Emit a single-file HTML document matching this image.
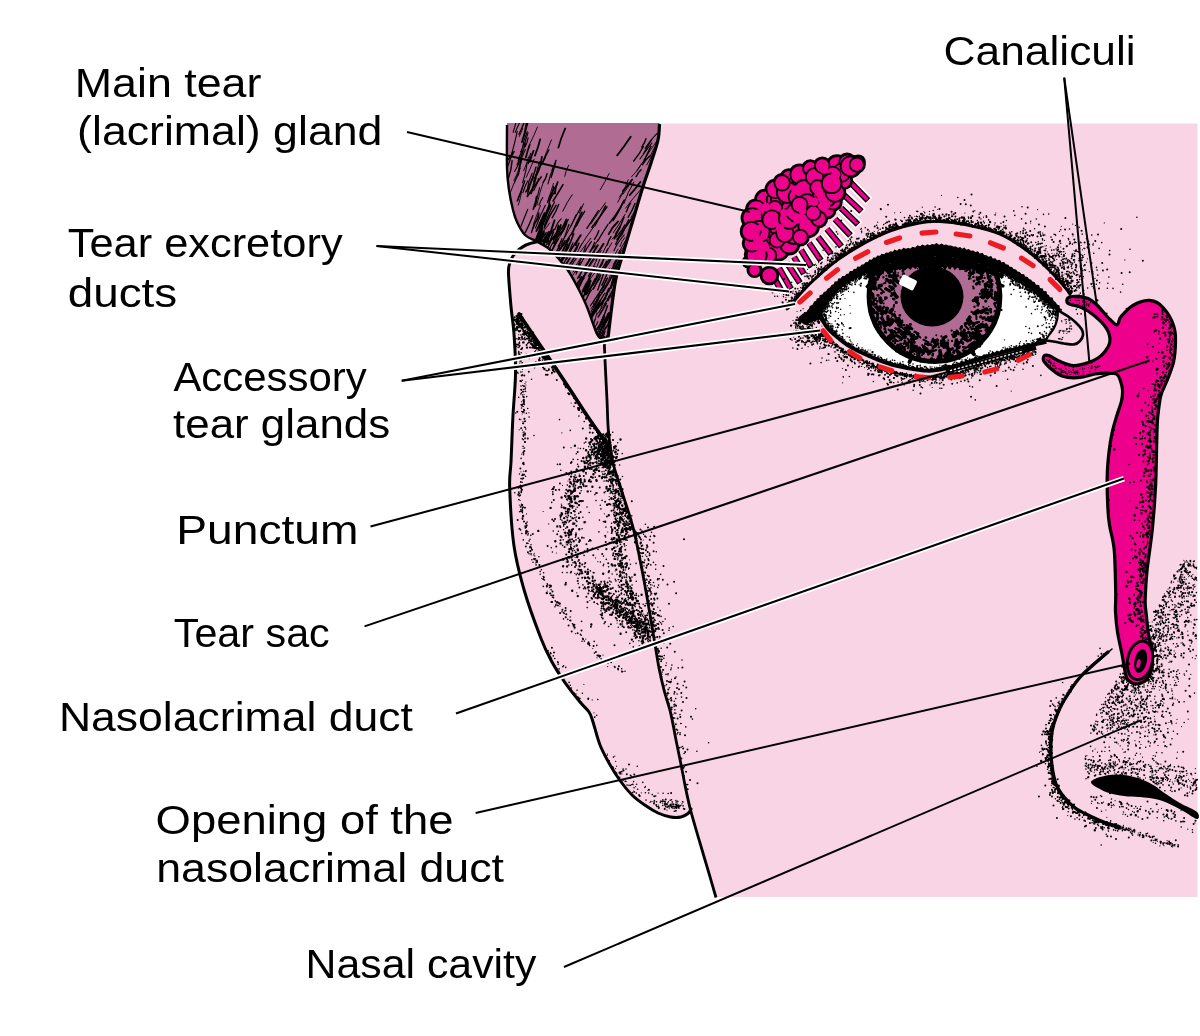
<!DOCTYPE html>
<html><head><meta charset="utf-8"><title>Tear system</title>
<style>html,body{margin:0;padding:0;background:#fff}svg{display:block}</style></head>
<body><svg width="1200" height="1036" viewBox="0 0 1200 1036">
<rect width="1200" height="1036" fill="#fff"/>
<defs><filter id="soft" x="0" y="0" width="1200" height="1036" filterUnits="userSpaceOnUse"><feGaussianBlur stdDeviation="0.45"/></filter></defs>
<g filter="url(#soft)">
<clipPath id="pk"><path d="M507 123.5L1197.5 123.5L1197.5 897L716 897L716 897.5L708 870L700 843L690.7 810.7L691 809L689.9 811L688 813.5L685 815.5L681 817L676.2 817.5L670.6 817L666.6 816.1L662.3 814.7L658 813L653.9 810.9L649.7 808.4L645.5 805.6L642.2 803.3L638.7 800.7L635.3 798L632 795L628.9 791.7L625.8 788.2L622.9 784.4L620 780.5L617.7 777.2L615.4 773.7L613.2 770.2L611.1 766.6L609 763L607 759.5L605.2 756.1L603.4 752.6L601.6 748.9L600 745L598.7 741.3L597.4 737.2L596.2 733L595 728.9L594 725.1L593 722L591.1 716.2L589 712L586.6 709L583.6 706L580 702L577.8 699.3L575.4 696.3L572.8 693L570.1 689.5L567.5 686L565 682.6L562.7 679.3L560.4 675.9L558.2 672.6L556.1 669.1L554 665.6L552 662L550.1 658.5L548.4 655.2L546.7 651.9L545 648.1L543.1 643.8L541 638.5L539.8 635.4L538.5 632.1L537.2 628.5L535.8 624.7L534.3 620.7L532.8 616.7L531.4 612.5L529.9 608.3L528.5 604.1L527.2 600L525.9 595.9L524.7 592L523.5 587.8L522.3 583.8L521.2 579.7L520.1 575.7L519.1 571.7L518.1 567.7L517.2 563.6L516.3 559.4L515.5 555.1L514.7 550.6L514 546L513.5 542.2L513 538.1L512.6 533.8L512.1 529.4L511.8 524.9L511.4 520.3L511.1 515.8L510.8 511.2L510.6 506.8L510.3 502.6L510.1 498.5L510 494.7L509.8 491.2L509.7 488L509.6 482.1L509.7 477.7L510 474.3L510.3 471L510.7 467.2L511 462L511.2 458.5L511.3 454.7L511.5 450.5L511.7 446.2L511.8 441.7L512 437.1L512.2 432.5L512.4 428L512.6 423.5L512.8 419.1L513 415L513.2 410.7L513.5 406.4L513.8 402.2L514.2 398.1L514.5 394.1L514.8 390L515 386L515.2 382L515.4 378L515.5 374L515.5 369.9L515.5 365.7L515.4 361.5L515.3 357.3L515.1 353.2L514.9 349.1L514.7 345L514.5 341.2L514.2 337.5L514 334L513.6 328.8L513.1 324.1L512.6 319.8L512 315.6L511.5 311.2L511 306.5L510.6 302.5L510.3 298.2L509.9 293.7L509.5 289.2L509.2 284.8L508.9 280.7L508.6 277L508.5 274L508.6 267.5L509.5 264L510.9 259.8L513 256L515.8 252.5L519 249.5L522.2 247L526 245L530.7 243.3L536 242L540.3 241.3L544.8 240.8L548 240.5L525 235L517 222L513 210L509 190L507 168Z"/></clipPath><path d="M507 123.5L1197.5 123.5L1197.5 897L716 897L716 897.5L708 870L700 843L690.7 810.7L691 809L689.9 811L688 813.5L685 815.5L681 817L676.2 817.5L670.6 817L666.6 816.1L662.3 814.7L658 813L653.9 810.9L649.7 808.4L645.5 805.6L642.2 803.3L638.7 800.7L635.3 798L632 795L628.9 791.7L625.8 788.2L622.9 784.4L620 780.5L617.7 777.2L615.4 773.7L613.2 770.2L611.1 766.6L609 763L607 759.5L605.2 756.1L603.4 752.6L601.6 748.9L600 745L598.7 741.3L597.4 737.2L596.2 733L595 728.9L594 725.1L593 722L591.1 716.2L589 712L586.6 709L583.6 706L580 702L577.8 699.3L575.4 696.3L572.8 693L570.1 689.5L567.5 686L565 682.6L562.7 679.3L560.4 675.9L558.2 672.6L556.1 669.1L554 665.6L552 662L550.1 658.5L548.4 655.2L546.7 651.9L545 648.1L543.1 643.8L541 638.5L539.8 635.4L538.5 632.1L537.2 628.5L535.8 624.7L534.3 620.7L532.8 616.7L531.4 612.5L529.9 608.3L528.5 604.1L527.2 600L525.9 595.9L524.7 592L523.5 587.8L522.3 583.8L521.2 579.7L520.1 575.7L519.1 571.7L518.1 567.7L517.2 563.6L516.3 559.4L515.5 555.1L514.7 550.6L514 546L513.5 542.2L513 538.1L512.6 533.8L512.1 529.4L511.8 524.9L511.4 520.3L511.1 515.8L510.8 511.2L510.6 506.8L510.3 502.6L510.1 498.5L510 494.7L509.8 491.2L509.7 488L509.6 482.1L509.7 477.7L510 474.3L510.3 471L510.7 467.2L511 462L511.2 458.5L511.3 454.7L511.5 450.5L511.7 446.2L511.8 441.7L512 437.1L512.2 432.5L512.4 428L512.6 423.5L512.8 419.1L513 415L513.2 410.7L513.5 406.4L513.8 402.2L514.2 398.1L514.5 394.1L514.8 390L515 386L515.2 382L515.4 378L515.5 374L515.5 369.9L515.5 365.7L515.4 361.5L515.3 357.3L515.1 353.2L514.9 349.1L514.7 345L514.5 341.2L514.2 337.5L514 334L513.6 328.8L513.1 324.1L512.6 319.8L512 315.6L511.5 311.2L511 306.5L510.6 302.5L510.3 298.2L509.9 293.7L509.5 289.2L509.2 284.8L508.9 280.7L508.6 277L508.5 274L508.6 267.5L509.5 264L510.9 259.8L513 256L515.8 252.5L519 249.5L522.2 247L526 245L530.7 243.3L536 242L540.3 241.3L544.8 240.8L548 240.5L525 235L517 222L513 210L509 190L507 168Z" fill="#f9d4e4"/>
<clipPath id="hc"><path d="M507 123L659.5 123L658 140L651 163L643 186.5L633 220L624.4 249L616.3 277L612 305L608 338L603 339L597 334L587 307L578 288L569 272L558 258L548 248L536 241L525 235L517 222L513 210L509 190L507 168Z"/></clipPath><path d="M507 123L659.5 123L658 140L651 163L643 186.5L633 220L624.4 249L616.3 277L612 305L608 338L603 339L597 334L587 307L578 288L569 272L558 258L548 248L536 241L525 235L517 222L513 210L509 190L507 168Z" fill="#b06c92"/><g clip-path="url(#hc)"><path d="M523.6 170.7Q527.3 163 528.5 157M530 143.5Q534.7 134.2 537.4 127.1M542 163.7Q546.9 150.7 551.4 139.9M509.8 194Q512.6 185.2 518.1 175.2M547.3 202.5Q550.3 194.1 553.5 183.4M519.2 136.6Q521.2 132.6 522.7 128.3M533.4 224.6Q536.1 216.3 540.5 205.4M526.2 177.4Q530.7 167.7 534 159.4M518.3 205.1Q520.9 197.1 521.6 191.3M513.9 180.7Q518.3 173 520.9 162.6M517.7 200.8Q520.6 192.6 523.8 183.7M514.2 183.1Q516.9 175.6 520.4 168M550.5 242.1Q551.5 237.1 552.7 233.1M564.7 176.3Q565.4 171.7 568.6 165.3M533 229Q536.8 220.6 539 212.4M565.1 236.9Q571.8 225.2 576 214.7M536.9 205.1Q539.3 193.2 543.1 182.7M534.3 184.3Q535.8 172.7 539.5 161.6M568.2 284Q571.5 276.1 577.6 268.1M591 316.6Q594.1 309 599 298.5M577.4 300.1Q584.9 290.8 589.6 281.5M570.7 263.5Q577.6 252.6 581.8 243.8M595.1 337.1Q600.3 327.5 603.8 319.1M597.6 297.7Q601.1 290.5 605.1 285.3M558.4 248.2Q559.7 242.5 563.6 238.9M577.8 255.4Q584 246.7 590.8 238.3M587 318.7Q592.3 312.6 595.7 306.6M539.1 239.4Q543 231.2 549.6 222.9M590.9 308.9Q594.1 305.8 594.3 301.2M583.9 276.5Q588.9 267.2 595.4 257.7M606.6 339.9Q607.1 335.6 610.5 332.1M598.9 337.6Q602.5 331.9 605.4 323.9M611.3 333.6Q615 330.3 615.6 325.7M561.2 234.3Q562.9 229.6 566.9 223.1M564.6 273.5Q571.2 263.4 576.6 254.1M577.6 287Q579.6 282.5 584.5 278.1M592.3 248.3Q595.2 245.3 598.2 239.4M553 248.2Q558.5 239.1 564.4 229.1M576 274.5Q579.4 266 583.6 258.5M612.4 258.8Q614.5 255.1 618 249.2M575.2 271.6Q581.3 263.2 584.9 256.3M612 301Q614.2 294.9 617 288.7M573 269.1Q578.3 262.8 582.2 255.8M588.1 295.3Q594.8 285.7 600.5 277.9M596.6 314.9Q603.5 306.9 609.3 296.6M584.9 288.5Q588.2 280.9 591.1 274.8M586.9 285.5Q589.7 278.8 594.5 273M534.3 242.7Q537.9 232.9 541.5 223.1M623.1 194.1Q627.8 187.2 630.8 183.1M594.1 321.8Q596 317.1 596.9 312.7M596.2 340.2Q597.8 336.7 600.1 331.2M602.6 257.5Q608 249.9 611.8 242.8M619.9 246.6Q621.5 241 624.8 237.6M595.8 260.4Q598.1 256.1 601.2 250.4M625.7 208.1Q632.9 198.3 640.7 189.5M608.9 292.1Q610.8 285.5 613.8 276.1M617.3 257.8Q621.7 248.9 627.4 242.2M615.8 266.5Q620.6 258 623.7 249.7M613.6 263.9Q616.2 259.8 620.7 254.5M603 301.3Q605.8 295.4 609.5 289.3M646.7 165Q652.1 154.6 658.9 143.7M617.7 202.3Q624.2 192.3 628.2 179.7M649.7 157.3Q652.5 150.7 657.5 142.5M619.3 197.2Q624.6 189.2 630.1 182M612.2 239.2Q615.3 236.1 618.5 230.6M636.9 170.5Q639.6 165.6 644.2 161M631.6 176.8Q638.5 170 643 161.9M600.3 189.7Q604.3 183 609.1 173.6M612.3 292.2Q614.7 284.1 616.8 275.9M602.9 291.3Q609.3 279.5 613.1 268.4M643.9 160Q650.1 150.4 657.2 140.5M588.6 343.7Q590.6 331.8 595.4 319.1M631.1 217.4Q636.3 208.3 640.8 200.7" stroke="#000" stroke-width="0.9" fill="none" stroke-linecap="round"/><path d="M548 183.9Q549.7 175.5 553.9 166.7M547.2 240.9Q548.3 235.2 551.8 230.7M525.6 192.1Q530.3 183.4 533.4 176.7M548.3 243.9Q550.8 239.1 553.8 231.9M533.6 190.6Q537 185.7 538.4 178.5M528.4 163.6Q528.5 158.9 530.7 153.2M515.2 132.4Q517.7 126.1 520.7 120.5M519.5 230.1Q523.7 219.2 527.8 209.2M547.1 248.8Q549.4 245 551.9 238.3M522.5 182.8Q526.3 171.1 527.2 162.2M513.1 132.3Q514.3 128.7 515.9 122.8M522 149.8Q523.5 140.6 527.1 131.6M511.2 155.9Q515 142.3 517.3 131.2M514.6 171.5Q521.4 159.3 525.4 149.4M522.8 192.8Q525.1 185.5 527.9 180.8M549.4 196.1Q552.7 192.8 553.5 186.6M551.8 170.4Q553.5 165.9 555.1 162.9M507.8 166.3Q510.4 157.3 514.3 151.4M534 179.3Q539.1 167.2 545 158.1M525.2 146.8Q527.2 142.9 528.2 137.7M534.8 242.3Q539.2 230.8 544.8 218.6M520.6 152Q525.5 143.1 528 132.8M547.7 202.2Q551.2 191.8 557.2 184.2M539 205.2Q540.8 200 542.8 197.7M526.9 191.7Q528.2 181.4 532.1 173.3M518.1 161.3Q518.9 156.2 522.2 151.1M517 164.7Q522.4 155 525.5 143.8M535.4 228.1Q540 215.8 545.3 205.2M535.4 206.7Q537.4 196.3 539.6 187.6M584.9 346.5Q588.6 334.8 592.7 324.3M590.9 311.8Q596.7 303.5 600.2 294.5M587 328.6Q589.6 321.4 591.5 314.7M599.5 312.1Q604.4 299.6 608.6 288.2M643.4 153.7Q647.5 146.6 653 137.8M613.9 250.7Q618.2 241.5 624.1 235M613.1 265.9Q617.8 256.9 619.6 250.6M599.7 342.4Q603.8 336.5 605.2 331M597.7 332.4Q600.9 325.4 604.5 316.7M589.3 338.6Q593.9 329.3 597.9 321.7M598.8 268.7Q604.3 258.1 607.6 248.9M645.1 148.3Q649.9 140 657.1 133.3M615.5 268.9Q619.2 259.3 620.7 251.9M639.9 159Q644.8 152.4 651.9 143M603.8 269.6Q606.1 263.6 610.6 257.1M612.6 276.9Q616.9 268.8 621.5 260.6" stroke="#000" stroke-width="1.1" fill="none" stroke-linecap="round"/><path d="M534.9 155.6Q538.3 147.4 540.1 139.5M533.3 209Q536.1 202.2 536.7 196.3M543.5 246.4Q544.8 239.6 548.4 232.1M538.4 244.1Q540 238.1 543.7 233.6M518.2 174.7Q519.4 165.6 521.7 158.7M521.9 142Q525.3 133.4 526.6 122.6M543 220Q547.2 210.8 549.7 204M531.1 193.4Q533.5 184.9 535.8 177.9M554.9 193.4Q555.2 186.7 557.7 182.1M554.7 236.9Q558 230.9 558.3 225.5M529.6 161.9Q531.6 155.5 533.5 150.9M536.3 175.4Q540.6 167.6 541.9 156.8M563.5 229.6Q566.2 226 566.7 221.2M536.4 231.1Q540.4 221.8 544.5 213.1M525.9 157.4Q527.7 150 529.7 144.8M553.2 239.4Q558.5 231.9 560.8 225M571.8 234.4Q576.5 222.4 581.8 212.4M534.8 248.8Q538.2 238.4 542.5 229.2M535.6 221.8Q538.4 219.1 538.7 213.8M541.3 229Q543.6 222.6 546.3 215.9M539.3 227.7Q546.3 215.9 550.4 205.6M558.4 147.6Q560.6 138.9 565.2 128.5M608.7 234.2Q612.6 226.5 618.1 221.5M584.7 332.3Q587.8 322.4 592.1 315.5M629.7 195.2Q635.4 189 640.4 182M600.7 322.9Q602.7 320.5 604 315.3M605.9 321.9Q607.4 318.7 609 312.9M594.7 255.9Q599.5 251.1 603.6 243.8M611 288.1Q613.5 276.1 616.9 266.6M614.4 238.6Q616.7 231.9 619.9 227.5M622.9 191Q627.5 186.3 632.2 179.6M614.4 270.1Q615.4 266.3 618 262.2M617.2 155.4Q624 146.7 630.7 136.7M585.2 291.4Q589 285.9 590 281.1" stroke="#000" stroke-width="1.8" fill="none" stroke-linecap="round"/><path d="M527.5 194.1Q530.3 183.2 534 173.3M551.1 177.5Q553.9 169.3 555.9 160.5M519 134.3Q521.3 129.8 524 122.7M548.9 203.7Q550.5 196 554.2 188.1M525.2 232.6Q529.2 225.1 532.8 215.7M543.2 182.3Q545.9 179.2 547 173.8M542 163.9Q545.1 157 548.8 149.9M528 190Q532.6 180.1 536 167.3M508.4 159.5Q512 154.3 512.7 151.5M594.5 239.3Q598 233.9 598.8 230.7M508.2 178.8Q511.4 170.4 512.1 160.6M531.5 232.6Q532.9 227 534.8 222.4M517.2 201Q521 192.1 524.8 180.8M518.5 197.1Q521.6 192.4 523.3 184.9M533.8 181.5Q537 174.5 538.8 167.6M523.5 137.3Q527.2 125 530.7 113M628.2 217.2Q632.7 209.9 635 203.5M615.7 244.3Q618.5 237.5 622.6 233.4M597.7 290Q602.2 278.4 606.1 265.7M633.7 161Q639.7 153.8 643.4 146.5M580 309.5Q586.7 300.6 590.7 288.8M641.8 147.1Q645.1 141.8 646 138.7M589.1 253.2Q591.6 248.8 595.1 246M636.1 176.6Q638.1 172.2 641.1 169.7M626.3 212Q628.2 206.6 630.5 203.2M643.5 162Q646.7 155.2 650.9 146.4M599.3 268.5Q602.8 263.9 604.5 257.2M642.6 164.7Q644.9 160.3 649.6 155.9M607.3 244.8Q608.7 240 611 236.7M615.9 233.5Q620.9 226.4 624 217.2M613.1 220.7Q619.2 211.6 623.2 201.9M601.9 285.3Q605.5 277.3 609.3 269M622.9 232.4Q625.7 225.4 628.7 219.8" stroke="#000" stroke-width="1.4" fill="none" stroke-linecap="round"/><path d="M598.1 317Q602.9 309.8 606.4 303.4M581.7 302.4Q584.7 292.1 589.6 280.9M535.6 247Q540.2 241.3 546.2 232.8M536.3 240.1Q538.5 234.8 541.9 228.2M599.4 339.1Q602.4 336.4 603.4 332M595.7 311.5Q599.8 304.6 606 298.1M599.8 333Q602.7 322.5 608.3 313.3M573.5 255.3Q574.4 250.4 577 246.3M573.4 254.4Q577.3 247.9 578.9 243.3M600.1 305.7Q604 299.3 607.4 293.8M547.9 244Q553.7 237 560.7 227.2M585.2 294.7Q587.9 289.3 590 284.2M551.4 251.6Q555.1 244.3 558.3 238.8M577 283.6Q579.5 280.4 581.5 276.8M558.8 264.9Q563.4 258.9 566.9 254.3M598.9 327.6Q603.6 318.1 607.5 305.7M543.8 243.2Q548.1 237.6 554.2 229.3M593.4 289Q597.4 280.6 600.6 275.1M606.6 337.2Q612.2 325.8 617.3 316.5M560.4 261.4Q563.6 254 568.8 246.8M561.2 262.3Q563.6 252.6 568 244M609.2 322.8Q612.5 314.5 616.1 308.4M612.7 315.5Q617.1 307.3 622.2 296.5M530 249.4Q537 239.1 543.5 231.2M554.3 256.8Q561.1 249.3 565 240.8M599.7 340.5Q601.8 335.9 604.1 330.9M551.9 262.1Q554.5 254.4 559.6 245.8" stroke="#000" stroke-width="1.5" fill="none" stroke-linecap="round"/><path d="M590.2 316.8Q594.8 309.7 600 300.2M612.9 315.4Q615.2 308.5 619.8 304.1M546.5 244.4Q547.9 240.6 550 235.1M576.1 272.7Q577.6 267.4 579.8 264.2M588.4 276.3Q590.9 270.7 595.1 266.4M564.1 268.5Q570.6 257 576.3 248M546.6 259.5Q552.8 249.7 556.3 240.6M556.9 255.1Q559.4 252 559.9 247M595.9 311.1Q600.4 303.6 605.4 297.5M598.5 305.5Q600.6 298.7 604.8 293.1M563.6 264.4Q567.7 254.6 572.9 242.9M610.9 297.4Q614.1 292.5 618.8 286.2M560.9 245.7Q565.5 235.8 568.9 224.5M597.5 241.4Q602.2 233.2 608 224.3M606.1 322.6Q609 316.2 613 312.5M596.3 343.3Q598.7 338.1 603.2 330.5M570.3 227Q575.5 216.9 581.2 206.7M577.9 265.4Q583.2 256.1 585.8 245.4M604.3 323.2Q611.6 313.4 618.5 304.7M568.3 273.7Q571.1 264.7 576.1 258.6M558.2 246.3Q560.6 242.8 561.9 238.6M555.1 229.1Q557 222.6 561.2 218.9M604.6 303.8Q607.4 300.9 608.9 296.1M590.4 305.8Q596.2 297.6 602.7 287.1M579.4 277.5Q580.9 272.8 583.8 266.6M565.6 269.5Q570.5 263.4 576.2 254.4M548.6 250.8Q551.2 245 553.6 241.5M593 283.3Q597.4 277.1 598.9 268M608.2 323.1Q611.4 316.9 613.5 311.8" stroke="#000" stroke-width="1.2" fill="none" stroke-linecap="round"/><path d="M582.7 291.1Q585.2 284.6 589.6 278.9M603.2 327.3Q607.2 316.9 613.9 309.3M546.2 242.1Q551.2 232.5 554.5 220.3M553.8 243.2Q557.5 235.6 563.2 230.3M590.2 320.5Q594.7 310.7 601.8 303.4M578.8 287.7Q583.1 278.7 588 267.6M539.7 239.8Q540.6 236.5 544 232M575.7 245.2Q577.3 239.3 580.8 235.2M584.3 291.1Q588 285.9 590.7 281M596.1 330.4Q600.8 324.8 603.5 317.3M604.7 329.3Q610.1 321.3 617.9 312.3M586.1 294.3Q591.9 287.1 595.2 279.2M586.9 320.8Q594 312.3 598.9 302.7M607.9 300.4Q610.5 293.6 613.3 289.7M597.9 336.3Q601.9 328.7 605.1 319.7M559.7 257.3Q564.3 247.3 569.1 238.5M611.4 325.3Q616 316.5 623.3 305.8M542.9 241.5Q545.9 235.6 549.7 231.9M589.4 260Q593.5 251.6 597.7 245.3" stroke="#000" stroke-width="1.9" fill="none" stroke-linecap="round"/><path d="M594.3 304.4Q597.4 298.1 599.9 292.8M592.6 268.1Q596.1 262.1 599.4 253.2M609.5 272.3Q615.7 263.3 620.9 253.5M593.1 307Q598.3 298.4 603.9 290.6M579.5 213.2Q580.8 209.7 583.5 203.8M562.7 211.3Q567.2 201.7 572.2 194.7M618.5 253.7Q621.7 246.2 626.9 238.5M565.6 263.8Q570.3 257.1 575.3 249.7M579.4 248.1Q585.9 237 593.9 226.6M613.3 232.7Q619 224.8 625 214.4M590.9 223.9Q598.7 212.1 605.5 202.7M623.9 203.5Q627.6 192.3 633.9 182.1M595.7 269.5Q599.8 257.8 606.7 245M572.9 272.1Q577.5 265.9 580.7 261.8" stroke="#000" stroke-width="1" fill="none" stroke-linecap="round"/><path d="M601.7 292.9Q608.7 284.2 613.2 272.6M593.2 284.9Q599 274.1 606.9 261.2M592 227.3Q599.3 217.8 606.9 206.9M609.4 223.2Q617.9 213 624.3 200.1M553.1 201Q558.2 193.1 563 184.7M606.2 293.9Q611.9 286.4 615.3 278.4M564.7 254.2Q570.3 243.7 573.7 233.7M566.6 259.3Q570.3 249.7 576.9 240.6M527.3 196.5Q533.5 187.2 541.1 177M544.2 227.9Q548.9 215.8 556.1 205.4M617.1 239.5Q623.9 229.4 632.5 217.2M602.7 287.7Q605.2 282.4 607.3 278.2M582.7 270.6Q588.3 262.8 594.1 252" stroke="#000" stroke-width="1.6" fill="none" stroke-linecap="round"/><path d="M594.9 225.9Q601.3 214.4 605.5 205.9M576.5 226.1Q579.1 219.4 584.7 211.3M586.9 228.4Q592.7 219.5 598.4 210.6M585.2 272.6Q590.6 262.3 596.2 255M601.7 271.2Q608 265.5 611.5 257.9M588.2 280.1Q590.2 274.4 592.8 271.1M555.9 254.4Q565 243.9 572.1 232.8M575.8 287.2Q582 277 590.4 268.3M544.6 225.3Q548.1 214.8 554.5 202M577.6 278.4Q583.2 268.7 591.6 256.8M550.1 199.4Q552.5 194.6 555.5 190.8M583 255.7Q585.8 249.2 591.3 241.7M561 229.5Q563.8 225.1 566.3 219.1M588.7 255.3Q591.3 249.5 594.8 242.3M611.7 272.3Q615.9 262.3 619.5 253.1M553.6 240.2Q560 231 568.2 219.5M552.1 217.8Q556.5 210.9 558.8 204.3M615.8 237.2Q621.6 231.8 624.9 224.9" stroke="#000" stroke-width="1.3" fill="none" stroke-linecap="round"/></g><path d="M507 125C507 132.2 506.7 157.2 507 168C507.3 178.8 508 183 509 190C510 197 511.7 204.7 513 210C514.3 215.3 515 217.8 517 222C519 226.2 521.8 231.8 525 235C528.2 238.2 532.2 238.8 536 241C539.8 243.2 544.3 245.2 548 248C551.7 250.8 554.5 254 558 258C561.5 262 565.7 267 569 272C572.3 277 575 282.2 578 288C581 293.8 583.8 299.3 587 307C590.2 314.7 594.3 328.7 597 334C599.7 339.3 601.2 338.3 603 339C604.8 339.7 607.2 338.2 608 338" stroke="#000" stroke-width="2.4" fill="none" stroke-linejoin="round"/><path d="M659.5 124C659.2 126.7 659.4 133.5 658 140C656.6 146.5 653.5 155.2 651 163C648.5 170.8 646 177 643 186.5C640 196 636.1 209.6 633 220C629.9 230.4 627.2 239.5 624.4 249C621.6 258.5 618.4 267.7 616.3 277C614.2 286.3 613.4 294.8 612 305C610.6 315.2 608.7 332.5 608 338" stroke="#000" stroke-width="3.2" fill="none"/>
<g clip-path="url(#pk)"><path d="M627.1 612.6h0M604.2 457.8h0M593.7 586.3h0M625.7 617.2h0M567.7 561.4h0M638.1 614h0M571.1 534.3h0M570 505.5h0M584.8 463h0M583.7 470.6h0M613.4 606.3h0M571.2 498.7h0M583.5 471.2h0M627.9 587.7h0M557.3 526.4h0M571.3 491.5h0M560.7 536.4h0M567.7 511.8h0M560.5 515.4h0M600.8 454.8h0M538.3 530.9h0M635.4 635.1h0M608.5 599.7h0M588.7 587.1h0M574.8 477.6h0M642.1 611h0M574.2 490.1h0M617.1 606.5h0M580.3 570.1h0M623.6 617.8h0M576.7 545.5h0M568.6 542.5h0M591.2 476.9h0M574.3 523.6h0M615.3 602.4h0M569 509.2h0M574.8 496.2h0M577.2 557h0M642.7 622.7h0M579 505.1h0M561.6 497.5h0M550.6 507.9h0M637 626.5h0M563.1 566.3h0M597.2 465.7h0M654.4 613.8h0M585.3 577.9h0M631.9 639.6h0M597.8 452.3h0M586.4 457.5h0M566.8 542.2h0M579.9 540.6h0M568.7 497.5h0M616.3 610.8h0M634.6 633.2h0M590 540.2h0M569.6 486.6h0M569 530.7h0M592.6 580.9h0M620.3 615.3h0M574.8 562.3h0M572 506h0M577.1 496.3h0M591.3 624.5h0M587.9 573.7h0M570.7 532.2h0M565.8 535.6h0M631 620.7h0M565.2 532.8h0M571.8 501.8h0M583.3 458h0M574.6 499.2h0M569.2 497.1h0M571 548.2h0M577.7 549.5h0M565.4 508.2h0M612.9 612.5h0M598.6 453.9h0M567.1 566.4h0M634.8 618.9h0M649.2 631.1h0M585 466.8h0M602 598.7h0M563.8 507.6h0M569 551.9h0M627.3 622.8h0M568 491.3h0M596.2 457.4h0M573.9 481.1h0M584.7 481.2h0M601.9 615.1h0M568.8 535.3h0M575.7 502.7h0M603.2 573.8h0M588 572.2h0M568.6 540.8h0M588 461.1h0M627.3 602.7h0M636.5 630.9h0M620.5 611.8h0M628.3 622.9h0M592.4 451.7h0M586.2 438.5h0M570.4 482.3h0M564.2 518.1h0M592.7 477.6h0M546.8 593.1h0M572.2 590.7h0M568 509.4h0M648.2 634.6h0M573.7 541.3h0M573.5 484.8h0M577.8 596.1h0M569.3 495.9h0M590.8 481.6h0M615.5 603.8h0M623.3 610.9h0M565.2 521.9h0M571.7 553.7h0M620.2 606.2h0M588 577.4h0M579.5 566.3h0M597.7 454.4h0M657.8 615.1h0M569.4 549.2h0M586.1 450.3h0M595.4 469.5h0M584.5 522.2h0M580.9 482.4h0M567.9 533.1h0M569.2 535.2h0M628.8 627.4h0M581.2 501.1h0M571.1 476.6h0M569.2 557.5h0M575 490.2h0M643.4 632.3h0M562.1 514h0M640.1 637.5h0M589.8 455.9h0M587.7 491.4h0M647.8 632.5h0M636.8 630.4h0M574.9 498.3h0M593.8 596.3h0M592.9 463.2h0M560.6 543.4h0M565.5 584.4h0M589 481h0M563.2 559.5h0M583.1 484.4h0M637.8 627h0M579.1 517.9h0M615.4 476h0M555.3 541.3h0M630.3 604.3h0M581.7 571.7h0M617.6 611.9h0M600.9 592.9h0M610.7 588.7h0M622.1 598.6h0M587 581.2h0M608.6 607.5h0M579.3 529.3h0M553.2 488.8h0M580.7 480.2h0M606.3 610.9h0M585.4 571.7h0M579.7 476h0M616 501.9h0M604.9 477.3h0M604.3 449.5h0M632.9 592.8h0M614.6 558.9h0M627.9 587.8h0M621 551.6h0M632.9 593.2h0M626.4 533.6h0M611.2 458h0M620.3 564.2h0M619.9 540.8h0M625.8 600.8h0M622.7 520.2h0M594.2 449.2h0M607.4 468h0M618 525.8h0M612.6 565.5h0M624.7 536.1h0M616.9 543.2h0M632.5 597.2h0M609.9 464.4h0M617.3 541.5h0M609 489.1h0M618.8 536.8h0M620.1 571.8h0M614.3 471.8h0M605.2 521.7h0M607.8 490.8h0M608.8 515.3h0M615 490.6h0M620.4 512.4h0M620.2 508.8h0M622.6 509.3h0M616 554.3h0M621.2 580.7h0M627.5 586.3h0M630.8 594.2h0M611.6 483.2h0M622.5 572.5h0M615.7 522.3h0M606.8 462.5h0M651.9 604.5h0M619.3 503.8h0M601.8 462.5h0M611.5 453.4h0M638.4 614.7h0M626.3 563.4h0M611.7 564.4h0M615.8 522.1h0M615.6 451.7h0M627.7 604.2h0M631.9 617h0M615.1 497.5h0M625.8 511h0M621.9 563h0M617 513.6h0M615.9 480.1h0M647.2 619.4h0M611.4 472.5h0M621.6 585.1h0M596.6 480.7h0M620.3 548.7h0M638.9 618.1h0M633.2 614.3h0M615.3 503.2h0M626.2 528.2h0M645.5 631.5h0M624.7 600.2h0M616.3 569.6h0M641.6 594.8h0M635.7 598.2h0M609 466.9h0M602.6 476.9h0M622.4 489.2h0M593.4 474.3h0M631.3 590.9h0M618.4 500.8h0M641.7 567h0M603.8 454.2h0M626.4 531.1h0M630.1 593.6h0M623.2 566.7h0M632.6 605h0M615.1 565.5h0M650.5 618.3h0M626.5 556.1h0M625.9 567.3h0M601.5 463.8h0M604.9 461.6h0M643.6 629.6h0M622.8 566.8h0M614.4 538.2h0M626.1 582.6h0M598.4 448.5h0M640.1 620.7h0M621.5 519.2h0M628 590.7h0M603.2 464.7h0M609.4 479.7h0M596.7 469.9h0M612.3 529.8h0M636.9 600.7h0M611.5 491.8h0M625.2 510.3h0M614.6 465.1h0M634.8 574.8h0M592.4 486.8h0M606.4 463.7h0M612.2 549.3h0M625.7 539.6h0M620.6 624.2h0M614.1 547.8h0M602.7 458.4h0M623 512.9h0M623.4 524h0M610.5 455.1h0M623.8 538.8h0M646.4 628.3h0M606.4 549.1h0M616.9 513.8h0M631.3 588.2h0M619.8 483.6h0M624.9 557.5h0M609 473.2h0M625 529h0M645.7 629h0M623.2 558.3h0M613.8 538.8h0M626.7 592.8h0M622.3 505.5h0M606.4 452h0M635.1 634.5h0M597.5 451.2h0M637.6 621.2h0M620.3 517.3h0M619.2 525.6h0M635.7 621h0M614.5 447.8h0M617.5 530.1h0M608.9 465.8h0M634.6 534.2h0M607.1 504.8h0M620.4 574.9h0M602 478h0M635.1 542.3h0M635.4 603.3h0M616.9 539.4h0M626.3 524.5h0M606.7 462.6h0M632.9 598.1h0M606.6 488.4h0M624.6 525.9h0M620.4 486.7h0M621.5 494.1h0M618.2 505.8h0M602.3 452.4h0M593.9 470.8h0M606.5 453.5h0M586.4 457.4h0M606.8 450.7h0M599.6 434.5h0M610.2 460.3h0M594 453.8h0M611 463.3h0M600 450h0M614.2 446.9h0M605.1 439.1h0M610.6 462.3h0M600.3 444.6h0M601.1 459.4h0M596.2 438.8h0M604.3 456.1h0M589.4 442.8h0M608.9 462.3h0M606.1 464h0M600.3 446.1h0M606.5 465.4h0M613.5 457h0M605.5 466h0M595.4 452.2h0M611.1 463h0M620.5 439.5h0M607.7 457.8h0M610.9 454.8h0M616.2 457.9h0M603.2 444.1h0M600.8 454.5h0M611.9 459.8h0M592.3 440.3h0M611.4 462.5h0M607.1 434.7h0M606.1 453.6h0M605.2 466.7h0M604 442.9h0M612.3 459.1h0M590.4 442.1h0M596.5 437.7h0M600.4 439h0M605.7 445.2h0M608.2 457.3h0M606.1 459.8h0M598 436.8h0M605.9 445.3h0M588.9 454.8h0M602 443.1h0M613 456.4h0M601 463.9h0M615.7 446.2h0M595.5 439.3h0M596.6 468.4h0M599 458.1h0M606.1 452.7h0M605.2 450h0M606.6 446.3h0M594.2 453.7h0M606.7 453.3h0M596.4 444.1h0M610.5 445.3h0M609.9 453.9h0M607.3 461.1h0M604.3 455.8h0M604.9 450.6h0M605.6 440.7h0M611.4 451.6h0M645 618.8h0M648 636h0M606.9 586.7h0M643 638.5h0M624.3 614.5h0M635.9 626.1h0M637.1 627.1h0M592.2 590.7h0M615.1 608.1h0M644.9 629.3h0M608.8 603.6h0M607.2 589.9h0M606.1 603.2h0M633.4 622.4h0M598.5 584.9h0M599.9 588.9h0M625.9 619.4h0M599 592.9h0M604.1 598h0M639.7 623.5h0M641.8 641.4h0M619.8 611h0M632.4 616h0M623.4 608.9h0M603.8 591.1h0M598.4 588.3h0M636.8 636.9h0M633.5 615.9h0M619.1 616.7h0M649.8 636.7h0M630.7 619.8h0M635 626.4h0M592.4 591.1h0M598.6 590.3h0M650 640.4h0M597.4 598h0M652 635h0M611.4 614.8h0M620.6 633.7h0M617.4 604.9h0M602.6 593.5h0M604.6 609.5h0M602.8 595.7h0M603.4 587h0M610.7 608.1h0M619.9 613h0M609.2 593.2h0M601.2 602.8h0M615.9 613.6h0M605.3 604h0M642.9 641.2h0M601.3 589.1h0M635.1 626.6h0M593.9 595.1h0M647.3 638.1h0M621.9 611.5h0M635.5 620.9h0M602.4 603.4h0M615.8 607.5h0M631.7 611.9h0M617.3 600.3h0M637.5 628.6h0M608.8 598.5h0M606.3 597.3h0M645.1 635.6h0M631.6 591.1h0M616.4 600.6h0M626.5 615.7h0M615.9 605.9h0M638.5 625.5h0M600.8 590.2h0M611.5 608.1h0M658.8 651.2h0M618.2 491.2h0M617.4 476h0M630.1 528.6h0M608.6 467.3h0M616.8 491.8h0M597.4 437.7h0M609.1 439.4h0M619 493.5h0M628.2 518.6h0M610.3 479.6h0M616 476.4h0M603.2 434.5h0M631.3 527.3h0M620.3 502.3h0M609.6 442.9h0M603.4 455.3h0M606.4 446.5h0M623.9 508.9h0M599.1 470.9h0M617.5 507.2h0M607.6 454.6h0M607.9 433.5h0M611.8 471.5h0M616.7 491.5h0M609.8 471.8h0M613 474.9h0M629.9 527.2h0M599.4 476.1h0M612.3 478.8h0M607 435.2h0M621.5 513.9h0M629.6 524h0M624.3 510.7h0M604.5 440.7h0M611.8 456.4h0M608.5 471.7h0M609 449.9h0M621.7 509.4h0M569.2 394.1h0M578.5 408.9h0M603.5 442.6h0M604.2 450.2h0M522.5 327.4h0M598.2 431h0M523.5 342.4h0M564.2 384h0M527.5 333h0M584.3 412.5h0M535.9 347.9h0M521.8 337.6h0M543.9 358.4h0M522.8 319.9h0M528.3 333.1h0M521.1 317.7h0M534.4 345.8h0M603.4 443.7h0M578.9 409.9h0M525.5 323.4h0M605 449.7h0M562.8 378.7h0M521 317.8h0M591.9 425.8h0M517.8 324.1h0M544.4 369h0M590.1 425.3h0M517.3 327.8h0M606.8 442.3h0M574.9 445.8h0M552.5 367.3h0M575.5 402.9h0M514.5 319.8h0M604 451.5h0M596.6 456.8h0M517.5 321.8h0M519.2 325.5h0M517.9 324h0M543.8 357.4h0M544.4 363.8h0M517.8 318.8h0M542.7 357.2h0M518.5 317.4h0M545.6 358.9h0M522.3 321.2h0M534.4 347.8h0M533.1 347.2h0M535.6 344.3h0M517.1 321.4h0M528 333.1h0M520.2 323.6h0M520.6 319.8h0M545.6 355.3h0M523.2 334.3h0M521.1 320.4h0M529.2 337.6h0M527 347.6h0M544.9 360.6h0M522.2 324.3h0M539.7 352.8h0M539.4 360.6h0M540.4 352.6h0M531.3 333.7h0M532.6 337.4h0M532.7 338.4h0M537.4 344.8h0" stroke="#000" stroke-width="2.4" stroke-linecap="round" fill="none"/><path d="M595 580.4h0M568.4 495.9h0M567.1 559.6h0M608.8 609.7h0M580.6 553.6h0M593.4 589.2h0M631.5 623.2h0M622.4 612.1h0M564.6 546.9h0M595 594.5h0M606.9 608.9h0M577.7 581h0M560 464.2h0M629 622.5h0M555.8 489.9h0M565.9 582.7h0M570.1 506.5h0M638.5 633.7h0M594.3 584.9h0M608.1 588.9h0M573.8 511.1h0M589 582.7h0M597.8 588.8h0M582.9 501h0M637 623.9h0M590.2 449.7h0M620.9 612.5h0M652.7 622.6h0M608.2 563.2h0M586.5 460.2h0M590.2 463.1h0M574.3 497h0M575.9 481.5h0M578.4 466.4h0M634.3 623.1h0M560.4 527h0M556.3 546.6h0M625.6 604.8h0M573 523.9h0M532.8 533.9h0M569.9 539.6h0M647.3 624h0M580.6 512.1h0M593 583.7h0M587.1 574.1h0M581.9 537.8h0M572.1 539.3h0M585 467.8h0M592.7 577.4h0M565.7 513.5h0M578.4 569.6h0M560.5 540.2h0M586.4 544.3h0M590.3 465.2h0M564.9 495.7h0M581.5 461.1h0M651.6 623.1h0M651.5 623.8h0M572.3 518h0M575.7 552.2h0M629 619.5h0M620.2 602.5h0M580.8 486.7h0M584.6 566.7h0M576.6 469.6h0M600.7 594.5h0M563.8 447.4h0M599 463.5h0M571.1 493.4h0M557.2 534.3h0M601.5 608.4h0M577.2 481.9h0M561.6 507.2h0M603 591.5h0M617.6 601.4h0M578.4 538.2h0M566.3 489.8h0M629.1 598h0M579.2 486.8h0M605.6 591.7h0M592.6 576.4h0M647.1 615.3h0M571.4 548.3h0M602.2 613.2h0M568.6 512.1h0M575 567.1h0M624.7 614.4h0M634.8 616.2h0M591.6 446.8h0M554 487h0M575.2 502.7h0M597.9 450.1h0M592.1 598.7h0M566.3 554.6h0M572 492.9h0M622.5 626.3h0M601.8 606.2h0M567.8 513.6h0M573.1 529.1h0M606.3 599.9h0M593 449.5h0M568.1 508.9h0M604 603.2h0M640.1 607.7h0M602.2 554h0M570.9 462.9h0M583.8 476.1h0M580.8 478.9h0M576.1 534.4h0M599 597.4h0M582.2 564.5h0M605.1 458.5h0M610.4 599.9h0M603.4 605h0M587.5 548.9h0M569.4 499h0M616.7 610.3h0M629 620.4h0M602.5 460h0M568.3 490.7h0M639.9 633.8h0M576.9 469.7h0M571.3 471.5h0M566.2 522.6h0M639.4 646.3h0M555 519h0M576.3 525.7h0M577.7 452h0M577.1 503.6h0M559.9 483.5h0M571.9 529.8h0M612.8 588h0M561.6 537.2h0M597.2 591.5h0M581.1 573.5h0M552.9 494.3h0M553.8 500.1h0M574.4 546.6h0M578.6 480.7h0M568.2 557.3h0M575.8 563.2h0M588.4 464.4h0M616.5 602.6h0M619.4 595.3h0M579.8 563.6h0M571.1 483.3h0M577.7 479.7h0M567.4 520.2h0M569.7 479.5h0M588.3 451.9h0M632.6 622.7h0M591.9 587.4h0M570.7 572.4h0M645.2 619.6h0M633.3 613.1h0M589.6 479.8h0M620.8 565.8h0M593.3 555.2h0M631.7 618.5h0M559.2 489.8h0M612.1 599.7h0M587.7 587.4h0M642.7 631.7h0M623.2 611.1h0M580.1 570.6h0M648.6 621.1h0M576.1 565.2h0M579.1 574.5h0M590.8 458.7h0M588.7 578h0M634 623.1h0M570.4 483h0M608.6 572.2h0M562.8 522.5h0M585.3 562.9h0M589.4 578.6h0M609.6 603.2h0M571.4 473.7h0M605.3 597h0M634.2 625.9h0M627 620.5h0M578.1 488h0M566.9 499.3h0M592.2 450.7h0M607.9 602.7h0M574.4 488.3h0M616.5 608.2h0M571.4 557.7h0M579.4 587.4h0M591.8 468.9h0M552.3 519.5h0M579.1 501.6h0M570.7 544.8h0M574.2 483.3h0M574.8 511.5h0M567.3 517.6h0M585.9 472.7h0M571.6 531.6h0M585.8 486.3h0M628.7 604.7h0M597.9 596h0M588.7 582.6h0M600.9 456.6h0M573 518.6h0M584.6 461.8h0M603.2 588h0M578.2 496.4h0M583.8 485.9h0M587.9 467.3h0M618.7 609.4h0M569.6 479.5h0M643.2 635.8h0M553.8 521h0M586.4 596.7h0M598.1 457.3h0M561.6 513.1h0M569.2 490.3h0M584.7 587.3h0M573.1 491.7h0M604.4 581.5h0M591.5 454.8h0M578.9 560.1h0M605.1 622h0M601.8 592.1h0M571.6 461.9h0M582.2 470.4h0M572.4 507.7h0M585.4 588.5h0M589 590.7h0M622.6 603.1h0M587 462.8h0M579.9 493.2h0M632.3 617.7h0M584.6 479.6h0M547.6 545.9h0M610.9 624.3h0M609.1 571.1h0M571.3 500.3h0M572.2 560.1h0M588.3 593.6h0M618 514.1h0M579.9 501.1h0M582.2 577.7h0M582 537.4h0M567.2 526.9h0M587.9 569.6h0M571.1 512.9h0M578 550.4h0M575 490.8h0M582.7 470.4h0M566.3 472.9h0M569.4 530.3h0M579.1 542h0M588.2 584h0M590.3 583.3h0M572.5 550.7h0M622.5 621.3h0M609.4 609.7h0M612.5 600.5h0M605.6 459.5h0M638.1 601h0M645.7 628.1h0M625.7 530.8h0M617.4 499.7h0M620.8 548.2h0M620.3 479.4h0M633.3 598h0M615.5 518.9h0M630.8 580.2h0M615.9 475.4h0M655.3 631h0M596.1 493h0M615.4 551h0M620.5 560.8h0M625.3 549.7h0M642.6 637.4h0M637.9 625.2h0M645.7 617.6h0M626.8 583.1h0M630.8 580.9h0M619.9 542.3h0M623.3 584.6h0M611.7 533.1h0M652.3 628.3h0M626.4 612h0M595.1 451.8h0M616.6 504.4h0M622.4 531h0M623.6 539.4h0M605.4 463.3h0M645.4 627.5h0M605.5 448.5h0M605.9 463.6h0M646.1 623.5h0M595.2 472.5h0M614.8 541.9h0M631.8 501.2h0M632.8 593.5h0M613.4 499h0M645.3 626.3h0M618.1 553.6h0M634.2 605.2h0M632.2 608.5h0M600.4 447.8h0M602 447.8h0M630.2 591.2h0M626.9 594.9h0M629.4 616.6h0M622.9 530h0M620.9 562.9h0M606.8 486.7h0M627 565.5h0M658.4 623.9h0M624.1 572.7h0M626 592h0M619.1 507.7h0M613.5 553.2h0M614.9 469.8h0M606.9 516.4h0M605.1 501.8h0M583.6 461.5h0M613.5 503.7h0M615.8 492.6h0M609.6 469.1h0M630.3 578.3h0M608.2 466.8h0M595.1 458.6h0M621.5 567.7h0M613.5 510.3h0M614 471.9h0M609 451.6h0M621 609.3h0M644.5 632.2h0M626.6 529.5h0M623 589.1h0M632.8 599.7h0M622.2 554.4h0M612.3 539.8h0M632.5 607.6h0M615.4 518.3h0M626.4 577.3h0M646.5 625.6h0M618.5 555.9h0M631.4 621.8h0M627.2 586.7h0M609.9 486.6h0M640.3 614.5h0M625.3 591.1h0M631 596.3h0M590.7 462.8h0M632.3 606.1h0M627.1 584.6h0M633.4 621.7h0M621.8 546.8h0M619.1 566.1h0M604.6 462h0M604.4 492.6h0M604.7 452.2h0M617 501.5h0M628.3 597.4h0M647.3 630.7h0M617.4 521.2h0M615.1 528.5h0M614.4 512.4h0M610.3 467.4h0M627.7 584.5h0M619.7 521h0M608 473.2h0M620.5 576.1h0M645.1 623.7h0M621.3 555.4h0M620.2 522h0M612.1 481.5h0M652.2 627.2h0M644 624.2h0M619.7 539.4h0M632 622.6h0M621.4 590.3h0M616 519.8h0M616 492.3h0M616 601.9h0M618.7 537.7h0M612.2 472.8h0M624.2 544.1h0M622.5 528.3h0M621.3 593.8h0M602.6 447.1h0M626 534.3h0M636.2 595.3h0M604 448.6h0M617.3 524.5h0M621.2 517.8h0M650.8 631.5h0M616.6 533.6h0M611.2 482.3h0M609.9 485.7h0M600.8 454.2h0M612.1 531.3h0M628.1 584.6h0M626.7 528.2h0M628.9 568.2h0M616.4 506.5h0M620.8 517.4h0M644.6 621.5h0M612.6 479.8h0M612.1 480.9h0M622.5 519.2h0M639.4 623.2h0M609.7 542.8h0M621.4 587.6h0M646.4 629.2h0M603.6 465.5h0M611.7 542.6h0M630.7 593.4h0M619.6 538.5h0M619.9 550.9h0M613 555.3h0M607.1 460.1h0M619.6 549.2h0M620.6 502.5h0M618.6 494.5h0M605.2 535.7h0M648.5 622.9h0M621.6 565.3h0M621.6 604h0M645.6 619.8h0M645 605.7h0M620.2 563.3h0M630 602.8h0M615 452.4h0M611.5 499h0M598.5 458.4h0M605.8 470.2h0M599.7 487.6h0M611.2 527.1h0M596.4 458.2h0M589.9 469h0M605.8 447.9h0M648.9 624.6h0M616.3 515.3h0M614.5 507.4h0M620.3 484.3h0M641.5 621.8h0M645.2 631.6h0M621.5 531.1h0M602.1 451.6h0M632.3 612.4h0M617.4 454.1h0M626.2 574h0M620 554.5h0M618.6 522.5h0M619.9 503h0M618.4 535.2h0M618.7 524.1h0M622 535.7h0M607.8 474.5h0M613.5 479.2h0M636.8 610h0M612.7 493.4h0M616 591.5h0M634.5 603h0M605.1 451.4h0M618.9 514.4h0M627.1 563.4h0M646.9 627.4h0M596.3 479.8h0M619.4 587.1h0M614.8 505.4h0M605.7 542h0M616.8 535.1h0M631.3 598h0M645.3 615.7h0M617.4 597.5h0M630 586.4h0M619.8 576.4h0M619.7 551.6h0M639.2 603.7h0M623.5 570.1h0M639.2 628.2h0M626.6 582.5h0M632.1 613.8h0M622.2 578.1h0M619.7 512.5h0M614.9 527.7h0M648 631.4h0M617.3 554.5h0M595.1 447.4h0M616.9 456.8h0M598.6 445h0M604.8 446.3h0M606.5 444.6h0M607.5 452.9h0M604.8 462.4h0M605.1 457.5h0M604.7 446.8h0M591.4 441.1h0M611.9 460.7h0M598.1 438.4h0M601.4 444h0M608.2 460.9h0M595.6 455.9h0M602.1 450h0M590.9 441.8h0M598.7 445.6h0M595.3 448.3h0M613.1 440.1h0M608.4 451.4h0M601 462h0M608.9 460.7h0M601.7 439h0M598.6 447.1h0M605.5 462.2h0M600 441.3h0M606.5 450.1h0M596.9 462.9h0M606.8 449.5h0M596.2 447.2h0M605 447.7h0M604.9 449h0M608 459.9h0M614.4 461.9h0M591 439h0M595.5 437.6h0M597.2 441.4h0M613.4 450.5h0M598.6 454h0M606.1 454.1h0M602.5 450.9h0M610.5 462h0M604.4 453.5h0M590.1 444.4h0M606.5 453.7h0M594.3 438.6h0M600.9 438.6h0M594.3 446.8h0M602.5 442.1h0M603.8 452.6h0M610.2 462.2h0M610 462.2h0M610 449.7h0M605.5 451.1h0M609.3 443.5h0M602.8 463.6h0M601 445.7h0M607 464.7h0M608.5 449.8h0M594.4 443.6h0M599 446.3h0M597.3 441.4h0M602.5 450.1h0M610.8 459.6h0M614.4 448.3h0M610.3 434.8h0M600 441.7h0M605.5 455.9h0M603.2 453.7h0M596.3 438.2h0M605.8 448.5h0M608.1 450.7h0M599.9 438.6h0M605.5 436.8h0M590.7 457.2h0M591.5 452.5h0M607.3 448.1h0M618.2 450.3h0M595.7 437.8h0M598.9 450.6h0M599.4 451.6h0M611.5 461.8h0M602.1 456.5h0M605.2 458.6h0M610.1 455.5h0M614.1 461.8h0M593.9 444.9h0M604.6 591.6h0M630 621.3h0M617.3 601.5h0M600 587.3h0M643.3 621.9h0M638.3 622.2h0M635.6 631.8h0M604.9 583.5h0M634.2 626.1h0M603.1 599.6h0M598.8 593h0M601.2 581.7h0M640.6 627.6h0M611.6 605h0M621.6 614.8h0M627.9 614.2h0M626.2 612.4h0M642.3 643.6h0M617.2 613.3h0M611.2 597.4h0M609.7 599.7h0M597 586.8h0M620.6 612.5h0M639.8 611.9h0M594.2 602.2h0M618.9 601h0M636.4 619h0M615.2 606.1h0M621 612.2h0M601 587.7h0M608.6 596.4h0M625.5 613.1h0M602.8 618.4h0M631.9 595.1h0M604.9 591.1h0M607 585.8h0M600.5 591.5h0M620.2 612h0M635.7 627.1h0M652.5 632.6h0M614.2 605.8h0M607.6 582.6h0M636.7 625h0M640.7 622.4h0M624 602h0M633.7 621.4h0M623.9 627.3h0M590.9 626.7h0M594.8 593.2h0M616.5 613.3h0M603.6 608.5h0M597.1 589.3h0M612.9 602.6h0M637.5 622.8h0M610 614.8h0M617.8 615.8h0M639.7 631.1h0M635.7 638.1h0M638.8 630.5h0M611.1 599.3h0M615 604.1h0M612.7 601.4h0M616.6 618.6h0M630 617.9h0M641.8 629.2h0M621.3 603.7h0M641.6 632.8h0M640.5 625.6h0M616.1 607.6h0M622.9 617.7h0M624.4 614.4h0M616 599.5h0M607.4 608.6h0M622.2 621.8h0M639.3 624.4h0M617.3 607.1h0M642.6 632.5h0M643.5 642.6h0M639.1 622.2h0M653.6 624.7h0M600.1 587.4h0M587.5 601.9h0M605.1 586.9h0M654.5 631.3h0M613.8 594h0M599.3 590.9h0M622.2 608.5h0M627.6 616.8h0M630.8 613.5h0M626.7 603.5h0M601 594.1h0M645.6 639.2h0M619 602.6h0M605.4 585.9h0M627.7 613.9h0M600.1 586.5h0M612.8 604.1h0M617.3 605.2h0M595.9 592.4h0M626.2 632.3h0M603.5 602.1h0M612.6 603h0M606.6 596.5h0M635.1 621.9h0M614.5 645.3h0M591.5 598.1h0M610.6 605.4h0M644.1 636.5h0M599.3 584.6h0M596.3 586.6h0M612 614.4h0M614.7 600.6h0M654.8 593.8h0M662.8 579.8h0M639.3 536.8h0M670.5 682.2h0M657.4 656.3h0M640.6 543.6h0M683.6 767.7h0M640 537.8h0M636.2 535.8h0M679.2 747.8h0M643.4 549.2h0M638.2 547.2h0M647.7 552h0M650.4 580.1h0M680.3 717h0M649.8 604h0M639.9 548.3h0M638.2 534.6h0M685 735.3h0M663.5 643h0M660.7 643.3h0M659.6 659.3h0M650.7 591.7h0M657.3 636.9h0M657.7 579.6h0M662.6 630h0M654.7 626.3h0M636.2 536.6h0M683.2 748.5h0M677.6 718.6h0M649.6 555.3h0M676.1 705.8h0M687.5 749.5h0M674.1 581.8h0M684 539.2h0M652.4 605.7h0M654.8 630.6h0M653.3 625.5h0M667.2 647.4h0M648.2 559h0M662.1 656.6h0M642.8 562.3h0M675.8 724.2h0M645 580.5h0M674.8 651.7h0M668.9 681.7h0M653.3 617.7h0M635.7 532.4h0M663.8 633.2h0M648.9 576.2h0M659.7 636.7h0M634.7 530.4h0M648 527.5h0M685.2 787.6h0M674.6 692h0M654.1 598.4h0M670.2 643.7h0M686.5 698.1h0M657.2 643.9h0M648.3 596.3h0M659.2 615.8h0M649.7 590h0M641.8 548.9h0M651.4 593.6h0M653.6 551.2h0M636.4 535.8h0M656.3 593.6h0M686.1 771.7h0M663.5 565.9h0M654.5 599.7h0M674.4 726.7h0M636.2 532.7h0M653.9 603.2h0M685.2 752h0M642.5 569.4h0M653 611.7h0M658.3 627.8h0M645.9 550.3h0M681.6 710.5h0M654.5 536.2h0M649.9 603.6h0M687.7 789.3h0M649.7 539.7h0M643.2 552.9h0M659 629h0M673.6 718.1h0M681.4 758.4h0M639.3 558.7h0M665.1 638.7h0M645.1 572.4h0M676.1 593.2h0M671.3 700.5h0M653.7 609h0M679 689.3h0M686.3 687.5h0M670.2 639.1h0M637.5 549.7h0M655.7 628.8h0M667.5 584.5h0M647 545.3h0M648.7 560.2h0M645.9 591.3h0M677 687.9h0M646.9 565.4h0M669 603.7h0M684.3 766.1h0M654.2 526.8h0M682.4 667.5h0M635.9 532.4h0M647.4 546.8h0M661.5 676.7h0M668.3 689.5h0M636.6 540.8h0M644 572.5h0M648.4 563.9h0M653.9 609.2h0M691 716.7h0M661.7 659.6h0M674.7 704.6h0M653.7 603.5h0M667 680.9h0M640.3 556.3h0M668.7 703.4h0M660.9 667h0M690 780.1h0M649.7 588.8h0M646.3 567.7h0M642 553.3h0M658.2 650.2h0M667.2 693.4h0M653.6 542.8h0M671.8 707.6h0M681.3 693h0M651.2 598.9h0M676.3 729.5h0M652.9 622.8h0M671.5 709.4h0M677.6 683.8h0M697.5 783.3h0M675 678.2h0M683.8 776h0M683 702.1h0M646.8 592.7h0M657.9 664h0M690.7 633.1h0M653.5 621.3h0M644.1 562.4h0M654.1 639.1h0M660.3 656.5h0M657.7 648.8h0M657.4 598.4h0M639.3 552.6h0M645.1 536.2h0M641 539.6h0M642 531.2h0M642.2 567.9h0M684.6 681.4h0M659.6 639.5h0M656.7 628.9h0M612.2 464.8h0M626.5 521.7h0M612.7 475.6h0M609.7 457.8h0M622.9 493.1h0M614.4 470.9h0M613.1 489.2h0M610.4 466.1h0M608.5 504.3h0M615.7 481.7h0M607.5 437.1h0M615.1 469.4h0M629.3 527.7h0M607.5 454.7h0M614.5 479.7h0M608.2 434.5h0M602.4 456.2h0M614.5 515.7h0M628.2 517.8h0M626.9 507.2h0M604.9 438.3h0M626.2 521.3h0M608.7 436.8h0M610.4 504.4h0M616.7 481.6h0M608.8 436.2h0M624.6 499.8h0M629.5 521.2h0M616.3 491.3h0M609 442.1h0M628 511.3h0M618.5 498.4h0M620.8 496.2h0M609.4 468.8h0M624.3 510.1h0M626.9 512.2h0M631.3 519.3h0M627 517.6h0M619.1 485.1h0M611.1 464h0M615 493.6h0M607 436.7h0M603.4 454.7h0M613.3 480.4h0M603.8 466.4h0M613.6 461.9h0M613.2 472h0M605.6 434.5h0M620.7 491.3h0M624.6 509.2h0M608.7 454h0M620.3 488.9h0M609.2 456.3h0M620.5 488.6h0M613.7 469.4h0M613.1 473h0M621.6 512.8h0M606.7 450.6h0M609.8 446.2h0M605.8 455.7h0M619.9 486.9h0M607.1 445.3h0M631 529.2h0M628.2 529.3h0M608.9 434.8h0M630.1 530h0M601.4 454.8h0M625.4 507.9h0M613.3 485.6h0M611.5 510.8h0M618 491.3h0M625.4 507.3h0M625.5 515.9h0M626.3 521.6h0M623.1 530.9h0M606.8 480.7h0M602.7 437.4h0M627.7 512h0M607.4 434.5h0M606.4 439.3h0M619 485.7h0M622.2 498h0M598.1 433.7h0M612.5 461.3h0M628 516h0M628.6 523.4h0M607.8 435h0M612.5 480.6h0M622.9 531.9h0M622.7 528.2h0M610.5 442.5h0M610.3 447.5h0M617.7 532.4h0M626.1 513.2h0M606.6 434.1h0M612.5 474.7h0M608.6 470.3h0M613.9 522.1h0M614.6 471.2h0M606 447.4h0M629.9 517.7h0M522.5 518.2h0M523.7 464.2h0M573.5 625.8h0M524.3 451h0M560.1 613h0M517.7 520.1h0M595.9 651.9h0M604.7 660.6h0M571.7 631.5h0M546.7 585.9h0M565.6 608.1h0M552.5 591.5h0M525.9 531.9h0M550.1 593.6h0M552.1 602.1h0M534 559h0M521.2 491.9h0M600.2 656h0M536.9 560.6h0M527.8 438.6h0M553.3 595.4h0M532 549.8h0M549.5 585.5h0M551.4 602h0M611.5 661.2h0M543.9 577.3h0M524 521.5h0M568.6 625.5h0M583.1 639.2h0M558.9 602.9h0M522.8 474.6h0M527 543.2h0M523 463.6h0M574.4 624.8h0M555.9 605h0M589.2 643.4h0M611.1 662.2h0M525 442.1h0M530.3 551.3h0M588.4 643.1h0M527.9 552.2h0M520.3 487.2h0M598.9 655.4h0M524 474.7h0M520.4 468.4h0M522 489.7h0M581.5 630.5h0M537.1 561.7h0M607.9 662.8h0M519.5 528.7h0M525.9 471.1h0M597.4 655.4h0M526 523.5h0M522.2 509.9h0M523 507.2h0M525.8 546.6h0M523.3 452.4h0M618 668.8h0M543.3 579.2h0M604.7 660.8h0M526.4 530.7h0M522.3 505h0M570.5 620.5h0M593.6 645.9h0M521.1 488.2h0M562.4 609.7h0M527.7 531.8h0M539.4 564.9h0M523.3 515.8h0M518.2 494.8h0M518.5 487.8h0M565.7 617.2h0M520.1 495.2h0M525.4 526.8h0M566.3 614.2h0M546.8 586.4h0M574.4 627h0M525 507.7h0M530.2 547h0M523.5 462.7h0M523.2 478.3h0M534.6 559.2h0M570.7 611.1h0M577.6 633.3h0M550.9 586.5h0M526.8 525.6h0M526 533.4h0M618.9 666.3h0M521.7 489.8h0M552.8 369.9h0M516.4 328.1h0M556.8 379.9h0M528.9 330h0M605 442.3h0M589.8 432.4h0M606.9 442.5h0M524.1 333.2h0M582.8 428.6h0M538.2 362.7h0M586.1 418.8h0M514.7 325h0M602.1 449.1h0M553.6 365.6h0M574.1 398.2h0M550.7 363.4h0M514.6 317.2h0M522.6 317.4h0M542.2 355.7h0M539.6 360.4h0M527.7 325.5h0M511.6 336h0M547.7 362.2h0M554.9 368.2h0M553.9 371.6h0M548.7 356.9h0M510.1 330.1h0M533.2 354h0M545.6 362.2h0M608.6 445.5h0M607.4 447.7h0M604.1 439.7h0M605.2 445.7h0M577.9 402.9h0M506.6 325.3h0M528.8 371.7h0M545.6 356.4h0M597 432h0M568.2 393.2h0M545.9 374.7h0M526.7 335.2h0M548.3 361.9h0M520.5 324.8h0M520.7 326.5h0M529.2 332.6h0M554.7 371.7h0M579.1 408.8h0M524.6 327.5h0M524.7 332.7h0M525.1 332.3h0M598.6 434.7h0M543.8 363.2h0M603.9 443.4h0M538.8 342.3h0M521.2 323.6h0M599.9 439.1h0M539.3 345.6h0M606.4 441.9h0M538.6 349.3h0M565.2 385.7h0M521.5 313.9h0M553.4 369.3h0M599 442.8h0M516.8 344.4h0M592.7 432.8h0M589.7 425.5h0M517.2 315.4h0M552.9 364.4h0M565.9 387.6h0M511.2 321.4h0M536.8 340.2h0M547.6 374.8h0M590.4 428.6h0M548.9 369.2h0M546.4 360.5h0M527.2 329.1h0M552.1 367.4h0M516.5 316h0M602.5 446.3h0M540.3 345.5h0M543.1 367.6h0M540.1 354.6h0M552 372.7h0M548 357.8h0M534.3 340.7h0M583.4 412h0M550.6 360.3h0M610.3 447.5h0M586 417.8h0M609.7 447.5h0M514.4 320h0M521.7 375.4h0M523.3 423.3h0M522.2 362.9h0M524 401.4h0M521.2 428.2h0M524.2 410.4h0M524 386.2h0M521.8 348.8h0M524.3 375.5h0M523.9 397.3h0M516.8 323.7h0M515.7 329.1h0M521.4 389.7h0M523.9 409.8h0M519.4 354.5h0M525 433.6h0M523.9 399.9h0M517.9 319.6h0M518.1 344.8h0M523 391.8h0M520.4 380.9h0M525 421.3h0M519.8 354.7h0M519.1 338.7h0M524.3 418.8h0M516.6 319.4h0M521.6 326.6h0M523.8 403h0M517.3 411.8h0M518.8 353h0M523.7 434.7h0M517.2 326.8h0M522.8 411.9h0M519.3 342.9h0M524.2 334.6h0M524.2 332.3h0M539.4 347h0M543.9 352.7h0M533.6 341.8h0M545.8 362.6h0M526.8 338.7h0M525.8 333.8h0M525.8 332.1h0M533.9 342.4h0M534.5 346.5h0M539.1 355.6h0M531.7 340.9h0M538.2 349.6h0M530 336.5h0M534.7 342.9h0M519.3 331.4h0M533.7 340.7h0M534.7 342.5h0M528.2 338.2h0M533.9 339h0M530.8 336h0M540.9 364.5h0M526.6 345.1h0M521.6 328.2h0M517.9 322.1h0M519.2 321.8h0M528.1 336.3h0M525 339.4h0M547.4 358.5h0M544.6 353.7h0M522.9 338.9h0M523.5 330.7h0M517.8 324.1h0M534.5 367.5h0M546 356.9h0M543.6 356.6h0M536.1 341.4h0M519.5 321.3h0M538.6 347.8h0M539.9 350.5h0M542.3 351.6h0M521.4 324.2h0M534.9 352.1h0M517.9 324.1h0M520.3 317.8h0M529.6 334.7h0M546.7 356.4h0M541.5 350.1h0M528.7 338.3h0M542.7 354.1h0M521 319h0M544.2 356.9h0M517.9 323.9h0M531.9 344h0M542.2 361.9h0M539.7 358.3h0M529 342.5h0M543.1 354.5h0M542.1 356.1h0M520.5 324.2h0M536.5 343.2h0M519.8 317.7h0M532.8 345.8h0M541.5 354.6h0M541.5 350.2h0M523.1 331.1h0M522.6 329.1h0M542.4 362.5h0M539.1 359.8h0M538.7 355.4h0M527.9 328.8h0M543.8 355.8h0M543 352.3h0M536 345.2h0M545.3 358.2h0M537.4 347.9h0M534.9 352.1h0M530 347.4h0M546.1 355.7h0M529.9 336.3h0M536.4 344.7h0M517.8 323.7h0M534.1 343.6h0M532.6 344.9h0M521.1 326.8h0M522.7 325.3h0M520.3 330.7h0M540 347.8h0M546.2 357.6h0M546.3 359.2h0M545.6 652.9h0M551.9 647.8h0M579.7 698.4h0M567.3 686.3h0M562.1 676.9h0M559.9 676.9h0M574 693.4h0M588.3 698.6h0M554 652.5h0M564.9 682.6h0M577.9 697.2h0M583.5 707h0M571 693.3h0M564.2 681.5h0M563.3 680.5h0M550.3 656.8h0M561.8 675.4h0M576.2 696.7h0M550.7 653.4h0M564.6 677.5h0M629 764.5h0M678.6 807.6h0M658.8 808.1h0M619.5 772.5h0M668.4 806.2h0M648.9 789.8h0M671.1 792.9h0M675.8 810.7h0M653.9 803.5h0M634.3 774.5h0M639.7 795.9h0M610.1 765.2h0M684.4 809.1h0M658.5 807h0M665.8 806.5h0M626.8 774.3h0M656.2 805h0M620.4 773h0M639.1 794.9h0M615.5 772.8h0M654.2 796.3h0M623.5 770.6h0M675.4 807.1h0M675.6 804.6h0M670.3 805h0M678.6 806.3h0M666.7 804.2h0M678.5 805.2h0M672.2 806.5h0M676 807.4h0M665.7 799.6h0M676.5 808.1h0M673.2 804.3h0M667 804.2h0M671.7 807.3h0M676.8 805.8h0M671 806.1h0M673.7 806.5h0M664.7 808.9h0" stroke="#000" stroke-width="2" stroke-linecap="round" fill="none"/><path d="M569.7 509.7h0M589.2 463.2h0M573.2 486.6h0M568.3 515.3h0M633.4 610.2h0M577.6 464.3h0M577.3 507.2h0M575.5 537.2h0M552.4 552h0M560.6 519.2h0M604.1 596.4h0M582.9 482.7h0M592.6 548.3h0M563.7 525.9h0M579.6 479.8h0M573.3 548.7h0M570.9 494.2h0M619.8 602.9h0M603.2 565.8h0M570.9 498.4h0M558.4 531.3h0M574.7 471.5h0M560.6 517.3h0M567 572.6h0M587.2 551.9h0M573.9 506.3h0M569.7 532.9h0M567.5 544.8h0M565 524.3h0M619.6 607.1h0M596.4 451.3h0M608.4 586.5h0M625.6 613.5h0M598.5 460.9h0M650.2 632.1h0M601 610.7h0M557.5 464.4h0M593.2 572.6h0M590.1 459.3h0M551.7 502.4h0M617.1 620.5h0M578 578.4h0M576.5 477.3h0M618.6 591.4h0M568.8 565h0M629.1 610.7h0M566.6 493.7h0M596 584h0M572.6 491.3h0M612.5 595.6h0M617.7 608.5h0M590 583.2h0M581.3 487.9h0M552 489.5h0M631.9 599.6h0M636.2 625.8h0M552.8 491.9h0M618.3 627.3h0M561.9 520.2h0M610.6 464h0M596.1 588.4h0M646 630.7h0M587.3 456h0M569.8 473.1h0M571.1 502.6h0M641.4 627.3h0M563.7 524.4h0M623.2 614.5h0M600.4 562h0M632.1 622.7h0M585.8 442.1h0M599.4 520.1h0M574.7 491h0M576.3 574.8h0M568.7 537.4h0M588.1 453.4h0M582.9 584.9h0M579.7 562.6h0M609.9 584.5h0M580.4 484.1h0M587.8 466.2h0M568.9 522h0M588.8 541.2h0M586.9 486.1h0M583.5 448.6h0M596.3 591.1h0M575.1 475.1h0M584.9 578.5h0M565.8 528.2h0M573.4 491.8h0M588.8 446.6h0M563.6 529.7h0M583.9 537.9h0M553.3 531h0M634.2 611.6h0M609.1 578h0M622.4 624h0M574.9 517.9h0M577.4 573.4h0M573.2 459.4h0M569.7 520.9h0M606.3 559.4h0M598.7 595.1h0M636 623.2h0M595.4 597.9h0M592.8 578.7h0M581.2 490.8h0M647.2 627.6h0M576 533.1h0M575.9 536.1h0M635 610.5h0M569.6 486.1h0M591.1 549.3h0M630.7 611.2h0M578.3 583.6h0M551.3 547.8h0M568.5 498.6h0M598 549.4h0M570.8 541.8h0M575.5 479.2h0M595.2 477.1h0M566 516.2h0M560.5 519h0M567.1 496.1h0M624 603.3h0M610.9 593.4h0M607.2 595.7h0M578.8 513.4h0M569.2 474.2h0M583.6 588.7h0M567.4 527.5h0M608.3 600.8h0M604.2 623.6h0M627.8 603.7h0M587 507h0M607 585.6h0M577 480.8h0M596.8 591h0M582.1 528.8h0M619.6 620.7h0M642.5 623.9h0M599.4 590h0M565.8 511.4h0M561.6 505.4h0M587.7 551.8h0M573 562.7h0M573.7 479.4h0M591.9 449h0M638.6 624.8h0M565.7 497.3h0M630.5 612h0M633.4 626.2h0M594.1 572.8h0M631.3 624.1h0M582.9 517.3h0M630.4 627.9h0M576 539.9h0M605.8 591.2h0M596 500.6h0M569.6 503.4h0M575.5 535h0M562.4 572.5h0M621.4 611.1h0M596.7 459.5h0M645.4 633.1h0M570.3 490.4h0M596.3 584.9h0M578.5 480.2h0M575.8 520.1h0M610.3 601.1h0M573.9 490.4h0M570.6 546.8h0M570.3 430.4h0M575.6 485.4h0M625.1 610.2h0M581.4 569.9h0M632.3 619.9h0M576.6 469.4h0M642.4 639.8h0M575 487.1h0M578 561.2h0M615.9 602.5h0M575.8 509.2h0M591.7 590.3h0M568.4 504h0M584.1 555.4h0M615.4 617.6h0M570.6 516.6h0M574.9 514.9h0M589.8 460.7h0M579.6 539.9h0M600.1 591h0M571.7 565.1h0M571.3 549.4h0M561.6 515.6h0M584.5 577.2h0M571.5 484.1h0M559.9 525.9h0M568.5 474.8h0M565.5 493h0M584.5 551h0M631.9 627.5h0M633.3 646.9h0M579.7 573.2h0M583.1 552.9h0M628.2 626.4h0M589.9 460.6h0M632.9 611.9h0M565.2 496.5h0M574 476.6h0M562.6 545.4h0M570.9 520.3h0M594.5 470.2h0M587.5 468.7h0M634.1 636.3h0M639.9 627.1h0M597.7 594.5h0M651.2 622.4h0M590.4 570.9h0M571.4 502.2h0M608.7 602.8h0M630.5 622.7h0M624.9 590.7h0M587.5 572.8h0M577.7 555.9h0M593.7 474.1h0M563.2 539.7h0M589.2 512.5h0M575.6 472.2h0M629.7 619.1h0M587.2 607.6h0M589.6 457.5h0M642.5 629.3h0M608.2 462.7h0M561.4 513.3h0M590.7 491.2h0M593.8 455.8h0M567.6 562.3h0M568.4 515.7h0M603.5 597.4h0M576.3 453.7h0M615.9 580.9h0M588.7 456.8h0M570.1 501.3h0M625.3 609.4h0M629.8 643.4h0M613.2 601.1h0M624.5 607.5h0M597.1 603.5h0M571.4 571.6h0M595.3 477.2h0M576.4 517h0M597.3 453.5h0M631.5 620.7h0M567.3 485.1h0M576.9 521.5h0M633 608.6h0M594.9 462.6h0M571 496.9h0M586.1 474h0M560.8 470.2h0M607.3 597h0M582.6 573.4h0M625.5 610.2h0M647.6 613.1h0M593.9 582.1h0M584.3 469.2h0M560.6 516.6h0M571.3 542.7h0M598.9 531.9h0M646.1 631h0M638.1 603.6h0M613.9 514.4h0M632.9 629.9h0M610.2 493.3h0M596.5 448.5h0M605.1 473.6h0M628.8 590.2h0M625.6 586.6h0M620.5 544.4h0M609.5 474.2h0M643.4 632.4h0M638.6 610.8h0M611.6 523.2h0M621 513.6h0M624.9 524h0M611.7 497.9h0M636.3 581.3h0M618.3 508h0M614.8 500.6h0M608.8 458.1h0M619.1 565.7h0M615.3 490.9h0M632 577.1h0M627.6 583.9h0M614.9 550.9h0M646.8 628h0M611.1 473.5h0M632.1 585h0M616 547.1h0M633.3 641.6h0M613.8 496.5h0M635.2 606.6h0M617.4 558h0M625 504.8h0M649.9 625.5h0M630.1 605.4h0M632.7 610.8h0M615.2 579.3h0M640.4 634.7h0M620.7 539.9h0M627.6 609.1h0M618.2 596.9h0M619.8 518.7h0M600.3 505.3h0M630.5 564.3h0M620.8 522.8h0M594.9 494.6h0M635.2 604.1h0M612.8 484.8h0M605.1 461.8h0M626.7 575.1h0M610.6 481.1h0M609 471.4h0M602.1 471.7h0M603.9 453h0M621.7 529.6h0M618.4 585.4h0M624.3 522.1h0M603.2 467.8h0M645.1 623.6h0M619.6 465h0M606 487h0M608.6 566.8h0M615 516.3h0M626 579.9h0M606.4 476.1h0M603.3 463.1h0M640.6 616.1h0M633.3 599.3h0M630.7 593.6h0M617 530.2h0M604.6 467h0M648.1 623.2h0M619.3 565.3h0M619.1 501.1h0M605.6 537h0M604.3 460.9h0M616.4 500.6h0M616.4 520.8h0M638.5 610.7h0M639.4 606.3h0M611.1 582.1h0M610.7 448.3h0M611.2 539.5h0M626.9 581.4h0M606.4 475h0M638.4 624.7h0M637.3 601.1h0M648.1 634.1h0M620 519.9h0M608.1 468.4h0M645.4 524.3h0M633.9 616.3h0M648.6 633.5h0M598.8 467.7h0M646.1 603.5h0M614.3 508.7h0M627.2 540.3h0M640.2 625.3h0M618.2 579.8h0M609.8 581h0M623 558.8h0M620.1 534.8h0M619.5 582.2h0M628.8 535.3h0M643.2 604.2h0M602.2 591.1h0M638.6 596.1h0M629.2 576.8h0M618.8 527.9h0M627.8 516.3h0M619 505.9h0M615.1 495.2h0M607.6 461.6h0M595.5 447.8h0M623.1 511.4h0M618 564.5h0M621.9 532.5h0M606.4 545.1h0M610.8 473.8h0M610.4 480.1h0M619.4 508.5h0M619.5 522.6h0M620.9 560.8h0M611.4 492.6h0M627.1 624.1h0M603.5 556.1h0M609.4 543.1h0M636.3 593.5h0M618.7 528.5h0M628.9 588.5h0M631.2 527.1h0M602.8 456.7h0M605.9 527.1h0M628.4 595.9h0M620 561.5h0M644.7 627.4h0M636.1 563.4h0M608.8 449.7h0M622.4 564h0M609.9 489.7h0M626.1 581.3h0M627.4 528.5h0M627.7 532.3h0M610.9 486.1h0M612.1 574h0M647.2 629.8h0M611.6 538.4h0M616.9 574.4h0M599.6 451.4h0M624.6 546h0M619.2 540h0M619.3 575.7h0M601.6 448.2h0M625.2 523.3h0M621.7 542.1h0M618.1 563.5h0M617.7 524h0M649.4 627.3h0M609.3 499.6h0M628.7 610.9h0M624.8 510.8h0M635.8 624.1h0M605.7 448.5h0M615.4 531.6h0M624.6 577.5h0M606.4 477.8h0M645.4 620.6h0M613.5 491.2h0M591 540.7h0M640.2 615.3h0M631.8 515.7h0M614.6 523h0M619.7 555h0M597.1 493.1h0M605 465.7h0M646.4 629.1h0M651.9 617.8h0M628.4 605.3h0M642 614.3h0M616.4 492.4h0M641.9 619.9h0M603.4 521.6h0M628.2 599.7h0M620.8 532.9h0M609.3 503.9h0M618.8 551.4h0M602.8 463.4h0M624.4 535.5h0M625.4 558.5h0M641.5 608.2h0M603.5 454.5h0M601.7 617.2h0M651.2 628.5h0M619.3 539.5h0M644.3 621.5h0M624.8 537.3h0M617.7 559.8h0M629.8 578h0M634.6 595.3h0M605.8 466.4h0M642.5 615.7h0M624.9 564.1h0M604 448.9h0M648.5 601.7h0M621.6 558.8h0M645.4 628.4h0M601.4 460.4h0M599.5 461h0M617.8 546.1h0M618.9 553.8h0M620.9 567h0M617.5 509.7h0M615.4 543.3h0M603.7 564.3h0M613.3 537.8h0M621.2 550.1h0M614.6 556.8h0M616.9 534.4h0M616.4 514h0M624.5 584.6h0M610.3 490.6h0M643.5 623.7h0M606.9 477.5h0M624.3 503.4h0M638 632.4h0M643.6 617h0M625.4 510.1h0M624.2 594.6h0M600.9 508.9h0M630.5 598h0M615.4 559h0M616.9 600.2h0M630.8 596.5h0M602.1 500.4h0M615.6 473.9h0M647.3 585.8h0M625 523.6h0M592.5 450h0M586.7 458h0M621.5 593.1h0M619 494h0M621.2 581.3h0M607.2 461.5h0M604.2 457.7h0M623.5 569.1h0M625.5 598.6h0M623.7 521.5h0M620.4 548.5h0M605.5 450.2h0M607.6 458.1h0M612.4 483.2h0M619.4 518.7h0M622.5 476.5h0M639.7 637h0M620.3 508.5h0M641.4 636h0M605.7 440.9h0M612.4 457h0M596.5 436.8h0M615.8 454.3h0M602.6 467.3h0M607 448.2h0M584.5 466.9h0M599 446.8h0M604 442.6h0M595.5 436.8h0M607 455.7h0M607.2 452.2h0M606.1 446.6h0M607.3 451h0M580.4 448.5h0M596.7 440.2h0M603.8 451.5h0M598 435.4h0M601.8 448.8h0M605.1 464.1h0M602.2 439.2h0M609.8 442.2h0M612.4 461.1h0M602.8 449.4h0M597.1 437.4h0M598 443.4h0M602.3 453.5h0M602.5 449.8h0M605 447.1h0M602.9 445.8h0M615.3 460.4h0M601.7 442.3h0M606.9 455.4h0M601 442.9h0M612.5 458.2h0M593.8 445.2h0M608.2 448.9h0M606.3 443.9h0M603.7 463.3h0M612 463.3h0M599.8 446.3h0M612.7 432.2h0M598.7 448.4h0M610 435.6h0M608 462.2h0M610.1 460.2h0M599.9 441.2h0M602 449.7h0M598.7 435.5h0M599.6 452.1h0M596.1 441.1h0M611 462.3h0M605.4 447.2h0M622.3 453.6h0M603.8 466.2h0M597 455.6h0M596.1 461.8h0M592.7 444.1h0M584.3 443h0M615.9 452.1h0M604.5 435.8h0M605 452.4h0M598.4 438.4h0M608.1 436.3h0M615.1 457.1h0M601 448.2h0M604.3 457.4h0M607.9 464.1h0M606.7 454.9h0M607.1 461.7h0M616.2 449.4h0M606.9 446h0M608.6 452.6h0M597.5 443.1h0M596.5 454.9h0M605.1 446.1h0M617.7 442.7h0M586.4 449.8h0M601.4 438.9h0M608.4 446h0M577.8 459.5h0M606.3 465.4h0M606.1 445.5h0M591.3 447.4h0M605.8 457.3h0M603.1 442.4h0M648.3 633.9h0M599.1 585.5h0M606.1 599.7h0M629.6 613.1h0M638.9 640.8h0M610.5 598h0M642.9 626.4h0M630.6 614h0M626.5 614.4h0M641.8 630.9h0M635.6 625.6h0M627.9 617.6h0M623.8 616.9h0M604 585.1h0M642.4 646.3h0M640 622.6h0M616.1 597.7h0M600.8 598h0M607.1 603.1h0M617.7 603.7h0M605.7 597.3h0M602 589.8h0M595.7 587.7h0M634.4 627.5h0M650.1 638.1h0M629.5 609.8h0M595.5 593h0M626.2 615.7h0M648.8 629h0M626.5 608.3h0M644.6 631.8h0M620.2 612.2h0M632.2 625.3h0M641.6 647.9h0M629.8 621.9h0M601 589.7h0M636.8 623.4h0M619.6 611.2h0M628.8 622.1h0M597.3 591.6h0M603.6 606.8h0M644.7 629.3h0M630.9 595.2h0M623.6 615.7h0M647.8 640.2h0M634.5 627.5h0M604.9 612.4h0M611 601.4h0M648.8 630.9h0M597.8 604.2h0M641 618.9h0M628.1 612.6h0M635.6 617.5h0M626.8 614.6h0M643.8 628.2h0M645 630.7h0M633.5 611.3h0M648.2 641.6h0M621.2 601.4h0M641.5 626.1h0M646.1 624.7h0M600.3 588.1h0M600 593.7h0M631.4 617.6h0M662.9 621.5h0M600.4 614.6h0M598.5 597.8h0M637 628.5h0M613.6 609.7h0M648.3 639.2h0M620.3 607h0M645.9 633.3h0M635.5 627h0M628 627.1h0M626.3 618.5h0M645.6 632.8h0M614.2 606h0M611.5 596.7h0M581.6 621.4h0M614.7 605.5h0M641.1 612.9h0M608.6 626.5h0M600.6 584.1h0M643.1 624.2h0M601.9 595.1h0M621.4 606.9h0M605.4 584.8h0M603.2 599.1h0M602.7 594.7h0M623.1 617.2h0M637.4 619.9h0M593.5 591.9h0M663.4 669.9h0M646.6 548h0M651.1 616.5h0M674.8 709.7h0M670.4 682.4h0M647.5 575.6h0M643.6 534.2h0M670.7 698.4h0M658.1 660.7h0M643.7 576.6h0M678.2 667.9h0M641.4 545.8h0M670.8 669.7h0M658.6 585.1h0M671.1 697.7h0M649.7 610.1h0M661.6 624.1h0M680.1 732.9h0M662.6 670h0M680 734.6h0M681.4 764.5h0M644.7 578.8h0M647 592.5h0M635.7 531.8h0M642 564.1h0M662.2 672h0M674.1 704.7h0M641.2 542.4h0M646.1 537.1h0M640.3 552.9h0M673.1 626.5h0M664.8 690.8h0M655.3 625h0M653.5 562.4h0M657.7 587.4h0M658.8 656.1h0M677.1 694h0M637.1 546.6h0M640.7 529.5h0M655.1 620.4h0M644 566h0M665.2 619h0M650.6 595h0M692.4 719.1h0M649.3 601h0M682 660h0M648.6 600.5h0M656.2 613h0M641.6 546.5h0M653 624.9h0M657.6 658.8h0M668.1 673.7h0M685.8 726.9h0M641.8 570h0M663.8 658.3h0M660.9 661.3h0M687.7 784.6h0M656.3 649.4h0M647 593.4h0M668 674.7h0M671.5 714.7h0M640.5 543.4h0M674.2 701.2h0M646.8 556.5h0M648.8 583.4h0M676 677h0M640.3 529.2h0M665.9 665.5h0M660.6 574.4h0M640.4 542.5h0M664.3 655.5h0M647 579.9h0M657.1 623.9h0M648.7 581.8h0M648.3 588h0M659.9 641.5h0M671.2 697.9h0M666.5 684.6h0M660.1 610.6h0M654.4 631.9h0M708.6 742.8h0M642.5 545.4h0M686.4 784.5h0M655.2 612.8h0M650.5 611.2h0M648 590.6h0M649.5 553.4h0M653.5 582.5h0M651 587.7h0M669.2 628.1h0M650.8 564.9h0M680.8 723.5h0M674.4 713h0M649.2 581.9h0M649.6 590.7h0M649.7 614.2h0M677.6 730.1h0M650 582.5h0M673.5 722.5h0M658.6 652.9h0M650.4 536.4h0M666.4 699.7h0M640.8 563.3h0M648.1 591.3h0M695.7 708.8h0M661.1 616.4h0M655.7 564.7h0M640.4 558.7h0M667.9 692.6h0M674.2 693.9h0M666 674.4h0M651.5 532.3h0M657.9 578.9h0M653.5 637.5h0M652.3 613.7h0M635.7 537.4h0M659.4 642.2h0M636.9 538.7h0M636.3 540.7h0M671.3 668h0M654.3 586.1h0M661.1 661.5h0M654 535.6h0M655.7 569.3h0M644.8 560.1h0M681.5 697.1h0M652.8 613.3h0M657.5 640.6h0M656.3 551.8h0M668.9 699.2h0M649.7 611.4h0M652.3 612.2h0M647.2 593h0M660.8 673.2h0M638.9 536.1h0M651.1 611.1h0M677.1 734h0M646.5 579.2h0M654.3 619.4h0M645.4 572.6h0M640.3 529.8h0M671.2 681.3h0M681.5 769.5h0M684.1 753.5h0M638.3 551.3h0M655.4 594.7h0M647.3 594.7h0M661.6 678.7h0M659 644.4h0M655.9 637.3h0M661.2 648.3h0M650.6 584.7h0M682.5 746.5h0M653.9 613.4h0M681 747.2h0M669.5 687.8h0M660.6 622.5h0M641.4 567.2h0M683.2 685.6h0M677.9 732.6h0M675.8 713.3h0M674.1 706.5h0M664.9 685.8h0M680 714.6h0M659.3 578.8h0M671.5 700h0M653.9 622.3h0M663 642h0M675.7 698.6h0M649.9 590.3h0M671.9 665.1h0M696.9 751.2h0M646.5 590.5h0M637.8 532.8h0M656.3 625.6h0M669 630.2h0M659.6 656.1h0M662.8 686.5h0M626.1 506.5h0M613.8 468.5h0M616.6 475.3h0M603.1 446.3h0M606.2 466.1h0M603.2 451.8h0M620 489.6h0M602.7 474.1h0M608.3 455.8h0M608 434.2h0M611.1 477h0M627.2 522.9h0M619.4 493.9h0M613.2 466h0M627.5 525.2h0M619.9 508.9h0M610.5 454.6h0M607.2 432.6h0M605.4 458.8h0M609 444.4h0M609.2 454.2h0M625.4 514h0M613.7 471.1h0M608.3 481.4h0M611.5 459.1h0M613.2 487.1h0M631.1 522.3h0M621.8 496.1h0M621 502.3h0M609.3 450.1h0M607.2 436.2h0M614.4 527.9h0M624.4 525.8h0M630.4 520.6h0M607.2 445.4h0M616.1 483.6h0M621.8 514.9h0M602.5 454.5h0M622.5 496.1h0M607.9 436.1h0M611.3 481.8h0M618 491.1h0M608 435h0M613.7 472.1h0M628.4 525.5h0M616.1 513.3h0M618.2 488.6h0M612.2 462.9h0M629.6 518.6h0M617.6 478.9h0M625.6 509h0M614.1 472.5h0M618.1 483.6h0M612.6 472.3h0M600.2 446.2h0M602.3 443.1h0M611.5 472.4h0M622.9 516.6h0M629.5 527.1h0M610.7 476.6h0M611.9 460h0M610.1 476.7h0M616.4 512.8h0M606.9 461.1h0M619.1 495.7h0M616.4 483.8h0M613 470.2h0M616.1 474.9h0M632.4 525.2h0M625.4 515.3h0M604.1 474.6h0M630.8 528h0M624.8 515.6h0M610.6 498h0M613.3 505.7h0M628.8 529.1h0M626.1 529.8h0M633.5 528.3h0M616.1 492.9h0M606.8 461.9h0M611.3 460h0M616.4 489.4h0M609.5 467.4h0M608 437.6h0M608.3 441.2h0M606 441h0M616.8 484.9h0M614.8 474.2h0M603.3 459.7h0M620.5 499h0M608 440.8h0M632.5 527.8h0M618.7 484h0M615.6 489.4h0M616 492.9h0M519.9 487.3h0M519.5 474h0M562 611.8h0M530 539.3h0M522 486.8h0M557.8 605.4h0M530.5 550.7h0M523.5 454.7h0M538.9 556.7h0M523.1 446.2h0M543.6 572.8h0M539.2 567.1h0M567.8 619.4h0M550.6 585.2h0M622 672h0M519.5 493.2h0M521.2 505.8h0M581.2 635.2h0M514.8 492.8h0M520.8 509.7h0M573.4 624.6h0M531 544.7h0M551.1 589.8h0M536.7 568.2h0M541.4 569.7h0M523.3 539.9h0M536.9 562.4h0M599.5 657.1h0M519.3 496h0M522.6 519.2h0M523.1 446.4h0M594.2 641.4h0M543.3 586.4h0M528.2 533.8h0M520.9 507.1h0M521.8 533.5h0M557.6 601.9h0M520.8 485.9h0M518.7 499.5h0M531.1 554.8h0M523.3 439.7h0M540.2 571.5h0M523.4 516.2h0M582 641.3h0M584.3 641.1h0M527.1 522.1h0M521 478.6h0M594.4 653.1h0M531.2 547.3h0M524.5 448h0M549.6 587.6h0M525.2 438h0M527.8 535h0M563.5 612.6h0M547.2 583.7h0M556.3 602h0M580.4 634.2h0M520.6 529.9h0M622.8 671.5h0M525.6 476.2h0M522.4 512.8h0M557 603.1h0M621.7 668.8h0M535.4 558.7h0M521.5 504.3h0M582.6 638.3h0M540.2 574.2h0M536.1 564.9h0M530.8 535.4h0M518.6 492.9h0M555.2 600.9h0M530.1 547h0M536 560.7h0M533 562.2h0M522.8 516.7h0M553.6 597.7h0M520.8 481.7h0M621.7 671.3h0M520.8 486.4h0M560.1 603.4h0M523.6 453.7h0M531.9 559.8h0M547.5 584.9h0M599 656.2h0M564.2 613.5h0M554.9 606.7h0M614.4 666.6h0M521.4 490.5h0M572.4 623.7h0M588.6 642h0M531.1 553.8h0M520.2 485.6h0M526.3 527.2h0M565.9 610.2h0M625 671.3h0M563.5 618.9h0M614.9 667.4h0M551 595.2h0M522.4 510.9h0M525.3 528.1h0M618.3 669.8h0M589.2 644.7h0M601.1 658.8h0M522.3 479h0M589.7 645.6h0M551.9 595.4h0M529 553.7h0M525 438.7h0M614.9 666.7h0M608 662.3h0M608.1 660.3h0M544.4 580h0M596.8 645.4h0M552.6 597.3h0M570.2 617h0M521.1 458.4h0M521 511.4h0M529.1 540.9h0M520.5 485.4h0M519.6 511.7h0M522 475.5h0M522.1 482.3h0M522.4 438.8h0M533.9 555h0M524.9 441.9h0M587.9 643.9h0M564.9 611.1h0M601.5 660.1h0M543.2 576.6h0M559.8 604.2h0M575 627.7h0M589.7 418.2h0M534.1 345.2h0M533.8 337.9h0M583.5 410.9h0M532.3 344.5h0M522.9 325.8h0M538.4 345.5h0M520.8 313.6h0M528.5 334.8h0M584.2 421.6h0M547.3 370.8h0M523 320.7h0M539 343.8h0M529.1 358.5h0M521 334.9h0M532.7 347.5h0M607.7 448.7h0M550 363.5h0M543.3 354.2h0M526.9 324.6h0M600.1 446.2h0M548.8 364.5h0M518.5 318.3h0M605.3 439.1h0M592.7 425.5h0M600.4 445.1h0M522 327.8h0M604 443.1h0M552.9 370.6h0M552 360.7h0M535.9 361.9h0M579.2 407.8h0M592.8 422.4h0M548.8 370.3h0M606.4 444.9h0M566.1 386.3h0M603.4 440.9h0M538.3 343.7h0M541.2 348h0M545.3 350.7h0M539.2 353.7h0M595.8 429.5h0M533.4 332.4h0M538.6 351.4h0M607.6 447.4h0M598.1 431.7h0M528.9 330.4h0M517 319.9h0M519.7 318.6h0M538.8 348.5h0M518.4 339.4h0M581.5 412.4h0M577.8 407.9h0M559.5 375.6h0M549 362.1h0M584.7 413.9h0M593.9 428.8h0M600.6 438.1h0M579.1 408.9h0M559.5 419.6h0M539.9 353h0M605.8 442.9h0M606.4 445.1h0M600 436.3h0M518.7 320.6h0M529.5 338.9h0M542.1 351h0M524.6 334.8h0M610 446.4h0M546.6 361.7h0M602.7 440.4h0M578.9 416.1h0M534.5 342.8h0M574 406.4h0M524.1 331.6h0M601.9 436.1h0M550.9 360.9h0M532.2 339.2h0M529.8 332.7h0M557.3 368.3h0M548.9 365.1h0M592.2 425.9h0M528.4 338.7h0M518.8 351.5h0M526.4 354.1h0M520.8 372h0M522.3 347.9h0M519.6 338h0M521.1 389.8h0M522 336.5h0M534 435.5h0M514.9 338.5h0M522.6 356h0M516.6 319.6h0M521.9 323.1h0M518.9 327.5h0M518.4 322.5h0M521.6 348.9h0M526.7 396.6h0M522 359.2h0M521 339.8h0M523.2 435.2h0M531.5 379.2h0M523.3 411.5h0M524.7 418.8h0M517.5 320h0M522.8 342.5h0M522.9 385.5h0M514.3 329h0M522.3 406.1h0M522.7 395h0M517.1 329.7h0M525.8 429.1h0M516.8 321h0M529.1 417h0M515.8 413h0M521.3 405.1h0M523.1 396.8h0M524.6 427.2h0M518.8 337.5h0M521 386h0M522.2 380.3h0M522.8 423.5h0M521.5 408h0M524 432h0M517.9 327.1h0M518.1 373.2h0M519.5 419.4h0M521.2 404.6h0M516.4 346.6h0M516.2 322.1h0M519.2 345.2h0M521.3 381.5h0M516.4 318.9h0M522.7 411.9h0M517.5 372.2h0M520.8 394h0M519.9 364.2h0M518.1 347.5h0M516.2 363.2h0M520.3 365.5h0M521.2 352.7h0M517 326.8h0M524.9 365.9h0M516.8 338.8h0M520.5 366.4h0M519.7 318.5h0M524.3 404.5h0M522.7 404.4h0M518.3 321.5h0M520.9 361.5h0M526.4 413.3h0M519.5 346.4h0M520.8 360.2h0M523.5 436.3h0M522.6 375h0M525.1 434.9h0M523.2 400.5h0M516.9 360.4h0M521.6 392.8h0M527.7 408.5h0M525.3 388.8h0M521.4 356.7h0M525.5 391.3h0M518.7 397.2h0M518.5 330.9h0M523.7 389.5h0M533.2 337.5h0M525.2 326.3h0M517.7 317.3h0M538.4 345.5h0M523 325.1h0M529.4 338.6h0M546 357.7h0M536.2 347.3h0M538.5 351.4h0M541.2 353.9h0M529 340.6h0M529.6 334.4h0M527 331.7h0M540.9 350.7h0M546 360.8h0M528.1 333h0M515.5 321h0M542.5 354.8h0M528.7 338.2h0M525.6 330.2h0M534.8 354.8h0M520.1 326.7h0M537.9 351.7h0M524.6 330.8h0M542.4 360.1h0M527.6 343.4h0M532.3 336.8h0M523.4 329.2h0M524.5 327.1h0M541 348.8h0M525.7 326.4h0M530.3 340.4h0M535.6 341.9h0M536.4 349h0M532 338.8h0M541.3 350.1h0M546.2 370.5h0M519.5 317.9h0M545.8 357.9h0M545.3 355.5h0M515.9 330.4h0M521.9 325.7h0M522.3 324.8h0M530.6 343.9h0M525.2 327.6h0M520 317.8h0M532.2 345.6h0M543.6 355.7h0M538.3 345.6h0M521.7 320.3h0M529.7 338.8h0M531.9 347.7h0M528.2 329.2h0M531.4 339.4h0M521.6 320.7h0M532.7 345.3h0M535.2 342.7h0M522.2 323.6h0M528.2 354.9h0M531.3 339h0M543 353.8h0M528.8 333.7h0M519 326.7h0M535.7 350.7h0M545.4 356.8h0M526.2 334h0M540.3 347h0M531.3 336.8h0M530.5 341.1h0M524.6 337.9h0M543.4 364.2h0M539.4 346.5h0M516.3 322.5h0M535.9 346.2h0M547.6 360h0M527.7 332.6h0M522 320.8h0M530.2 342.1h0M535.8 341.3h0M533.6 342.3h0M534.1 340.2h0M538.6 347.5h0M554.3 668.1h0M561.7 677h0M577.1 690.3h0M579.2 702.3h0M558.2 664.3h0M565.7 667.4h0M582.4 706h0M594.6 717.3h0M566.1 685.2h0M574.7 695.2h0M558.8 674.3h0M597.8 699.5h0M547.8 651.8h0M557.4 673.4h0M553.3 655.9h0M570.3 685.3h0M567.6 675.1h0M544.9 650.9h0M557.8 661.8h0M550.4 652.8h0M562.7 666.8h0M554.8 658.5h0M575.9 694.1h0M563.2 680.9h0M582.4 693.2h0M552.2 661.7h0M558.7 673.6h0M563.6 665.8h0M571.4 688h0M588.2 699.2h0M581.4 702.4h0M558.1 662.6h0M549.3 655.4h0M548.4 655.9h0M591.3 720.2h0M550 658.2h0M570.4 690.4h0M569.1 682.4h0M596.7 715.2h0M559.1 668.9h0M557.4 669.3h0M569.6 688.3h0M573.6 692.7h0M548.1 650.5h0M579.6 701.2h0M578.2 698.8h0M662.8 799.9h0M650.9 801.6h0M633.6 781.6h0M655.7 796.1h0M662.8 805.5h0M680.5 805.8h0M674.2 811.3h0M621.1 771.5h0M637.6 789.3h0M645.4 792.8h0M613.4 757.1h0M677.1 803h0M637.3 766.3h0M663.1 793.3h0M654.3 802.1h0M608.5 762.8h0M656.5 801.7h0M667.3 807.2h0M623.1 769.1h0M622 771.6h0M626 769h0M667.9 802.8h0M630.6 777.8h0M683.6 808.6h0M627.1 785h0M669.3 808h0M605.6 755.5h0M609.3 760.7h0M613.5 768.1h0M632.7 792.5h0M619.7 777.3h0M632.8 784.2h0M673 808.3h0M683 802h0M630.5 775.4h0M631.2 784.8h0M636.6 784.2h0M642.8 782.4h0M634.1 787.7h0M631.5 776.2h0M634.4 791.9h0M656.8 806.5h0M646 800.1h0M609.3 762.8h0M633 784.6h0M644.9 787.5h0M616.6 773h0M629 785.4h0M648.7 793h0M675.9 800.5h0M654.4 800.5h0M636.3 793.1h0M652.2 794.6h0M625.6 781.2h0M660.3 802.4h0M677.8 806.8h0M678.5 805.9h0M682.5 801.8h0M680 805.7h0M676.9 804.9h0M664.7 804.9h0M672.3 802h0M672.2 802h0M662.1 801.6h0M670.2 800.2h0M671.5 799.8h0M670.6 804.6h0M665.3 801.9h0M668.2 793.5h0M678.9 806.6h0M683.1 805.9h0M669.2 806.1h0M665.4 804.4h0M677.8 801.2h0M664.2 801.4h0M664.8 803.3h0M660.9 801.1h0M676.1 807h0" stroke="#000" stroke-width="1.6" stroke-linecap="round" fill="none"/><path d="M573 496h0M576.5 554.9h0M608.8 594.8h0M600.5 454.7h0M626.6 608.3h0M573.1 522.3h0M564.2 532.5h0M580.8 486.5h0M567.4 500.2h0M561.4 504h0M562.5 485.3h0M572.6 557h0M622.5 588.4h0M601.1 601.8h0M585.7 521.9h0M556.4 553h0M543.1 511.5h0M571 447.7h0M607.5 588.8h0M607.4 597.3h0M604.1 471.2h0M576.8 592.8h0M592.4 454.5h0M576.1 520.6h0M568 481h0M568 542h0M608.5 597.3h0M548.7 523.9h0M575.6 488.7h0M579.3 474h0M571.4 532.2h0M588.3 589.2h0M597.9 561.7h0M566.2 544.8h0M572.1 554.1h0M589.8 600.5h0M566.7 511.7h0M577.4 554.9h0M596.8 461.4h0M570.5 540.9h0M590.8 591.5h0M638.4 614.7h0M571.4 512.9h0M606.8 600h0M570.4 497.3h0M564.1 523.6h0M566.2 561.9h0M596.2 587.7h0M574.6 550.4h0M643.1 625.8h0M640.6 622.3h0M570.4 499.7h0M575.1 557.6h0M563.4 522h0M561.9 432.8h0M633.8 618.4h0M574.9 573.4h0M570.2 492.1h0M572.3 530.4h0M651.9 628.9h0M616.6 595.9h0M584.4 563.9h0M595.5 557.9h0M624.5 518.8h0M607.7 532h0M629.4 559.8h0M644.9 618.2h0M606 467.5h0M604.5 448.6h0M625.3 607.9h0M611.6 528.6h0M605.7 491.5h0M619.4 506.8h0M610.5 488.4h0M599.4 447.7h0M624.3 576h0M618.3 558.1h0M625.6 569.9h0M615.4 590.5h0M644.4 619.2h0M619.6 565.6h0M622 500.3h0M612.1 463.3h0M648.1 633.4h0M622.9 576.8h0M609.2 496.5h0M637 602.9h0M620.2 573.7h0M610.4 447.5h0M642.9 636.9h0M615.7 479.3h0M617.4 518.3h0M649.6 627.7h0M621.9 577.1h0M605 480.9h0M621.8 514.4h0M613.1 486.9h0M613.6 543.2h0M615.2 571h0M628.6 569.1h0M618.8 579.5h0M615.3 511.8h0M641.7 624.8h0M626.3 545.5h0M626.5 602.1h0M615.9 556.5h0M637.7 610.7h0M631.8 604.9h0M614.3 504.8h0M596.6 448.3h0M626.4 517.5h0M625.4 558.1h0M614.7 497.9h0M621.7 557.5h0M618.8 521.9h0M635.8 626.2h0M603.8 481.1h0M629.9 580.2h0M601.8 458.9h0M619.6 510.5h0M622.5 560.2h0M578.1 448.1h0M598 458.3h0M609 447.1h0M606.6 453.9h0M586.3 463.4h0M607.5 454.4h0M596.2 437.8h0M604.3 441.6h0M596.2 436.1h0M594.5 437.8h0M609.3 431.6h0M599.8 443h0M594.6 445.2h0M595.8 439.3h0M612.7 439.8h0M602.7 453.1h0M597.6 442.1h0M634 650.3h0M619.2 610h0M637.1 651.9h0M647.3 633.9h0M648.5 637.8h0M617.1 623h0M639.6 648.9h0M643.7 614h0M604.1 604.1h0M645.8 617.6h0M645 634.2h0M593.7 589.7h0M611.5 605.7h0M634.6 630.2h0M605.1 595.3h0M616.1 618.2h0M642 616h0M631.3 626.5h0M614 609.7h0M614.2 604.5h0M630.5 625.4h0M611.9 607.1h0M629.7 581.2h0M609.8 598.5h0M662 674.2h0M667.5 695.1h0M644.6 575.2h0M683.4 767.8h0M652.7 603.8h0M647.8 604.8h0M642.6 556.4h0M658.4 663.2h0M671.5 679.3h0M673 714.3h0M658.6 659.2h0M648.8 606.7h0M666.4 662.9h0M635 537.6h0M668.4 693.7h0M668.8 693.3h0M659.4 621.5h0M653.6 622.5h0M652.2 605h0M657.8 607.2h0M674.8 718.2h0M642.3 561.7h0M652.5 618.5h0M646.3 582.5h0M645.6 554.9h0M651.2 602.5h0M681.4 723.5h0M661.5 661.1h0M638 550.3h0M643.3 540h0M652.4 614.1h0M652.2 585.1h0M607.9 440.6h0M609.4 439.9h0M608 446.9h0M601.5 435.2h0M621.8 505.4h0M605 439.2h0M602 467.7h0M608.4 450.2h0M609 449.7h0M628.9 512.8h0M610.2 443.7h0M606.7 463h0M632.5 529.2h0M607.6 446.3h0M617.4 478.6h0M605.5 457.3h0M620.3 500.8h0M631.5 524.7h0M626.7 524.4h0M608.8 436h0M624.6 503.5h0M604 471.6h0M608.4 452.9h0M622.6 506.6h0M625.9 506.5h0M604.4 513.8h0M525.1 525.7h0M519 499.8h0M530 548.1h0M597 657.8h0M603.6 660.2h0M558.3 605.7h0M522.4 508.5h0M520.2 506.8h0M588.3 642.9h0M575.4 633.6h0M560 606.1h0M592.8 648.5h0M541.9 578.4h0M551.3 585.7h0M521 471.8h0M525.4 471.6h0M526.5 513.9h0M521.7 454.1h0M607.7 666.6h0M547.3 591.1h0M528.3 543.5h0M574.2 628.8h0M523.1 448.5h0M521.6 492.7h0M522.6 515.7h0M518.9 491.7h0M535.4 562.8h0M522.3 511.7h0M519.4 505h0M523.7 471.2h0M520.6 482.1h0M603 655.1h0M585.8 639.1h0M550.7 593.2h0M520.1 500.6h0M522.7 475.3h0M534.7 555.9h0M534.2 553.3h0M569.7 620.5h0M531.5 548.4h0M532 343.8h0M545.9 355.1h0M533.2 335.6h0M539.9 345.6h0M578.4 408.8h0M571.1 403.1h0M541.8 348.9h0M552.5 363.2h0M523.9 359.4h0M523.3 320.1h0M599.6 440.2h0M531.5 344.3h0M589.3 427.8h0M566.9 383.6h0M526 324.2h0M550 365.6h0M551.8 373.7h0M594 424.8h0M521.6 411.3h0M511 324.6h0M521.7 401.7h0M522.4 369.5h0M519.4 347h0M525.6 387.2h0M520.7 357.2h0M518.4 355h0M524.1 394.5h0M523.6 406.5h0M518.7 355.9h0M525.9 381.9h0M523.7 399.4h0M522.5 430.2h0M522.9 421.5h0M520 345.4h0M519.6 361h0M516.6 361.5h0M518.9 321.4h0M523.6 434.2h0M518.8 334.7h0M525.4 427.4h0M521.8 364.6h0M522.3 374.8h0M520.9 419.7h0M523 432.3h0M518.7 324.9h0M525 389.1h0M520.4 327.5h0M519.5 341.9h0M523.9 391.5h0M528.9 412.8h0M522.2 371.8h0M523.3 399.8h0M525.9 385h0M524.9 383.6h0M524.2 412.8h0M523.3 396.7h0M517.6 329.9h0M524 402.8h0M522.1 366.5h0M514.1 323.5h0M519.2 429.8h0M520.8 349.4h0M519.7 363.1h0M524.6 410.5h0M522.2 414h0M525.6 391.6h0M523.5 365.8h0M524.5 365.6h0M525 354.8h0M520 327.7h0M518.6 318.1h0M531.4 334.8h0M515.4 319.6h0M517.2 316.2h0M528.5 340.8h0M533.8 342.2h0M538.6 348.5h0M527.6 329.9h0M517.3 323.7h0M546.7 360h0M524.9 337.1h0M536.2 345.8h0M527.6 331.4h0M523.9 327.6h0M518 317.5h0M545.2 360.7h0M522.3 323.1h0M531.5 341.9h0M518.5 317.9h0M529.1 335h0M526.4 326.4h0M539.2 351.8h0M540.6 355.1h0M538.1 345.2h0M528.4 358.3h0M516.2 317.5h0M553.5 668.2h0M575.9 697.5h0M554.5 665h0M592.2 699.9h0M552.2 664.2h0M556.9 671.3h0M559.7 672.5h0M591 720.3h0M583.9 684.3h0M551.4 657.9h0M551.8 658.8h0M555.6 665.6h0M595 716.6h0M564.8 674.2h0M587.1 713.1h0M567.8 684.9h0M559.6 671h0M557.5 662h0M555.4 668.6h0M563.7 673.6h0M560.7 674.6h0M546.9 653.6h0M594 712.8h0M549.7 655.9h0M647.9 790.3h0M607.1 755.3h0M623.3 779.9h0M633.5 791h0M607.4 754.1h0M619.3 773.1h0M612.9 766.5h0M672.1 803.9h0M607.9 761.3h0M676.9 801.6h0M616.6 766.2h0M667.4 807h0M620.1 774.3h0M681 805.2h0M645.4 786.4h0M621.9 773.9h0M615.7 761.4h0M658 793.1h0M674.7 808.4h0M649.9 802.5h0M652.9 801.5h0M679 808.3h0M658.3 805h0M624.9 781.2h0M635.6 786.6h0M626.1 781.6h0M622.8 780.8h0M641.3 792.8h0M630.5 785.5h0M664.7 808.4h0M667 810.1h0M614.8 756.2h0M658 806.6h0M615.6 768.6h0M682 803.7h0M671.1 804.2h0M662.5 801.8h0M675.9 802h0M671.9 806.8h0M668.5 801.5h0M662.8 803.6h0M665.2 803.7h0M663.4 801.2h0" stroke="#000" stroke-width="1.2" stroke-linecap="round" fill="none"/></g><path d="M548 240.5C546 240.8 539.7 241.2 536 242C532.3 242.8 528.8 243.8 526 245C523.2 246.2 521.2 247.7 519 249.5C516.8 251.3 514.6 253.6 513 256C511.4 258.4 510.2 261 509.5 264C508.8 267 508.2 266.9 508.5 274C508.8 281.1 510.1 296.5 511 306.5C511.9 316.5 513.2 322.8 514 334C514.8 345.2 515.7 360.5 515.5 374C515.3 387.5 513.8 400.3 513 415C512.2 429.7 511.6 449.8 511 462C510.4 474.2 509.2 474 509.7 488C510.2 502 511.5 528.7 514 546C516.5 563.3 520.2 576.6 524.7 592C529.2 607.4 536.5 626.8 541 638.5C545.5 650.2 548 654.6 552 662C556 669.4 560.3 675.9 565 682.6C569.7 689.3 576 697.1 580 702C584 706.9 586.8 708.7 589 712C591.2 715.3 591.2 716.5 593 722C594.8 727.5 597.3 738.2 600 745C602.7 751.8 605.7 757.1 609 763C612.3 768.9 616.2 775.2 620 780.5C623.8 785.8 627.8 790.8 632 795C636.2 799.2 641.2 802.6 645.5 805.6C649.8 808.6 653.8 811.1 658 813C662.2 814.9 666.8 816.3 670.6 817C674.4 817.7 678.1 817.6 681 817C683.9 816.4 686.3 814.8 688 813.5C689.7 812.2 690.5 809.8 691 809" stroke="#000" stroke-width="3" fill="none" stroke-linecap="round"/><path d="M604 336C604.2 340 604.5 349.3 605 360C605.5 370.7 606.4 388 607 400C607.6 412 607.5 421.7 608.5 432C609.5 442.3 610.5 452 612.8 462C615 472 618.5 480.7 622 492C625.5 503.3 629.9 514.8 633.6 529.6C637.3 544.4 640.7 563.2 644 580.6C647.3 598 650.8 619.4 653.3 634C655.8 648.6 657.2 658.7 659 668C660.8 677.3 662.1 682.5 664 690C665.9 697.5 668.6 704.5 670.6 712.8C672.6 721.1 674.3 731.6 676 740C677.7 748.4 679 754.7 680.7 763C682.4 771.3 684.3 782 686 790C687.7 798 688.4 801.9 690.7 810.7C693 819.5 697.1 833.1 700 843C702.9 852.9 705.3 860.9 708 870C710.7 879.1 714.7 892.9 716 897.5" stroke="#000" stroke-width="2.8" fill="none"/><path d="M519 314C522.5 319.2 532.3 333.7 540 345C547.7 356.3 556.7 369.5 565 382C573.3 394.5 582.5 409 590 420C597.5 431 606.7 443.3 610 448" stroke="#000" stroke-width="3.6" fill="none" stroke-linecap="round"/>
<path d="M1059 791.1h0M1059.7 793.8h0M1089.8 667.2h0M1050.9 720.5h0M1049 770.9h0M1047.5 745.5h0M1051.5 765.9h0M1093 817h0M1048.9 779.1h0M1064.1 700.1h0M1053.5 727h0M1058.9 791.4h0M1117.8 827h0M1059.4 801.5h0M1048.7 762.8h0M1051.9 757.4h0M1059.8 701.1h0M1052.6 770.3h0M1067.7 815.6h0M1065.4 800.6h0M1046.1 724.6h0M1115.9 825.6h0M1055.3 786h0M1065.7 801.9h0M1041 751.4h0M1118.8 826.7h0M1050.4 767h0M1054.5 787.8h0M1112.8 827h0M1082.7 813.2h0M1068.3 801.8h0M1039.5 752.2h0M1050.7 761.1h0M1076.6 809.2h0M1063.3 701.4h0M1049.3 765.1h0M1095 818.2h0M1042.6 749.8h0M1048.4 752.6h0M1052.6 767.9h0M1085.8 815.1h0M1096.8 820.8h0M1076.6 810.3h0M1099.2 821.2h0M1061.4 698.8h0M1051.2 785.6h0M1078.3 812.7h0M1087 814.4h0M1046.1 728.5h0M1107.2 823.8h0M1088.5 814.6h0M1095.4 821.8h0M1085.1 814.5h0M1102.3 822.2h0M1077.1 809.8h0M1064.3 695.2h0M1062.2 807.4h0M1052.8 770h0M1093.7 823.8h0M1167.2 842.4h0M1128.6 828.2h0M1122.1 828.2h0M1121.7 828.3h0M1153.7 840.3h0M1109.9 823.6h0M1116.5 826.4h0M1124.9 829.8h0M1126.5 827.9h0M1164.8 842.5h0M1133.6 830.8h0M1150 837.3h0M1138.3 833h0M1140.4 834.2h0M1106.9 817.3h0M1163.9 845.7h0M1106.6 821.6h0M1153.2 842.3h0M1157.4 841.2h0M1129.1 830.6h0M1130.7 828h0M1159.9 845.9h0M1170.8 842.7h0M1160.4 841.8h0M1151.9 840h0M1125 828.2h0M1123.4 825.4h0M1131.6 830.1h0M1172.3 847h0M1132.1 831.8h0M1167.1 840.6h0M1162 842.9h0M1174.7 845.9h0M1123.1 829.2h0M1137.9 835.1h0M1142.9 835.3h0M1167.3 842.9h0M1120.8 827.2h0M1128.2 828h0M1133.5 830h0M1134.7 829.4h0M1170.8 844.8h0M1175.1 844.7h0M1143.2 835.7h0M1122.9 827.8h0M1160.6 843.7h0M1157.1 666.1h0M1168.5 601.7h0M1160.9 648.2h0M1152.5 638.8h0M1123.9 752.3h0M1133.5 657.7h0M1164 675.8h0M1140.2 691.5h0M1148.3 690.8h0M1162.2 714.4h0M1158.3 640.4h0M1132.5 658.1h0M1114.2 722.8h0M1172.6 694.2h0M1130.7 655.8h0M1154.5 616.5h0M1163.5 605.5h0M1165.6 685.1h0M1133.4 653.3h0M1184.5 598h0M1139 703.8h0M1153 627.3h0M1149.3 638.4h0M1171.5 654.2h0M1152.7 710.7h0M1183.9 560.3h0M1170.8 594.5h0M1189.6 575.5h0M1147.3 643.3h0M1149 722.4h0M1150 635.9h0M1182.1 564.4h0M1147.4 689.7h0M1163.3 698.1h0M1123.6 676.5h0M1161.1 653.8h0M1184.6 675.5h0M1139.1 660.1h0M1160.8 701.6h0M1177.4 630.9h0M1135.2 673.8h0M1129.4 735.8h0M1144.9 638.8h0M1113.6 701h0M1096.4 729.1h0M1146.4 712.1h0M1181.6 601.5h0M1133.1 700h0M1175.1 597.3h0M1176.8 637.9h0M1139.6 674.9h0M1166 711.4h0M1128.8 710.6h0M1152.2 621.8h0M1133.4 680.1h0M1142.8 648.2h0M1147.8 639h0M1110.3 729.7h0M1196.8 580.5h0M1183.9 579h0M1181.2 642.9h0M1149.8 629.9h0M1125 710.3h0M1124 693.6h0M1144.5 635h0M1175.1 628.7h0M1150.8 672.9h0M1160.1 645.4h0M1153.2 755.5h0M1162.6 665.8h0M1148.7 682h0M1127.9 699.9h0M1177.4 752.2h0M1136.5 672.7h0M1134.2 702.3h0M1160.8 620.1h0M1127.1 706h0M1122.9 702.4h0M1166.8 591.2h0M1116.3 701h0M1174.8 636.6h0M1151.6 644.2h0M1145.9 646.7h0M1112 689.8h0M1165.1 643.8h0M1160.2 651.8h0M1154.2 677.6h0M1114.9 724.8h0M1116.6 694.4h0M1185 582h0M1192.4 657.7h0M1162.8 716.8h0M1179.5 673.4h0M1159.6 659.5h0M1105.8 719.3h0M1176.2 723.2h0M1151 705.7h0M1169.9 661h0M1135.3 694.8h0M1188.9 593.6h0M1159.7 621.4h0M1146.4 655.6h0M1194.8 579.8h0M1187.2 589.9h0M1152.1 668.7h0M1180.7 569.8h0M1149 664h0M1161.7 637.5h0M1149.2 653.6h0M1111.6 697.2h0M1153.5 643h0M1127.8 684h0M1140.3 716h0M1125.5 686.5h0M1152.9 645.1h0M1188.8 576.6h0M1153.1 678.4h0M1172.6 636.5h0M1174.2 650.9h0M1163.8 703.1h0M1174 576.9h0M1186.5 560.7h0M1128.4 742h0M1140.4 707.7h0M1195.1 586.3h0M1134.9 740.7h0M1189.4 583h0M1169 662.4h0M1121.4 689.2h0M1175.5 653.1h0M1108.4 711.7h0M1192.9 574.6h0M1107.6 731h0M1173.3 592.6h0M1130.5 663.3h0M1113.3 701.9h0M1190.8 674.4h0M1143.7 657.6h0M1130.4 691.3h0M1102.6 722.5h0M1184.9 579.6h0M1187.7 631.1h0M1147.9 696.3h0M1178.4 681.5h0M1137 726.7h0M1181.6 726.6h0M1159.7 690.1h0M1123.2 741.4h0M1184.2 563.4h0M1176.9 616.7h0M1158 745.4h0M1132 680.9h0M1181.7 571.9h0M1137.1 676h0M1191.1 621.8h0M1143.2 717h0M1176.7 614.7h0M1170.2 684.7h0M1165.8 617.4h0M1164 632.6h0M1171.3 624.3h0M1155.4 645.6h0M1146.7 716.5h0M1147.2 633h0M1143.3 670.3h0M1164.3 593.8h0M1195.2 658.7h0M1145.7 673.5h0M1194.2 584.4h0M1173.5 582.2h0M1163.6 651.6h0M1155.4 628.6h0M1104.3 711.5h0M1126.4 661.4h0M1182.8 577.1h0M1160.2 705.4h0M1142.4 641.7h0M1134.3 688h0M1154.3 716.4h0M1175.1 699h0M1137.1 721.1h0M1168.8 592.4h0M1163.7 657.2h0M1137.5 698.3h0M1141 652.2h0M1145.7 645h0M1169 722.5h0M1120.2 745.9h0M1142.2 725.6h0M1149.5 692.5h0M1156.2 705.8h0M1165.5 680.6h0M1136.7 710.1h0M1150.5 717.9h0M1156.7 629.1h0M1139.3 731.9h0M1135.6 744.2h0M1136.3 692.5h0M1126.4 727.1h0M1136.6 655.4h0M1105.6 697.6h0M1168.2 629.8h0M1143.8 672.6h0M1127.5 742.6h0M1165.9 596h0M1136.5 692.9h0M1167.8 632.4h0M1170 610.7h0M1095.1 727.5h0M1157.9 638h0M1170.9 628.9h0M1170.8 597.6h0M1174.7 680.3h0M1101.5 708.6h0M1104.8 707.2h0M1153.6 684.2h0M1149.5 692.2h0M1171.9 661.2h0M1152.4 664.1h0M1112.8 703h0M1174.8 597.4h0M1121.8 721.5h0M1115.6 700.9h0M1145.3 628.3h0M1113.8 693.8h0M1152.7 626h0M1171.7 688.9h0M1113.7 698.2h0M1141.7 632.4h0M1173.8 590.3h0M1186.4 579.1h0M1182.6 642.8h0M1118.6 725.3h0M1142.5 757.2h0M1189.1 612.1h0M1101.7 704.4h0M1178.4 590.3h0M1160.1 612.7h0M1188.7 596.1h0M1134.5 692.2h0M1154.8 719h0M1146.7 704h0M1160.4 677.3h0M1139.6 640.1h0M1109.5 697.6h0M1160.9 645.4h0M1177.6 699.9h0M1167.7 646.7h0M1140.9 744.4h0M1148.3 652.8h0M1138.6 692.3h0M1155.4 611.5h0M1178 581.2h0M1184.9 568h0M1122.3 693.7h0M1158.1 644.3h0M1165.2 641.5h0M1174.3 609.2h0M1166.2 690.5h0M1154.4 699.1h0M1130.9 679.3h0M1139.3 682.8h0M1145.2 731.3h0M1158.1 611.7h0M1174.1 636.7h0M1188.2 719.2h0M1112 725.9h0M1107.4 725.8h0M1187.3 570.5h0M1177 719.3h0M1131.9 690.2h0M1107.5 700h0M1157.7 711.9h0M1153.5 670.2h0M1139.4 710.3h0M1153 645.9h0M1124 718.6h0M1168.1 589.1h0M1118.2 743.8h0M1148.9 622.3h0M1140.4 753.9h0M1173 589.4h0M1162.2 701.5h0M1120.6 724.2h0M1159.2 686.5h0M1153.9 734.9h0M1163.2 688.3h0M1113.5 804.4h0M1125.4 762h0M1088.7 764.3h0M1152 774h0M1189.5 792.1h0M1094.2 772.3h0M1157.9 811.8h0M1114.7 772.9h0M1117.7 772.4h0M1110.9 755.4h0M1181 810.6h0M1105.1 769.5h0M1193.4 783.5h0M1127.6 766.3h0M1111.3 807.4h0M1163.4 769h0M1123 814.2h0M1092.9 762.6h0M1116.5 756.5h0M1134.6 781h0M1166.5 771.1h0M1124 769.6h0M1099.3 774.4h0M1152.2 768.6h0M1100.4 795.7h0M1174.9 781h0M1099.1 803.6h0M1110.4 784.1h0M1187.2 785.3h0M1170.6 764.3h0M1135.1 768.8h0M1089.7 759.4h0M1194.9 822.9h0M1103.5 802.1h0M1179 790.1h0M1086.9 755.6h0M1195.8 786h0M1184.7 784.3h0M1097.5 752.2h0M1131.3 775.4h0M1133.6 759h0M1180.2 773.2h0M1126.2 777.3h0M1181.2 787.9h0M1117.3 778.1h0M1170.6 779.7h0M1095.1 749h0M1091.7 771.2h0M1085.3 758h0M1093.1 762.6h0M1147.2 785.3h0M1160.9 764.2h0M1145.5 777.9h0M1176.8 771.1h0M1110.4 771.2h0M1181.1 771h0M1108.7 773.6h0M1109.5 787.3h0M1152.3 772h0M1119.6 761.7h0M1105.9 810h0M1099.2 766.3h0M1099.4 760h0M1114.1 805.6h0M1191.8 774.9h0M1167.8 809.9h0M1117.2 757.5h0M1135.9 772.4h0M1126.1 774.5h0M1118.7 759.4h0M1122.7 749.1h0M1112.8 779.7h0M1184.3 809.4h0M1091.1 771.1h0M1189.8 780.9h0M1150 779h0M1158.3 809.8h0M1187.8 829.2h0M1115.3 761.5h0M1172.5 782.1h0M1148.8 811.4h0M1157.3 782.6h0M1188.4 779.3h0M1153.3 775.1h0M1155.3 774.4h0M1165.5 779.6h0M1132.5 811.4h0M1148.8 812.4h0M1176.4 776.1h0M1124 767.9h0M1184.4 785.8h0M1165.3 767.9h0M1115.1 800.7h0M1157 766.5h0M1112 805.4h0M1176.7 775.2h0M1134.1 808.5h0M1186.7 775.5h0M1161.5 808.3h0M1167.4 777.5h0M1104.9 751.4h0M1140.4 760.6h0M1191.9 785h0M1091.4 803.4h0M1163.1 781.5h0M1191.4 782.4h0M1195.4 768.6h0M1118 772.1h0M1133 766.6h0M1104.4 773.4h0M1130.1 762.5h0M1160 780.6h0" stroke="#000" stroke-width="1.2" stroke-linecap="round" fill="none"/><path d="M1075.9 809.6h0M1086 814.4h0M1072.3 808.4h0M1041.4 745.4h0M1055.1 706.6h0M1062.6 702.3h0M1054.9 790.4h0M1060.4 791.9h0M1061.9 705.8h0M1046 724.8h0M1056.2 697.9h0M1049.3 759.4h0M1051.8 764.5h0M1108.1 824.9h0M1059.7 797.8h0M1043.5 762.3h0M1051.8 753.3h0M1104.1 827.7h0M1092 822.8h0M1071 805.4h0M1061.4 704.8h0M1061.1 795.5h0M1053.2 724.2h0M1052.8 719.3h0M1096.6 819.9h0M1043.3 749.9h0M1055.6 720.7h0M1113.8 826.3h0M1053 765.8h0M1062.5 802.4h0M1046.1 743h0M1058.6 708.1h0M1063.1 809.3h0M1108.1 825.6h0M1052.7 765.5h0M1050.9 729h0M1062.6 797h0M1056.2 710.5h0M1100.9 826.8h0M1097.6 824.4h0M1052.6 704.1h0M1064.5 697.3h0M1068.6 802.9h0M1094.1 823.2h0M1062.4 698.9h0M1048.4 767.7h0M1054.8 722.4h0M1049.6 773h0M1052.4 736.4h0M1047.6 732.1h0M1051.3 737.5h0M1056.6 784.8h0M1057.1 709.7h0M1098.2 656.1h0M1060 797.4h0M1050 734.1h0M1088.6 818.6h0M1050.6 760h0M1049.6 737.3h0M1051.6 729.8h0M1052 771.3h0M1058.3 710.8h0M1091.6 816.7h0M1078.7 811.9h0M1051.1 745.2h0M1100.3 821.8h0M1077.4 811.9h0M1052.7 727.3h0M1045.5 763.7h0M1085.2 813.7h0M1117.7 830.9h0M1109 826.3h0M1071.1 691.8h0M1106.6 822.1h0M1056.3 785h0M1079.3 813h0M1084.2 814.9h0M1054.7 717.7h0M1049.9 763.6h0M1105.1 824.6h0M1058.3 790.2h0M1061.6 793.6h0M1068.2 811.8h0M1066 807h0M1065.8 807.2h0M1055.4 798.7h0M1049.6 754h0M1101 821h0M1085 671.4h0M1108.4 831.1h0M1063 802.9h0M1061.8 701.2h0M1050.5 748.6h0M1055 781.2h0M1049.1 734.7h0M1070.8 805.4h0M1075.6 808.2h0M1051.7 778.4h0M1094.5 818.3h0M1094.6 824h0M1100 648.4h0M1110.4 825.4h0M1101.2 845h0M1100.9 827.9h0M1073.7 806.3h0M1085.4 812h0M1095.8 820.5h0M1050.9 733.8h0M1086.5 666.7h0M1047.2 745.6h0M1056 716.9h0M1050 733.6h0M1049 751.1h0M1048.3 750.7h0M1058.1 801.2h0M1062.6 682.5h0M1051 750.5h0M1063.2 797.6h0M1053.3 787.6h0M1102.6 826.8h0M1054.9 720.5h0M1052.3 769.5h0M1051.7 733.8h0M1055.5 788.6h0M1051.7 737.4h0M1087.2 815.1h0M1106 823.9h0M1101.3 820.7h0M1051.5 737.1h0M1053.7 714.6h0M1052.8 734h0M1048.1 761.5h0M1053.7 705.4h0M1053.5 727.4h0M1087.8 818.7h0M1054.5 723h0M1062.8 806.8h0M1070.4 802.9h0M1075.3 681.6h0M1062.6 703.8h0M1051.8 736.4h0M1050.5 770.8h0M1051.1 741.5h0M1062.5 699.3h0M1051.4 767.1h0M1058.6 711.4h0M1051.6 749.9h0M1046 742.4h0M1113.6 829.9h0M1050.8 750.3h0M1050.3 750.6h0M1050 747.4h0M1051.5 770h0M1049.3 779.1h0M1060.7 705.9h0M1082.4 817.2h0M1074.9 819h0M1055.4 783.3h0M1062.6 698.9h0M1074.3 683.8h0M1072.6 807.4h0M1072.5 809.8h0M1053.2 726.4h0M1050.7 726.2h0M1094 820.4h0M1052.1 776.9h0M1074.2 807.5h0M1051.2 765.9h0M1087 666.6h0M1049.9 773.2h0M1066.3 802h0M1085.3 821.1h0M1067.6 801.8h0M1085.4 814.1h0M1106.2 834.2h0M1049.8 731.8h0M1054.1 775.6h0M1061.3 794.4h0M1073.1 804.8h0M1083.7 815.4h0M1060 704.7h0M1115 827.2h0M1046.3 743.9h0M1052.9 771.2h0M1079.4 819.4h0M1053.6 778.4h0M1073 685.6h0M1117.3 827.6h0M1051.6 770.5h0M1057.4 786.8h0M1051.9 730.6h0M1113.1 825.7h0M1050.7 746.3h0M1068.5 693.4h0M1048.5 747.6h0M1110.7 824.5h0M1094.9 818.2h0M1098.5 825.6h0M1072 684.9h0M1083.6 812.8h0M1049.8 729.8h0M1058 705.9h0M1083.7 814.2h0M1042.8 754.8h0M1053.5 774.4h0M1068.6 803.9h0M1050.4 736.2h0M1059.3 799.4h0M1057 714.3h0M1051.2 774.8h0M1052.5 780.3h0M1094.1 822.2h0M1052.8 779.3h0M1077.1 817.7h0M1036.9 766.3h0M1047.5 769.3h0M1050.9 727.6h0M1062.4 796.5h0M1077.7 810.5h0M1067.9 802.1h0M1049.3 720.6h0M1055.5 781.2h0M1055.8 782.2h0M1072.9 806.8h0M1050.9 730.2h0M1118.1 828.7h0M1065.4 799.7h0M1056.7 714.2h0M1104.5 821.9h0M1058.6 793.5h0M1115.6 830.5h0M1048.5 752.4h0M1152.4 837.6h0M1129 828.6h0M1143.7 837.1h0M1123.2 827.1h0M1111.3 825h0M1116.4 823.9h0M1147.5 833.2h0M1155.9 840.6h0M1171.7 846.3h0M1146.6 835.9h0M1146.1 835.2h0M1169.7 842.7h0M1160.6 841.6h0M1150.4 837.3h0M1174.3 844.9h0M1172.2 843.9h0M1166.1 843.2h0M1110.7 820.9h0M1167.4 843.9h0M1140.4 832.6h0M1160.7 842.2h0M1156.1 840h0M1108.5 823.9h0M1115.9 828.5h0M1163.1 844.2h0M1132.5 831.4h0M1143.7 835.9h0M1120.9 829h0M1168.9 843.2h0M1123.1 829.6h0M1156.9 839.2h0M1130.5 832.1h0M1122.4 830.8h0M1114.4 825.1h0M1116.6 827.9h0M1155.4 839.3h0M1115.7 824.4h0M1134.4 832.1h0M1117.4 826h0M1117.3 827.5h0M1134.7 830.9h0M1143 835.3h0M1154 836.4h0M1110 822.5h0M1178.2 845h0M1146.1 833.7h0M1123.3 827.2h0M1110.7 825.7h0M1132.6 835.1h0M1133.5 830.3h0M1178.1 844.9h0M1155.5 843.3h0M1160.7 842h0M1130.3 829.5h0M1142.6 837.4h0M1118.4 825.2h0M1155 840.3h0M1139.7 835.9h0M1107.4 822.1h0M1171.8 846.3h0M1173.2 617.7h0M1178.2 607.3h0M1172 690.9h0M1169.7 614.6h0M1120.4 674.1h0M1151.3 657.6h0M1157.1 622.7h0M1127.6 662.5h0M1146.8 663h0M1148.6 632.7h0M1134.3 696.2h0M1192 605.5h0M1161.6 678h0M1164 635.8h0M1157.7 730.7h0M1150.1 695.9h0M1126.2 715.3h0M1130.9 681.8h0M1163.9 669.8h0M1162.7 618.3h0M1135.2 714.3h0M1149.6 695.2h0M1187.7 617.6h0M1150.4 648.8h0M1114.6 738.4h0M1165.4 737.9h0M1120 696.3h0M1180.8 575h0M1126.8 710.1h0M1191.4 643h0M1145.3 652.4h0M1176.2 606h0M1146.3 673h0M1161.1 700.5h0M1133.6 710.4h0M1181.1 583.2h0M1130.1 674.4h0M1176.1 676.5h0M1111.8 717.7h0M1123.5 677.8h0M1138.6 673.6h0M1131.3 685.7h0M1112.5 727.1h0M1108.2 728h0M1131.2 676.1h0M1186.8 596.3h0M1181.6 604.6h0M1119.1 683.1h0M1177.7 614.3h0M1128.9 676.6h0M1163.5 640.1h0M1193.5 561.5h0M1110.6 709.9h0M1152.8 651h0M1196.4 592.6h0M1125.1 722.5h0M1150.7 638.4h0M1114.4 713.9h0M1136.4 662.7h0M1153.1 708.3h0M1113 731h0M1159.4 635.1h0M1137.7 666.3h0M1158.5 616.5h0M1144 687.1h0M1148 660.3h0M1138.2 688.4h0M1133.2 653.5h0M1149.8 746h0M1125.2 751.9h0M1182.3 602.6h0M1188.9 583.3h0M1151.6 653h0M1113.8 718.4h0M1145 650.5h0M1139.7 646h0M1166.3 619.7h0M1181.8 568h0M1167.1 602.2h0M1168.4 647.8h0M1155.9 615.4h0M1176.8 621.3h0M1123.5 727h0M1150 630.5h0M1192.2 591.9h0M1150.9 701.2h0M1174.9 607.3h0M1124.5 720.9h0M1150.1 662.9h0M1153.3 635.9h0M1107.4 707.4h0M1109.5 703.3h0M1106.4 713.9h0M1166.7 636.8h0M1144.3 645.2h0M1165.6 622.6h0M1176.9 618.7h0M1187.2 562h0M1154.9 696.3h0M1156.8 730.9h0M1187.7 593h0M1138.7 671.6h0M1174.2 656.4h0M1103.2 722.1h0M1144.6 641h0M1171 637.2h0M1194.8 567.7h0M1151.2 691.9h0M1097.8 721.7h0M1160 651h0M1160.2 705.2h0M1146.5 703.1h0M1186.3 613.4h0M1116.2 689h0M1171.2 582.7h0M1147.4 626.9h0M1117.9 702.4h0M1176.8 674.5h0M1133.5 670.8h0M1194.3 561.1h0M1161.1 638h0M1107.1 728.8h0M1155.6 610.6h0M1112.4 702.6h0M1120.9 722.8h0M1162.4 599.9h0M1107.8 694.3h0M1194.3 579.7h0M1100.5 709.7h0M1168.6 676.4h0M1144 685h0M1127.6 725.8h0M1128 745.9h0M1193.3 589.1h0M1185.9 612h0M1139.2 671.1h0M1188 586.2h0M1113.5 690.9h0M1148.6 636.4h0M1166.4 711.6h0M1147.6 644.8h0M1180.2 611.5h0M1167.3 634.4h0M1101.9 716.8h0M1139.8 674.9h0M1118.1 699.9h0M1159.9 636.4h0M1191.6 576.1h0M1154.2 688.8h0M1129.1 743.7h0M1096.6 715.3h0M1149 681.7h0M1188.6 563.2h0M1176.9 628.3h0M1134.7 668.8h0M1121.4 710.1h0M1179.8 616.4h0M1146.3 666.7h0M1163.6 605.2h0M1101.7 731.8h0M1179.2 570.7h0M1176.7 671.6h0M1111.9 691.6h0M1140.4 703.7h0M1173.4 643.7h0M1163.6 717.1h0M1133 690.2h0M1139.2 693.4h0M1138.4 685.9h0M1159.6 617.2h0M1100.8 713.1h0M1158.8 617.4h0M1160 629.9h0M1185.1 609.4h0M1186.2 588h0M1169.5 593.3h0M1192 641.7h0M1128.7 674.5h0M1151.2 676h0M1179.1 585.3h0M1153.4 643.3h0M1124.4 710.5h0M1160.3 656.9h0M1170.1 698.6h0M1116.1 705.2h0M1134.2 692.9h0M1147.8 736.3h0M1101.7 721.8h0M1147.6 633.3h0M1106.5 725.2h0M1125.7 669h0M1123.1 701.9h0M1096.7 714.3h0M1147.7 685.7h0M1159.3 671.5h0M1168.9 597.3h0M1172 738.8h0M1118 688.2h0M1182.8 574.7h0M1162.3 621.2h0M1134.5 688.8h0M1175.7 682.8h0M1173.2 677.3h0M1184.5 601.2h0M1175.9 647h0M1133.7 714.4h0M1169.2 669.2h0M1116.2 699.4h0M1122.6 723.7h0M1180.9 605.8h0M1153.2 681.6h0M1188.8 622.2h0M1188 635.4h0M1169.6 587.9h0M1167.8 728.8h0M1163.3 631.2h0M1165.5 655.4h0M1151.3 663.2h0M1176.8 643.7h0M1114 725.2h0M1140.9 660.8h0M1163.8 651.3h0M1183.6 588.1h0M1160.7 687.2h0M1161.6 611h0M1183.5 593.3h0M1196.5 567.6h0M1130 699h0M1115.3 704.6h0M1162 752.8h0M1107.4 724.2h0M1171.9 723.7h0M1154.2 639.4h0M1156.5 752.6h0M1121.3 729.1h0M1128.4 731.1h0M1163.7 636.8h0M1128 722.8h0M1170.4 653.7h0M1112.5 697.4h0M1183.1 604.9h0M1112.2 721.5h0M1154.3 742.8h0M1121 678.3h0M1161.9 618h0M1143 727.5h0M1121.9 681.7h0M1185 562h0M1177.4 733.9h0M1151.4 637.7h0M1184.1 701.7h0M1118.7 688.6h0M1140.6 721.9h0M1133.9 721.7h0M1135.3 657.3h0M1196.3 602.4h0M1135.4 685.5h0M1094.4 729.9h0M1144.8 673.4h0M1150.7 639.1h0M1117.7 716.9h0M1155.9 633.1h0M1148.5 730.1h0M1166.4 606.4h0M1174.3 633h0M1136.1 682.9h0M1135.3 665.2h0M1125.3 686.1h0M1161.7 685.3h0M1137.7 675.6h0M1153 649h0M1171.5 581.2h0M1124.9 734h0M1110.2 737.4h0M1196 567.3h0M1148.1 664.9h0M1193.2 596.5h0M1193.5 627.9h0M1142.5 686.8h0M1137.7 687.5h0M1151 683.7h0M1142.3 654.8h0M1133.2 666.3h0M1182.3 582.9h0M1158.6 764.1h0M1188.1 610h0M1176.7 685.3h0M1111.7 691.8h0M1119.1 701.9h0M1139.4 741.8h0M1154.6 656h0M1102.6 734.1h0M1128.7 713.5h0M1128.1 720.1h0M1150 648.5h0M1181.6 614.8h0M1190.6 561.7h0M1181.2 579.1h0M1172.4 601.3h0M1094.9 729h0M1191.3 576.5h0M1126.9 740.2h0M1097.4 733h0M1128.2 735.7h0M1192.4 578.2h0M1186.7 571.3h0M1155.3 686.5h0M1113.7 717.3h0M1177.1 589h0M1153.3 711.6h0M1150.4 743h0M1188.1 574.4h0M1158.6 656.1h0M1196.4 568.6h0M1162 694.4h0M1155.3 756.1h0M1184.2 722.5h0M1143.4 661.6h0M1137.8 699.4h0M1168.7 650.1h0M1109 711.9h0M1149.1 626.1h0M1132.7 674.6h0M1159.8 622.1h0M1163.1 682.6h0M1109.9 722.6h0M1161.4 666.3h0M1142.2 700.6h0M1155.4 707.7h0M1178.1 585.4h0M1194.5 693.1h0M1135 704.9h0M1136.7 656.9h0M1168.1 625.9h0M1126.7 682.2h0M1173.8 575.1h0M1196.3 655.8h0M1171.3 600.1h0M1193.6 595.3h0M1096 721.4h0M1164.2 607.9h0M1140.2 737.5h0M1183.1 767.4h0M1144 708.2h0M1190.1 646h0M1141.6 676.9h0M1133.5 711.9h0M1133.3 685.6h0M1196.4 636h0M1117.5 686.6h0M1090.9 733.1h0M1141.1 698.1h0M1107.8 719.9h0M1155.8 725.1h0M1172.5 604.8h0M1180.9 575.1h0M1158.1 640h0M1139.8 686.9h0M1138.5 653.5h0M1174.9 575.3h0M1182.2 580.7h0M1162.3 620.3h0M1181.9 632.6h0M1138.3 650.7h0M1152.8 646.6h0M1111.7 689.6h0M1181.2 574.4h0M1175 625.1h0M1139.4 641.8h0M1141.6 713.4h0M1165.1 615.7h0M1141.1 728h0M1158.8 616h0M1145.9 727h0M1156.6 635.6h0M1145.7 747.2h0M1187.8 588.5h0M1147.5 659.3h0M1196.8 619.6h0M1142.3 704.3h0M1170.8 627.8h0M1169 593.7h0M1179.1 569.9h0M1131.2 659h0M1157.1 642.4h0M1146.8 699h0M1161.1 639.3h0M1184.5 577.2h0M1173.4 703.2h0M1155.1 643.7h0M1172.7 591.7h0M1164.2 627.2h0M1189.8 565.6h0M1194.1 587h0M1147.1 662.6h0M1156 632.3h0M1101.3 733h0M1146.2 653.8h0M1165.5 614.5h0M1172.5 697.4h0M1159.7 682.3h0M1147.2 709.8h0M1190.9 595h0M1116.7 694.4h0M1162.5 606.8h0M1135.4 755.3h0M1193.5 564h0M1131.2 704.2h0M1155.2 644.3h0M1155.7 618.5h0M1125 728.7h0M1165.4 622.1h0M1149 713.2h0M1184.1 589.5h0M1174.4 611.7h0M1127.1 708.4h0M1141.9 677.2h0M1193.1 634.1h0M1127.4 729.4h0M1111.8 711.3h0M1160.4 624.9h0M1145.4 690.1h0M1145.6 721.3h0M1168.6 630h0M1143.8 703.7h0M1152 688.8h0M1131.8 691.7h0M1128.9 667.8h0M1183.7 584h0M1123.2 715.4h0M1141.6 662.9h0M1179.6 607.5h0M1152.4 669.3h0M1177.5 627.5h0M1178.4 587.1h0M1181.6 595.9h0M1173.4 731.2h0M1122.3 692.9h0M1167.5 591.8h0M1108.2 714.1h0M1193.1 585.4h0M1181.4 653.8h0M1172.6 638.9h0M1158.3 610.6h0M1112.5 724h0M1196.1 638.6h0M1158.7 637h0M1178 670.1h0M1169.8 587.6h0M1178.1 679.1h0M1161.5 612.4h0M1170.9 715.6h0M1119.3 721.1h0M1162.5 658.7h0M1137.9 720.1h0M1131.9 733.1h0M1174.3 654.8h0M1152.2 643.1h0M1180.2 576.3h0M1148.8 723.4h0M1128.6 671.8h0M1166.7 746.8h0M1151.4 676.8h0M1139 686.8h0M1130.3 700.5h0M1155.8 724.5h0M1188.9 594.1h0M1140.9 727h0M1122 679.2h0M1140.6 675.1h0M1171.6 609.7h0M1117.8 723.8h0M1148.9 666.6h0M1157.5 658.6h0M1144 704.2h0M1185.1 626.7h0M1181 634.5h0M1150.5 692h0M1191 566h0M1124.6 685.9h0M1183 565.5h0M1130.3 698.6h0M1179.9 580.7h0M1113.1 708.5h0M1102.3 712.7h0M1153.3 651.6h0M1134.5 675.1h0M1134.5 710.4h0M1119.5 702.6h0M1163.9 742h0M1140.3 646.6h0M1109.7 718.4h0M1194.1 624h0M1143.6 653.8h0M1174.1 618.1h0M1128.1 668.5h0M1146 704.9h0M1169.6 639.3h0M1100 709.6h0M1190.8 615.1h0M1186.5 671.1h0M1184.2 674h0M1095.1 724.1h0M1187.6 587h0M1174.9 604.7h0M1155 655.5h0M1149.2 680h0M1163.3 675.9h0M1108.8 702.4h0M1152 636.8h0M1132.3 716h0M1159.7 606.6h0M1169.8 634.7h0M1149.8 651.9h0M1131.8 692.3h0M1122.5 700h0M1152.8 705.6h0M1114.9 742.3h0M1118.4 733h0M1162 651h0M1103.4 704.4h0M1171.5 637.1h0M1178.3 586.7h0M1153.1 724.2h0M1163.5 683.3h0M1108.6 778h0M1121.6 803.4h0M1113.6 763.6h0M1102.3 768.4h0M1125.3 772.9h0M1124.9 761.6h0M1193.6 784.4h0M1098 761.6h0M1094.9 769.8h0M1173.3 784h0M1161 778.1h0M1093.1 756.8h0M1097.7 802.9h0M1167.6 768.6h0M1109.5 750.8h0M1111.7 756.6h0M1109.1 763h0M1124.6 773.7h0M1107.3 772.2h0M1156 762.1h0M1144 796.8h0M1193.2 778.7h0M1175.9 820.9h0M1148.6 764.8h0M1119.7 806.9h0M1111.6 805.5h0M1133.4 763.8h0M1124.9 757.7h0M1102.1 768.4h0M1140 778.1h0M1187.4 787h0M1097.9 765.6h0M1187 773.6h0M1155.1 783.8h0M1179.7 771.5h0M1143.5 779.6h0M1170.5 790.2h0M1165.9 816.1h0M1088.5 767.6h0M1154.2 782.3h0M1156.6 772.2h0M1157.2 817.8h0M1101.2 778h0M1171.5 811.4h0M1106 790.5h0M1163.7 820.7h0M1121.9 806.6h0M1138 776.5h0M1174.4 766.9h0M1171.9 818.6h0M1140.8 806.5h0M1109.2 747h0M1101.5 811.2h0M1156 781h0M1095.1 765.9h0M1138.1 778.5h0M1087.9 771.9h0M1141.6 769.9h0M1138.6 761.5h0M1116.2 775.7h0M1131.5 769.9h0M1092.7 751h0M1183.6 771.6h0M1122.2 766.3h0M1100.8 774.5h0M1111.5 799h0M1143.3 761.9h0M1094.8 765.8h0M1137.3 808.3h0M1114.3 764.6h0M1125.7 776.2h0M1190.3 787h0M1192.7 785.6h0M1190.6 788.4h0M1195 783.6h0M1172 791.5h0M1131.4 779.6h0M1135.7 806.6h0M1120.3 774.7h0M1118.5 771.9h0M1167.7 817.3h0M1115.2 762.9h0M1126.4 808.1h0M1128.1 760.7h0M1125.6 767.8h0M1138 810.6h0M1143.9 775.1h0M1108.7 760.5h0M1168.7 818.5h0M1158.3 770.4h0M1178.9 784.3h0M1166.6 778h0M1175.2 778.5h0M1155.6 770.6h0M1106.7 765h0M1181.5 777.1h0M1128.6 770h0M1168.5 775.3h0M1119.7 768h0M1127.8 779.4h0M1105.2 763.9h0M1119.2 760.1h0M1166.3 769h0M1177.4 779.6h0M1085.6 756.3h0M1101.8 751.4h0M1163.9 773.1h0M1099.2 781h0M1095.7 775.1h0M1105.4 774.3h0M1192.6 832.2h0M1132.7 772.1h0M1109 766.4h0M1140.7 761h0M1105.5 773.6h0M1155.9 787.9h0M1123.4 771.9h0M1134.2 812.4h0M1099.4 760.6h0M1167.4 780.5h0M1094.2 767.4h0M1181.4 767.2h0M1139.7 761.9h0M1174.9 817.1h0M1185.4 781.2h0M1138 777.9h0M1196.7 787.6h0M1085.9 769.1h0M1154 777.9h0M1127.2 762.3h0M1156.4 778.3h0M1157.2 811.9h0M1098.5 765.9h0M1125.4 814.5h0M1126.7 808.1h0M1088.3 759.7h0M1116.7 757.5h0M1182.1 777.1h0M1144.5 775.3h0M1108.3 803.9h0M1105.2 747.3h0M1094.8 770.1h0M1171.2 819.1h0M1128.7 804.9h0M1164.3 817.1h0M1150.8 808.8h0M1127.5 816.3h0M1118.9 768.6h0M1114.1 770.6h0M1090.6 746.4h0M1179.1 783.2h0M1128.5 809.5h0M1138.1 817h0M1157.2 777.1h0M1116.2 774.1h0M1113.4 768.5h0M1136.5 753.2h0M1086 778.8h0M1150.9 779.8h0M1157.1 784.8h0M1100.6 769.8h0M1193.6 785h0M1162.3 768.7h0M1186.4 780.7h0M1139.3 771.2h0M1156.2 780.8h0M1096.8 769.4h0M1100.3 765.8h0M1163 784.9h0M1190.5 789h0M1086.5 766.4h0M1085.3 765.8h0M1186.4 770.9h0M1165.8 771.9h0M1186.3 782h0M1177.4 779.9h0M1150.5 771.6h0M1140.5 768.3h0M1161.4 778.1h0M1117.5 764.4h0M1184.6 821.6h0M1101.7 763.1h0M1174.6 811.9h0M1196.3 785.1h0M1181.2 827h0M1133 778.4h0M1150.9 766.4h0M1117.3 757.4h0M1153.8 787.1h0M1114.7 769.8h0M1091.9 801.2h0M1135.3 773h0M1159.1 781.5h0M1137.5 762.2h0M1092.4 765.8h0M1124.8 787h0M1109.4 770.2h0M1192.4 829.7h0M1176.1 777.4h0M1101.6 796.4h0M1164.9 790.8h0M1176.7 758.2h0M1116.5 778.4h0M1113.2 762h0M1179.3 775.8h0M1149.9 766.2h0M1133.3 768.5h0M1153.9 760.5h0M1195.3 773.2h0M1123.5 812h0M1139.5 769.5h0M1166.6 816.2h0M1181.2 778.9h0M1097.1 770.3h0M1180.7 783.1h0M1152 776.1h0M1123.1 806.8h0M1140 786.4h0M1169.7 781.5h0M1090.3 770.6h0M1110.9 757h0" stroke="#000" stroke-width="1.6" stroke-linecap="round" fill="none"/><path d="M1097 819.7h0M1106 823.1h0M1049.5 765.8h0M1046.6 749h0M1051.6 771.5h0M1052.5 775.1h0M1117.6 826.8h0M1049.6 730.8h0M1057.4 800.7h0M1072.1 807.1h0M1054.3 778.6h0M1050.8 749h0M1079.2 809.9h0M1053.5 782.8h0M1051 718.6h0M1057.7 779.2h0M1057.9 790.7h0M1108.2 825h0M1049.6 759.2h0M1052 725.2h0M1056.4 788.8h0M1064.1 796.9h0M1050.4 737.9h0M1083.5 813.5h0M1052.4 779h0M1050 751.6h0M1073.9 684.3h0M1063.5 797.4h0M1084.3 820.4h0M1046.1 758.2h0M1042.8 754.1h0M1050.2 793.1h0M1050.6 750.1h0M1072.6 805h0M1062.1 702.4h0M1052 781.5h0M1051.7 773.6h0M1049.7 748h0M1095.8 828.1h0M1048.6 773h0M1099.9 821.4h0M1052 759.6h0M1051.3 750.6h0M1052.1 772.8h0M1051.7 758.5h0M1060.6 802.9h0M1068.8 690.6h0M1048 755.1h0M1050.9 738h0M1053.1 722.5h0M1086 814.3h0M1074.1 804.4h0M1052.6 778h0M1051 700.9h0M1053 769.5h0M1056.1 711.4h0M1069.4 800.6h0M1055.2 709.5h0M1051.6 760.1h0M1050.5 773.3h0M1049.8 740.5h0M1051.4 765h0M1046 728.5h0M1047.7 760.1h0M1066.3 798.7h0M1050.8 768.6h0M1045.8 759.3h0M1053.7 778.8h0M1054.9 792h0M1051.4 737.6h0M1050.5 745.2h0M1081.1 812.1h0M1050.8 765.6h0M1049.9 795h0M1056.9 818.1h0M1068.5 805.8h0M1118.4 826.7h0M1050.1 714.9h0M1057.7 797h0M1051.4 759.7h0M1075.3 807.8h0M1051.9 789.8h0M1088.4 817.4h0M1051.8 733.4h0M1070.9 816.3h0M1052.9 783.3h0M1058.5 786.1h0M1074.7 808.5h0M1047.7 749.7h0M1054.8 720h0M1068.3 804.1h0M1074.9 812h0M1086.2 813.8h0M1076 809.1h0M1067.1 807.3h0M1119 828.3h0M1048.8 755.4h0M1055.2 789.4h0M1052.2 775h0M1062.4 702.5h0M1048.8 764h0M1063.2 694.7h0M1063 799h0M1052.3 739.8h0M1055.3 709.9h0M1096.9 818.7h0M1052.2 773.2h0M1090.8 816.7h0M1052.4 767.2h0M1048.8 758.3h0M1098.5 819.7h0M1105 822.9h0M1053.6 778.3h0M1051.5 764.1h0M1110.7 824.1h0M1050.7 746.6h0M1066.4 802.7h0M1089.9 823h0M1053.6 775.8h0M1055.2 779.8h0M1050.3 752.3h0M1052.2 770.2h0M1065.7 800.2h0M1052 796.4h0M1045.3 785.4h0M1104.4 823.3h0M1050.4 720.4h0M1050.7 730.7h0M1067.2 800.7h0M1059 790.2h0M1052.1 723.7h0M1119.1 828.8h0M1054 726.3h0M1062.4 796h0M1111 836.6h0M1101.3 822.3h0M1076.1 808.2h0M1051.5 734.1h0M1054.8 782.5h0M1051.3 740h0M1050.6 778.8h0M1084.9 826.6h0M1047.9 766.8h0M1045.4 732h0M1049.9 753h0M1055.2 785.2h0M1092.7 817.5h0M1053.5 805.4h0M1078.5 811.5h0M1063.7 795.4h0M1093 817.2h0M1106.1 825.1h0M1051.5 741.4h0M1049.6 754h0M1052.1 767.2h0M1061.8 702.7h0M1068.5 803.7h0M1107.3 836.3h0M1060.2 793.5h0M1052.2 772.9h0M1053.3 781.8h0M1045.9 741.3h0M1063.5 701.9h0M1055.1 715.9h0M1115.5 827.5h0M1058.5 791.9h0M1047.8 755.5h0M1118.1 826.5h0M1101.3 821.7h0M1086.1 825.8h0M1089.8 819h0M1054.8 717.7h0M1083.7 814.1h0M1061.5 795.5h0M1099.9 821h0M1115 824.2h0M1051.3 770.1h0M1107.3 823.4h0M1050.6 734.7h0M1072.6 805.9h0M1075.3 808.5h0M1051 715.2h0M1100.3 820.8h0M1092.7 820.3h0M1059.9 709.4h0M1101.4 653.7h0M1090.6 817.9h0M1058.4 702.5h0M1100 821h0M1106.6 824.9h0M1057.5 789.1h0M1045.5 758h0M1049.1 738.4h0M1049.9 747.4h0M1076 813.1h0M1054.4 785.1h0M1065.7 806.8h0M1050.2 759.9h0M1068.7 808.5h0M1052.7 791.6h0M1077.3 813.1h0M1050.3 755.2h0M1038.9 796.5h0M1044.7 748.9h0M1060.8 704.6h0M1047.4 755.3h0M1042.2 734.5h0M1102.6 829.5h0M1114.8 827.4h0M1052.8 726h0M1068.1 800.2h0M1059.6 708.4h0M1054 779.9h0M1050.2 705.9h0M1049.4 754.8h0M1072.8 812.8h0M1104.3 823.3h0M1115.7 826.8h0M1047.9 750.7h0M1045 734.2h0M1116 839h0M1107.3 824h0M1094.3 821.8h0M1068.9 803.5h0M1052.1 764.1h0M1116.2 828.2h0M1061.4 795.8h0M1052 772.3h0M1059.4 703.8h0M1049 742.4h0M1095.2 822.6h0M1052.6 726h0M1061.4 800.4h0M1105.2 822.1h0M1058.3 789.6h0M1092 818.1h0M1074.6 684.2h0M1170.6 842.9h0M1128.7 830.3h0M1131.8 833.6h0M1152.6 836.7h0M1142.7 835.2h0M1175.8 840.2h0M1169.4 844.2h0M1163.5 843.2h0M1178.1 846.4h0M1123 827.4h0M1107.7 823.9h0M1139.4 834.8h0M1143.3 836.4h0M1128.8 837.5h0M1169.1 841.5h0M1160.5 841.9h0M1160.8 841.8h0M1118.5 828.9h0M1151.3 840.5h0M1172.9 845.5h0M1126.3 829h0M1127 829.5h0M1125 830.1h0M1149.2 836.3h0M1181.4 572.1h0M1166.5 640h0M1139.1 640.3h0M1183.2 644.3h0M1148.5 636.1h0M1173.9 632.2h0M1142.3 661h0M1118.8 687.6h0M1169 676.4h0M1157.4 668.1h0M1146.3 652.4h0M1163.2 675.6h0M1154.1 620h0M1139.5 680.3h0M1154.8 731.8h0M1136.4 653.8h0M1179.6 596.4h0M1185.2 593h0M1189.4 678.8h0M1152.3 728h0M1144.9 671.6h0M1194.8 595.8h0M1179.1 630.9h0M1156.2 635.3h0M1122.2 689.2h0M1185.6 625.1h0M1118.8 713.6h0M1139.2 642.2h0M1168 732.6h0M1136.1 745.7h0M1121.6 721.2h0M1159 728.8h0M1156.6 614.7h0M1168.1 649.7h0M1155.7 646.5h0M1181.9 632.4h0M1161.2 657.1h0M1194 579.2h0M1185.5 568.6h0M1103.2 707.7h0M1118.9 727h0M1169.7 652.3h0M1131.2 703.4h0M1150.7 626h0M1133 682h0M1182.1 594.2h0M1111.9 692.8h0M1124.8 678.8h0M1158.4 678.2h0M1150.2 649h0M1175.4 617.2h0M1099.3 731.6h0M1179.5 579.1h0M1121.7 693.3h0M1110.6 696.5h0M1123.3 683.1h0M1143.6 652.1h0M1134.8 723.7h0M1184.7 621.9h0M1161.2 609.7h0M1136.7 708.3h0M1144.6 632.6h0M1168 692.3h0M1190.3 560.7h0M1144.2 659.8h0M1153.9 656.9h0M1138.6 690.2h0M1176 610.6h0M1154.1 637h0M1181.9 610.6h0M1180.3 582h0M1154.6 711.9h0M1145.5 654.5h0M1139.9 747.9h0M1156.1 624.7h0M1163.2 614.7h0M1172.3 698.6h0M1138.3 717.4h0M1155.6 611.9h0M1180.2 577.4h0M1188.9 620.7h0M1148 718.3h0M1114.7 708.9h0M1174.3 589h0M1184 566.4h0M1196 579h0M1183.4 657.6h0M1148.5 741.4h0M1133.2 726.7h0M1133.1 659.2h0M1141.2 722.1h0M1173.6 670.9h0M1134.4 672.1h0M1149.8 641.5h0M1172.8 704.9h0M1171 720.9h0M1178.8 637.4h0M1116.3 721.9h0M1185.6 690.8h0M1145.4 717h0M1117.5 718.7h0M1166.3 620h0M1106.5 712.7h0M1151.7 631h0M1154.5 729.5h0M1173.1 609.5h0M1165.7 687.6h0M1190.8 605.3h0M1137.9 714.2h0M1173.6 624.6h0M1102.4 727.6h0M1159.7 630.2h0M1116.6 689.6h0M1150.7 657.1h0M1134.2 714.4h0M1154.6 619.8h0M1115.7 697.1h0M1159.5 666.7h0M1126.3 664.2h0M1161.9 716h0M1149.9 665.3h0M1150.5 667.7h0M1114.4 703.2h0M1132.2 708.8h0M1174.4 587.9h0M1153 680.3h0M1136 699.8h0M1142.4 647.1h0M1182 585.5h0M1140.2 656.9h0M1171.2 661.7h0M1141.8 707.2h0M1123.3 677.2h0M1155.2 637.3h0M1184.6 570.8h0M1129.6 707.8h0M1137 732.1h0M1174.3 614.2h0M1122.1 666.7h0M1165.5 686.7h0M1175 596.6h0M1159.7 655.6h0M1127.9 738.8h0M1190 571.9h0M1104.2 742.3h0M1177 587.7h0M1196 577.7h0M1131.8 702h0M1129.3 673.5h0M1180.2 604.2h0M1166.4 640.5h0M1195.5 577.6h0M1129.6 696.3h0M1188.1 601.4h0M1185.9 572h0M1160.7 649.9h0M1169.4 653.8h0M1143.4 656.1h0M1144.1 655.3h0M1139.1 642.6h0M1143.9 719.1h0M1117.8 713.9h0M1158.2 624.3h0M1156.6 630.9h0M1107.1 705.8h0M1131.9 666h0M1179.1 587.8h0M1156.1 668.7h0M1155.3 670.5h0M1156.4 680.8h0M1145 643.8h0M1155 721.4h0M1163.4 612.1h0M1143.8 650.9h0M1143.2 658.6h0M1176.3 624.7h0M1128.2 749.6h0M1157 663.6h0M1186.7 572.6h0M1162.8 622.2h0M1156.8 680.6h0M1115.2 686h0M1122.1 711.9h0M1123 720.3h0M1091 725.5h0M1174.6 578.8h0M1163.5 608.5h0M1160.8 731.3h0M1178 588h0M1114.9 688.4h0M1129 726.8h0M1127.5 670.8h0M1125.6 677.8h0M1118.1 688.1h0M1158.5 724.7h0M1184.3 645.6h0M1175.8 615.2h0M1116.7 684.4h0M1161.8 636.1h0M1122 677.3h0M1162.6 634.2h0M1187.8 711.5h0M1121.4 702.1h0M1121.7 740.2h0M1117.2 728.5h0M1147 692.1h0M1174.1 576h0M1128.1 668.9h0M1175.4 612h0M1155.9 682.7h0M1142.1 699.9h0M1152.7 668.1h0M1173.3 592.6h0M1110.8 720.3h0M1187.8 612.2h0M1109.6 716.4h0M1144 717.8h0M1144.6 680.2h0M1105.4 704.3h0M1143.2 699.2h0M1151.2 629.1h0M1154.1 671.8h0M1112.3 703h0M1181.2 568.9h0M1156.7 738.9h0M1154.9 630.5h0M1139.6 684.4h0M1170.3 639.3h0M1113.2 702.6h0M1191 587.8h0M1183.2 751.7h0M1171 671.9h0M1160.5 703.7h0M1150.4 718.5h0M1150 666.4h0M1143.6 670.7h0M1178.6 629.5h0M1140.9 681.6h0M1162.7 681h0M1182 579.7h0M1142.3 648.7h0M1171.4 722.1h0M1195.3 636.1h0M1121.6 727.6h0M1128 713.8h0M1126.6 698.4h0M1160.2 633.2h0M1143.3 703.9h0M1189.2 592.2h0M1176.8 619.6h0M1170.6 744.6h0M1189.6 696h0M1128.7 742.5h0M1168 614.6h0M1159.7 725.3h0M1160.7 623.7h0M1190.3 651.3h0M1123.8 680.4h0M1116.2 681.6h0M1164.6 655.3h0M1123.1 673.6h0M1160.1 617.7h0M1179.1 701.9h0M1147 706.8h0M1147.6 696h0M1144.7 646.7h0M1124 739.8h0M1112.6 719.8h0M1141.5 672h0M1105.3 737.3h0M1193.3 565.4h0M1140.3 733.6h0M1144.2 639.7h0M1121.4 706.7h0M1135.4 688.3h0M1126.1 720.2h0M1122 701.1h0M1151 658.3h0M1132.9 716.6h0M1164 699.3h0M1142.2 713.3h0M1144.4 709.9h0M1162.9 597.2h0M1162.5 613h0M1139.6 671.3h0M1166.1 604.5h0M1169.6 713h0M1163.1 641.1h0M1183.6 582h0M1166.2 603.6h0M1163.9 623.2h0M1142.2 645.4h0M1133.2 686.7h0M1182.9 593h0M1108.5 734.5h0M1153.9 664.5h0M1119.6 703.1h0M1165.5 596.6h0M1173.7 626.9h0M1188.6 565.7h0M1158.6 668.9h0M1119 697.3h0M1159.6 643.1h0M1163.4 735.1h0M1165.9 723.2h0M1161.9 672.6h0M1158.1 613h0M1107 713.7h0M1170.9 638.5h0M1141.5 638.2h0M1122 696.7h0M1165.8 635.2h0M1120.2 691.6h0M1191.9 606.1h0M1181.9 568.6h0M1124.2 727.7h0M1146.4 640.4h0M1119 718h0M1124.1 723.7h0M1147.7 649.6h0M1123.1 695.2h0M1137.8 706.4h0M1162.3 671.2h0M1116.5 742.6h0M1165 601.7h0M1167.8 708.4h0M1169.6 595.6h0M1137.9 652.5h0M1158.4 628.8h0M1167.7 655.8h0M1140.8 692.8h0M1103.3 710.7h0M1185.1 571.2h0M1148.7 629.7h0M1134.9 659.1h0M1183.9 653.3h0M1109.5 699.5h0M1181 591.8h0M1190 564.3h0M1111.1 706.7h0M1155.6 702.7h0M1131.5 715.3h0M1122.6 682.4h0M1134.7 688.3h0M1159.6 605.2h0M1175.3 657h0M1162.4 696.1h0M1182.6 634h0M1177.3 677.6h0M1135.8 689.2h0M1105.4 701.8h0M1147.1 698h0M1124.5 677.4h0M1167.9 631.8h0M1177.9 646h0M1153.3 635.8h0M1145 663.1h0M1177.5 571.6h0M1110.6 728.1h0M1163.4 628.4h0M1119.8 677.1h0M1194.8 624.8h0M1187.2 621.4h0M1123.2 713.7h0M1161.6 664.3h0M1193.5 632.8h0M1155.7 711.4h0M1111.6 690.3h0M1153.2 678h0M1154 611.7h0M1188.8 649h0M1150 630h0M1148.7 712.6h0M1110.5 725.1h0M1182.3 597.8h0M1123.7 705.4h0M1168.8 622.3h0M1137.7 677.7h0M1154.3 728.8h0M1109.2 693.4h0M1189.1 588.2h0M1175.3 593.3h0M1181.3 655.4h0M1121.7 681.2h0M1140 710.4h0M1155.9 702.3h0M1180.9 576.9h0M1153 686.6h0M1156.8 611.6h0M1158.2 645.9h0M1093.7 730.8h0M1192.1 592.3h0M1194.6 619.8h0M1178.1 621.5h0M1148.5 725.4h0M1171 650.3h0M1182.6 636.7h0M1168.5 593.1h0M1176.7 616.2h0M1113.1 721.4h0M1125.6 704.4h0M1137.2 726.7h0M1127.6 689.7h0M1108.3 700.4h0M1156.9 655h0M1195.8 634.9h0M1168.2 628.2h0M1151.5 678.9h0M1180.9 587.7h0M1140.5 702h0M1183.9 564.4h0M1190.2 696.7h0M1117.4 709.2h0M1166 625.8h0M1188.5 572.7h0M1147.9 662.4h0M1094.6 727.3h0M1189.3 587.7h0M1162.7 705.4h0M1182.8 638.3h0M1158.5 631.9h0M1171.9 634.4h0M1155.8 734.4h0M1117.9 696.7h0M1155 741.6h0M1111.6 715.3h0M1144.5 709h0M1189.4 607.4h0M1169 607.3h0M1160 638.5h0M1144.5 701.4h0M1149.1 732.5h0M1133.6 715.8h0M1168.6 673.5h0M1187.7 607.1h0M1166.1 658.2h0M1144.4 721.9h0M1185.9 583.9h0M1145.5 681.2h0M1140.8 705.8h0M1163.7 672.5h0M1142.2 664.9h0M1189.6 640.3h0M1097.1 733.8h0M1144.3 652.1h0M1102.6 721.2h0M1182.5 566.9h0M1117.3 700.1h0M1121.2 716.7h0M1164.4 595.9h0M1185.9 620.7h0M1194.8 600h0M1153.5 634.4h0M1121.8 733.7h0M1189.3 685.7h0M1144.6 670.7h0M1158.8 644.4h0M1097.3 724.8h0M1181 586.1h0M1141.4 696.4h0M1168.2 618.9h0M1193.9 566.5h0M1165.4 761.5h0M1188.1 565h0M1149.4 637.3h0M1109 707.7h0M1189 664.4h0M1165.4 648.3h0M1172.7 624h0M1193.1 649.7h0M1116.3 684.8h0M1113.5 723.3h0M1129.6 716.5h0M1144.9 736.3h0M1135.4 660.8h0M1133.6 669.7h0M1103.7 720h0M1186.1 569.2h0M1154.4 647.4h0M1118 695.9h0M1130.8 660.3h0M1114.7 687.5h0M1129.1 701.5h0M1134 659.7h0M1179.5 596.2h0M1159.4 672.6h0M1183.9 596.3h0M1156.9 611.3h0M1174 632.3h0M1141 720.6h0M1122.7 681.4h0M1159.5 670.3h0M1143.6 637.1h0M1151 722.1h0M1178.4 603.4h0M1146 699.6h0M1178.1 630.6h0M1177.7 625.7h0M1180.9 568.9h0M1175.8 578.1h0M1117.9 720.7h0M1162.8 699.1h0M1128.7 712.7h0M1174.7 685.2h0M1159 707.5h0M1165.1 746h0M1162.6 711.5h0M1141.1 655h0M1092.7 729.2h0M1161.1 605.9h0M1170.1 591.3h0M1191.3 640.4h0M1113.6 714.5h0M1182.7 582.1h0M1157.9 705.1h0M1186.8 601.2h0M1180.5 564.7h0M1117.8 698h0M1136 705.7h0M1132.4 668.3h0M1191.4 603.6h0M1153.5 670.7h0M1148.9 656.2h0M1147.4 636.6h0M1093.8 726h0M1165.7 688.6h0M1123.3 682.4h0M1135.4 690.8h0M1137.4 811.5h0M1163.4 814.5h0M1196.4 789.1h0M1174.9 791.1h0M1131.3 814.5h0M1155.4 770.8h0M1193.6 783.1h0M1153.4 778.4h0M1168.2 770.7h0M1140.1 809.3h0M1171.2 787.5h0M1144.8 767.1h0M1136.7 763.8h0M1173.4 813.4h0M1153.5 781.9h0M1114.5 754.7h0M1171.3 810.4h0M1102 767.6h0M1167.8 810.9h0M1124.4 778.7h0M1103.2 771.6h0M1174.4 816.9h0M1137 769.1h0M1093.7 760.7h0M1140.3 781h0M1127.3 803.5h0M1178.5 766.4h0M1129.4 758.6h0M1110.3 760.1h0M1151.2 779.7h0M1088.4 777.1h0M1147.5 801.5h0M1164.9 774.9h0M1108.5 804.9h0M1110.4 763.5h0M1195.5 820.8h0M1123.8 760.9h0M1183.8 776.1h0M1149.8 813.8h0M1098.5 779.8h0M1115.6 765.5h0M1122.3 774.9h0M1182.3 771.7h0M1159.7 768.5h0M1131.6 764.3h0M1191 773.7h0M1114.9 755.7h0M1193.6 823.9h0M1113.5 767.1h0M1147.5 817.7h0M1152.4 771.9h0M1122.2 767.6h0M1109.2 804.3h0M1192.4 793.6h0M1099 779.5h0M1156.3 783.2h0M1090.6 764.6h0M1152.3 770.6h0M1145.8 810.8h0M1159.9 787.4h0M1137.9 773.7h0M1167.9 779.1h0M1142.4 819.1h0M1158.6 783.4h0M1157.4 763.4h0M1110.5 767.4h0M1096.5 797.2h0M1101.9 803h0M1161.2 767.7h0M1088.3 767.8h0M1095.3 799.7h0M1183.1 821.6h0M1144.1 770.2h0M1109.8 764.6h0M1162.4 780.4h0M1177.7 780.3h0M1087.9 777.6h0M1130.7 814.8h0M1121 802.6h0M1166.6 810.1h0M1139.9 784.3h0M1161.2 783h0M1120.3 776.4h0M1093.7 797.3h0M1163.1 779.6h0M1145.4 764.8h0M1162.2 778.4h0M1178.9 777.7h0M1121.1 767.2h0M1091.2 796.8h0M1104.4 768.2h0M1184.9 795.3h0M1196 780.3h0M1097.9 768h0M1090.4 769.1h0M1175.1 814.9h0M1168.3 766.6h0M1105.4 766.8h0M1088.4 765.5h0M1158.5 796.5h0M1152.7 758.7h0M1151.2 768.2h0M1103.2 769.4h0M1167 814.6h0M1197 779.7h0M1187.3 793.3h0M1184 785.6h0M1152.2 777.6h0M1093.7 761.7h0M1143.8 765.9h0M1096.9 808h0M1108 771.9h0M1111.1 802.6h0M1099.4 765.7h0M1091.2 760.3h0M1187.4 795.8h0M1086.2 763.6h0M1178.9 782.9h0M1085.5 759.1h0M1150.1 777.1h0M1119.7 801.8h0M1134.7 790h0M1192.9 791.1h0M1170.1 765.8h0M1125.3 764.4h0M1131.6 806h0M1100 760.1h0M1178.3 780.7h0M1156.7 804.2h0M1100.8 771.5h0M1134.2 769.1h0M1195.4 789.9h0M1179.1 789.2h0M1177.7 781.4h0M1137.4 769.2h0M1163.4 778.2h0M1195.4 780.3h0M1183 780.6h0M1110.9 765.7h0M1095.7 764.8h0M1172.4 770h0M1194.3 781.9h0M1158 778.2h0M1118.8 777.5h0M1163.9 766.5h0M1097.5 766.5h0M1184.1 818h0M1195.3 782h0M1156.6 777.3h0M1131.4 772.9h0M1175.5 770.9h0M1182.4 784.2h0M1092.9 765.6h0M1094.8 775.8h0M1153.3 781.6h0M1180.5 776.5h0M1110 793.3h0M1099.7 755.9h0M1135.4 783.4h0M1131.8 768.4h0M1149.7 813.8h0M1121.6 804.2h0M1091.8 767.5h0M1121.9 773.2h0M1137.1 774.2h0M1138.2 779.6h0M1118.5 786h0M1183.7 768.4h0M1099.9 772.7h0M1166.9 815.5h0M1166 776.9h0M1123.4 762.3h0M1152.7 811.4h0M1169.8 769.6h0M1117.7 781.9h0M1089.1 773.5h0M1169 785.2h0M1126.1 773.1h0M1181 821.7h0M1112.7 766.6h0M1141.5 782.9h0M1107.6 768.4h0M1121.2 804.2h0M1137.8 811.5h0" stroke="#000" stroke-width="2" stroke-linecap="round" fill="none"/><path d="M1047.2 734.3h0M1101.8 821.9h0M1051.9 746.7h0M1100 820.8h0M1098.5 822.2h0M1047.2 731.2h0M1068 804.1h0M1047 757.2h0M1079.4 815.3h0M1102 827.9h0M1049.1 736.6h0M1054.8 720.5h0M1050.6 728.8h0M1048.8 738.7h0M1053.4 725.7h0M1071.2 686.6h0M1049.4 744.8h0M1052.8 792.8h0M1053.9 783.7h0M1063.8 804.5h0M1060.8 797.5h0M1099.2 821.2h0M1097.3 820.8h0M1064.4 803.1h0M1094.8 830.2h0M1104.2 654.1h0M1052.1 729.4h0M1053.7 783.9h0M1051 748.9h0M1115.9 826.7h0M1052.7 772.6h0M1052.3 783.2h0M1099.6 820.4h0M1051.5 765.4h0M1060.5 793.2h0M1054 776.1h0M1049 723.1h0M1058.1 793.1h0M1052.6 779.6h0M1053.4 777.6h0M1114.8 824.9h0M1055.2 718.7h0M1055.9 783.3h0M1065.2 801.7h0M1067.7 693.1h0M1049.3 751.9h0M1108.5 825.1h0M1063.2 808.9h0M1050.1 743.9h0M1116.8 827.3h0M1043.6 731.4h0M1071.9 807.4h0M1103.2 823.8h0M1108.2 827.8h0M1041.2 760.9h0M1058.6 789.1h0M1098.6 820h0M1114.7 826.3h0M1111.7 825.9h0M1051.6 753h0M1085.9 813.7h0M1096.2 822h0M1048 732h0M1058.7 785.7h0M1073.5 812h0M1063.1 798.6h0M1067.1 801.1h0M1049 733.8h0M1060 793.1h0M1052.7 771.2h0M1058.9 711.2h0M1042.5 748.8h0M1108.5 828.3h0M1049.2 765.5h0M1163.6 600h0M1154.1 637.9h0M1160.6 616.7h0M1164.2 736.6h0M1158.8 705.5h0M1166 684.6h0M1142.3 669.2h0M1176.4 611.7h0M1126.7 724.4h0M1194.1 605.5h0M1126.1 762.3h0M1130.1 764.4h0M1135.8 815.3h0" stroke="#000" stroke-width="2.4" stroke-linecap="round" fill="none"/><path d="M1108 652C1105.7 654 1098.8 659.7 1094 664C1089.2 668.3 1083.7 673 1079.4 678C1075.1 683 1071.2 689 1068 694C1064.8 699 1062.5 702.5 1060 708C1057.5 713.5 1054.5 720.7 1053 727C1051.5 733.3 1051 739.5 1050.8 746C1050.6 752.5 1051.1 759.7 1052 766C1052.9 772.3 1054 778.8 1056 784C1058 789.2 1060.8 793 1064 797C1067.2 801 1070.7 804.5 1075 807.7C1079.3 810.9 1085 813.5 1090 816C1095 818.5 1100 820.7 1105 822.5C1110 824.3 1117.5 826.2 1120 827" stroke="#000" stroke-width="3.3" fill="none" stroke-linecap="round"/><path d="M1112 649C1110 650.8 1104.3 656.2 1100 660C1095.7 663.8 1088.3 670 1086 672" stroke="#000" stroke-width="1.6" fill="none" stroke-linecap="round"/><path d="M1091 782C1091.3 780.2 1095.9 778.2 1100 777C1104.1 775.8 1110.5 774.7 1115.5 774.5C1120.5 774.3 1125.4 775.1 1130 776C1134.6 776.9 1138.8 778.3 1143 780C1147.2 781.7 1151.5 783.9 1155 786C1158.5 788.1 1159.8 790 1164 792.8C1168.2 795.6 1174.5 799.8 1180 803C1185.5 806.2 1194.2 809.3 1197 812C1199.8 814.7 1199.3 819.2 1197 819C1194.7 818.8 1187.7 813.6 1183 811C1178.3 808.4 1173.3 805.4 1168.6 803.4C1163.9 801.4 1159.9 800.1 1155 799C1150.1 797.9 1144.2 797.5 1139 797C1133.8 796.5 1129 796.7 1124 796C1119 795.3 1113.3 794.3 1109 793C1104.7 791.7 1101 789.8 1098 788C1095 786.2 1090.7 783.8 1091 782Z" fill="#000"/>
<line x1="850" y1="182" x2="869" y2="201.5" stroke="#fff" stroke-width="10" /><line x1="844" y1="195" x2="862.5" y2="212.5" stroke="#fff" stroke-width="10" /><line x1="841" y1="208" x2="859" y2="225.5" stroke="#fff" stroke-width="10" /><line x1="835" y1="219" x2="851.5" y2="236.5" stroke="#fff" stroke-width="10" /><line x1="827" y1="229" x2="842.5" y2="247.5" stroke="#fff" stroke-width="10" /><line x1="818" y1="237" x2="832" y2="255" stroke="#fff" stroke-width="10" /><line x1="809" y1="243" x2="822" y2="261.5" stroke="#fff" stroke-width="10" /><line x1="801" y1="250" x2="812.5" y2="268" stroke="#fff" stroke-width="10" /><line x1="794" y1="257" x2="805" y2="275" stroke="#fff" stroke-width="10" /><line x1="787" y1="263" x2="801" y2="284" stroke="#fff" stroke-width="10" /><line x1="779" y1="268" x2="792" y2="290" stroke="#fff" stroke-width="10" /><line x1="771" y1="272" x2="783" y2="293" stroke="#fff" stroke-width="10" /><line x1="850" y1="182" x2="868" y2="200.5" stroke="#000" stroke-width="6.4" /><line x1="850" y1="182" x2="867.3" y2="199.7" stroke="#ec008c" stroke-width="3.6" /><line x1="844" y1="195" x2="861.5" y2="211.5" stroke="#000" stroke-width="6.4" /><line x1="844" y1="195" x2="860.8" y2="210.7" stroke="#ec008c" stroke-width="3.6" /><line x1="841" y1="208" x2="858" y2="224.5" stroke="#000" stroke-width="6.4" /><line x1="841" y1="208" x2="857.3" y2="223.7" stroke="#ec008c" stroke-width="3.6" /><line x1="835" y1="219" x2="850.5" y2="235.5" stroke="#000" stroke-width="6.4" /><line x1="835" y1="219" x2="849.8" y2="234.7" stroke="#ec008c" stroke-width="3.6" /><line x1="827" y1="229" x2="841.5" y2="246.5" stroke="#000" stroke-width="6.4" /><line x1="827" y1="229" x2="840.8" y2="245.7" stroke="#ec008c" stroke-width="3.6" /><line x1="818" y1="237" x2="831" y2="254" stroke="#000" stroke-width="6.4" /><line x1="818" y1="237" x2="830.3" y2="253.2" stroke="#ec008c" stroke-width="3.6" /><line x1="809" y1="243" x2="821" y2="260.5" stroke="#000" stroke-width="6.4" /><line x1="809" y1="243" x2="820.3" y2="259.7" stroke="#ec008c" stroke-width="3.6" /><line x1="801" y1="250" x2="811.5" y2="267" stroke="#000" stroke-width="6.4" /><line x1="801" y1="250" x2="810.8" y2="266.2" stroke="#ec008c" stroke-width="3.6" /><line x1="794" y1="257" x2="804" y2="274" stroke="#000" stroke-width="6.4" /><line x1="794" y1="257" x2="803.3" y2="273.2" stroke="#ec008c" stroke-width="3.6" /><line x1="787" y1="263" x2="800" y2="283" stroke="#000" stroke-width="6.4" /><line x1="787" y1="263" x2="799.3" y2="282.2" stroke="#ec008c" stroke-width="3.6" /><line x1="779" y1="268" x2="791" y2="289" stroke="#000" stroke-width="6.4" /><line x1="779" y1="268" x2="790.3" y2="288.2" stroke="#ec008c" stroke-width="3.6" /><line x1="771" y1="272" x2="782" y2="292" stroke="#000" stroke-width="6.4" /><line x1="771" y1="272" x2="781.3" y2="291.2" stroke="#ec008c" stroke-width="3.6" /><circle cx="858.4" cy="161.8" r="7.4" fill="#000"/><circle cx="856.8" cy="164.7" r="9" fill="#000"/><circle cx="847" cy="162.2" r="9.6" fill="#000"/><circle cx="837.1" cy="166.1" r="11.8" fill="#000"/><circle cx="822.3" cy="165.7" r="9.3" fill="#000"/><circle cx="810.3" cy="168.4" r="9.1" fill="#000"/><circle cx="799.7" cy="174.7" r="11.3" fill="#000"/><circle cx="788.6" cy="177.4" r="9.1" fill="#000"/><circle cx="782.1" cy="182.8" r="9.7" fill="#000"/><circle cx="775.1" cy="189.4" r="10.6" fill="#000"/><circle cx="764.9" cy="199.6" r="10.8" fill="#000"/><circle cx="756.3" cy="209.8" r="11.3" fill="#000"/><circle cx="752.3" cy="217.9" r="11.7" fill="#000"/><circle cx="751.3" cy="231.4" r="11.5" fill="#000"/><circle cx="751.8" cy="243.6" r="10" fill="#000"/><circle cx="754.2" cy="254.8" r="10.4" fill="#000"/><circle cx="756.7" cy="255.2" r="11.9" fill="#000"/><circle cx="768.5" cy="255.5" r="9.7" fill="#000"/><circle cx="777.8" cy="249.2" r="12.4" fill="#000"/><circle cx="789.2" cy="244.3" r="11.1" fill="#000"/><circle cx="800.4" cy="237.2" r="9.3" fill="#000"/><circle cx="808.2" cy="226.5" r="11.7" fill="#000"/><circle cx="818.7" cy="218.8" r="9.4" fill="#000"/><circle cx="826.9" cy="210" r="9.6" fill="#000"/><circle cx="833" cy="201.9" r="9.7" fill="#000"/><circle cx="834.9" cy="192.5" r="11.3" fill="#000"/><circle cx="843.5" cy="180.5" r="9.7" fill="#000"/><circle cx="850.5" cy="166.3" r="11.8" fill="#000"/><circle cx="818.2" cy="196.4" r="10.3" fill="#000"/><circle cx="764.7" cy="238.3" r="12.3" fill="#000"/><circle cx="831.6" cy="183.3" r="11.8" fill="#000"/><circle cx="817.5" cy="187.5" r="9.2" fill="#000"/><circle cx="804.2" cy="190" r="11.9" fill="#000"/><circle cx="832.8" cy="174.4" r="9.6" fill="#000"/><circle cx="784.9" cy="233.5" r="10.6" fill="#000"/><circle cx="799" cy="225.3" r="12.1" fill="#000"/><circle cx="789" cy="218.8" r="12" fill="#000"/><circle cx="824.7" cy="177.4" r="11.4" fill="#000"/><circle cx="814.5" cy="176.9" r="10.6" fill="#000"/><circle cx="775" cy="207.9" r="9" fill="#000"/><circle cx="769.5" cy="232.3" r="9.8" fill="#000"/><circle cx="796.8" cy="196.8" r="10.2" fill="#000"/><circle cx="806.9" cy="218.8" r="9.1" fill="#000"/><circle cx="807" cy="203" r="10.9" fill="#000"/><circle cx="773.4" cy="199.8" r="8.7" fill="#000"/><circle cx="788.5" cy="208.6" r="9.3" fill="#000"/><circle cx="795.2" cy="183.4" r="11.7" fill="#000"/><circle cx="781.3" cy="199.6" r="12.2" fill="#000"/><circle cx="795.5" cy="212.3" r="11.1" fill="#000"/><circle cx="771.8" cy="219.7" r="11.3" fill="#000"/><circle cx="825.6" cy="189.1" r="11.2" fill="#000"/><circle cx="777.1" cy="240.1" r="9.5" fill="#000"/><circle cx="841.4" cy="172.8" r="10.9" fill="#000"/><circle cx="787.3" cy="192.4" r="12.4" fill="#000"/><circle cx="759.6" cy="221.9" r="8.6" fill="#000"/><circle cx="776.4" cy="227.4" r="8.8" fill="#000"/><circle cx="760" cy="247.3" r="11.4" fill="#000"/><circle cx="764" cy="214" r="9.9" fill="#000"/><circle cx="808" cy="183.1" r="12" fill="#000"/><circle cx="818.8" cy="206.5" r="10.6" fill="#000"/><circle cx="805" cy="211" r="11.6" fill="#000"/><circle cx="759.1" cy="231.5" r="12.5" fill="#000"/><circle cx="770.2" cy="247.3" r="12.2" fill="#000"/><circle cx="809.5" cy="195.4" r="10.3" fill="#000"/><circle cx="786.3" cy="226" r="9.4" fill="#000"/><circle cx="793.7" cy="233.3" r="12.5" fill="#000"/><circle cx="781.4" cy="212.8" r="9.1" fill="#000"/><circle cx="813.2" cy="213" r="9.3" fill="#000"/><circle cx="799.6" cy="204.8" r="9.9" fill="#000"/><circle cx="826.3" cy="196.8" r="11.8" fill="#000"/><circle cx="780.8" cy="220.2" r="10" fill="#000"/><circle cx="789.6" cy="200" r="8.6" fill="#000"/><circle cx="754.5" cy="270" r="8" fill="#000"/><circle cx="769.4" cy="275.5" r="9.8" fill="#000"/><circle cx="748" cy="262" r="6.5" fill="#000"/><path d="M856.4 167.2C856.4 164.4 850.2 164.1 846.7 163.3C843.2 162.5 840.1 162.1 835.5 162.6C830.8 163.1 824 164.8 818.6 166.1C813.2 167.4 808 168.7 803 170.3C798.1 172 793.3 173.5 788.8 175.8C784.4 178.2 780.4 180.9 776.2 184.4C772 188 767.2 193.2 763.5 197.2C759.7 201.2 755.8 204.3 753.6 208.5C751.4 212.7 750.4 217.1 750.1 222.3C749.7 227.4 750.7 234.7 751.5 239.5C752.3 244.2 753.5 247.9 755 250.7C756.4 253.4 757.3 255.2 760.1 255.8C763 256.4 767.9 255.1 772.2 254.1C776.5 253.1 780.8 252.5 785.9 249.8C791.1 247.1 797.6 242.2 803 237.8C808.5 233.3 813.9 228.2 818.6 223.1C823.3 218.1 828 212.4 831.2 207.7C834.5 202.9 835.7 199.3 838.3 194.8C840.9 190.2 843.7 184.7 846.7 180.1C849.8 175.6 856.4 170 856.4 167.2Z" fill="#ec008c"/><circle cx="748" cy="262" r="4.6" fill="#ec008c" stroke="#000" stroke-width="1.8"/><circle cx="754.2" cy="254.8" r="8.5" fill="#ec008c" stroke="#000" stroke-width="1.8"/><circle cx="754.5" cy="270" r="6.1" fill="#ec008c" stroke="#000" stroke-width="1.8"/><circle cx="759.6" cy="221.9" r="6.7" fill="#ec008c" stroke="#000" stroke-width="1.8"/><circle cx="770.2" cy="247.3" r="10.3" fill="#ec008c" stroke="#000" stroke-width="1.8"/><circle cx="769.5" cy="232.3" r="7.9" fill="#ec008c" stroke="#000" stroke-width="1.8"/><circle cx="764.7" cy="238.3" r="10.4" fill="#ec008c" stroke="#000" stroke-width="1.8"/><circle cx="769.4" cy="275.5" r="7.9" fill="#ec008c" stroke="#000" stroke-width="1.8"/><circle cx="764.9" cy="199.6" r="8.9" fill="#ec008c" stroke="#000" stroke-width="1.8"/><circle cx="776.4" cy="227.4" r="6.9" fill="#ec008c" stroke="#000" stroke-width="1.8"/><circle cx="764" cy="214" r="8" fill="#ec008c" stroke="#000" stroke-width="1.8"/><circle cx="777.8" cy="249.2" r="10.5" fill="#ec008c" stroke="#000" stroke-width="1.8"/><circle cx="756.3" cy="209.8" r="9.4" fill="#ec008c" stroke="#000" stroke-width="1.8"/><circle cx="781.4" cy="212.8" r="7.2" fill="#ec008c" stroke="#000" stroke-width="1.8"/><circle cx="789.2" cy="244.3" r="9.2" fill="#ec008c" stroke="#000" stroke-width="1.8"/><circle cx="760" cy="247.3" r="9.5" fill="#ec008c" stroke="#000" stroke-width="1.8"/><circle cx="773.4" cy="199.8" r="6.8" fill="#ec008c" stroke="#000" stroke-width="1.8"/><circle cx="752.3" cy="217.9" r="9.8" fill="#ec008c" stroke="#000" stroke-width="1.8"/><circle cx="793.7" cy="233.3" r="10.6" fill="#ec008c" stroke="#000" stroke-width="1.8"/><circle cx="759.1" cy="231.5" r="10.6" fill="#ec008c" stroke="#000" stroke-width="1.8"/><circle cx="780.8" cy="220.2" r="8.1" fill="#ec008c" stroke="#000" stroke-width="1.8"/><circle cx="781.3" cy="199.6" r="10.3" fill="#ec008c" stroke="#000" stroke-width="1.8"/><circle cx="768.5" cy="255.5" r="7.8" fill="#ec008c" stroke="#000" stroke-width="1.8"/><circle cx="756.7" cy="255.2" r="10" fill="#ec008c" stroke="#000" stroke-width="1.8"/><circle cx="751.8" cy="243.6" r="8.1" fill="#ec008c" stroke="#000" stroke-width="1.8"/><circle cx="786.3" cy="226" r="7.5" fill="#ec008c" stroke="#000" stroke-width="1.8"/><circle cx="789.6" cy="200" r="6.7" fill="#ec008c" stroke="#000" stroke-width="1.8"/><circle cx="751.3" cy="231.4" r="9.6" fill="#ec008c" stroke="#000" stroke-width="1.8"/><circle cx="788.5" cy="208.6" r="7.4" fill="#ec008c" stroke="#000" stroke-width="1.8"/><circle cx="795.2" cy="183.4" r="9.8" fill="#ec008c" stroke="#000" stroke-width="1.8"/><circle cx="775" cy="207.9" r="7.1" fill="#ec008c" stroke="#000" stroke-width="1.8"/><circle cx="777.1" cy="240.1" r="7.6" fill="#ec008c" stroke="#000" stroke-width="1.8"/><circle cx="771.8" cy="219.7" r="9.4" fill="#ec008c" stroke="#000" stroke-width="1.8"/><circle cx="799" cy="225.3" r="10.2" fill="#ec008c" stroke="#000" stroke-width="1.8"/><circle cx="788.6" cy="177.4" r="7.2" fill="#ec008c" stroke="#000" stroke-width="1.8"/><circle cx="808" cy="183.1" r="10.1" fill="#ec008c" stroke="#000" stroke-width="1.8"/><circle cx="775.1" cy="189.4" r="8.7" fill="#ec008c" stroke="#000" stroke-width="1.8"/><circle cx="818.8" cy="206.5" r="8.7" fill="#ec008c" stroke="#000" stroke-width="1.8"/><circle cx="787.3" cy="192.4" r="10.5" fill="#ec008c" stroke="#000" stroke-width="1.8"/><circle cx="818.2" cy="196.4" r="8.4" fill="#ec008c" stroke="#000" stroke-width="1.8"/><circle cx="809.5" cy="195.4" r="8.4" fill="#ec008c" stroke="#000" stroke-width="1.8"/><circle cx="784.9" cy="233.5" r="8.7" fill="#ec008c" stroke="#000" stroke-width="1.8"/><circle cx="824.7" cy="177.4" r="9.5" fill="#ec008c" stroke="#000" stroke-width="1.8"/><circle cx="805" cy="211" r="9.7" fill="#ec008c" stroke="#000" stroke-width="1.8"/><circle cx="799.7" cy="174.7" r="9.4" fill="#ec008c" stroke="#000" stroke-width="1.8"/><circle cx="796.8" cy="196.8" r="8.3" fill="#ec008c" stroke="#000" stroke-width="1.8"/><circle cx="789" cy="218.8" r="10.1" fill="#ec008c" stroke="#000" stroke-width="1.8"/><circle cx="806.9" cy="218.8" r="7.2" fill="#ec008c" stroke="#000" stroke-width="1.8"/><circle cx="782.1" cy="182.8" r="7.8" fill="#ec008c" stroke="#000" stroke-width="1.8"/><circle cx="804.2" cy="190" r="10" fill="#ec008c" stroke="#000" stroke-width="1.8"/><circle cx="826.9" cy="210" r="7.7" fill="#ec008c" stroke="#000" stroke-width="1.8"/><circle cx="808.2" cy="226.5" r="9.8" fill="#ec008c" stroke="#000" stroke-width="1.8"/><circle cx="818.7" cy="218.8" r="7.5" fill="#ec008c" stroke="#000" stroke-width="1.8"/><circle cx="795.5" cy="212.3" r="9.2" fill="#ec008c" stroke="#000" stroke-width="1.8"/><circle cx="833" cy="201.9" r="7.8" fill="#ec008c" stroke="#000" stroke-width="1.8"/><circle cx="810.3" cy="168.4" r="7.2" fill="#ec008c" stroke="#000" stroke-width="1.8"/><circle cx="800.4" cy="237.2" r="7.4" fill="#ec008c" stroke="#000" stroke-width="1.8"/><circle cx="843.5" cy="180.5" r="7.8" fill="#ec008c" stroke="#000" stroke-width="1.8"/><circle cx="837.1" cy="166.1" r="9.9" fill="#ec008c" stroke="#000" stroke-width="1.8"/><circle cx="814.5" cy="176.9" r="8.7" fill="#ec008c" stroke="#000" stroke-width="1.8"/><circle cx="825.6" cy="189.1" r="9.3" fill="#ec008c" stroke="#000" stroke-width="1.8"/><circle cx="807" cy="203" r="9" fill="#ec008c" stroke="#000" stroke-width="1.8"/><circle cx="799.6" cy="204.8" r="8" fill="#ec008c" stroke="#000" stroke-width="1.8"/><circle cx="847" cy="162.2" r="7.7" fill="#ec008c" stroke="#000" stroke-width="1.8"/><circle cx="813.2" cy="213" r="7.4" fill="#ec008c" stroke="#000" stroke-width="1.8"/><circle cx="826.3" cy="196.8" r="9.9" fill="#ec008c" stroke="#000" stroke-width="1.8"/><circle cx="817.5" cy="187.5" r="7.3" fill="#ec008c" stroke="#000" stroke-width="1.8"/><circle cx="841.4" cy="172.8" r="9" fill="#ec008c" stroke="#000" stroke-width="1.8"/><circle cx="858.4" cy="161.8" r="5.5" fill="#ec008c" stroke="#000" stroke-width="1.8"/><circle cx="834.9" cy="192.5" r="9.4" fill="#ec008c" stroke="#000" stroke-width="1.8"/><circle cx="822.3" cy="165.7" r="7.4" fill="#ec008c" stroke="#000" stroke-width="1.8"/><circle cx="832.8" cy="174.4" r="7.7" fill="#ec008c" stroke="#000" stroke-width="1.8"/><circle cx="831.6" cy="183.3" r="9.9" fill="#ec008c" stroke="#000" stroke-width="1.8"/><circle cx="850.5" cy="166.3" r="9.9" fill="#ec008c" stroke="#000" stroke-width="1.8"/><circle cx="856.8" cy="164.7" r="7.1" fill="#ec008c" stroke="#000" stroke-width="1.8"/><circle cx="760.5" cy="227.5" r="3.2" fill="#ec008c"/><circle cx="764" cy="236" r="3.7" fill="#ec008c"/><circle cx="764.6" cy="246.9" r="4.8" fill="#ec008c"/><circle cx="766.1" cy="207" r="4.2" fill="#ec008c"/><circle cx="757.3" cy="213.4" r="3.8" fill="#ec008c"/><circle cx="787.4" cy="212.6" r="3.4" fill="#ec008c"/><circle cx="758.2" cy="240.2" r="4.9" fill="#ec008c"/><circle cx="787.1" cy="222.7" r="3.8" fill="#ec008c"/><circle cx="757.7" cy="247" r="3.8" fill="#ec008c"/><circle cx="783.6" cy="212.5" r="3.5" fill="#ec008c"/><circle cx="826" cy="205.3" r="4.1" fill="#ec008c"/><circle cx="780" cy="228.2" r="4.1" fill="#ec008c"/><circle cx="824.2" cy="169.5" r="4.4" fill="#ec008c"/><circle cx="802.8" cy="218.7" r="4.5" fill="#ec008c"/><circle cx="797.4" cy="219.1" r="4.7" fill="#ec008c"/><circle cx="810.5" cy="213.9" r="3.4" fill="#ec008c"/><circle cx="795.9" cy="190.3" r="4.7" fill="#ec008c"/><circle cx="821.7" cy="206.2" r="3.7" fill="#ec008c"/><circle cx="814.7" cy="214" r="3.5" fill="#ec008c"/><circle cx="835.9" cy="174.2" r="4.6" fill="#ec008c"/><circle cx="814.4" cy="201.8" r="4.2" fill="#ec008c"/><circle cx="802.6" cy="210.9" r="3.8" fill="#ec008c"/><circle cx="819" cy="192.8" r="4.7" fill="#ec008c"/><circle cx="854.1" cy="163.7" r="2.7" fill="#ec008c"/><circle cx="834.4" cy="184.7" r="4.4" fill="#ec008c"/>
<path d="M1069.7 282.9h0M959.8 222.3h0M1062.8 275.1h0M1071.2 283h0M865.3 227.7h0M922.2 213.9h0M1021.6 218.9h0M975.4 225.7h0M1063.9 286.6h0M1018.7 240.4h0M946.1 214.3h0M789 303.2h0M935.2 220.9h0M1011.4 236.3h0M833 256h0M955.5 223.3h0M837.7 234h0M920.3 219.3h0M913.9 221.3h0M1005.8 235.7h0M1028.7 243.4h0M1005.7 225.9h0M836 246.9h0M823.1 250.2h0M953.1 221.7h0M795.9 291.6h0M956 220.6h0M947.2 218.8h0M1003.9 234h0M848.8 250.5h0M877.8 232.2h0M836 258.9h0M821.7 269.3h0M817.7 269.3h0M986.3 215.8h0M849.8 252.1h0M795.7 279.7h0M1053 265.7h0M1065.9 278.8h0M1035 257.9h0M973.2 222h0M1060.8 278.3h0M1009.6 232.2h0M1067.7 286.1h0M851.2 241.9h0M955.1 223.4h0M972.3 222.2h0M885.6 223.2h0M995.1 214.9h0M984.3 222.9h0M1044.4 257.9h0M961.8 217.7h0M1055.9 255.8h0M817.5 273.5h0M799.2 290.8h0M1025.7 246.9h0M967.3 221.3h0M789.8 300.8h0M848.3 240.7h0M1039.6 252h0M830 248.9h0M1061.9 278.6h0M908.1 223.3h0M1038.7 247.9h0M1023.1 241.2h0M866.4 233.7h0M860.8 240.9h0M866.3 235h0M847.2 247h0M777.5 296.2h0M1035.4 250.8h0M1011.9 235.2h0M1079.2 287.9h0M917.2 220.5h0M997 227.5h0M1018.6 244.5h0M827.5 267.8h0M1023.5 243.6h0M963.5 223h0M946.3 218.8h0M1017.8 242.9h0M922.9 217.3h0M843 254.7h0M927.9 220.4h0M996.3 227.3h0M900.8 220.3h0M880.2 229.2h0M1011.8 231.7h0M995.1 223h0M1020.5 231.9h0M790 304.3h0M886.5 228.3h0M944.8 221.5h0M788.8 306.3h0M1041.8 258h0M1006.9 236.4h0M1023.6 240.7h0M795.4 299.4h0M850.4 239.6h0M907.1 223.9h0M959 222.3h0M791.8 291.7h0M1022 206.7h0M826.1 270.3h0M1029.2 250.8h0M805 276.4h0M985.9 229h0M936.4 221.2h0M814.1 280.2h0M951.6 222.9h0M989.1 230.2h0M1050 267.7h0M787.4 302.8h0M783.6 294.6h0M938.7 220h0M952.6 216.2h0M1043.5 214.4h0M948.7 217.3h0M1045.7 256.7h0M831.2 253.8h0M1027.4 238.7h0M1068.2 290.7h0M1067 282.5h0M836.4 231.9h0M1071.5 290.4h0M1006.5 234.1h0M838.4 257.7h0M1014.4 239.3h0M857.1 221.1h0M783.4 296.8h0M937.2 219.7h0M1023.8 248.4h0M795 299.8h0M1046 266h0M940.7 218.9h0M1058.2 269.3h0M1057.7 274.2h0M968.4 217h0M783.1 303.3h0M1043.3 262.6h0M1002.5 229.5h0M924.7 212.7h0M964.3 222.5h0M1072.2 291h0M1021.4 243.5h0M1015.3 240.8h0M923.5 221.2h0M978.2 224.3h0M865.8 241.7h0M983 228h0M1052.7 273.6h0M826 268.7h0M1006.4 220.5h0M815.2 271.1h0M853.8 247.3h0M861.6 231.2h0M801.3 290.7h0M1064.3 286.3h0M1047.5 268.1h0M1043.9 264.9h0M975.7 224h0M1051.2 262.1h0M1017.3 245.1h0M997.2 231.7h0M1071.9 262.9h0M1021.7 244.7h0M1021.6 239h0M1067.7 277h0M979.1 214.2h0M815.2 274.4h0M1057.7 280h0M907.7 225.6h0M947.3 222.1h0M1014.8 215.4h0M904.6 223.7h0M966.4 221.1h0M1071.6 272.8h0M1047.2 265.2h0M1064.6 286.5h0M792.9 293.3h0M964.5 219.9h0M1016.2 240.7h0M1042.7 240h0M886.7 229.3h0M834.8 253.3h0M791.7 303h0M1067.3 289.6h0M982.3 227.8h0M1020.3 239.9h0M797.8 288.8h0M874.4 236.8h0M986.3 225.6h0M978.7 222.3h0M925.9 217.9h0M879.7 234h0M1071 290.8h0M905.3 224.1h0M1037.9 258.2h0M933.4 220.4h0M933.4 216.1h0M876.6 225.2h0M968.7 218.2h0M935.1 207h0M898.2 227.9h0M1067.7 276.6h0M904.5 217.6h0M923.5 215h0M1057.2 278.8h0M916.8 211.3h0M978.1 223.1h0M1022.8 246.9h0M962.4 222.8h0M930.6 221.9h0M999.5 227.1h0M794.9 294.1h0M1063.5 278h0M1057.1 277.5h0M872.6 238.5h0M1070 293.6h0M860.9 229.3h0M927.9 217.8h0M911.1 223.7h0M869.8 237.4h0M978.5 225.1h0M1013.8 210.9h0M852.6 247.9h0M791.7 282.3h0M1052.4 263.1h0M895.8 227h0M1047.3 264.8h0M914.5 220.2h0M889.2 227.6h0M855.6 242h0M1050 272.9h0M933.2 214.1h0M814.6 265h0M938.8 220.4h0M946.8 219.3h0M884.4 233.9h0M971.2 224.3h0M853.2 242.9h0M879.9 234.8h0M940.9 219.2h0M968.5 224h0M878.6 234.1h0M822 262.2h0M1061.6 282.4h0M913.9 221h0M917.8 211.5h0M957.8 197.5h0M864.9 242.6h0M1063.4 283.5h0M800 279.1h0M1040.2 260.3h0M1036.9 257.5h0M1040.1 248h0M791.2 304.1h0M838.5 259.3h0M964.8 219.1h0M826.6 265.8h0M1013.9 241.2h0M1056.1 278.9h0M919.4 216.3h0M887.5 229.1h0M980.9 219h0M1047.6 267.9h0M1053.5 258.3h0M1003.4 232.8h0M1020.4 236.9h0M1019.7 245.7h0M829.6 263.3h0M856.4 244h0M808.9 284.5h0M998.4 233.5h0M1001.2 230.6h0M929 221.8h0M774.8 296.3h0M995.2 230.1h0M1032.6 253.5h0M1025.5 233.4h0M919.4 218.1h0M976.2 224.1h0M944.5 216.2h0M1067.8 271.4h0M966.4 222.1h0M1034.3 253.2h0M988.4 225.6h0M791.6 297.9h0M929.7 220.9h0M977.3 220.5h0M1062.6 284.4h0M809 283.9h0M930 221.5h0M832.7 253.4h0M1067.7 284.3h0M807.1 273.4h0M1013.9 239.5h0M933.2 210.6h0M1055.9 266h0M1001 223.3h0M840.8 250.5h0M1058.6 245h0M923.9 221.3h0M1048.8 258.9h0M990.3 229.8h0M804 283.1h0M1027 250.8h0M791.9 300.3h0M964.2 222.8h0M805.5 287.8h0M1038.2 259.7h0M953.2 220.6h0M872.1 235.4h0M1051.2 269.5h0M851.8 251.1h0M1048.1 268.9h0M1048.6 268.4h0M949.4 221h0M941.7 221.4h0M1008.2 234.8h0M794.6 301.6h0M798.9 292.3h0M1062.8 284.8h0M830.9 261.5h0M923.7 222.2h0M954.4 223.1h0M805.4 284.1h0M1044.2 258.3h0M792.8 300.7h0M1004.7 232.4h0M978.5 226.7h0M839.9 254.3h0M787.2 307.5h0M871.1 238.9h0M967.7 225.1h0M1047.4 266.8h0M913.3 222.5h0M850.4 252.3h0M846.4 245.2h0M842.8 254.3h0M951.8 222.4h0M992.4 231.4h0M1034.8 254.6h0M790.4 305h0M977.6 223.5h0M1028.2 249.5h0M852.8 243.9h0M816.4 277.4h0M950.9 221.6h0M1006.5 235.3h0M879.4 233.2h0M1020.5 244h0M834.2 261.8h0M1012.9 240.2h0M937.9 221.8h0M846.7 253.7h0M1013.2 239h0M912 223.1h0M1066.9 280.4h0M965 222.4h0M1025.7 249.7h0M788.6 306.4h0M1025.3 249.1h0M1050.3 271h0M849.1 249.6h0M910.4 220.9h0M1019 244.3h0M843 256.1h0M853.6 248.5h0M982.8 228.5h0M1036.4 257.2h0M936.7 218h0M999.4 233.5h0M897.8 227.3h0M1011.2 238.5h0M843.5 255.8h0M818.8 271.6h0M908.5 224.6h0M967.7 225.2h0M890.1 229.4h0M922.1 219.1h0M924.8 219h0M917.2 223h0M847.5 252.9h0M981.3 227.8h0M1026.1 250.6h0M896.8 225.5h0M1059.2 278.3h0M822.5 270.9h0M1026.7 247.6h0M872.7 239h0M998.5 229.2h0M1000.3 231.1h0M1000.7 231.6h0M1065.3 288.4h0M885.8 230h0M1040.2 261.7h0M950.1 221.9h0M837.3 258h0M1031.7 254h0M974.9 226.9h0M952 221.6h0M842.8 250.5h0M946.3 221.6h0M1020.5 241.7h0M825.4 269.6h0M934.2 220.7h0M817.3 275.3h0M845.3 254.5h0M836.2 260.8h0M804.5 288.5h0M841.6 254.1h0M905.2 226.3h0M816.6 276.4h0M1035.7 255.6h0M795.4 299.5h0M820.5 273.3h0M924.9 218.9h0M988.7 219.9h0M983 225.6h0M905.8 224.2h0M1000.3 233.7h0M955.6 221.7h0M1019.4 245.7h0M1047.6 267.6h0M1043.3 256h0M794.8 294.4h0M954.7 220.5h0M995.1 232.2h0M911.2 223.7h0M958.4 221.6h0M845.9 253.8h0M877.8 233.8h0M839 255.9h0M927 221.1h0M873.3 235.5h0M912.5 223.8h0M983.5 221.2h0M1024.7 249.3h0M818.5 273.9h0M916.7 216.5h0M981.5 225.8h0M1000.4 232h0M928.2 217.3h0M1062.3 281.8h0M827.9 266.7h0M1052.4 272.3h0M1010 238.8h0M868.3 234.6h0M915.5 220.5h0M978.5 226.2h0M796.2 298.3h0M1067.8 283h0M1008.8 239.2h0M992.6 229.8h0M874.5 237.6h0M1045.6 254.6h0M1046.7 265.7h0M784.8 305.5h0M842 254.3h0M1006.3 235.8h0M923 221h0M914.4 223.1h0M804.8 288.7h0M789.5 300.8h0M1056.8 274.9h0M889.3 228.1h0M963.3 223.6h0M863.1 241.5h0M795.8 299.4h0M834.2 261.6h0M912.2 222.9h0M861.6 231.2h0M886.7 231.8h0M846.2 254.5h0M789.8 305.2h0M847.8 252.5h0M1058.8 275.9h0M841.7 250.7h0M1061.5 280.9h0M936.2 221.1h0M872 234.8h0M969.1 224.3h0M878.1 236.3h0M842.6 257.1h0M848.5 252.8h0M815 272.4h0M986.2 227.8h0M975.4 226h0M1054 271.1h0M846.3 253.9h0M913.4 221.9h0M990.8 229.6h0M916.7 223.3h0M795.6 299h0M870.4 239.6h0M914.2 223.7h0M792.2 302.4h0M818.1 275.1h0M1032.6 253.7h0M1060.2 280.2h0M791.7 304h0M1046.2 266.5h0M793.9 299.4h0M972.4 226.5h0M946.2 220.3h0M843.3 253.5h0M804.7 283.4h0M962.7 222.4h0M1069.4 288.3h0M789 302.4h0M829.8 264.1h0M921.8 222h0M889.5 227.4h0M1057 276.5h0M1039.7 260.6h0M862 241.9h0M1070.8 292.4h0M806.2 287.4h0M906.9 223.6h0M1000.2 233.5h0M1002.4 234h0M857.9 242.2h0M804.1 288.4h0M1020.6 242.3h0M855.9 247.3h0M973.7 226.3h0M877.6 235.9h0M971.8 225.1h0M955 221.2h0M1016.3 242.6h0M957.2 223.2h0M888.3 231.7h0M930.6 221.1h0M790.9 303h0M1046.4 263.3h0M822.5 271.4h0M975.7 226.4h0M795.3 299h0M818.1 272.5h0M861.3 244.6h0M837.7 259.7h0M795.6 298.7h0M815.6 277.1h0M1018.7 245.3h0M858.7 245.6h0M809.3 285.1h0M1057.8 279.1h0M873 237.4h0M1035.6 257.5h0M1062.7 285.2h0M996.9 232.8h0M924.8 221.5h0M917.9 220.9h0M895.9 219.7h0M845.7 251.6h0M1065.9 285.1h0M955.3 223.4h0M1057 276.5h0M951.5 221.6h0M995.1 229h0M1003.3 231.3h0M874.1 235.2h0M962.6 222h0M1032.4 254.1h0M994.4 229h0M1064.5 286.6h0M1014.7 238.9h0M857.7 244.1h0M974.9 224.8h0M905.8 224.5h0M1022.8 246h0M1030.3 250.7h0M1069.4 260.9h0M1042.9 246.8h0M1069.9 276.3h0M1082.6 255.6h0M1099.1 248.4h0M1067.5 275.3h0M1064 262h0M1106.8 313.4h0M1107.9 283.3h0M1050.8 267h0M1071.4 258.5h0M1041.8 243.4h0M1048.7 214h0M1083.3 276.6h0M1032.5 249.7h0M1093.6 287.9h0M1088.5 241.2h0M1087.6 243.7h0M1053 261.5h0M1080.6 284.8h0M1038.3 241.7h0M1062.3 276.7h0M1097.1 270.1h0M1049.6 263.9h0M1031.4 234.9h0M1071.6 258.4h0M1030.1 248.4h0M1077.2 274.6h0M1042 255.5h0M1052.7 258.4h0M1087.7 288h0M1053.8 272.9h0M1075.2 251.3h0M1080.7 242.2h0M1092.8 273.6h0M1032.6 235.7h0M1072.5 244.1h0M1073.9 273.2h0M1090.8 263.2h0M1042.2 243.3h0M1044.2 250.5h0M1068.4 238.5h0M1036.8 244.8h0M1108.9 277.1h0M1074.6 253.5h0M1093.1 283.5h0M1080.7 269.2h0M1039.4 251.4h0M1028 243.1h0M1045.9 248.8h0M1096.5 267.4h0M1079.5 277.1h0M1077.4 313.9h0M1070.2 261.5h0M1083.7 290.6h0M1107.4 288.3h0M1054.1 234.3h0M1058.1 247.6h0M1069.3 272.1h0M1099.6 282.8h0M1030.7 221.2h0M1093 244.9h0M1069.5 229h0M1064.8 258.8h0M1059.2 270.1h0M1076.3 309.4h0M1025.7 242.1h0M1061.6 251.7h0M1084.7 269.9h0M1056.2 249h0M1062.8 235.7h0M1065.8 262.9h0M1081 242.8h0M1082 257.9h0M1077.8 251.5h0M1072.1 288.3h0M1080.3 266.7h0M1022.7 240.3h0M1062 267.5h0M1084.1 294.1h0M1068.6 274.3h0M1126.4 308.6h0M1034.6 228.7h0M1060.3 278.5h0M1079.6 248.4h0M1080.3 293.1h0M1076.1 249.8h0M1065.6 280.8h0M1039.1 259.1h0M1042.4 259.4h0M1130 249.2h0M1038.4 232.3h0M1040.2 249.3h0M1052.5 256.7h0M1074.5 259.8h0M1081.1 313.9h0M1079.1 295.1h0M1085.7 303.8h0M1085.4 270.3h0M1069.7 276.8h0M1089.4 244.4h0M1078.2 285.8h0M1023.6 228.4h0M1042.4 238.9h0M1036.3 219h0M1049.3 255.6h0M1044.8 235h0M1067 246h0M1045.5 250.6h0M1079.2 227.2h0M1075 285.7h0M1032.8 245.4h0M1076.8 287.6h0M1037.7 258h0M1079.8 306h0M1136.9 217.2h0M1040.1 231.8h0M1064.1 266.3h0M1093.7 253.3h0M1040.2 233.1h0M1063.5 256.2h0M1063.8 251.8h0M1062.9 278.7h0M1053.8 258.9h0M1035.8 242.5h0M1081.2 265.5h0M1060.1 251.2h0M1056.9 253.4h0M1071.7 264.9h0M1076.8 284.8h0M1051.6 250h0M1091.8 263.1h0M1070.4 290.6h0M1078.8 248.5h0M1081.6 272.4h0M1068.7 239.8h0M1024.9 235.9h0M1078.9 252.2h0M1074.4 273.9h0M1048.5 267.9h0M1077 271.7h0M1066.5 287.7h0M1082.2 234.1h0M1060.6 243.2h0M1081.3 306.4h0M1097.8 275.1h0M1043.4 259.9h0M1070.1 278.3h0M1068 259.7h0M1091.8 235.1h0M1066.4 258.4h0M1039.8 257.4h0M1039.2 249.7h0M1045.6 254h0M1064 256.5h0M1072 276.5h0M1069.9 241.7h0M1073.6 272.9h0M1058.3 268.4h0M1120.6 292.1h0M1084.1 248.4h0M1040.4 234.6h0M1071.3 266.5h0M1078.8 248.8h0M1079.7 279.5h0M1051 237.1h0M1077.5 307.5h0M1050.4 261.8h0M1049.6 260h0M1078.6 252h0M1070.3 273.2h0M1064.9 281.5h0M1045.1 265.1h0M1061.5 260.4h0M1038.1 251.2h0M1053.9 249.9h0M1113 288.4h0M1070.3 262.5h0M1074.4 262.1h0M1096.3 284.3h0M1071 292.6h0M1071.9 268.4h0M1078.3 286.6h0M1032.1 249.5h0M1109.7 250.6h0M1122.7 284.3h0M1074.3 242.7h0M1064 282.1h0M1041.1 256.1h0M1069.5 243.9h0M1025.1 229.7h0M1101.7 242.6h0M1093.4 306.3h0M1065.3 262.9h0M1060.7 229.8h0M1068.8 282.3h0M1069.5 260.6h0M1053 266.3h0M1052 264.3h0M1072.6 263.8h0M1066.7 271.6h0M1064.1 267.5h0M1061.4 254.3h0M1055.4 234.7h0M1075.9 295.7h0M907 382.2h0M1031.4 353.4h0M820.8 335.5h0M811.8 335.5h0M957.1 371.7h0M969.7 386.2h0M900.5 374h0M910.6 376.7h0M1023 369.2h0M904.9 375.7h0M813.5 344.1h0M838.5 354.8h0M888 384.8h0M910.7 379.8h0M922.5 387.8h0M894.8 371.8h0M975.9 371.2h0M860.2 362.5h0M884.5 379.5h0M879.9 375.1h0M878.1 369.2h0M898 382.1h0M868.9 367.8h0M1019.6 360.1h0M869.5 361.9h0M940.3 377.9h0M934.5 383h0M924.5 379.5h0M822 336h0M809.4 334.3h0M902.1 382.3h0M890.2 371.9h0M1040.9 375.4h0M813 335.4h0M850.5 360.5h0M823.6 334.6h0M822.2 332.8h0M994.1 361.5h0M972.5 386.9h0M843.3 376.9h0M997.8 366.5h0M909.6 380h0M1010.3 362h0M847 357.5h0M982.6 367.9h0M915.4 375.8h0M1004.7 364.1h0M925 381.7h0M821.4 332.2h0M1010.9 369.6h0M919.8 380.3h0M973.8 367.1h0M999.4 360.2h0M826.7 342h0M921.6 378.5h0M821.1 362.6h0M864.5 362.7h0M893.6 372.7h0M914.2 377h0M828.9 354.2h0M1007.3 359.5h0M823.9 336.3h0M948.7 374.7h0M866.4 362.9h0M818.7 335.9h0M990.4 361.3h0M971.5 374.2h0M1003 359.6h0M853.8 357.3h0M960.7 376.1h0M819.9 337.5h0M941.8 388.2h0M863.7 360.3h0M817.5 343.2h0M814.6 337.6h0M923.2 381.1h0M825.3 340.8h0M893.8 382.8h0M858.9 360.9h0M854.4 362.4h0M845.9 356.6h0M971.8 375.8h0M844.6 354.2h0M854.4 356.5h0M1010.5 369.2h0M869 363h0M966.7 368.7h0M868 373.5h0M976.4 368.4h0M899.7 374h0M936.4 376.5h0M870.9 370.8h0M828.3 338.4h0M887.2 383.6h0M887.2 371.2h0M855.8 358h0M975.3 399.9h0M987.5 367.6h0M913.2 390.3h0M878.4 368.5h0M870.7 366.6h0M831.1 341.6h0M815.5 339.3h0M978.3 370.6h0M826.1 338.3h0M835 351.9h0M929.3 379.4h0M840.6 352.3h0M961 381.4h0M894.8 373.8h0M953 376.8h0M885.2 369.7h0M1007.4 359.5h0M871.4 374.6h0M820.5 343.8h0M929.9 378.9h0M825.8 339.6h0M820.3 339.8h0M932.5 379.9h0M891.1 374.2h0M921.2 386.9h0M940.1 378.6h0M825.7 336.3h0M819.1 334.5h0M923.4 377.9h0M1023.7 353.8h0M990.9 366.2h0M872.3 374.1h0M846.9 354.3h0M824.7 345.5h0M828 337.7h0M974.5 374h0M811.6 334.7h0M810.4 332.3h0M952.2 372.9h0M806.2 329.3h0M827.4 339.7h0M830 340.5h0M901.5 378.9h0M901.3 377.9h0M949 374.8h0M906.1 376.1h0M906.2 375.2h0M831.1 347h0M816.3 341.5h0M939.9 388.3h0M822.9 340.4h0M887.5 370.5h0M800.6 332.1h0M929.3 376.3h0M820.9 336.5h0M962.9 372.9h0M871.8 366.3h0M864.6 362.6h0M891.3 372.1h0M826.6 360.4h0M1016.9 357.2h0M827.2 337.3h0M960.4 373.1h0M979.8 372.2h0M817.1 342.5h0M822 358h0M851.6 361h0M843.2 355.7h0M989.2 361.2h0M881.5 369.3h0M941.5 382.5h0M1035.6 354.3h0M888.8 371.6h0M873.6 368.3h0M1002.6 359.6h0M963.7 373.9h0M822.9 336.5h0M803.7 329.8h0M974.7 366.3h0M906.5 377.6h0M977.4 369.4h0M839.6 348.1h0M935.1 381.6h0M1027.8 355.1h0M927.5 380.4h0M844 359.9h0M819.2 335.1h0M957.2 382.9h0M971.4 368.4h0M1007.6 379.3h0M827.6 339h0M819.7 348.7h0M967 369.4h0M922 381.3h0M826.6 338.9h0M867 362.4h0M949 378.6h0M873.6 365.3h0M965.6 375.1h0M892.2 373.2h0M995.4 366.1h0M935.2 376.3h0M802 348.3h0M873.4 381.5h0M822.9 334.9h0M900.6 373.8h0M1014.7 367.2h0M944.7 377.8h0M851.7 361.3h0M942.8 380.4h0M894.2 378h0M978.8 365.8h0M914.7 380.5h0M977.2 372.8h0M904.6 378.6h0M909.3 376.4h0M806.9 329.9h0M832.9 344.5h0M845.8 353h0M999.8 365.4h0M936.2 379.9h0M995.7 363.9h0M1012.8 357.4h0M822 348.2h0M849.4 376.5h0M819.1 335.1h0M1014.7 357.1h0M921.1 377h0M829.7 338.9h0M818.6 337.9h0M849 353.6h0M996.2 363h0M880.5 366.3h0M836.9 350h0M906.6 373.4h0M945.7 376.3h0M947.5 374.3h0M948.2 374.7h0M808 329.5h0M918.2 376.7h0M982 365.9h0M1028.8 353.5h0M830.2 340.6h0M1020.4 353.8h0M849.1 354.1h0M1016.4 354.4h0M925.3 377h0M841.1 348.5h0M901.2 373.8h0M865.5 361.4h0M879.4 367.7h0M911.8 376.1h0M891.2 372.7h0M822.7 333.3h0M1011.7 357.6h0M938.2 377.1h0M825.2 333.8h0M1007.1 358h0M1033 352.6h0M989.7 366.6h0M933.7 377.9h0M931.5 376.9h0M978 368.3h0M958.7 374.1h0M1009.3 359.6h0M808.9 328.4h0M827.3 337.1h0M830 340h0M875.8 367.9h0M924.5 377.8h0M989.5 362.9h0M997.5 360.1h0M888.3 371h0M1010.8 358.7h0M956.8 373.8h0M834.5 344.8h0M818.5 336.8h0M897.2 374h0M1027.3 353.7h0M994.5 363.4h0M1002.9 359.3h0M814.6 339.1h0M1033 351.4h0M1004.6 360.6h0M827.8 338.1h0M820.9 333.5h0M808.8 327.2h0M968.5 369.1h0M917.7 376.4h0M904.9 373.9h0M1010.7 356h0M869.4 363.4h0M932.8 378.4h0M822.9 338.6h0M933.6 377.9h0M917.8 378.4h0M865.7 362.1h0M900.2 372.7h0M914.9 378h0M813.8 337.7h0M935.7 377.3h0M828.9 339.1h0M978.3 365.6h0M931.9 376h0M885.9 369.8h0M973.3 368.6h0M828.8 339.3h0M1016.5 355.3h0M825.2 334.5h0M812.9 335.9h0M877.7 370.8h0M852.9 357.5h0M916.6 377.2h0M1031.2 353h0M861.8 360h0M878.1 367.8h0M860 360h0M897.3 372.9h0M822.4 333.4h0M876 369.2h0M843 351h0M902.7 374.8h0M820.2 334h0M985.1 365.3h0M1034.6 351.1h0M819.5 335.4h0M978.8 366.1h0M848.6 353.7h0M905.8 374.3h0M965 370.8h0M834.1 343h0M879.2 366.5h0M988.2 361h0M809.1 329.4h0M939.2 376h0M913.7 375.3h0M900.3 372.7h0M888 373.6h0M893.1 372.3h0M978.7 365.5h0M934.7 377.5h0M904.6 375.7h0M812.4 333.9h0M845.4 352.2h0M973.9 368.8h0M942.8 378.4h0M937 376.7h0M803.3 341.8h0M811 323.2h0M795.2 322.3h0M811.9 322.1h0M801.5 333.4h0M796.2 330.6h0M814.4 316.5h0M790 333.6h0M809.4 326.6h0M823.6 322.8h0M809.6 324.7h0M795.9 328.1h0M803.1 326.5h0M819.2 329.1h0M814.4 324h0M812.2 325.1h0M798.8 323.1h0M803 338.1h0M805.8 333.4h0M802 326.5h0M793.6 331.6h0M798.3 331h0M813.3 319.2h0M791.7 332.1h0M792.9 348h0M808.9 315.5h0M809.6 337.6h0M812.9 335.7h0M811.4 331.1h0M793.9 323.3h0M801.2 329.3h0M808.3 324.5h0M810.8 332.8h0M798.8 337h0M808.6 327.1h0M795.8 342.1h0M800.7 310.6h0M820 346.9h0M808.3 315h0M806.3 329.2h0M816.4 327.6h0M792 340h0M796.4 323.2h0M813.2 344h0M797.8 328.1h0M798.1 330.7h0M799.6 323.8h0M795.7 327.2h0M812.4 332h0" stroke="#000" stroke-width="1.6" stroke-linecap="round" fill="none"/><path d="M1001.3 234.5h0M957.5 223h0M772.6 292.6h0M1034.9 254.9h0M925 221.4h0M791.6 300.4h0M825.4 266.3h0M1059 272.9h0M1025.8 223.3h0M946.5 214.4h0M978.1 222.6h0M954.7 220.6h0M1040.4 256.3h0M1043.1 264h0M959.4 218.5h0M1035.3 248.4h0M1057 271.2h0M862 241.3h0M1010.9 235.8h0M1035.8 255.9h0M914.1 220.3h0M895.2 219.4h0M928.8 217.8h0M983.7 228.3h0M1016 234.1h0M948.9 215h0M1016.8 236h0M802.2 288h0M973.3 211.5h0M1045.9 266.6h0M889 230.2h0M832 253.3h0M832 262h0M882.2 232.6h0M1001 233.2h0M928.5 217.2h0M922.9 218h0M1055.1 274.1h0M882.8 228.1h0M1063 278.4h0M1070.3 277.9h0M975 226.8h0M1046.5 260.8h0M810.3 275.8h0M824.5 267.7h0M813.8 280.1h0M780 291.4h0M788.3 295.3h0M1063.9 285.5h0M874.8 236.3h0M1020.6 243.2h0M940.7 218h0M849.3 244.9h0M897.5 227h0M945.1 221.5h0M1056.2 272.7h0M902.8 224.6h0M1063 282h0M1027.7 243.7h0M936.1 219.3h0M980.4 212.7h0M837.2 253.4h0M1075.7 290h0M883.5 233.3h0M1009.6 236.8h0M830.2 260.1h0M979.3 217.5h0M1023.4 238.3h0M1065.8 280.5h0M805.1 285h0M978.2 223.2h0M929.8 218.4h0M953.6 214.2h0M928.4 221.7h0M946.1 221.1h0M864.3 239.5h0M985.6 226h0M818 273.7h0M863.5 239.4h0M924 221.6h0M1014.9 237.9h0M850.4 243.7h0M1071.9 288.4h0M848.2 250.7h0M835.2 255.4h0M1017.6 242.2h0M957.2 219.3h0M968.2 221.3h0M951.9 216.2h0M1062.9 284.8h0M989 224.8h0M874.7 236.7h0M1074.2 286h0M1035.6 255h0M964.5 200h0M894.7 225h0M986.5 217h0M930.8 218.9h0M1018.6 243.6h0M1071.2 280.9h0M927 216.4h0M967.4 224h0M979.6 225.5h0M829.6 249.3h0M821.3 267.1h0M797.4 295.7h0M1017.3 233.3h0M791.8 297.6h0M1026.6 251.1h0M827.9 257.5h0M880.9 235.2h0M957.4 223.9h0M934.1 221.4h0M1064.3 268.9h0M856.1 243.6h0M954.2 221.1h0M1056.2 276.9h0M843.4 253.9h0M994.2 228.8h0M908.8 217.8h0M1046.5 263.6h0M880.7 209.1h0M1030.2 231h0M906.4 223.3h0M914 222.5h0M1059.3 256.5h0M1026.3 232.6h0M970.8 225.4h0M921.6 222.7h0M914.7 223.6h0M1067.8 284.5h0M864.3 239.1h0M889.1 221.5h0M836 253.4h0M1041.4 257.1h0M1074.9 290.7h0M877.2 235.7h0M861.8 243.3h0M1004.5 216.4h0M1061.7 281.2h0M830.7 265.3h0M1043.3 235.2h0M905.4 223.1h0M965.8 204.2h0M896.2 224.4h0M875.2 238h0M1042.9 255.9h0M1019.7 245.8h0M843.7 255h0M938.1 220.9h0M1051 264.8h0M1009.5 238.4h0M1004.2 227.6h0M909.9 219.7h0M851.5 237.2h0M1057.4 250.5h0M1042.5 259.7h0M841.2 220.6h0M934 214.1h0M1043.9 256h0M1067.6 280.9h0M821 263.6h0M870.5 236.2h0M972.4 215.9h0M991.5 231.2h0M795.2 288.6h0M982.6 229h0M935 216.6h0M849.8 250.4h0M1064.1 284.1h0M1019.1 244.4h0M1059.1 279.1h0M1047 267.5h0M992.1 231h0M859.7 245.4h0M1030.4 250.3h0M868.2 233.5h0M849.3 251.9h0M782.5 302.3h0M951.7 220h0M1025.3 236.9h0M1031.6 253.3h0M1044.7 264.1h0M970.8 205.4h0M883.1 232h0M984.7 228h0M975.7 223.8h0M880.9 209.3h0M819.8 256h0M827.8 260.2h0M1049.4 263.4h0M1022.4 246.8h0M1017.5 240.1h0M988.5 227.5h0M1016.7 233.7h0M872.4 238.7h0M1071.4 281.2h0M838.3 254.3h0M1057.1 277.9h0M877.6 227.9h0M1045.8 255.9h0M1021.9 237.7h0M857 238.7h0M890 227.1h0M930.2 220.9h0M982.1 226.5h0M972.4 226.6h0M1044.1 261.5h0M1022.2 239.7h0M1041 247.3h0M939.2 215.4h0M926 217.9h0M879.3 233h0M1056.2 277.2h0M808.9 278.6h0M939.2 217.1h0M858.7 238.5h0M902.6 226.7h0M1017.8 243.8h0M1064 284.8h0M995.5 231.6h0M911.1 221.7h0M891.1 227.9h0M1056.4 270.1h0M855.4 246.7h0M1071.8 276.6h0M867.9 241.2h0M1014.9 237.7h0M918.1 222.4h0M784.3 279h0M1039.2 249.5h0M960.6 204h0M893.3 224.5h0M828.3 266.4h0M955.3 213h0M1010.3 233.5h0M1048.4 254.3h0M1049.3 262.9h0M915.9 222.1h0M867.7 236.7h0M890 225.3h0M1040.4 253h0M1058.4 271h0M888 204.7h0M850.6 250.2h0M1055.4 268.4h0M1003.4 222h0M939.5 209h0M845.9 247.7h0M887.9 228.7h0M822.3 269h0M1037.3 252.3h0M1059.2 275h0M946 220.6h0M909.1 220.3h0M880 234.7h0M802.5 283.7h0M1017.1 243.1h0M934.9 217.7h0M1023.1 233.2h0M1037.5 252.6h0M1026.3 241.2h0M864.3 241.2h0M951.6 211.7h0M920.1 220.4h0M786.3 295h0M787.6 309h0M1017.5 243.8h0M969.4 223.1h0M1034.6 250.5h0M870.6 233.8h0M812.2 276.8h0M852.2 249.1h0M821.5 271.7h0M809.8 282.9h0M847.6 248.2h0M912.1 218.5h0M1061.7 282.6h0M909.9 215.7h0M818.6 270.8h0M818.3 274.3h0M885.9 227.6h0M1070 283.2h0M1036.6 256h0M803.1 290.5h0M860.7 245h0M1024.3 244.8h0M1003.3 233.4h0M1036.4 254.6h0M851.2 210.9h0M1031.2 242.2h0M961.6 223h0M998.7 232.3h0M831.3 261.7h0M1053.1 255.7h0M997.3 226.2h0M976.4 227.1h0M886.2 216.8h0M841.1 253.2h0M854.6 247.8h0M1022 247.3h0M894 229.8h0M922.6 215.9h0M916 219.1h0M921.8 218.9h0M928.3 222.1h0M944.4 216.4h0M972 226.1h0M897.5 227h0M842.4 249.4h0M867.8 229.7h0M845 249.4h0M862.6 244.1h0M861.5 244.8h0M954.4 221.6h0M899.7 227.6h0M971.5 194.5h0M903.9 225h0M810.6 266.8h0M1000.1 232h0M819.6 260h0M942.6 214.5h0M955.7 221.8h0M978.1 225.6h0M1001.6 233.1h0M812.2 279.2h0M802.9 287.6h0M933.8 216.6h0M887.1 222.2h0M1070.5 291.6h0M885.1 231.6h0M1023.5 242.1h0M972 224.9h0M908.1 220h0M1035 257.9h0M914.2 222.5h0M917 219.5h0M893 229.3h0M985.4 229.2h0M949.1 221.4h0M838.8 255.4h0M1062.1 282.4h0M961.4 222.8h0M891 230.1h0M875.2 237.7h0M1068.7 292h0M857.7 245h0M797.3 296.9h0M943.4 220.1h0M1063.5 279.8h0M818.5 268.6h0M1034 255.9h0M835.6 260.9h0M861.6 244.7h0M802.8 289.1h0M1013 241.6h0M831.7 258.2h0M1003.5 232.7h0M1022.4 247.2h0M874.7 238h0M927.5 221.7h0M844.9 253.2h0M1063.5 282.5h0M938.6 221.1h0M1057.9 278.5h0M986.1 228.2h0M832.2 263.9h0M837.9 257.9h0M1064.5 285.8h0M976.2 226.6h0M796.1 298.9h0M1030.5 248.5h0M832.7 263.7h0M1064.6 285.4h0M818.2 276.1h0M916.2 223.5h0M983 228h0M1040.2 251.5h0M840.8 256h0M1059.4 276.8h0M910.6 222.1h0M962.5 223.8h0M929.6 218.2h0M979.6 225.7h0M1068.9 289.8h0M901.5 227.3h0M850 249h0M902 221.2h0M785.9 299.7h0M954.9 219.5h0M1030.7 252.4h0M1060.2 281.9h0M867.4 241.2h0M1065.8 288h0M790.2 304.6h0M994.8 228.9h0M892.6 226.2h0M823.8 270.5h0M880 235.5h0M829.9 261.2h0M998.8 226.7h0M942 222h0M786 307.5h0M1031.7 252.1h0M940.4 221.1h0M863.3 243.3h0M874.7 236.7h0M984.4 228.5h0M863.7 240.1h0M1064.7 286.1h0M792.5 302.1h0M817.1 276.7h0M844.7 251.2h0M1046.8 268h0M1037.5 256h0M790.1 303h0M838 259.1h0M935.6 218.6h0M874.7 226.5h0M971.5 222h0M997.2 232.9h0M1058.4 272.5h0M1059.6 280h0M964.1 221.1h0M837.5 258.7h0M857.2 244.4h0M918.2 221h0M812.1 281.1h0M861.4 244.1h0M873.8 236.5h0M1014.4 241.6h0M1024.7 247.4h0M928.1 220.9h0M1070.9 286.4h0M863.4 243.7h0M904.6 226.7h0M959.4 220.2h0M1009.8 237.7h0M822.1 272.3h0M1057.2 277.1h0M914.1 223.7h0M873.5 234h0M885.7 231.3h0M789 301h0M982.1 224.8h0M916.3 223h0M803.1 289.2h0M932.8 218.2h0M1055.3 275.1h0M955.4 216.6h0M912.2 223.9h0M797.1 293.5h0M805 283.8h0M948.1 220.9h0M1023.9 247.6h0M1021.6 244.5h0M991.2 230.6h0M906.3 220.6h0M813.1 279.2h0M1058.5 275.9h0M1002.3 232h0M966.7 225.3h0M805.1 288.1h0M1059.3 280.8h0M870.6 239.6h0M850.1 249.6h0M870.7 239.5h0M938.7 218.6h0M868.6 240.4h0M1049.6 265h0M870.9 235.4h0M1002.9 234.5h0M993.6 231.4h0M875.8 235.3h0M803.4 287.6h0M1061.4 281.2h0M904.8 224h0M1068.2 286.4h0M813.4 275.7h0M930 221.7h0M850.2 250h0M875.7 235.4h0M971.6 226.1h0M1034.4 256.1h0M952.4 220.2h0M1037.4 255.3h0M806.3 285.3h0M848.1 250.9h0M992.3 230.8h0M977.2 227h0M794.7 298.8h0M939 218h0M791.5 303.5h0M986.8 229.2h0M923.9 221.5h0M999.2 227.7h0M840.2 257.4h0M1025.9 246h0M787.7 306.9h0M872.6 233h0M1015.9 242.4h0M842.8 256h0M837 260.4h0M974.5 226.1h0M991.9 230h0M1043.2 264.5h0M813.6 279.8h0M791.2 304.9h0M1014 241.7h0M791.4 303.5h0M981.6 225.8h0M790.6 292.1h0M1031.2 253h0M1024.3 248.2h0M916.9 223.5h0M854.3 246.9h0M897.3 227.6h0M956.3 223.1h0M824 268.8h0M793.4 301.8h0M1004.9 236h0M922.7 222.2h0M1043.3 262h0M802.9 290.9h0M842.1 256.5h0M987.9 229.4h0M1010.2 236.8h0M835.5 258.4h0M940.8 221.9h0M855.9 242.4h0M945.1 222h0M839.7 258.1h0M1001.1 232.8h0M1049.4 267.4h0M909.6 224.5h0M962.8 220.9h0M1023.9 245.2h0M1063.4 284.5h0M911.6 217.6h0M873.9 234h0M886.2 232.6h0M1029.9 252.3h0M925.7 219.9h0M906.8 225h0M840.2 256.9h0M803.7 289.2h0M972.4 226.1h0M804.7 289.5h0M940 219.5h0M965.9 222.9h0M844.9 252.3h0M1076 267.4h0M1067.6 282.9h0M1037.5 236.6h0M1073.7 260.1h0M1057.7 247.2h0M1062.1 272.4h0M1025.6 213.8h0M1046.1 263.2h0M1078.6 282h0M1065.4 218.1h0M1023.2 230.7h0M1038.3 253.9h0M1063.9 268.8h0M1029.6 235.9h0M1084.8 265h0M1063.5 263.8h0M1077.9 296.1h0M1030.5 246.7h0M1072 256.4h0M1053.4 265.3h0M1044.9 226.4h0M1081.8 260.3h0M1038.5 232.8h0M1065.1 229.5h0M1056.2 255.5h0M1049.6 270.4h0M1055.8 272.6h0M1097.5 300.3h0M1077.2 282.7h0M1055 265.7h0M1040.2 243.7h0M1053.6 241.9h0M1082.4 278.4h0M1066 281.4h0M1072.7 280.7h0M1058.2 249.6h0M1052.1 239.7h0M1063.5 248.7h0M1061.8 267.8h0M1096.9 280.6h0M1080.8 254.7h0M1079.8 285.8h0M1059.7 241.6h0M1060.3 263.6h0M1080.8 267.2h0M1058.4 255h0M1091.3 284.1h0M1040.9 235.9h0M1098 234.4h0M1038.9 224.4h0M1067.7 260.9h0M1026.6 240.4h0M1045 262.6h0M1080.1 275.9h0M1050 269.9h0M1072.5 255.1h0M1059.9 252.1h0M1092.5 271.7h0M1076.4 275.2h0M1089.2 252.6h0M1086.7 238.6h0M1076.3 265.7h0M1050.4 256.7h0M1066.7 274.1h0M1074.4 255.9h0M1082.6 270.4h0M1075.1 270.1h0M1067.4 262.7h0M1087.5 247.3h0M1062.8 262.8h0M1054.2 267.5h0M1068.8 275.4h0M1047.5 265.2h0M1075 286.2h0M1027.4 235.1h0M1051.7 257h0M1121.6 272.9h0M1060.4 265.5h0M1072.7 234.3h0M1033.1 235.1h0M1081.7 268.5h0M1071 287.3h0M1109.5 254.4h0M1037 252.4h0M1102.9 270.5h0M1068.3 267.6h0M1066.7 246.2h0M1070.2 243.2h0M1129.7 272.2h0M1079.2 260.5h0M1072.5 254.2h0M1054.3 260.2h0M1107.2 269.5h0M1079.4 258.3h0M1074.4 290.9h0M1057.6 267.5h0M1102.2 263h0M1082.9 257.2h0M1074.3 239.5h0M1060.1 240.7h0M1064.1 255.3h0M1067.6 267.6h0M1081.6 230.7h0M1076.1 251.1h0M1063.1 259.2h0M1077.2 280h0M1095.3 240.9h0M1058.8 273.8h0M1084.6 242.4h0M1075.9 264.8h0M1142.8 260.8h0M1088.3 243.9h0M1084.5 308.8h0M1079.7 285.4h0M1099 288.4h0M1038.2 244.1h0M1075.6 270.3h0M1049.7 256.7h0M1121.2 228.9h0M1027.7 207.4h0M1075.1 242.2h0M837.3 361.1h0M851.9 361.6h0M946.9 375.3h0M969.3 374.6h0M988.3 363.3h0M828.6 339.9h0M873.4 374.6h0M825.9 345.6h0M826.1 338.6h0M1023.6 363.4h0M867.9 363.4h0M954.1 376.9h0M943.8 377.8h0M951.3 379.5h0M1026.7 362.1h0M843.5 360.9h0M822.3 331.7h0M867.9 363h0M995.9 363.7h0M1009.8 357.8h0M831.2 342.9h0M907.6 375.3h0M828.3 338.3h0M884.1 378.6h0M912.3 378.3h0M807.7 331.3h0M878.3 371.7h0M823.6 347.7h0M854.9 363.6h0M893.9 378h0M837.2 346.5h0M810 331.4h0M973.1 367.8h0M880.1 367.2h0M800.6 338.2h0M841.1 358.2h0M845 352.5h0M854.7 358h0M847.9 365.6h0M830.6 341.6h0M887.9 384.6h0M885 374.8h0M845.9 370h0M835.7 358h0M880.6 369.3h0M895.8 375.3h0M825.2 339.2h0M958.8 373.1h0M897.7 389.6h0M820.1 334.2h0M872.2 365.9h0M875.1 370.6h0M881.7 372.4h0M807.2 330.5h0M835.8 346.8h0M877.8 367.9h0M866.9 365.7h0M920.5 393.4h0M1006 362.9h0M918.7 376.9h0M924.6 377.9h0M1005.6 370.8h0M968.4 381.6h0M949.6 376.7h0M828.4 354h0M840.9 350.8h0M901.7 373.4h0M824.2 344.4h0M996.6 386h0M797.4 348.9h0M995 373.1h0M831.4 340.8h0M971.1 396.7h0M897.5 375.9h0M845.4 356.8h0M824.7 334.4h0M940 377.3h0M959.8 378h0M879.3 370h0M967.5 379.2h0M972.3 373.8h0M864.4 362.7h0M871 367.1h0M823.5 340.3h0M990.6 375.5h0M807.8 328.1h0M868.9 368.5h0M833 341.8h0M891.3 382.2h0M862.3 364.1h0M919.8 385h0M944.6 376.2h0M979.8 380.3h0M890.1 382.3h0M1005.5 357.7h0M848.6 354.3h0M806.4 342.2h0M881.4 369.9h0M963.9 376h0M944.1 377.6h0M1027.7 359.8h0M941.8 378h0M818.9 334.1h0M919.8 382.1h0M911.1 374.8h0M873.4 367.4h0M880 370.1h0M824.1 336.3h0M1009.2 360.2h0M810.4 363.4h0M995 360.9h0M998.6 361.8h0M914.1 386.2h0M986.6 363.7h0M1013.6 370.3h0M1001.1 360.9h0M817.7 339.3h0M974.5 370.6h0M868.8 373.8h0M805.8 336.5h0M868.1 374.9h0M942.5 379.8h0M951.5 374.9h0M972.7 375.8h0M927.6 378.7h0M825.1 341.8h0M926.9 377.4h0M850.7 359.3h0M899 373.8h0M914.2 384.8h0M954.6 378.6h0M1015.7 361h0M908.7 381h0M941.8 377.8h0M921.1 379.8h0M830.7 342.4h0M819.9 338.4h0M889.6 379.9h0M913.4 376.1h0M926.9 377.4h0M842.7 350.1h0M857.9 360.3h0M985.3 366.3h0M828.2 340.1h0M1002.8 360h0M953.6 374.5h0M824.4 335.7h0M828.3 339.5h0M814.3 337.4h0M903.9 374.6h0M1000.4 363h0M932.2 379.4h0M851.6 356.1h0M807.6 340.8h0M827.4 341.4h0M962.6 372.2h0M1008.8 367.5h0M872.9 364h0M996.5 362.8h0M909.9 382.4h0M864 362.3h0M888.2 377.1h0M878.9 375.5h0M964.9 373.1h0M826.5 338.3h0M879.8 372h0M833.4 342.2h0M889.8 374.7h0M807.2 333.7h0M952.3 373.8h0M1000.6 364.5h0M849 354.9h0M943.7 384.7h0M887 372.9h0M883.6 378.3h0M819.2 341.1h0M931.7 383.2h0M943.6 376.2h0M818.4 336.4h0M802.2 331.2h0M981 374.3h0M920.3 376.8h0M918.4 379.4h0M1016.1 357.6h0M965.5 375.5h0M841.7 359.3h0M854.2 359h0M1032.9 365.9h0M952.2 383.8h0M974.7 372.6h0M902.9 378.9h0M902.3 373.1h0M836.3 344.5h0M842.1 351.2h0M829 340.2h0M980.4 370.7h0M825 347.3h0M878.2 366.8h0M946.6 376.8h0M827.1 338.1h0M799.4 340.2h0M843.3 352.7h0M818.8 334.1h0M997.2 363.9h0M835.1 347.5h0M878.9 367.1h0M935.3 379.3h0M964.7 380.6h0M844.4 357.2h0M952.5 372.3h0M839.3 356.9h0M858.8 366.7h0M998.9 367.2h0M1027 362.4h0M939.7 383.4h0M895.7 375.3h0M854.5 359.2h0M948.2 375.1h0M859.8 359.4h0M968.5 371.8h0M925.8 377.3h0M917.4 377h0M837.9 350.3h0M946.7 376.8h0M890.6 371.8h0M950.6 373.4h0M951.9 375.5h0M966.2 370.1h0M965.4 369.9h0M949.4 373.4h0M1021.9 355.8h0M862.9 360.5h0M881 368.3h0M981.3 365h0M877.8 364.5h0M882.2 368h0M960.4 374.1h0M955.9 374.2h0M1012.3 358.1h0M852.2 355.2h0M902.3 375.2h0M922.4 377.4h0M822.2 332.8h0M947.3 374.5h0M811.2 333.6h0M925.7 377.2h0M825.2 335.3h0M884.1 369.5h0M944.9 374.5h0M855.4 357.3h0M885.1 371.2h0M869 365.6h0M862.3 359.7h0M992.9 361.3h0M895 372.6h0M873.7 366.6h0M924.3 378.3h0M920 378.2h0M875.6 367h0M927.9 377.7h0M936.6 382.7h0M837 344.7h0M813 335.5h0M814.5 337.3h0M998.1 362.7h0M965.6 370.7h0M1012.1 359h0M809 333.6h0M893.8 373.1h0M836 344.2h0M867 363.4h0M877.2 366.2h0M836.1 345.7h0M1011.1 357.2h0M811.4 336.1h0M915.6 374.6h0M920.5 377.1h0M980.3 365.1h0M978.8 366.7h0M843.2 349.3h0M836.2 345.8h0M927.7 377.8h0M1013.5 356.2h0M989.7 362.2h0M891.7 372.9h0M970.2 369.3h0M924.9 379h0M897.3 373.1h0M1028.2 352.6h0M976.5 366.8h0M909.6 375.1h0M904.7 374.2h0M924.3 376.8h0M818 337.6h0M958.4 373.5h0M984.2 364.2h0M932.9 379.4h0M829.7 342.8h0M906.7 376.3h0M936.1 377.4h0M915.9 376.4h0M839.5 348.1h0M853.5 355.4h0M816.4 339.6h0M827.8 337.7h0M971.5 368.5h0M810.2 332.9h0M839.7 347.7h0M955.9 373.3h0M1006.5 357.8h0M816.6 337.3h0M933.3 377.2h0M871.2 363.7h0M933.9 379h0M996.3 361.5h0M1012.9 356.5h0M1024.3 353.9h0M853.8 355.4h0M857.9 359.8h0M900.2 374.4h0M829.9 340.6h0M1022.6 354.6h0M1032.3 354.7h0M828.2 338.8h0M832.2 342h0M1019.6 355.8h0M897.4 373.1h0M892.9 370.7h0M889.8 370.9h0M867.1 361.2h0M811.3 331.6h0M812 334h0M799.8 321.2h0M813.3 322.9h0M799.9 326.6h0M806.7 316.2h0M808.8 321.1h0M805 328.9h0M804.3 335.5h0M812.1 344.8h0M807.9 337.1h0M810.3 328.8h0M798.7 323h0M806.4 323.4h0M812 325.9h0M815.3 332.4h0M812.8 341.5h0M808.3 321.5h0M804.8 313.1h0M812.1 334.1h0M816.7 308.8h0M799.3 320.7h0M805.1 342.8h0M797.4 326.1h0M804.6 317.7h0M811.2 342.6h0M801.1 331.3h0M805.1 344.8h0M798.3 340.7h0M822.5 320.4h0M815.8 332.2h0M814.8 320.8h0M804.1 321.5h0M820.9 317.9h0M809.5 332.8h0M796.3 324.5h0M809.5 328.9h0M801.9 341.7h0M799 336.3h0M813.7 312.9h0M817.4 313.5h0M790.5 338.9h0M797.4 341h0M802.8 329.3h0M802 341h0M796.1 323.4h0M810.5 324.8h0M803.2 328h0M805.7 316.4h0M795.8 332h0M798.7 335.4h0M795.2 339h0M796.2 320.1h0M804.7 312.9h0M797.3 317.4h0M793.6 335.3h0M808.5 315h0M800.2 316.9h0M808.6 318.9h0M815.6 331h0M811.2 307h0M812.5 328.5h0" stroke="#000" stroke-width="2" stroke-linecap="round" fill="none"/><path d="M963.8 223.2h0M913.7 223.5h0M1011 239.8h0M1069.7 294.2h0M856.9 242.8h0M795.6 298.5h0M988.6 227.5h0M812.2 280.7h0M818.1 271.6h0M1046.4 267h0M1066.3 284.3h0M951.5 222.6h0M929.4 214.2h0M877.7 222.2h0M984.9 226h0M799 295h0M982.3 225.6h0M898.3 228.2h0M884.2 224h0M1020.3 233.8h0M824.7 268.6h0M869.2 231.2h0M960.1 217.6h0M956.6 221.9h0M807.5 269.3h0M1056.9 277.8h0M1062 257.1h0M839.8 258.5h0M1063.1 266.7h0M821.4 270.6h0M806.5 275.8h0M809 273.5h0M1035.8 255.5h0M825.3 248.4h0M816.5 267.5h0M896.3 225.3h0M850.8 240.8h0M937.8 209.5h0M1067.2 280.8h0M979.1 227h0M1066.6 283.6h0M1042.3 257.4h0M942.7 220.2h0M1041.1 261.9h0M878.3 230.1h0M941.5 195.3h0M1048.8 260.3h0M1048.9 269.8h0M836.3 257.6h0M1003.7 225.2h0M880.5 233.2h0M1023.4 245.2h0M1046 258.5h0M1005.3 235.2h0M1059.9 280.1h0M1055.6 274.1h0M805.9 272.4h0M865.4 240h0M964.9 213h0M953.4 221.5h0M877.3 227.1h0M1045 253.2h0M835.2 261.3h0M999.2 231.4h0M816.4 265.3h0M861.7 232.7h0M874.4 236h0M792.5 298.7h0M1026.9 246.3h0M1021.3 245h0M974.8 210.7h0M992.2 231.5h0M1016.4 236.6h0M912.4 218.4h0M1034.1 251.7h0M841.5 255.4h0M910.8 222.8h0M1032.5 254.4h0M962.3 222.8h0M924.5 215.7h0M860.8 243.3h0M796 295.3h0M865.6 241.2h0M914.9 216.3h0M815.2 270.9h0M889.5 229.6h0M795.6 296.7h0M895 228.9h0M827.7 258.1h0M1061.3 276.5h0M796.1 298.6h0M864.4 242.9h0M864.2 241.9h0M815.4 264.2h0M1033.7 254.3h0M1056.7 259.5h0M963.7 221.4h0M999.6 227.9h0M981.1 226.1h0M1026.5 248.3h0M994.7 224.9h0M1062.3 283.5h0M827.7 266.4h0M922.3 207.2h0M988.7 228.8h0M883.5 224.7h0M955.3 223h0M885.3 230.3h0M1018.5 240.9h0M995 229.7h0M941.6 217.3h0M1054.7 255.6h0M827.8 265.3h0M796.3 292.6h0M1040.6 250.9h0M1068.3 275.4h0M866.5 238.9h0M1055.1 274.7h0M952.9 222.5h0M890.9 224.3h0M849.9 238.6h0M1061.4 275.2h0M1070.2 264.1h0M1003 228.9h0M815.5 272.2h0M950.8 219.4h0M917.6 216.7h0M837.8 260.3h0M916.6 216.2h0M1069.5 289.9h0M971.7 220.3h0M940.3 217.2h0M839.7 256.2h0M1025 246.5h0M983.5 217.2h0M794.6 296.3h0M793.3 291h0M995.8 213h0M1020.6 245.3h0M877.4 236h0M921 213.8h0M814.5 265h0M818.7 262.7h0M948.7 218.7h0M909.4 223.9h0M847 244.3h0M1015.8 235.7h0M792.9 298.3h0M785.9 297.5h0M1021.1 246.1h0M923.9 211.5h0M1001.5 235.4h0M1020.9 240.7h0M804.1 285.5h0M1053.8 270.9h0M1025.7 247.7h0M914.5 223.8h0M867.4 235.6h0M1064.2 282.4h0M971 220.6h0M861.4 228.3h0M1037.5 255.8h0M1039.7 261.7h0M894.7 212.8h0M951.7 214h0M1035.2 256.2h0M845.9 249.3h0M946.1 221.5h0M1001 226.4h0M929.5 211.4h0M840.7 254.1h0M787.2 308.1h0M929.1 217.2h0M874.3 231.5h0M1021.2 246h0M900.6 212.4h0M811.8 277.7h0M989.8 228.1h0M829.1 266.5h0M1068.8 290.8h0M867.4 239.5h0M926.7 220.8h0M806.3 286.7h0M1051.4 268.1h0M1071 286.1h0M818.3 273.4h0M857.2 244.2h0M1020.2 242.3h0M843.7 255.2h0M1058 279.2h0M907.7 222.9h0M794.5 297.5h0M1023.9 247.8h0M893.4 227.4h0M872.4 238.3h0M883.1 231.2h0M943.4 221h0M1065.3 287.7h0M833.4 257.9h0M800.5 287.7h0M988.2 229h0M941.1 221.8h0M867.7 241.5h0M843.1 256.3h0M1053.1 267.4h0M1051.6 271.8h0M976.5 223.8h0M896.5 225h0M1010.6 237.7h0M1046.5 261.4h0M1022.3 244.6h0M983.1 227.8h0M813.3 279.6h0M817.3 275.8h0M837.7 255.2h0M799.1 294.2h0M904.1 223.5h0M1042.1 260.6h0M998.9 231.1h0M911.1 223.9h0M1035.7 256.9h0M943.6 221.3h0M946.3 215.8h0M897.7 226.2h0M955.2 222.5h0M868.4 239.6h0M1058.3 251.7h0M1104.3 222.9h0M1076.3 242.5h0M1042.7 233.2h0M1057.1 269.3h0M1065 273.9h0M1020.8 239.4h0M1054.9 269.5h0M1061.2 226.3h0M1032.2 246.4h0M1063.2 262h0M1075.4 225.4h0M1084.9 248.6h0M1071.1 276.3h0M1039.1 253h0M1077.1 287.1h0M1089.3 271.7h0M1101.1 314.5h0M1073 235.8h0M1046.5 261.7h0M1044.5 240.4h0M1081.1 245.5h0M1081.8 278.5h0M1025.4 241.7h0M1124.9 259.9h0M1046.4 245.7h0M1092.1 286.4h0M1081.8 296.2h0M1084.4 254.5h0M1047.4 251.8h0M1073.9 250.5h0M1083.6 265.9h0M1084.5 315.3h0M1068.3 281.1h0M1062.7 265.2h0M1052.4 267.7h0M1086.4 262.2h0M1054.2 270.9h0M1045 246h0M1037.6 209.6h0M1049.5 255.3h0M1080.7 273.7h0M1030.6 223h0M1067.9 274.6h0M1080.8 263.7h0M1078.5 302.4h0M1055.8 235.6h0M1080.7 269.4h0M1050.3 247h0M1072.7 224.1h0M1075.3 304.4h0M1087.5 258.8h0M1068.5 288.6h0M1068.4 266.2h0M1050.8 267.8h0M1063.6 254.6h0M1050.7 265.7h0M1078.8 274.8h0M1071.6 278.9h0M1062.3 261.6h0M1076.8 288.1h0M1093.2 243.3h0M1071.8 280.3h0M1058 275h0M1052 253.5h0M1095 278.4h0M1051.7 250.6h0M1054.6 254h0M1076.8 290.7h0M1069.6 285.2h0M1060.2 281.7h0M1067.3 285.1h0M1082.2 273.9h0M1045.4 259.1h0M1051.8 267h0M1087.6 247.8h0M1073.1 271.4h0M1057.2 270h0M1066 259.6h0M1072.8 288.7h0M1059.2 253.3h0M1046.9 267.5h0M1073.5 286.3h0M1068.9 275.6h0M1040.5 248h0M1082.5 249.8h0M1057.7 270.9h0M1042.6 260h0M1065.5 253.4h0M1060.7 247h0M1072.8 281.8h0M1089.6 309.9h0M1055.4 256.9h0M1059.5 231.4h0M888.5 371.4h0M997.5 362.8h0M939.8 380.1h0M1016.8 364.7h0M896.5 376.6h0M963.6 376.8h0M901.5 380.5h0M813.8 337.3h0M987.3 362.5h0M882.8 368.8h0M966.2 372.6h0M829.3 340.4h0M916.5 376.3h0M825.4 337.7h0M979.8 374h0M949.9 372.7h0M909.3 376.6h0M971.6 377.9h0M924.8 377.6h0M817.6 341.6h0M864.3 362.2h0M941.9 377.4h0M817 338.3h0M888.2 373.7h0M1006.8 361h0M909.8 375.3h0M931.9 382.7h0M808.1 346.7h0M852.5 367.3h0M842.6 368.5h0M896.8 373.2h0M866.7 366.8h0M1017.1 357.8h0M1033.7 355.2h0M970.6 369.7h0M809.1 337.9h0M846.9 357.4h0M939.1 377.3h0M894.4 375.1h0M841.1 350.5h0M1005.4 360.8h0M979.2 366.2h0M930 384.9h0M842.6 350h0M818.4 337.5h0M833.6 347.9h0M869.1 365.5h0M839.4 354.9h0M932.2 387.5h0M974.1 367.5h0M878.5 372.4h0M824.3 335.5h0M988.8 364.1h0M885.4 371.2h0M819.3 336.9h0M803.3 330.6h0M824.1 340.6h0M904.3 376.4h0M1026.5 354.4h0M904.3 385h0M820.1 338.7h0M810.4 330.7h0M867.5 363.8h0M921.3 379.9h0M814.6 341.5h0M837.2 361.3h0M898.8 375h0M871.5 367.5h0M820.9 343.5h0M807 337.4h0M863.2 363.6h0M825.4 336.8h0M824.3 341.7h0M1004.9 363h0M807.1 337.8h0M857.5 359.8h0M1003 371.3h0M1010.2 358h0M820.7 338.2h0M994.9 363.8h0M1011.2 391.1h0M959.8 378.1h0M816.6 339.1h0M953.1 373.1h0M827.2 338.1h0M880.2 368.2h0M864.6 367.6h0M821.3 342.5h0M867.9 367h0M1027.7 353h0M874 367.1h0M817.9 340.2h0M825 341.4h0M923.6 380.6h0M859.2 362.8h0M808.1 338.6h0M859.7 366.2h0M805.4 329.9h0M890.2 375h0M844.5 351.8h0M929.1 378.2h0M819.4 339.1h0M831.4 345.9h0M941.8 374.6h0M832.4 345.2h0M922.4 377.7h0M913.2 379.9h0M887.9 377.2h0M928.2 376.5h0M814 341.1h0M839.9 347.6h0M871.4 368.1h0M825.1 338.3h0M812.8 338.3h0M893.9 371.9h0M907 376h0M922.9 378.1h0M997.6 365.5h0M861.6 366.4h0M1013.5 357.5h0M842.6 382.8h0M894 372.2h0M913.5 377.3h0M822.8 333.7h0M828.8 360.2h0M867.7 369.5h0M960.1 372.3h0M828.8 339.5h0M855.5 358.9h0M955.9 372.6h0M921.6 377.8h0M973.5 368.5h0M965.6 371.4h0M827.1 338.1h0M977.4 369.5h0M809.5 330.3h0M937.7 376.5h0M927.6 378.4h0M936.8 377.1h0M912.7 375.9h0M954.7 372.9h0M936.4 377.2h0M927.3 377.1h0M886.8 371.2h0M815.1 337.2h0M923.6 377h0M984.8 365h0M919.3 377.6h0M825.5 331.8h0M970.8 368.6h0M1028.6 352.5h0M996 361.5h0M841.8 349h0M907.7 374.3h0M806.9 326.1h0M801.4 329h0M804 324.1h0M788.6 335.9h0M823.8 315.7h0M811.7 324.9h0M793 320.5h0M821.9 326h0M802.7 325.6h0M801.5 327h0M797.1 311.5h0M795.6 326.4h0M803.1 308.7h0M796.7 342.3h0M803.7 342.6h0M797.4 320.3h0M811.1 334.9h0M804.5 320.2h0M812.2 324.4h0M810.6 325.6h0M800.8 334.7h0M799.6 333h0M817.1 329h0M807.6 316.5h0M793.6 337h0M798.8 322.9h0M795.1 325h0M809.2 333.3h0M794 331.7h0M815 339.2h0M808.4 316.9h0M803.1 314h0M801.6 328.9h0M794 323.2h0M817.4 343.9h0M813 336.8h0M807.9 321.5h0" stroke="#000" stroke-width="1.2" stroke-linecap="round" fill="none"/><path d="M807.7 276.5h0M997.9 232.6h0M964.7 223.9h0M856.3 247.5h0M917.4 223.3h0M834 262.3h0M815.5 277.9h0M845.5 254.8h0M1029.1 252.5h0M1028 248.8h0M897.5 226.3h0M895.6 227.5h0M857 246.5h0M978.8 226.5h0M888.9 230.5h0M840.9 255.1h0M889.4 226h0M899.3 227.5h0M1064.8 284.7h0M820.7 273.8h0M1043.6 265.4h0M961 224.3h0M1031.6 253.4h0M810.5 282.5h0M1034.2 255h0M803.5 285.7h0M797.9 296.2h0M836.4 256.8h0M906.7 225.4h0M937.3 220.2h0M807 286.1h0M895.9 223.5h0M963.8 217.7h0M1030 253.3h0M1044.6 264.2h0M987.2 229.2h0M827.8 264.7h0M953.3 221.8h0M859.3 243.5h0M923.2 222.1h0M1046 263.9h0M1018.5 237.5h0M795 299.4h0M1010.5 235.4h0M1044.2 256.5h0M861.8 243.8h0M1067.1 289.4h0M1005.9 228.2h0M944.2 220.3h0M959.2 221.4h0M903.3 226.3h0M886.8 229h0M949.4 217.9h0M940.8 221.8h0M1024.7 249.3h0M1062.4 280.4h0M921.2 217.9h0M798.5 293.6h0M1059.7 278.5h0M1037.6 256.9h0M879.2 235.7h0M894.1 227.4h0M852.5 250h0M1014.9 240.6h0M1063.7 286.2h0M936.4 220.7h0M792.5 302.9h0M952.9 222.2h0M882.4 232.1h0M906.3 224h0M835.7 261.9h0M820.1 269.4h0M854.5 245.2h0M1009.6 238.4h0M971 217.8h0M1014.7 242.4h0M930.6 222h0M1045 262h0M829.9 265.9h0M885.3 232h0M984.1 227.2h0M981.1 222.7h0M839.8 255.3h0M987 229.6h0M870.3 239.7h0M1009.4 237.2h0M990.1 222h0M990.5 228.7h0M996 229.9h0M842.3 255h0M1043.2 264.6h0M1035.4 256.5h0M985 227.4h0M796.6 294.8h0M941.5 221.3h0M1058.9 278.7h0M871 237.7h0M861.1 242.2h0M1056.5 275.9h0M962.1 224h0M930.5 217.4h0M925.3 218.1h0M1061.9 281.7h0M1055.9 275.3h0M920.4 220.1h0M838.5 257.8h0M797.4 294.3h0M843.6 251.5h0M1021 245.1h0M964.2 219.1h0M933.3 215.5h0M908.5 223.8h0M1068.8 292.3h0M884.2 232.1h0M934.9 217.4h0M807.2 283.2h0M1055 274.2h0M889.5 231h0M938 220.4h0M1071.1 292.9h0M1046.3 266.7h0M1038.6 252.8h0M963.7 221h0M906.2 226h0M1042 256.4h0M1052 265.4h0M788.5 307.7h0M805 288.2h0M1071.6 291.9h0M843.6 255.7h0M791.3 300.7h0M939.7 217.9h0M842.9 251.3h0M904.8 225.3h0M961.9 217.4h0M796.9 295.3h0M823.6 268.8h0M892.2 227.3h0M921.2 214h0M1056.2 278.7h0M1013.6 238.8h0M896.6 225.2h0M948 219.7h0M936.5 221.7h0M832.6 259.4h0M908.8 221.9h0M788.5 303.6h0M845.2 252.2h0M1058.9 279h0M1035.3 257h0M973.7 226.7h0M1067.4 282.8h0M852 248h0M1060.5 282h0M1052.9 273h0M1038.9 261.1h0M998.3 227.6h0M846.9 357.3h0M928.8 377h0M1027.7 356h0M977.7 365.8h0M828.7 345.6h0M826.4 338.6h0M999.4 359.2h0M893.3 372.3h0M876.9 366.6h0M896.3 372.2h0M941.2 376.1h0M831.8 340.8h0M813.8 336.4h0M845.4 351.7h0M943.9 377h0M808.2 327.6h0M961.2 371.7h0M950.4 374.7h0M816 340.4h0M904.9 375.9h0M820.6 336.1h0M866.3 361.6h0M849.9 355.3h0M878.6 367.5h0M977.2 366.2h0M936.9 376h0M821.8 334h0M841.6 348.8h0M948.3 374h0M1001.5 359.8h0M886.3 369.9h0M878.8 368h0M1031.9 354.1h0M817.1 337.4h0M825 334.5h0M1014.7 357.1h0M1013.9 359.3h0M1006 358h0M808.4 328.7h0M969.6 368.4h0M824.1 332.8h0M1010.3 357.6h0M999 359.3h0M816.1 338h0M827.4 338.4h0M835.7 345.5h0M895 373.1h0M824.1 333.1h0M838.2 346.4h0M953.8 373.4h0M886 370.7h0M1018.3 356.7h0M872.8 363.8h0M847.3 352.1h0M891.4 372.4h0M975.1 368.1h0M963 371.1h0M881.6 371.2h0M832.1 341.9h0M919 377.4h0M842.6 351.5h0M976.2 369.3h0M810.4 330h0M980.9 368.4h0M900.2 374.2h0M856.2 358h0M878.2 366.7h0M1004.5 360.1h0M873.7 365.8h0M951.4 373.4h0M851.7 356.9h0M929.4 377.5h0M914.8 377.1h0M852.4 356.5h0M852.6 357.1h0M916.8 375.9h0M967.7 370.4h0M1012.6 356.3h0M883.3 369.5h0M882.4 369.2h0M831.9 343h0M1027.2 353.8h0M920.5 377.5h0M1035.4 352.2h0M917.8 376.7h0M830.4 342h0M830.3 341.4h0M902.6 373.9h0M975.4 369.4h0M855 357.2h0M910.8 375.4h0M957 372.8h0M1007.4 358h0M992.3 363h0M924.6 377.4h0M798.4 345.1h0M806 319h0M818.5 319.4h0M807.4 335.4h0M791.1 325.6h0M807.4 324.2h0M811 309.3h0M805.4 323.3h0M819 322.3h0M815.2 320.2h0M807.7 320.1h0M817.8 321.4h0M808.3 338.3h0M809.2 341h0M801 318.7h0M818.9 322.8h0M824.3 315.1h0M804 332.9h0M815.7 339.5h0M800.1 323.2h0M798 325.4h0M815.7 334.9h0M800.3 327.9h0" stroke="#000" stroke-width="2.4" stroke-linecap="round" fill="none"/><path d="M787 309C787.6 308.4 787.9 308.1 790.4 305.3C792.9 302.5 798 296.3 802 292C806 287.7 808.8 284.6 814.7 279.3C820.6 274 829.2 266.1 837.3 260.2C845.4 254.3 854.4 248.6 863.4 243.7C872.4 238.8 881.9 234 891.2 230.6C900.5 227.2 910.9 224.5 919 223C927.1 221.5 932.4 221.2 940 221.5C947.6 221.8 954.8 222.5 964.7 224.6C974.6 226.7 989.4 229.8 999.5 234C1009.6 238.2 1017.5 243.9 1025.6 249.7C1033.7 255.5 1041.3 262.5 1048 268.9C1054.7 275.3 1061.8 283.7 1065.5 288C1069.2 292.3 1069.2 293.4 1070 294.5" stroke="#000" stroke-width="2.8" fill="none" stroke-linecap="round"/><clipPath id="ec"><path d="M821 314.5L822.1 312.9L823.4 310.7L825.1 308.2L826.9 305.3L828.8 302.3L830.9 299.3L833.1 296.4L835.2 293.7L837.3 291.4L839.8 289.2L842.4 287.1L845.2 285.2L848 283.4L850.8 281.7L853.5 280.2L856 278.8L858.2 277.5L861.4 275.6L863.7 274.3L866.2 273.1L870.3 271.5L872.5 270.6L875 269.6L877.7 268.5L880.7 267.3L883.7 266.1L886.9 264.9L890.1 263.8L893.4 262.8L896.7 261.8L900 261L903 260.4L906 259.8L909.2 259.2L912.3 258.7L915.6 258.3L918.8 257.9L922 257.6L925.3 257.3L928.6 257.2L931.8 257L935 257L938.2 257L941.4 257.1L944.7 257.3L948 257.6L951.2 257.9L954.5 258.2L957.7 258.7L960.9 259.2L964 259.7L967 260.3L970 261L973.2 261.8L976.4 262.8L979.6 263.9L982.8 265.1L985.9 266.4L988.8 267.6L991.7 268.9L994.5 270.1L997.1 271.2L999.5 272.3L1003.1 273.9L1006.2 275.3L1009 276.6L1011.6 278L1014.2 279.4L1016.9 281L1019.8 282.8L1022.6 284.7L1025.4 286.7L1028.3 288.7L1031.1 290.8L1034 293L1036.6 295L1039.3 297.1L1042.1 299.3L1044.8 301.5L1047.4 303.5L1049.7 305.4L1051.6 307L1055.9 310.9L1058 313L1057 320L1054 328L1049 335L1046 340L1046 340L1044.2 340.4L1041.6 341L1038.3 341.7L1034 342.7L1031.4 343.3L1028.5 344L1025.3 344.8L1021.9 345.6L1018.4 346.4L1014.8 347.3L1011.3 348.2L1008 349L1004.8 349.8L1001.5 350.7L998.2 351.5L995 352.4L991.8 353.3L988.5 354.2L985.2 355.1L982 356L979.1 356.9L976.1 357.8L973.2 358.7L970.2 359.7L967.3 360.6L964.4 361.6L961.5 362.4L958.7 363.3L956 364L952.6 364.9L949.2 365.7L945.9 366.4L942.7 367.1L939.7 367.7L936.7 368.2L934 368.5L930.7 368.8L928 368.9L925.5 368.8L922.6 368.5L919 368L916.3 367.6L913.2 367.1L909.9 366.6L906.5 366L903 365.3L899.5 364.6L896.2 363.8L893 363L890 362.1L887 361.2L884.2 360.2L881.3 359.1L878.5 358L875.8 356.8L873 355.7L870.3 354.5L867.2 353.1L864.1 351.7L861.1 350.3L858.1 348.8L855.1 347.3L852.3 345.7L849.5 344L846.7 342.1L844 340.1L841.2 338L838.6 335.8L836.1 333.7L833.9 331.8L832 330L828.8 326.5L826.7 323.6L825 321L822.6 317.2L821 314.5Z"/></clipPath><path d="M821 314.5L822.1 312.9L823.4 310.7L825.1 308.2L826.9 305.3L828.8 302.3L830.9 299.3L833.1 296.4L835.2 293.7L837.3 291.4L839.8 289.2L842.4 287.1L845.2 285.2L848 283.4L850.8 281.7L853.5 280.2L856 278.8L858.2 277.5L861.4 275.6L863.7 274.3L866.2 273.1L870.3 271.5L872.5 270.6L875 269.6L877.7 268.5L880.7 267.3L883.7 266.1L886.9 264.9L890.1 263.8L893.4 262.8L896.7 261.8L900 261L903 260.4L906 259.8L909.2 259.2L912.3 258.7L915.6 258.3L918.8 257.9L922 257.6L925.3 257.3L928.6 257.2L931.8 257L935 257L938.2 257L941.4 257.1L944.7 257.3L948 257.6L951.2 257.9L954.5 258.2L957.7 258.7L960.9 259.2L964 259.7L967 260.3L970 261L973.2 261.8L976.4 262.8L979.6 263.9L982.8 265.1L985.9 266.4L988.8 267.6L991.7 268.9L994.5 270.1L997.1 271.2L999.5 272.3L1003.1 273.9L1006.2 275.3L1009 276.6L1011.6 278L1014.2 279.4L1016.9 281L1019.8 282.8L1022.6 284.7L1025.4 286.7L1028.3 288.7L1031.1 290.8L1034 293L1036.6 295L1039.3 297.1L1042.1 299.3L1044.8 301.5L1047.4 303.5L1049.7 305.4L1051.6 307L1055.9 310.9L1058 313L1057 320L1054 328L1049 335L1046 340L1046 340L1044.2 340.4L1041.6 341L1038.3 341.7L1034 342.7L1031.4 343.3L1028.5 344L1025.3 344.8L1021.9 345.6L1018.4 346.4L1014.8 347.3L1011.3 348.2L1008 349L1004.8 349.8L1001.5 350.7L998.2 351.5L995 352.4L991.8 353.3L988.5 354.2L985.2 355.1L982 356L979.1 356.9L976.1 357.8L973.2 358.7L970.2 359.7L967.3 360.6L964.4 361.6L961.5 362.4L958.7 363.3L956 364L952.6 364.9L949.2 365.7L945.9 366.4L942.7 367.1L939.7 367.7L936.7 368.2L934 368.5L930.7 368.8L928 368.9L925.5 368.8L922.6 368.5L919 368L916.3 367.6L913.2 367.1L909.9 366.6L906.5 366L903 365.3L899.5 364.6L896.2 363.8L893 363L890 362.1L887 361.2L884.2 360.2L881.3 359.1L878.5 358L875.8 356.8L873 355.7L870.3 354.5L867.2 353.1L864.1 351.7L861.1 350.3L858.1 348.8L855.1 347.3L852.3 345.7L849.5 344L846.7 342.1L844 340.1L841.2 338L838.6 335.8L836.1 333.7L833.9 331.8L832 330L828.8 326.5L826.7 323.6L825 321L822.6 317.2L821 314.5Z" fill="#fff"/><g clip-path="url(#ec)"><circle cx="934.5" cy="296" r="67" fill="#b06c92"/><path d="M979.2 322.1h0M958.3 265h0M938.7 231.5h0M870.8 306.9h0M967.4 351.9h0M903.6 325.1h0M979.9 284.6h0M946 359.6h0M891.6 261.4h0M892.7 333.4h0M896 321.5h0M958.5 357.4h0M910.2 324.3h0M920.4 240.7h0M898 324.9h0M977.4 272h0M962.9 344.2h0M961.6 252.9h0M885.9 281.3h0M899.5 340.6h0M905.1 260.7h0M976 339.4h0M971.3 267.4h0M892 263.4h0M946 358.4h0M996.7 315.2h0M958.5 247.9h0M978.8 270.2h0M964.2 338.4h0M922.2 345.1h0M922.8 350.4h0M983.8 291.3h0M974.1 258.3h0M878.4 263.6h0M897.2 256.4h0M995.4 277.6h0M905.9 246.7h0M915.6 263.4h0M973 286.4h0M929.7 246.5h0M975.8 247.5h0M933.2 338.5h0M937.4 339.5h0M998 291.7h0M985.1 267.1h0M890.6 250h0M970.1 338.9h0M976.6 262.2h0M927 236.5h0M916.7 354.2h0M898.7 248.8h0M894.7 243.6h0M938.6 255.4h0M965.6 236.7h0M876.6 307.8h0M972.3 273.1h0M870.7 277.9h0M911.8 339.8h0M890.4 343.9h0M904.9 349.1h0M983.3 307.1h0M925.1 344.2h0M950.4 353h0M895.2 328.2h0M907.4 242.8h0M921.6 237.5h0M995.8 315.1h0M900.8 238.3h0M983 311.9h0M886.3 275.7h0M876.8 289.2h0M883.7 303.4h0M886.2 278.7h0M911.8 347.8h0M973.4 245.7h0M934 346h0M934.5 238.4h0M886.9 269.6h0M919.4 357.3h0M893.4 257.2h0M907.3 265.7h0M973.6 242.5h0M920.2 245.6h0M931.6 341.4h0M991 273.2h0M931.6 360.5h0M978.3 266.7h0M886.3 332.7h0M927 248.8h0M969.4 261h0M883 319h0M992.3 291.7h0M989.9 294.5h0M882.4 316.9h0M993.8 316.2h0M974.5 280.5h0M991.1 309.3h0M890.7 265.9h0M890.2 254.9h0M888.5 329.4h0M902.3 320.6h0M991.4 294.9h0M948.2 340.3h0M889.9 253.4h0M869.7 289.2h0M937.6 240.3h0M965.7 240.5h0M988.4 310.4h0M985.6 255.3h0M942.8 337.7h0M882.2 271h0M916 235.5h0M879.6 261.4h0M938.9 229.7h0M987.5 255.3h0M878.3 327.7h0M986.6 254.9h0M886.7 260.3h0M961.2 250.4h0M871.7 288.1h0M962.7 256.6h0M902.5 338h0M992.5 269.8h0M914.3 353.9h0M913.9 340.8h0M884.2 266h0M913.2 356.1h0M916.1 245.7h0M898 318.3h0M872.4 293h0M936.3 335.3h0M885.7 330.4h0M964.7 255.4h0M913 258.6h0M929.7 241.2h0M957.5 235.2h0M935.3 361.5h0M912.9 334.8h0M882.9 292.1h0M928.9 362.4h0M983.5 307h0M876.8 280.1h0M998.5 285.4h0M890.8 251.9h0M914.9 260.8h0M968.6 275.4h0M949 241.4h0M946.8 253.2h0M919 246.8h0M997.2 287.8h0M988.3 289.4h0M891.4 267.3h0M877.6 310.8h0M984.4 261h0M896.5 349.3h0M987 258.7h0M897.5 276h0M941.3 336.3h0" stroke="#000" stroke-width="2" stroke-linecap="round" fill="none"/><path d="M974.5 306.7h0M894.2 252.7h0M902.1 266.6h0M952.2 334.6h0M872.3 294.2h0M956.5 234.1h0M951.6 330.6h0M973.3 276.9h0M958.4 251.8h0M980.7 311.7h0M906.9 235.6h0M991 290h0M957.6 354.2h0M871.7 274.3h0M897.6 341.1h0M929.8 246.4h0M935.7 249.8h0M928.5 362.1h0M913.1 240.4h0M894.8 339.1h0M958.4 253h0M989.6 260.9h0M932.7 346.8h0M991.1 271.8h0M948.5 252.8h0M899.3 328.8h0M912.6 241.2h0M962.4 261.3h0M996.9 309.5h0M895 343h0M910.4 234h0M984.4 261.9h0M911.3 234h0M969.7 269h0M951.6 257.6h0M884.7 260.6h0M979.6 270.4h0M934 359.4h0M892.5 335.1h0M934.8 250.8h0M900.7 277.4h0M896.5 278.7h0M936.6 242.7h0M874 304.4h0M964.9 257.5h0M974 264.9h0M996.8 298.4h0M948.2 253.6h0M909.4 263.3h0M984.9 337.8h0M992.7 271.4h0M970.1 340.6h0M966.8 352.6h0M989.6 264.5h0M872.5 302.3h0M906.5 241.6h0M878.1 265.1h0M970.9 339.8h0M920.2 236h0M962 356.2h0M964.9 339.5h0M901.1 241.4h0M916.8 346.7h0M949 233.8h0M970.2 271h0M920.8 261.6h0M952 340.9h0M920.6 251.2h0M994.7 311.2h0M946.5 343.1h0M875.7 288.4h0M967.3 243.5h0M980.4 296.7h0M873.8 322.1h0M912.8 243.4h0M915.1 249.9h0M877.5 295.2h0M969.5 251.8h0M1000.2 306.4h0M912.9 351.2h0M978.9 260.2h0M961.8 258.6h0M973.7 281.2h0M987.5 298.3h0M904.2 325.2h0M913.9 262h0M973.7 268.2h0M975.4 337.1h0M912.9 241.8h0M992.2 297.7h0M959.6 240.2h0M979.9 293.7h0M892.4 332.5h0M961 332.5h0M883.2 264.1h0M995.6 313.9h0M918.7 256.8h0M957.1 348.3h0M971.7 311.9h0M890.8 310.1h0M931.9 358.8h0M903.4 239.4h0M984.6 277.9h0M894 267.2h0M896.6 246.9h0M919.6 347.6h0M869.7 292.1h0M950.3 256.9h0M936.5 236.2h0M880.5 310.7h0M951.5 255.3h0M921.9 355.1h0M962.7 242.6h0M875 323.9h0M977.9 261h0M894.3 299.4h0M881.9 260.7h0M899 332.4h0M881.3 265.3h0M997.1 311.6h0M935.1 248h0M898.3 328.6h0M888.5 254.5h0M991.7 280.3h0M957.1 264.9h0M898.4 347.5h0M987.1 312.7h0M956.2 257.2h0M960.7 266.3h0M933 354h0M984.4 265h0M966.8 335.9h0M950.7 360.2h0M903.7 238.8h0M895 335.5h0M998.6 312.4h0M940.6 234.1h0M931.2 232.2h0M970.4 345.3h0M973.8 272.3h0M932.2 250.8h0M938.8 347.2h0M927.7 250.6h0M903.7 251.1h0M967 238.2h0M875.4 286.3h0M904.3 236.7h0M894.9 276.7h0M955.7 247.2h0M891.5 293h0M901.1 239.3h0M902.7 250.5h0M975.9 243.5h0M883.4 277.2h0M880.5 313.4h0M970.5 327.3h0M910.4 234.2h0M891.7 249.9h0M973.6 288.2h0M873.1 320h0" stroke="#000" stroke-width="2.4" stroke-linecap="round" fill="none"/><path d="M952.8 248.3h0M907.1 352.4h0M905.7 342.8h0M890.5 280.3h0M988.8 263.7h0M869.6 295.5h0M991.1 296.1h0M997.8 279.9h0M982.9 281.3h0M960.6 236.4h0M911.1 339.4h0M975.3 256h0M995.8 299.8h0M897.4 296.9h0M996 319.2h0M988.5 285.6h0M923.9 233.1h0M914.4 342.5h0M997 302.5h0M930.2 242.7h0M923.7 255.3h0M992.2 284.5h0M878.8 261.1h0M972.5 336.6h0M932.6 355.3h0M911.8 265.9h0M994.8 303.5h0M969.5 324.5h0M946.5 230.5h0M899 255h0M873.1 275.8h0M876.2 304.1h0M871.4 313.1h0M959 239.4h0M980.5 268.3h0M902.1 253.9h0M971.9 329.2h0M912.7 245.5h0M968.9 243.9h0M877.4 301.3h0M950.1 247.3h0M927.5 248.9h0M921.9 235.3h0M942.7 255h0M899.9 353.2h0M963.7 353.4h0M900.3 238.9h0M876.9 269.8h0M953.4 352.3h0M929.8 258.6h0M902.1 266.2h0M925.6 234.6h0M977.8 305.4h0M878.5 288.2h0M876.5 265.1h0M976.4 327.1h0M958 242.4h0M927.4 258.5h0M933.5 232.6h0M985.7 313h0M902.1 253.3h0M923.8 352.4h0M992.7 317.9h0M965.7 251.6h0M990.4 276.3h0M919.2 355.7h0M968.2 268h0M987.8 313.4h0M989.1 332.6h0M913.1 247.6h0M968.2 238.1h0M960.4 333.3h0M919.6 261.7h0M934.7 243.4h0M869.9 312h0M916.3 262.7h0M869.5 290.4h0M989.5 329.9h0M992.1 290.2h0M885.9 264.7h0M981.6 270.6h0M886 263.2h0M950.7 358.4h0M944.3 356.2h0M956.6 349.9h0M961.2 340.8h0M973.7 346.6h0M916.8 347.8h0M952 349.3h0M981.8 343.3h0M994.5 297.7h0M893.4 331.5h0M970.9 323.1h0M961.7 327.4h0M881.5 293.2h0M902.4 332.9h0M996.6 312h0M917.4 260h0M968.1 319.4h0M959.8 245.2h0M943.9 253.3h0M923.9 350.5h0M954.4 350.9h0M952.3 238h0M979.9 334.7h0M973.6 251h0M925.9 337.6h0M893.3 298.8h0M916.8 242.4h0M967.2 269.9h0M963.5 267.7h0M962.7 246.8h0M974.9 266.1h0M916 351.2h0M982.8 318.6h0M956.7 234.4h0M954 352.6h0M878.4 331.9h0M914.6 250.8h0M940.7 246.2h0M885.3 297.6h0M986.9 265h0M889.6 286.5h0M961.1 239.2h0M928.8 237h0M886.1 312.3h0M970 320.7h0M910.5 356.4h0M967 351.1h0M961.2 248.3h0M921.2 248.9h0M978.9 271h0M997.2 272.4h0M952 261.2h0M925.8 238h0M975.1 329.1h0M959.7 262.6h0M983 297.9h0M969.9 243.4h0M959.9 254.8h0M899.9 315.3h0M892.3 263.4h0M891.8 253.9h0M924.2 257.6h0M871.7 294h0M975.3 263.2h0M990.7 283.5h0M943.3 245.6h0M954.9 356.6h0M969.8 262.4h0M986.9 332.4h0M884.2 263.4h0M985.8 330.2h0M926.4 240h0M899.2 244.2h0M893.1 341.2h0M969.3 273.2h0M902.1 268.1h0M896.1 276.7h0M988.7 333.8h0M977 251.5h0M984.1 269.3h0M876.8 306.3h0M986.9 329.4h0M899.7 260.8h0M957.5 234.6h0M881.3 257.4h0M935 340.4h0M920.3 359.4h0M911.5 342.1h0M878.7 277.1h0M945.4 347.2h0M963.3 253.8h0M905.7 328h0M935 361.8h0M964.2 329.9h0M928.4 354.3h0M906.1 246.3h0M870.5 297.8h0M903.7 343.6h0M897.9 275.6h0M878.3 295.3h0M910.5 324.3h0" stroke="#000" stroke-width="2.8" stroke-linecap="round" fill="none"/><path d="M937.9 343.5h0M888.5 253.2h0M877.5 313.9h0M892.8 263.4h0M944.9 356.3h0M940.8 232.2h0M928.2 344.7h0M974.4 269.6h0M903.6 273.9h0M911.8 334.5h0M910 266.7h0M982.1 265.5h0M946.6 242.9h0M902.9 261.7h0M951.6 241.1h0M931.3 358.8h0M895.8 340.4h0M901.8 238h0M976.8 253.7h0M896.2 302.4h0M946.6 256.7h0M978.8 258.7h0M880.2 274.2h0M985.7 301.1h0M908.5 333.9h0M904.2 236.9h0M940.7 244.6h0M986 319.6h0M949.6 354.9h0M875.7 272.5h0M915.2 256.1h0M923.9 248.8h0M879.8 261.6h0M885.2 332h0M921 247.3h0M895.1 264h0M943.4 251.3h0M896.9 263.7h0M981.5 275.7h0M913.5 233.3h0M932.9 339.9h0M912.3 261.4h0M923.8 246.4h0M981.5 252.1h0M900.3 240.4h0M884.8 328.7h0M981.6 255.6h0M980.6 316.8h0" stroke="#000" stroke-width="3.2" stroke-linecap="round" fill="none"/><path d="M886.3 287.7h0M871.2 312.9h0M968.3 337.3h0M895.3 262.5h0M883.6 268.9h0M907.7 251.4h0M870 302h0M929.1 232.1h0M887.2 268.3h0M990.2 293.3h0M899.9 254.9h0M937.5 356.8h0M955.7 344.2h0M873.6 305.7h0M997.1 309.8h0M876.9 290.2h0M910 350.6h0M992.7 281.2h0M959.9 260.7h0M906.6 325.2h0M894.6 290.9h0M960.1 256.5h0M984.6 285.1h0M973 259h0M997.1 283.4h0M877.4 328.3h0M986.2 309.4h0M978.5 313.6h0M910.3 233.9h0M885.1 262.6h0M900.6 242.8h0M918.9 252.7h0M961.3 268h0M959.6 348h0M891.4 317.4h0M946.2 354.4h0M988.7 306.5h0M948.9 352.6h0M948.3 251.8h0M982.9 321.5h0M941.9 253h0M921.8 254h0M882.1 315.3h0M958.9 250.7h0M995 269.5h0M948.8 350.2h0M981.3 316.5h0M973.5 328.6h0M872.9 269.8h0M917.8 261.6h0M914.3 332.3h0M883.6 300.7h0M890.4 288.4h0M895 311.7h0M978.2 298.9h0M949.5 354.5h0M979.3 272.6h0M958 238.7h0M898.1 272.9h0M938.1 345.4h0M904 274.7h0M923.2 360.6h0M875.9 275.6h0M932.4 255.5h0M876.8 320.2h0M955.7 246.9h0M988 335.6h0M959.4 235.3h0M965.4 239.7h0M992.4 263.1h0M993.1 317h0M885.9 307.8h0M969.7 319.9h0M927.5 233.5h0M982.8 250.8h0M940.9 257.3h0M933.5 361.9h0M972.6 345.6h0M970.9 278.8h0M989 257.7h0M892.9 346.5h0M924.5 358.2h0M941.8 354.8h0M931.2 342.5h0M956.9 352h0M971.3 320.6h0M893.8 257.5h0M901 346.3h0M979.4 277.2h0M892.2 277.8h0M922.1 244.2h0M912.2 264.6h0M937.3 231h0M915.8 238h0M904.2 327.5h0M879 258.9h0M961.1 330.7h0M916 348.2h0M901.1 340.6h0M883.1 268.4h0M961.2 234.6h0" stroke="#000" stroke-width="1.6" stroke-linecap="round" fill="none"/><path d="M884.6 258.6l-2.4 3.7M889.5 275.9l2 0.2M996.9 293.7l0.1 3.3M947.8 347.9l1.5 4.6M880.2 298.3l0.9 4M937.1 340.4l-2.9 1.5M897.8 345.6l1.7 1.8M917.3 351.5l1.5 1.1M894 278.9l4.6 3.6M900.8 349.7l-4 0.9M982.2 324.4l-4.2 2.2M963.1 239.7l-2.5 0.5M933.9 243.9l2.1 1.3M943.9 239l0.4 1.8M911.3 335.7l2 0M939.4 250.5l-1.3 5.1M928.9 244.9l4.3 1.4M892.6 334l-4 3.1M874.6 282.9l-1.7 3.8M956.5 340.2l-0.5 3.2M952 355.5l-1.4 1M916.6 337.7l-4.3 1.3M907.5 353.8l3.7 1.6M981.3 277.5l-3.5 1.6M977.9 256.5l5.6 2M889.9 322.7l-5.7 0.6M933.9 245.7l-2.3 3.3M892.2 309.5l-2.1 2.7M901.7 333.9l3.4 3.1M943.8 251.8l-0.5 2.9M986.5 309.3l-4.2 1.7M887.1 308.5l-1.4 4.2M963.8 332.8l-0.4 4.5M915.9 254.9l-1.1 2.7M911.9 356.7l-2.4 5.3M903.7 244l-3.6 2.5M928.3 252.9l0.9 1.8M959.2 241.5l-1.8 3.6M985.9 325.1l1.2 2.4M975.2 333.2l2 3.5M973 262.3l2.1 0.1M964.5 333.9l1.3 3.6M877.6 317.9l-1.8 2.8M976 343.2l4.7 0M890.1 319.9l-4.1 4.1M974.4 342.6l-4.5 2.9M879.9 307.2l-0.8 3.1M978.7 337.5l-1.2 5.2M914.3 348.3l-4 4M899.3 250l-5.9 0.4M924.6 349.7l5 3.1M969.7 317.2l-1.4 3M891.5 254l-5.9 0.7M913.7 347.5l-0.1 3M973.9 337.7l2.1 0.5M953.4 243l2.9 1.7M905.8 330.1l0.9 3.2M955.3 335.3l-1.3 1.1M958.3 246.8l2.2 3.6M893.2 320.7l-3.4 4.1M873 280.7l1.4 3.1M940.9 253.9l-0.9 2.2M871.6 312.4l-0.8 1.6M957.1 345.8l0.9 1.9M983.7 270.4l-2.3 3.6M923.9 346.9l1.8 2.9M988.4 317.9l1.1 2.2M896.8 255l0.7 2.3M958.2 343.6l-2.8 1.6M896.6 320.4l0.9 1.6M983.1 294.6l-0.4 2.8M908.8 250.2l2.5 4.9M956.7 237.9l-1.7 0.5M895.3 251.3l1.9 0.8M898 244.6l0.1 1.8M894.2 293.5l2.3 3.6M940.8 253.9l1.4 3.1M881.1 285.5l-1.7 0.4M963.5 264.9l0 3.3M949.1 238.5l3.4 2.5M943.6 340.7l-1.9 0.6M982.6 296.4l1.6 0.4M886.3 324.4l-1.8 1M959 263.5l-2.6 1.7M882.4 312.3l-0.3 1.5M939.5 355.9l1.9 4M894.5 273.3l-0.1 2.7M963.7 248.7l1 2M979.8 261.8l0.7 1.6M979.5 339.8l-0 6M945.6 233.8l-2 5M907.7 332.7l-5.5 0.1M914.3 347.6l-3 1M940 350.9l0.8 5.2M962.5 258.9l3 4.6M983.2 326.1l1.7 0.5M970.3 350l3.7 4.2M986.8 285.1l4.2 1.8M923.6 246.6l-1.7 5.4M964.5 338.5l3 2M911.6 345.5l4.7 1.5M962.5 256.8l-3.6 1.4M989.6 279.2l0.7 2.3M944.7 238.1l-0.8 2.1" stroke="#000" stroke-width="3.8" stroke-linecap="round" fill="none"/><path d="M954.9 256.9l-3.1 4.9M880.5 325.3l0.7 2.5M908.8 345.7l-0.9 2.6M946.5 239.9l3.6 4.1M923.4 339.7l5.1 2.7M948.1 344.7l-2.3 2.7M972.8 347.8l1.3 3.9M951 253.8l1.3 1.3M905.5 346.7l-3.7 1.6M956.8 330.4l1.2 2.4M878.9 324.2l-1.2 1.2M963.5 258.8l-3.1 0.5M937.3 358.4l4.7 2.8M927.9 244.9l-0.5 1.8M948.8 356.1l0.8 1.8M918.8 235.3l-0.8 2M893.1 289.3l-1.7 0.8M991.7 297.1l3.2 3.2M874.4 277.3l3.5 2.2M968.7 242.1l-3.7 0.3M886 261.6l0.6 1.6M964.5 338l-3 1.5M899.2 248.4l0.2 4.8M965.1 325.7l3.4 3.5M876.1 298.2l-2.1 3.1M932.6 239.6l1.4 5.8M907.8 342.5l0.5 1.8M961.7 253.8l-3.5 3.7M976.4 277.3l4.3 0.4M960 346.3l-1.1 1.6M880.3 288.6l3.6 3.7M964.9 268.1l-5.1 1.1M909.1 259l-0.3 2.3M994.7 294.1l1.7 5M888.8 252.8l-1.9 2.1M907.8 338.8l2.8 4.2M910 257.4l1.9 5M885.5 283l-1.9 0.4M968.6 262.7l1.5 0.8M992.6 267.5l2.2 0.6M994.2 303.7l1.4 3.1M897.8 251.3l-2.3 0.6M952.3 241.9l-2.6 3.9M954.1 332.4l4.5 2M963.1 243.3l1.9 0.5M912.2 248.4l-2 0.5M894 304.9l-0.2 1.9M895.7 321.5l2.3 0.9M916.1 249.8l5.5 1.2M961 238.4l4.4 0.7M885.9 263.6l-3.3 1.4M986.6 283.1l-1.8 0.9M899.8 330.7l-3.9 2.6M920.6 351.7l-1.5 2.2M906 252.2l0.5 2.2M941.5 250.4l3.9 4.2M976.3 315.8l0.2 3.4M917 334.6l3.3 3M956.6 351l2.3 0.5M933 350.3l-5.2 0.8M968.1 264.3l-5.3 2.6M906 262.4l-3.5 1.7M979.8 331.1l1.5 0M972.1 333.7l2.7 3M982.2 327l-2.9 0.1M900.9 247.6l1.5 2M936.2 350l-4.5 1.9M964 239.2l-4.1 2.5M996.3 307.5l5.2 2.5M955.7 244.5l0.8 1.4M970.8 274.6l-1.9 4.4M914.6 336.2l-1.9 0.4M997.5 298.8l3.6 2.7M909 236.5l5.6 0M901.7 327.1l2.1 2.1M897.8 324.8l2.4 2.2M987.5 282.1l2.8 0.1M973.9 258.3l2 4M908.2 252.1l-0.1 2M930.7 242.1l-3.4 3.5M970.3 322.3l-1.1 2.7M951.7 242.1l-5 2.2M875.8 299.9l-5.3 2.6M892.1 330l-2.7 0.6" stroke="#000" stroke-width="2" stroke-linecap="round" fill="none"/><path d="M883.9 306.8l-1.5 2.1M977.2 258.6l-3.6 0.2M989.1 294l-0.2 2.7M890.4 311.7l2.6 3.8M903.8 261.4l-1.7 4M970.2 333l0.4 1.8M901.9 346.1l-2.3 3.2M957.2 342l5.8 0.8M949 244l5 3M971.9 246.1l4.1 1M983.1 289.6l2 1.1M895.9 328.6l5.5 2.3M882.3 310.5l1.9 1.4M964.2 261l-1.5 5.6M905 265.9l-2.2 5.3M899.6 267.6l-4.7 1.8M969.9 332.7l0.2 3.2M914.8 331.8l3.5 1.8M964.6 253.7l1.9 1.8M979.4 335.5l-0.1 2.7M976.4 334.7l4.9 1.1M916.3 246.3l-1.6 2.5M995.3 292.2l1 2.8M961.3 238.3l-1.4 4.1M886.6 297.8l-1.2 1M967.8 346.9l5.8 1.3M968.5 331.9l-2.9 2.4M947.2 233.6l1.3 2.7M904.3 335.5l-2.9 3.8M919.8 351l4 0.3M987.7 295.9l-0.2 2.1M907.8 328.4l4.3 0.6M907.5 329.5l2.4 3.2M985 284.3l0.8 5.2M973.7 270.6l-2.5 3.4M963.1 347.2l2.7 0.5M977.2 342.6l0.9 3.6M900.7 343.9l-2.3 2M970.1 272.8l2.7 0.9M904.8 340.7l1.9 4.6M948 342.8l-3.6 0.1M986.8 290.3l-4.9 1.3M898.9 325.3l2.9 0M987.5 272.6l0.7 5.6M983.3 311.8l-2.3 1.2M989.6 261.7l0.8 3M960.7 246.4l-2.4 4.9M963.5 335.2l0 2.7M882.3 271l-2.1 2.5M987 330.7l1.7 1M966 264.6l1.4 4.8M945.5 240.8l4.1 4.3M875.7 287.4l-1.5 1.7M961.7 326.3l-1.1 2.4M894.3 314.3l1.4 3.4M906.9 325.4l4.4 2.8M881.2 299.9l-1.2 1.4M972.6 332.6l5.2 1M991.5 316.6l-3.1 3.7M875.5 306.8l2.9 3M893.6 246.5l0.3 4.6M945.1 247.3l-0.3 5.9M950.6 358l-3.3 2.2M876.6 312.2l-2.3 0.7M947.8 345.7l-3.9 0.2M909.4 341.8l3.1 0.9M889.1 260.3l-2.4 2.7M963.3 350.4l5.2 1.1M978.1 322.2l-5.3 1.6M944.9 236.4l-4.3 2.1M990.3 309l0.5 3.3M892.5 319.3l-1.3 1M907.7 326.6l2.6 0.2M942.9 254.4l2 0.4M934.6 345.8l-1.7 2.7M935.8 233.9l1.6 0.4M985.2 256.1l-0.2 3.5M890.9 253.2l3.1 1.7M925.5 343.6l5.7 1.1M877.7 313.5l-0.4 3.2M918.9 348.1l-1.6 1.4M920.9 240.9l-1.7 3.2M907.8 354.4l2.8 0.8M974.9 323.3l-1.9 3M974.7 329.3l3 0.2M984.7 335.6l-3.6 0.8M950.5 258.9l-5 1.2M919.8 357.5l-2.5 0.1M946.9 247.3l-3.7 1M944.7 251.7l1.2 1.8M896 243.7l1.8 1.3M973.9 272.9l-1.5 0.7M973.2 248.8l2.7 3.1M872 293.6l-3 2M984.5 317.6l-1.6 0.2M952.6 348.3l-4.2 2.4M874.1 303.4l-3.5 1.4M894.3 292.8l-3.1 3.1" stroke="#000" stroke-width="2.6" stroke-linecap="round" fill="none"/><path d="M894 336.6l-3.7 2.7M940.9 233.7l-1.8 1.4M941.3 345.2l3.8 1.1M996.9 283l3.6 2.3M964.2 330.6l-2.9 4.5M990.1 292l-5.3 1M885.7 288.9l3.8 2M967.2 323.1l-1.9 0.7M913.4 248.6l2.6 0.5M984.9 325.3l-5.6 0.8M888.2 261.5l2.4 2.4M962.1 259.4l5.1 3.1M872.8 294.6l0.4 3.8M947.9 355.2l-1.4 5.7M967.1 250.5l-2 0.8M956.1 238.8l4.3 0.4M977.5 297.7l-4.2 2.9M884.2 323.7l1.8 1.5M975.4 300.3l3 3.2M983.6 261.9l-0.4 1.5M945.8 257.2l-3.2 0.9M974.8 336.7l-3.6 1.2M985.7 267.5l-4.2 3.6M964.3 242.2l2.6 1.3M895 261l-2.1 0.2M935.5 344.4l-0.1 1.8M975.8 297.8l1.5 2.8M967.5 319.9l4.7 3.1M929.9 245.8l-0.2 2.6M919 249.4l-3.8 0.3M946.4 343.8l-2.7 3.4M872.8 287.4l-3.4 3.4M916.1 247.2l2.3 0.2M887.2 279.5l2.8 3.1M968.8 240.9l-4.1 0.5M879.2 322.2l2.8 1.2M881.6 318l2.8 4.1M942.6 237.9l-2.2 1.8M907.6 239.8l1.7 0.1M883.6 322.5l4.1 1.3M957.8 351.6l2.2 1.4M926.5 348.6l1.1 1.8M961.2 242.7l-2.1 4.3M912.6 246l1.6 4.5M988.2 295.7l-3.2 0.1M872.8 309.2l1 1.4M919.8 348.4l3.4 4.8M990.6 320.4l3.2 0.5M998.2 284.1l4.8 1.9M871 282.7l-3.8 3.9M982 290.6l1.3 3.8M891.2 331.7l3.3 0M945.9 336.6l-2.7 1.5M921.2 244.1l-4 3.4M964.5 351.5l0.9 2.1M947.3 353.8l-1.5 4.6M979 341l1.3 0.9M939.8 247.4l2.9 3.8M931.8 254.7l-2.9 2.1M948.1 257.9l2.8 1.2M971.7 244.7l-1.8 0.4M957.3 331.8l-2.9 1M897 335.6l4.7 3M891.7 271.1l-3.2 1.6M979.7 262.2l1.7 4.5M879.9 271.8l-1.8 5.4M946.1 239.2l-1.2 1.3M936.3 254.5l3.3 1.3M979.3 282.1l-2.8 1.9M918 356l2.7 4.7M969.6 241.9l0.9 4.1M944.1 246l-4.1 1.1M977.9 310.4l-4.2 3M974 247.4l-2.7 2.6M926.7 241.5l1.9 4.7M962.8 240.7l3.8 3.4M896.3 276.1l-1.8 0.1M902.5 250.6l-2.4 5.1M885.4 263.8l-2.6 1.5M981 263l0.5 4.1M882.6 269l1.8 0.1M903.3 347.4l1.2 3.2M976.5 329.6l2.4 4.3M977.1 271.7l3.7 1.1M994.9 274l3 3.7M980.3 327.6l-4.9 1.9M898.7 318.3l1.3 2.4M979.5 311.6l-4.5 2.1M941.4 343.1l2.5 0.8M946.8 352.9l-1.8 2.8M980.2 266.4l-2.6 4.5M908.5 254.7l-0.1 1.7M898.4 242.6l0 2.2M959.3 250.7l-1.6 1M892 287.3l1.2 1.3M947.7 243.7l-3.2 0.3M887.9 316.3l0 3.1M901.8 322.2l-2.3 2.5M991.4 294.2l-2.9 1.4M945.6 236l-1.9 1.4M942.3 234.8l2.9 3.9M892.5 281.8l2.7 4M875.2 279.7l-0.5 4.4" stroke="#000" stroke-width="3.2" stroke-linecap="round" fill="none"/><circle cx="934.5" cy="296" r="65.4" fill="none" stroke="#000" stroke-width="5"/><path d="M866.5 280.4L866.8 277.4L869.5 279.2L870.3 275.7L873.3 276.8L875.3 274.8L878.6 276.3L880.1 272.7L883.4 274.8L884.6 270.7L887.8 273.8L889.2 269.9L891.9 271.3L894.1 270L896.5 270.3L898.6 268.9L901 269.8L902.9 267.9L905.2 270.2L907.8 267.9L910.4 269.9L912.8 266.8L915.2 268.9L917.6 266.7L920 270.2L922.5 267.5L925 268.9L927.5 266.4L930 269.9L932.5 266.6L935 269.2L937.5 267.2L940 270.1L942.5 266.8L945 270.5L947.5 266.6L950 269.7L952.4 266.5L954.8 270.2L957.2 267.7L959.6 268.7L962.3 267.4L964.8 270.5L967.1 267.8L969 270.3L971.5 268.2L973.5 271L976 269.6L977.9 272.6L980.9 269.7L982.6 272.3L985.2 271.4L987 274.1L990.1 273.5L992.2 275.8L995.8 274.3L997.1 278.1L999.9 277.5L1001.4 279L1003.6 277.6L1003 240L866 240Z" fill="#000"/><ellipse cx="932" cy="296.5" rx="31.5" ry="30" fill="#000"/><rect x="-8" y="-5.5" width="16" height="11" rx="2" fill="#fff" transform="translate(908 282.5) rotate(27)"/><path d="M968.6 260.8h0M917.8 259.6h0M924.8 258.6h0M950.3 262.5h0M1043.1 301.2h0M1045.2 305.4h0M979.5 264.5h0M929.5 259.4h0M877.4 276.1h0M824.8 310.9h0M864 278.3h0M985.4 271.8h0M824 310.7h0M1020.1 287.1h0M830.4 300.5h0M993.9 270.1h0M947 261.2h0M942 258.3h0M914 263.5h0M1011.2 294.4h0M869.1 273.7h0M864.9 274.6h0M963.8 263.3h0M971.9 269h0M985.2 266.5h0M1009.2 278.2h0M938.3 267.4h0M966.7 260.6h0M1047.8 308.1h0M912.8 261.8h0M927.1 264h0M868 276h0M919.2 265.1h0M1042.6 303.5h0M821.7 312.5h0M992.5 273.1h0M874.3 274.5h0M971 261.2h0M899.5 261.6h0M1044.2 306.4h0M838 292.1h0M1039.1 299.7h0M1015.4 281.7h0M1013.8 289.6h0M1031.5 292.4h0M927 260.9h0M827.6 307.4h0M928 256.9h0M938.1 258.4h0M830.7 313.3h0M1035.3 301.4h0M971.3 261.3h0M870 271.8h0M940.7 257.3h0M856.3 278.5h0M871.4 272.1h0M981 265h0M997.8 272.5h0M1019.8 285.9h0M868.6 281.9h0M1020.9 287.9h0M873.2 270.2h0M823.6 309.9h0M832.6 307.7h0M973.7 266.2h0M936.7 258.1h0M877.6 269.3h0M970.1 261.3h0M916.8 259.1h0M855.7 279.2h0M1054.6 311.8h0M900 261.6h0M953.1 258.5h0M989 268.6h0M972.3 262.2h0M916.1 258.2h0M973.2 262.9h0M886.2 270.3h0M840.8 291h0M990.3 275.2h0M899 262h0M973.6 262.6h0M993.2 272.1h0M828.5 304h0M859.3 278.9h0M991.4 268.6h0M1015.7 281.6h0M831 300h0M863.7 274.2h0M979.2 267.3h0M961.2 260.5h0M970.1 260.8h0M916.9 260.2h0M983.4 271.3h0M896.5 267.8h0M900.7 263.3h0M873.9 270.2h0M878.4 271.8h0M855.2 281.8h0M852.7 280.8h0M838.3 307.7h0M947.8 258.7h0M917.6 258.2h0M936.2 257.1h0M1011 277.6h0M963.8 262.2h0M1016.8 281.2h0M967.4 266.7h0M952 258.7h0M914.7 259.1h0M1034 293.6h0M923.4 257.9h0M1016.7 281.9h0M1052.6 313.8h0M847.7 283.5h0M862.5 275.1h0M1015.9 280.6h0M1034.5 294.7h0M998.3 271.7h0M1050.8 311h0M858.1 277.7h0M979 263.7h0M940.6 257.8h0M990.6 273.4h0M1040.4 300.4h0M1023 286.9h0M967.9 263.5h0M917.4 268.5h0M987.3 268h0M1029.1 290.8h0M1046.3 303h0M919.7 257.6h0M922.1 258h0M904 260h0M1037.8 306.1h0M831.6 300.1h0M978.4 264.7h0M931.3 258.6h0M1011.2 279.7h0M878.3 268.8h0M836.8 292.4h0M1056.2 312h0M957.2 258.1h0M826.1 307.5h0M938 258h0M875.8 279.7h0M824.8 315.6h0M957.9 258.3h0M949.1 262.4h0M1029.8 290.8h0M951 262h0M984 268.8h0M976.4 262.8h0M979.5 269.2h0M843.8 291.2h0M836.5 295.3h0M960.7 259.4h0M958.1 262.5h0M840.6 290.2h0M848.3 288.4h0M1000.6 272.5h0M825.1 311.8h0M926.5 258.9h0M968.6 262.1h0M833.8 297h0M1018.9 286h0M886.3 267.3h0M827.7 311.3h0M1015.2 285.4h0M956.9 262.3h0M897 261.3h0M1008.4 278h0M910.8 259.6h0M950.1 259.2h0M888.7 265.1h0M889.6 268.3h0M866.5 273.1h0M844.2 286.4h0M935.9 260.9h0M825.3 306h0M849.9 283h0M901.8 263.6h0M826.9 306h0M1050.6 312.4h0M1011 281.4h0M1005.9 274.9h0M886.7 265.5h0M1005.3 275h0M998 273.1h0M868.1 285.2h0M836.5 297.8h0M906 263.1h0M1015 280.6h0M1047.5 307.4h0M826.2 307.1h0M1048.4 304.9h0M1010.3 283.5h0M962.2 262.9h0M964.5 260.9h0M936.4 256.9h0M834.6 302.6h0M1027.9 290.5h0M895.3 270.3h0M860.7 278.5h0M961.3 260.8h0M844.6 286.4h0M935.1 257.5h0M840.6 291.7h0M1041 298.7h0M969.2 261.7h0M1028.9 288.5h0M874.2 272.7h0M893.8 264.2h0M908.1 266.3h0M982 274.8h0M836.3 293.4h0M922.9 259.9h0M959.1 259.8h0M828.7 304.1h0M1012.9 280.6h0M948.7 260h0M846.5 288.1h0M936.2 260.7h0M874 272.8h0M821.5 314.3h0M845.7 286.3h0M1028.2 289.4h0M866.4 273.8h0M895.1 271.5h0M960.7 263.3h0M832 298.7h0M823.6 314.6h0M1037.2 306.2h0M1055.9 311.5h0M1035.3 296.3h0M882.8 266.4h0M866.3 273.6h0M928.9 261.8h0M926.4 258.3h0M1026.9 289.3h0M1016 283.9h0M853.9 292.4h0M946.6 260.1h0M896.2 264.6h0M968.5 261.2h0M874.1 273.6h0M1022.7 286.2h0M828.5 306.1h0M864.3 273.8h0M833 297.8h0M1019.3 284.2h0M868.2 273.4h0M966.1 260.5h0M925.7 258.1h0M966.7 260.7h0M993.9 275.1h0M897.6 264.4h0M889.8 264.8h0M951.1 260.4h0M826.6 312.2h0M1020.2 292.3h0M965.4 259.6h0M940.2 257.9h0M850.7 284.5h0M1018 284.4h0M1030.6 291.8h0M985.5 269.5h0M913.8 259.7h0M847.6 284.6h0M840.9 293.1h0M826.9 306.1h0M856.9 281h0M831.9 303.5h0M1021 296.4h0M858.7 279h0M844.8 287.7h0M972.8 261.7h0M843 294.5h0M878.3 270.5h0M1049.7 307.9h0M990.4 273.3h0M844.8 285.4h0M851.9 285.1h0M879.2 268.4h0M1029.2 292.6h0M842.6 289.9h0M1012.6 279.6h0M1054.5 314.7h0M898.6 261.2h0M942.3 269.2h0M990.1 269.5h0M992 272.8h0M892.3 264.8h0M821.6 314.4h0M1031.8 297.3h0M837.5 298.6h0M936.9 258.8h0M866.4 276.2h0M942.8 258.4h0M924.9 259h0M842.7 337.3h0M822.9 315.3h0M1024 343.5h0M900.7 363.6h0M1031.3 343.2h0M865.9 351.4h0M886.8 359h0M884.5 359.8h0M956.4 362.6h0M878 356.5h0M894.7 363.2h0M1007.8 348.6h0M844.7 340h0M847.9 342.9h0M858.8 348.1h0M1019.5 345.4h0M908.7 364.5h0M1002.3 350h0M926.8 368h0M1029.6 343.9h0M934.8 368.4h0M894.5 360.5h0M976 356.5h0M962 360h0M904.5 366.7h0M897.4 363.1h0M1032.6 342.9h0M861.6 349.3h0M839 335.4h0M1032.3 342.7h0M874.8 354.9h0M1044.7 339.1h0M969.6 359.2h0M1026.3 340.9h0M969.8 359.1h0M843.6 339.6h0M872.8 354.3h0M850.1 340.1h0M912.1 366.4h0M944 366.9h0M937 367.7h0M1037 342.1h0M930.2 367h0M831.7 328.8h0M986.4 354.5h0M853.2 344.5h0M1044 340.3h0M948.9 365.9h0M1040.2 338.6h0M866.9 352.3h0M842.5 339.1h0M847.9 342.7h0M921.7 368h0M945.9 364.8h0M947.1 365.4h0M909 365.5h0M856.6 345.6h0M917 366.2h0M1028.6 344h0M821.9 316.1h0M944.8 366.3h0M1043.7 340.5h0M868.8 353.3h0M850.9 344.6h0M990.2 351h0M834.5 331h0M881.8 358.7h0M957.1 363.1h0M938.2 367.8h0M884 359.9h0M945 364.6h0M834.3 331.6h0M828 321.9h0M829.7 323.5h0M903.5 365.5h0M1045.1 338.5h0M977.9 356.4h0M1044.2 336.1h0M926.3 367.6h0M954.2 362.3h0M851.3 344.2h0M960.5 362.6h0M871 354.4h0M839.2 335.8h0M835.1 331.1h0M968.9 360.3h0M836.6 330.2h0M841.5 336.8h0M920.3 365.3h0M902.3 364.5h0M837 331.5h0M1040.3 337.8h0M836.7 333.6h0M878 357.2h0M1027 343.6h0M965.4 361.1h0M1003.1 347.7h0M943.6 365.5h0M945.9 365.9h0M961.5 362.4h0M1044.4 339.3h0M973.1 358.8h0M1034.1 341.8h0M1041.7 340.5h0M992.5 351.7h0M1007.2 348.5h0M892.4 360.1h0M905.6 365.5h0M833.8 331.2h0M836.3 331.7h0M865 350.7h0M957.6 363.7h0M911.9 366.7h0M885.7 360h0M1033.5 342.1h0M920.3 367.1h0M974.1 358.5h0M1011.3 345.8h0M890.5 361h0M900.9 364.8h0M959.7 359.2h0M960.8 362.1h0M887.5 362.1h0M877.5 357.9h0M830.1 326.9h0M825.4 318.9h0M828.6 323.5h0M860 349.5h0M875.3 355.9h0M888.7 361.5h0M880.2 357.2h0M902.9 361.8h0M1013.9 346.8h0M840.5 337.1h0M976.2 355.7h0M835.6 332.9h0M836.6 333.8h0M906.2 365.9h0M1037.3 341.4h0M832.7 330h0M899.8 364.2h0M1015.4 347.1h0M851.1 344.3h0M965.1 359.9h0M842.7 338.7h0M902.9 364.4h0M881.4 357.7h0M1045.2 340.3h0M900.4 363.3h0M826.7 318.3h0M1019.5 343.2h0M866 352.3h0M1010.8 348.1h0M913 364h0M928.8 369.4h0M829.2 315.6h0M822.9 281.6h0M849.3 337.2h0M820.1 333.1h0M842.2 329.8h0M826.4 343.1h0M825.3 306.7h0M836.5 283.8h0M827.4 311.1h0M830.7 312.6h0M826.2 319.6h0M823.4 324.2h0M825.3 329.4h0M830.4 310.9h0M838 291.7h0M829.1 353.8h0M820.5 353.5h0M832 305.9h0M837.2 353.4h0M829.9 347.6h0M821.1 288.3h0M840.6 315h0M832.7 329.1h0M833.7 297h0M820.9 352.7h0M826.5 320.7h0M829.4 281.2h0M842.9 333.4h0M830 345.8h0M828.9 303.9h0M823.8 329.9h0M825.4 325.4h0M834.7 349.8h0M838.5 302.9h0M830.5 326.9h0M824.2 291.6h0M832.5 325.7h0M833.1 350.2h0M827.6 331.6h0M830.8 325.2h0M823.2 310.8h0M821.5 311.1h0M825.5 298.8h0M820.6 280h0M820.3 346.7h0M823.4 335.3h0M829.2 346.6h0M823.5 340.1h0M825.5 350.1h0M837.1 350.6h0M824.3 302.8h0M822.2 326.9h0M821.3 349.1h0M828.3 353.1h0M835.3 321h0M833.1 303.9h0M827.9 342.2h0M827.6 288.8h0M830.8 334.3h0M836.6 297h0M825.6 349.1h0M825.1 296.7h0M825.3 330.3h0M833.7 297.9h0M825.8 311.8h0M832 284.9h0M826.3 339.4h0M831.3 300.3h0M836.5 307.2h0M837.8 296.4h0M821.2 354.1h0M829.1 305.7h0M834.5 291.3h0M827.4 337h0M831.9 341.8h0M824 330.4h0M828.2 278.6h0M844.3 348.5h0M828.4 276.5h0M820 304.3h0M834.5 285h0M830.7 316.2h0M823.4 301.8h0M835.6 311.5h0M825.3 318.2h0M832.6 332.8h0M822.2 306.9h0M828.8 340.3h0M829.7 334.2h0M823.2 305.4h0M821.1 304.3h0M838.3 318.5h0M828.1 352.1h0M833.3 330.7h0M823.4 286h0M843 275h0M825.7 283.9h0M823.1 330.9h0M835.3 280.3h0M821.3 315.2h0M831.4 351.4h0M824.1 322.5h0M828.5 336.1h0M826.2 352.1h0M821.2 318.3h0M828.6 332.4h0M843.3 324.9h0M840.7 309.3h0M825.9 301.4h0M832.8 328.1h0M828.1 324.3h0M824.8 291.6h0M834.2 290.7h0M833 326.4h0M832.2 284.7h0M849.2 347.9h0M846.7 276.2h0M833.8 283.1h0M829.8 294h0M826.2 317.6h0M1058.5 323.6h0M1052.7 317.1h0M1042.9 298.5h0M1037.3 309h0M1051.9 317.8h0M1039.4 276.3h0M1042.9 336.6h0M1059.8 290.4h0M1056.4 334.9h0M1049.1 323.7h0M1054.6 306.5h0M1042.1 325.5h0M1042.9 335.1h0M1052.4 334.9h0M1056.7 293.7h0M1058.8 336.2h0M1035.2 309.5h0M1048 312.3h0M1047.3 308.2h0M1051.9 339h0M1057.9 310.9h0M1053.5 289.8h0M1048.7 294.2h0M1050.2 279h0M1046.9 286h0M1048.3 278.4h0M1036.6 343.7h0M1043.3 335.7h0M1055.5 315.5h0M1048.8 342.1h0M1038.9 293.2h0M1058.6 314.2h0M1041.9 307h0M1052.1 336.7h0M1047.9 341.8h0M1058.1 280.1h0M1054.7 328.9h0M1044.8 302.4h0M1056.6 320.1h0M1041.9 295h0M1048.9 297.2h0M1058.5 314.8h0M1049.4 339.6h0M1028.4 293.8h0M1056.1 320.9h0M1046 286.2h0M1057.4 320.4h0M1055.9 296.4h0M1035.4 343.9h0M1031.5 313.6h0M1055.3 293.7h0M1059.3 320.9h0M1041.2 287.9h0M1058.2 290.4h0M1044.7 342.6h0M1048.3 310h0M1050.4 343.5h0M1058.5 333.5h0M1038 293.9h0M1058.9 295.9h0M1060 320h0M1058.9 343.2h0M1055.4 287.8h0M1041.1 312.8h0M1050 305.8h0M1055.9 319h0M1050.9 303.8h0M1026.2 280.9h0M1029.4 328.4h0M1055.5 322.8h0M1025.9 326.5h0M1050.1 315.7h0M1049.6 311.3h0M1055.1 305.8h0M1050.7 292.6h0M1059.2 316.3h0M1054.3 299.6h0M1046.3 322.9h0M1048.6 287.4h0M1059.3 301.9h0M1052.2 289.1h0M1058.8 286.2h0M1055.6 341.4h0M1055.9 324.1h0M1050.5 299.5h0M1043.7 303.4h0M1052.1 342.6h0M1057.6 328.2h0M1042.2 309.4h0M1051.8 290.9h0M1036.9 286.6h0M1026.1 306.9h0M1055.2 279.6h0M1054.4 291.8h0M1055.7 318.5h0M1039.8 301.3h0M1050.7 344h0M1050.5 294.9h0M1059.5 275.1h0M1054.7 338.3h0M1058.9 312.4h0M1047.9 276.2h0M1046.2 335.4h0M1031.5 333.4h0M1044.5 331.6h0M1060 278.4h0M1051.8 282.9h0M1050.1 295.4h0M1028.7 332.6h0M1051.2 328.9h0M1056.8 312.8h0M1059.8 306h0M1058.9 283.1h0M1041.3 279.6h0M1056.9 330.1h0M1045.5 320h0M1054.3 304.5h0M1055.1 317.3h0M1052.5 308h0" stroke="#000" stroke-width="1.6" stroke-linecap="round" fill="none"/><path d="M917.3 261.3h0M1022.6 288.1h0M962.6 260h0M903.5 264.8h0M855.2 284.2h0M925.2 259.2h0M861.1 283.4h0M861.1 276.5h0M983.2 265.7h0M918.8 262.1h0M1038.5 296h0M1045.6 302.8h0M846.3 286.8h0M878.6 270.6h0M894.3 263.3h0M936.4 263.1h0M873.7 269.6h0M1056 312.1h0M983.5 267.1h0M931.8 258.8h0M939 258h0M1032.9 297.3h0M1053.5 309.4h0M989.9 273.1h0M932 259.4h0M1057.5 312.1h0M990 269.6h0M910.1 263.9h0M986.6 271h0M977.8 263.8h0M828.5 302.2h0M865 274.5h0M1002.8 273.4h0M1029.6 296.6h0M888 270.1h0M974.1 265.8h0M1053.6 309.1h0M1017 281.7h0M831.1 300.4h0M895.4 272.1h0M899.3 262.3h0M1013.1 280.6h0M997.4 273.6h0M921.1 260.9h0M940.4 257.3h0M992.1 269.2h0M1012.5 282.9h0M910 259.4h0M823.9 311.7h0M955.5 259.2h0M871.3 271.3h0M942.7 266.1h0M895.3 267.4h0M961.3 259.7h0M1028.6 292.5h0M895 262.6h0M953.9 260.6h0M991.8 269.2h0M893.6 262.2h0M923.7 266.7h0M844.8 289.7h0M1025.3 292.3h0M921.1 257.2h0M1030.6 290.5h0M1033.6 292.7h0M884.8 268h0M901.8 260.6h0M846.6 289.4h0M911.2 260.1h0M1008 275.9h0M879.4 268.8h0M974.1 262.7h0M937.6 257.5h0M1012.6 281.8h0M842.2 289.7h0M951.7 261.1h0M939.9 258.4h0M905.4 260.8h0M840.5 288.5h0M1048.8 306.6h0M939.6 259.1h0M843.5 288.7h0M972.4 262.7h0M899.9 269h0M918.9 258.7h0M893.4 262.2h0M907.7 259.3h0M855.3 279.8h0M844.8 286h0M866.9 272.5h0M944.7 259.9h0M1036.7 298.6h0M1003.7 275.2h0M941.1 256.9h0M886.1 268.9h0M1027.1 289.7h0M1013.8 284.2h0M878 267.9h0M1038.8 301.1h0M839.5 289.5h0M993.7 270.5h0M924.3 258.5h0M903.1 261.2h0M986.2 265.7h0M969.4 262.1h0M856.1 279h0M900.2 265.4h0M927.8 257.2h0M825.3 315h0M911.3 258.7h0M829.3 300.7h0M897.1 261.6h0M1017.2 285.6h0M840 290.9h0M970.5 265.3h0M915.6 260.4h0M893.7 267h0M1020.3 286.9h0M938.2 257.7h0M841.8 288.9h0M824.6 316.1h0M967.3 260.8h0M916.6 259.7h0M1039.8 297.8h0M931.2 258h0M1019.7 288h0M835.5 293.4h0M860.6 285.7h0M990.4 272h0M865.1 278.5h0M960.3 259.5h0M972.2 262.3h0M994.9 275.6h0M943.7 258.1h0M1053.6 314h0M836.1 293.1h0M1047.4 304.6h0M912.1 260.1h0M973 263.4h0M1031.8 290.9h0M837 298.5h0M1008.6 276.9h0M1052 313.5h0M842.2 291.8h0M1051 306.8h0M1024.8 289.3h0M1044.3 304.2h0M1012.3 281.6h0M866.1 276.5h0M967.1 260.3h0M835.8 294h0M982.1 267.6h0M1035 296.9h0M945.2 261.1h0M922.3 263.5h0M842 289.4h0M824.2 313.9h0M933.3 257.6h0M965.3 270.9h0M951.9 257.8h0M963.6 260.3h0M965.5 264h0M1034.7 294h0M970.8 261.1h0M826.6 305.4h0M866.4 278.6h0M859.7 277.9h0M883.4 266.1h0M891.4 267h0M838 291.3h0M1053.4 311.9h0M1028.5 298.7h0M908.8 260.3h0M937.2 260.5h0M876.7 270.9h0M942.3 258.1h0M890.7 264.7h0M944.4 258.2h0M963 259.4h0M889.3 269.8h0M849 283.1h0M919.4 262.2h0M953 266.2h0M883.8 268.6h0M896.9 261.8h0M988.1 271.3h0M1010.1 284.8h0M981.6 266.2h0M826 320.1h0M917.2 366.1h0M1032.9 340.5h0M1039.2 338.9h0M965.8 359.7h0M1016.4 345.9h0M864 351.3h0M872.7 352.1h0M890 362h0M942.4 366.3h0M988.9 353h0M924.6 366.7h0M1037.3 339.6h0M952.9 364.6h0M839.5 335.3h0M827 332.6h0M820 320h0M837.7 327.3h0M823.6 329.6h0M844.7 289.3h0M836.8 308.3h0M844.1 352.3h0M837 303.1h0M829.6 354.9h0M822.8 304.7h0M829.2 350.7h0M820.2 288h0M828.5 290.6h0M825.9 316.1h0M828.4 331.4h0M849.6 328.2h0M830.8 329.1h0M820.6 295.6h0M838.7 325h0M831.5 326.8h0M840.3 299.1h0M842 323.5h0M822.9 295.1h0M850.6 328h0M832.3 350.5h0M825.3 276.5h0M822.3 282.8h0M832.2 345h0M823.2 352.9h0M825.3 344.8h0M826.4 294.4h0M830.8 328.7h0M822.8 305.8h0M820.4 307.6h0M821.1 285.2h0M825.3 308.9h0M827.1 300.7h0M825.9 285.5h0M837.3 324.1h0M822.3 322.5h0M831.5 335.2h0M836 346.8h0M840.9 275h0M835.9 285.1h0M821.2 289.1h0M823.7 335h0M821.1 321.6h0M1049.6 278.2h0M1055.9 314.4h0M1059 322.8h0M1049.4 310.8h0M1052.1 337.9h0M1051.6 287.9h0M1049.3 279.5h0M1045.9 302h0M1055.3 344.3h0M1044.6 343.1h0M1059.2 324.9h0M1053.3 342.8h0M1034.1 302h0M1038.4 342.5h0M1058.8 291.4h0M1048.7 288.1h0M1058.8 299.5h0M1042.4 334.5h0M1050.9 295.6h0M1054.1 293.7h0M1058.8 319.7h0M1059.2 328.8h0M1043.9 280.9h0M1049.5 327h0M1051.5 283.1h0M1029.9 286h0M1049.5 314.3h0M1028.4 282.4h0M1052 344.9h0M1052.9 311.3h0M1037.8 326.2h0M1054 337.1h0M1056.8 310.7h0M1059.7 333.4h0M1059.9 321.6h0M1050.1 299.3h0M1058.4 285.2h0M1056 293.2h0M1055.6 300.1h0M1053.5 328.6h0M1057.9 287.8h0M1055.7 315.3h0M1039.9 333h0M1049.4 299.2h0M1047.1 337.3h0M1047.9 306.8h0M1047 304.6h0M1059.9 333.8h0M1043.6 301.1h0M1057.9 277.1h0M1053 326.6h0M1046.5 327.5h0M1030.5 282.2h0M1052.4 330h0M1056.7 340.7h0M1054.9 330.4h0M1046.2 289.1h0M1044.2 340.4h0M1056 312.8h0M1049.4 316.2h0M1044.7 289.2h0M1058.4 343.1h0M1059.4 342h0M1046.3 333.3h0M1045.5 317.9h0M1044.5 317h0M1058.9 342.6h0M1054.6 336.1h0M1054.7 308.7h0M1032.8 290.8h0M1058.7 338.7h0M1043.7 337.6h0" stroke="#000" stroke-width="2" stroke-linecap="round" fill="none"/><path d="M874.5 271h0M956.7 263.4h0M919.1 260.5h0M827.8 303.3h0M847.8 286.1h0M952.4 260h0M929.1 259.1h0M836.8 291h0M893.7 263.4h0M998.2 275.2h0M919.9 263.2h0M887 265h0M982.1 265.5h0M1047.3 307.6h0M900.1 262h0M822.4 312.1h0M1036.2 298.9h0M985.6 270.1h0M905 259.9h0M1050.4 305.9h0M1042.3 302.3h0M827.4 304.6h0M1055.9 312.2h0M913 266.9h0M990.4 268.8h0M1023.8 285.2h0M864.5 277.2h0M986.4 267h0M907.1 262.1h0M933.9 257.7h0M892.1 271.8h0M1052.3 314.4h0M920.8 263.7h0M977.2 263.7h0M936.2 257.3h0M1004.9 274.6h0M929.1 257.7h0M939.2 260.8h0M993.4 270.1h0M857.6 280.2h0M830.6 302.7h0M829.8 306.1h0M834.3 298.3h0M991.8 269h0M1054.7 310.6h0M1045.1 304.6h0M971.9 261.7h0M1047.5 304.4h0M872.9 272.7h0M936.3 258.4h0M965.5 260.4h0M1048.2 304.5h0M993.3 270.7h0M934.6 260.2h0M1041 299.9h0M859.3 279.6h0M863.9 276h0M843.8 286h0M1019.9 283.8h0M916.4 258.5h0M900.6 260.7h0M939.8 259.1h0M938.3 257.5h0M1019.1 285.4h0M1017.1 284.6h0M901.7 265.5h0M848.5 291.4h0M834.4 295.9h0M854.6 282.3h0M995 275.1h0M1041.7 300.3h0M1033.5 299.9h0M919.3 262.4h0M1005.7 276.7h0M914.9 258.8h0M1019.7 287.3h0M948.5 267.9h0M850.8 282.4h0M993.2 272.8h0M982.1 265.3h0M915.9 258h0M1008.2 275.3h0M918.7 260.2h0M988.3 268.7h0M887.6 265.4h0M860.6 276.5h0M987.6 269.6h0M838.7 292h0M848.9 287.8h0M929.6 257.5h0M963.1 260.7h0M1050.1 305.7h0M829.7 306.7h0M859.1 284.3h0M987.1 267.8h0M937.9 259.9h0M870.8 277.5h0M972.6 266.7h0M999 273.7h0M881.2 267.6h0M1055.7 313.3h0M860.3 277.2h0M875.1 270.2h0M959.1 259.9h0M923.9 258.2h0M966.6 271.6h0M1028.1 288.5h0M864.9 274.4h0M866.7 277.5h0M999 275.6h0M855.3 280.6h0M965.3 262.1h0M836.4 293.1h0M834.6 295.7h0M946.9 263.8h0M837.7 294.3h0M886.2 265.6h0M895.8 265.5h0M841.4 295.4h0M1043 304.7h0M876.9 270.4h0M828.9 317.9h0M914 258.7h0M826 314.7h0M849.6 284.6h0M1044.5 304.1h0M827.8 305.3h0M828.3 310.3h0M871.2 272h0M997.1 271.6h0M947.8 257.4h0M899 263.5h0M983.9 275.4h0M894.6 263.8h0M943.2 262.5h0M1015.8 282.6h0M832.9 303.9h0M1041.4 301.1h0M852.2 283.7h0M975.1 262.7h0M894.1 267.3h0M1046.6 310.7h0M872 272.3h0M882.2 267.1h0M937.4 258.8h0M1004 281.8h0M1043.5 302.1h0M921.3 257.6h0M904.4 267.5h0M1002.7 274.7h0M1033.3 292.9h0M846 289.1h0M1053.5 310.1h0M856.1 282.2h0M990.9 270.2h0M1000 276.3h0M826.8 309.1h0M959.5 260h0M959.4 264.1h0M885.1 279.8h0M1017.2 283.8h0M954.8 258.2h0M930.8 362.9h0M936.2 367.2h0M868 350.1h0M1009.2 346.8h0M827.6 324.8h0M996.1 352.1h0M870.2 350h0M887.9 361.7h0M946 363.1h0M894.8 360.5h0M927.6 368.6h0M977.4 356.1h0M828.7 326h0M835.7 327.3h0M863.2 349.4h0M868.8 353.8h0M1044.8 339.9h0M1014.1 346.9h0M946.1 365.9h0M1045.8 339.9h0M835.6 332h0M1040.5 338.6h0M857.7 343.8h0M906 366.4h0M881.2 358.7h0M1005.1 347.2h0M852.1 345.1h0M875.2 354.9h0M1028.1 343.6h0M871.4 352h0M892.4 362.8h0M829.8 327.7h0M905.9 365.4h0M823.1 317.9h0M932 366.9h0M850.9 341.7h0M1037 341.9h0M867.5 351.5h0M848.6 343.2h0M881.5 358.8h0M1004.6 339.8h0M852.1 343h0M1007.6 348.5h0M878.9 355.8h0M826.4 319.8h0M925.8 366.4h0M842.5 336.4h0M966.5 360.3h0M886.7 360.7h0M910.3 365.4h0M858.8 347.9h0M1009.8 347h0M830.4 327.6h0M862.3 349.7h0M863.1 350.5h0M983.2 355.3h0M873 356.2h0M912 366.8h0M979.8 356.3h0M867.8 352.2h0M955.1 361.1h0M892.4 362.7h0M1005.2 348.5h0M939.8 365.2h0M858.7 348.5h0M953.6 360h0M858.7 347.2h0M950.6 365.7h0M900.1 362.1h0M865.3 349.8h0M965.7 359.5h0M971.9 359.1h0M961.5 361.3h0M838.2 335.5h0M835.7 332.8h0M897.5 364.5h0M934.6 367.2h0M1030.8 341h0M903.5 364.4h0M941.9 366.2h0M967.4 358h0M1039 339.9h0M962.3 361.9h0M918.9 365.5h0M861.7 350.7h0M932 368.8h0M862.1 347.7h0M1020.5 341.7h0M967.6 357.9h0M825.3 320.8h0M956 363.6h0M820.6 312.4h0M841.5 322.6h0M824.4 300h0M823.1 347.7h0M847.1 336.7h0M825.3 282h0M827.7 306.2h0M826.3 304.7h0M840.2 280.1h0M825.2 321.9h0M822.7 313.3h0M829.8 285.8h0M830.7 299.4h0M834.4 293.7h0M844.1 326.5h0M822.1 335.2h0M823.4 278.5h0M845 298.5h0M850 305.5h0M840.1 342.2h0M827.3 323.4h0M820.5 352.2h0M827.3 320.3h0M822.2 319.5h0M829.9 287.8h0M822.2 310.5h0M827.3 283.6h0M822.7 354.7h0M841.1 275.2h0M824.7 353.2h0M831.1 286.5h0M831.3 281.9h0M824 351.9h0M827.4 353.5h0M838.6 312.5h0M830.1 282.9h0M831.9 323.8h0M839.6 281.7h0M838.4 278.4h0M821.4 339.6h0M831.3 306.8h0M823 334.4h0M823.1 353.1h0M833.4 352.1h0M820.8 288.1h0M825.8 317.5h0M823 287.8h0M820.2 329.1h0M826.8 344.5h0M833.9 334.3h0M828 305.8h0M829.6 348.4h0M844 341.4h0M839.8 276.3h0M831.2 288.1h0M850.2 313.2h0M845.6 285.7h0M827.6 308.8h0M844.3 314.7h0M827.5 291h0M829.6 306.8h0M837.4 339.7h0M1049.9 331.1h0M1054.4 297.4h0M1041 334.2h0M1044.4 276.7h0M1056.2 315.8h0M1052.2 336.3h0M1051.6 329.4h0M1057.6 305.5h0M1044.8 291.1h0M1055.8 336.8h0M1057.6 295h0M1058.4 283.1h0M1055 296.5h0M1047.3 282.7h0M1036.7 287.4h0M1041.9 279.7h0M1059.7 310.8h0M1058.7 287.5h0M1057.5 278.8h0M1047.3 319.6h0M1037 290.7h0M1038 295.8h0M1056.7 331.7h0M1045.8 311.7h0M1050.9 329.6h0M1039 292.5h0M1034.9 339.3h0M1059.3 291.4h0M1051.5 342.2h0M1049.7 313.3h0M1055.7 300.8h0M1055.3 283.6h0M1049.5 335.6h0M1051.4 282.5h0M1049 314.9h0M1053.3 343.4h0M1059.4 293.6h0M1056.9 314.7h0M1054.4 298.5h0M1052.4 323.6h0M1051.5 318.1h0M1051.5 331.4h0M1058.4 315.3h0M1057.7 319.3h0M1048.3 310.6h0M1060 279.9h0M1055.8 333.4h0M1054.5 303.1h0M1051.7 314.2h0M1038.3 292.2h0M1050.6 320.2h0M1059.8 288.1h0M1051.7 280.6h0M1048 313.1h0M1053.9 320.6h0M1055.8 292.7h0M1052.2 315.2h0M1054.4 313.7h0M1059.1 314.7h0M1051.3 319.8h0M1041.5 310.1h0M1051.2 306h0M1053.1 312.5h0M1053.3 305.7h0M1055.1 301.2h0M1043.6 324.6h0M1057.3 320.2h0M1044.6 340h0M1043.1 293.6h0" stroke="#000" stroke-width="1.2" stroke-linecap="round" fill="none"/></g><path d="M805.1 312.3L807.1 312.1L807.4 310.2L809 308.8L809.7 306.1L812.6 304.7L814.2 301.4L816.2 300.8L816.7 298.4L819.2 297.9L819.7 295.1L822.4 294.4L823.7 292.2L826.2 291.1L827.6 288.8L830 287.6L831.4 285.3L833.7 284.1L834.7 281.5L837.5 281.2L838.2 278.4L841 278.3L842.1 275.9L844.9 275.9L846.3 273.9L848.7 273.4L849.8 271L852.5 271.1L853.8 269L856.3 268.8L857.4 266.5L860 266.7L861.3 264.8L863.9 264.3L865.4 262.2L868 262L869.3 259.6L871.9 259.8L873.3 257.5L875.9 257.6L877.3 255.4L879.9 255.7L881.6 253.7L884.3 254.3L886 252.5L888.4 252.8L890.2 251.2L892.7 251.7L894.5 249.4L897.1 250.7L899 248.7L901.5 249.8L903.4 247.7L905.9 248.8L908 248L910.4 248.4L912.6 246.8L915.2 247.4L917.4 245.3L920.1 246.3L922.3 244.6L925 245.8L927.3 244.3L929.8 245.3L932 243.9L934.3 244.6L936.4 243L939.1 244.8L941.7 243.4L943.9 245L946.3 244.6L948.4 245.6L950.9 245.5L953.3 246.4L956.1 246.5L957.9 247.8L960.2 246.9L962 248.7L964.5 247.4L966.3 249.7L968.8 249.1L970.8 250.8L973.3 250.4L975.3 251.9L978 251.3L979.7 253.6L982.5 252.7L984.1 255L986.5 255.2L988.4 256.7L991.2 255.9L992.7 258.4L995.4 258.2L997 260.3L1000 259.7L1001.4 262.2L1004.2 262L1005.8 264.2L1008.4 264.7L1009.7 266.7L1012.1 267.1L1013.5 269.1L1016 269.5L1017.5 271.4L1019.9 272.1L1021.3 274.1L1024.1 274.3L1025.2 276.6L1027.7 277L1029 279.1L1031.2 279.7L1032.4 281.6L1034.5 282.1L1035.9 284.7L1039.1 284.9L1040 287.9L1042.8 288.4L1043.6 291.1L1046.5 291.3L1047 294.1L1049 295.2L1049.9 297.2L1052.5 297.5L1053.5 300.5L1055.7 302.2L1057 304.6L1059.6 305.6L1059.8 308.2L1061.8 309L1061.8 310.8L1058.2 312.8L1056 312.5L1055 309.6L1050.2 308.6L1050.3 305.9L1048.1 305.5L1047.3 303.1L1044.5 302.9L1043.5 300.4L1040.2 300.6L1039.9 297L1036.8 296.9L1036.1 294L1033.4 293.7L1032.3 291.2L1029 291.8L1028.5 288.4L1025 289.3L1024.6 285.9L1022 285.6L1020.7 283.4L1018.1 283.3L1016.9 281L1014.4 280.5L1012.9 278.5L1009.9 279.6L1009 276.5L1006.6 276.3L1004.9 274.2L1001.7 274.7L999.7 271.9L997 273.4L996.1 270.6L993.3 271.6L992.2 268.9L989.8 268.8L988.1 267L985.3 267.7L983.7 265.3L980.8 266.3L979.3 263.5L976.5 264.2L974.6 262.2L972.1 262.2L970 260.9L967.6 262.3L965.9 259.9L963.7 260.2L961.7 259.2L959.4 259.6L957.3 258.4L954.8 260.3L952.9 257.6L950.4 259.4L948.4 257.5L946 259.3L943.9 256.9L941.6 259L939.4 257L937.2 258.5L935 256.5L932.8 257.9L930.6 257L928.4 258.7L926.1 257L924.1 259.8L921.6 257.4L919.6 259.9L917.2 258L915.1 259.7L912.7 258.7L910.7 259.7L908.4 259.3L906.3 260.3L904.1 260.1L902.4 262.3L900 261L898.1 263.1L895.2 261.8L893.3 264.1L890.5 263.3L888.4 264.9L885.9 265L884 267L881.4 266.7L880 269.3L877.3 268.4L876.2 271.4L873.5 270L872.7 272.8L870.3 271.4L868.2 274.8L865.2 273.4L864.7 276.2L862.1 274.8L861.7 278L858.2 277.4L856.9 279L854.8 279.3L853.6 281.5L850.9 281.3L849.7 283.8L846.8 283.8L846.1 287L842.9 286.7L841.4 288.8L839 289.7L837.7 291.8L835.6 293L835.3 295.9L832.5 297.1L832.4 300.3L829.1 301.4L828.5 304.3L826.2 305.9L826.1 308.8L823.7 310.1L823.4 312.3L821.6 313.3L821.5 314.8Z" fill="#000"/><path d="M796.5 320.5L801 315L807 311.5L815 302L822 313L826 322L820 319L812 322L806 325Z" fill="#000"/><path d="M822 313.9L821.9 316.1L824.1 317.9L825 321L826.5 322.3L826.9 324.3L829.4 325.1L829.8 327.9L832.9 329.1L833.2 331.3L835.2 332.1L836.3 334.1L838.4 335L839.8 337.1L842.2 337.9L843.7 339.9L845.9 340.9L847.5 342.8L850.2 343L851.4 345.3L853.7 345.8L855.4 347.5L857.9 347.7L859.5 349.7L861.9 350.2L863.7 351.8L866.3 351.9L868.1 353.7L870.7 353.6L872.3 355.4L874.4 355.8L876.3 357.1L878.5 357.3L880.3 358.8L882.6 358.8L884.4 360.3L886.8 360.2L888.6 361.7L891.1 361.4L893 363L895.4 362.4L897.2 364.2L899.8 363.1L901.8 365.2L904.4 364.4L906.5 366.1L908.9 365.9L911 367L913.4 365.7L915.3 367.5L917.4 366.7L919 368.1L922.2 367.1L924.5 368.8L926.8 368.3L928.9 369L931.2 367.8L934 368.6L935.9 367.9L937.9 368L939.7 366.4L942.1 367.2L944.1 365.6L946.6 366.3L948.7 364.8L951.3 365.3L953.3 363.3L956.1 364.2L957.8 362.6L960.1 363L961.9 361.3L964.4 361.6L966.2 359.8L968.8 360.2L970.8 359L973.2 358.8L975 356.6L977.7 357.5L979.6 355.9L982 356.1L983.9 354.3L986.4 354.8L988.4 353.8L990.7 353.7L992.5 351.7L995 352.4L996.8 350.4L999.4 351.4L1001.2 349.6L1003.7 350.3L1005.6 348.6L1008 349.1L1010.1 347.8L1012.5 347.9L1014.7 346.9L1017.2 346.9L1019.4 345.4L1021.9 345.7L1023.9 344L1026.4 344.5L1028.3 343.3L1030.5 343.7L1032.2 342.7L1034 342.7L1037.2 340.8L1040.4 341.3L1042.5 339.7L1044.6 340.4L1045.7 338.7L1046.8 343.7L1045.4 344L1043.5 344.4L1041.2 344.9L1038.3 345.6L1034.9 346.4L1033.2 346.8L1031.4 347.2L1029.4 347.7L1027.2 348.2L1025 348.7L1022.8 349.3L1020.4 349.8L1018.1 350.4L1015.7 351L1013.4 351.6L1011.1 352.1L1008.9 352.7L1006.8 353.2L1004.6 353.8L1002.5 354.4L1000.3 354.9L998.1 355.5L996 356.1L993.8 356.6L991.7 357.2L989.5 357.8L987.4 358.4L985.2 359L983.1 359.6L980.9 360.3L978.7 360.9L976.6 361.6L974.3 362.3L972.1 363.1L969.9 363.8L967.7 364.5L965.5 365.2L963.3 365.9L961.2 366.5L959 367.1L957 367.7L954.5 368.3L952.1 368.9L949.8 369.5L947.4 370L945.1 370.5L942.8 371L940.6 371.4L938.5 371.7L936.4 372L934.4 372.3L931.5 372.5L929 372.7L926.6 372.6L924.2 372.5L921.6 372.2L918.5 371.8L916.7 371.5L914.7 371.2L912.6 370.9L910.4 370.5L908.1 370.2L905.8 369.7L903.4 369.3L901.1 368.8L898.7 368.3L896.4 367.8L894.1 367.2L892 366.7L889.7 366L887.5 365.3L885.3 364.6L883.1 363.8L881 363L878.9 362.2L876.8 361.4L874.8 360.6L872.8 359.7L870.8 358.8L868.8 358L866.6 357L864.4 356L862.2 355.1L860.1 354L857.9 353L855.8 351.9L853.6 350.8L851.5 349.7L849.5 348.5L847.4 347.2L845.4 345.9L843.4 344.4L841.4 342.9L839.4 341.4L837.5 339.8L835.6 338.3L833.9 336.8L832.2 335.4L830.7 334L829.3 332.7L827.1 330.4L825.3 328.2L823.9 326.3L822.9 324.6L821.8 323.1L820.1 320.4L818.6 318L817.7 316.4Z" fill="#000"/><path d="M1058 312C1057.8 313.3 1057.7 317.3 1057 320C1056.3 322.7 1055.3 325.5 1054 328C1052.7 330.5 1050.3 333 1049 335C1047.7 337 1046.5 339.2 1046 340" stroke="#000" stroke-width="2.2" fill="none"/><path d="M1060 311.5C1061.5 312.4 1066.3 315.1 1069 317C1071.7 318.9 1073.9 320.7 1076 322.7C1078.1 324.7 1080.3 326.9 1081.5 329C1082.7 331.1 1083.2 333 1083 335C1082.8 337 1081.5 339.4 1080 341C1078.5 342.6 1076.7 344 1074 344.4C1071.3 344.8 1067.2 343.9 1064 343.5C1060.8 343.1 1058 342.3 1055 341.8C1052 341.3 1048.9 340.9 1046 340.5C1043.1 340.1 1039.1 339.7 1037.7 339.5" stroke="#000" stroke-width="2.6" fill="none" stroke-linecap="round" stroke-linejoin="round"/><path d="M1068 331.7h0M1066.1 323.3h0M1064 331.1h0M1071.5 329h0M1059.3 332.6h0M1069.5 331.6h0M1058.7 338.8h0M1065.2 319.8h0M1071.1 326.1h0M1070 323.1h0M1060 338.9h0M1059.3 331h0M1060.7 330.6h0M1061.9 339.4h0M1062.8 331h0M1068.9 319h0M1062.6 337.5h0" stroke="#000" stroke-width="1.6" stroke-linecap="round" fill="none"/><path d="M1066.9 329.1h0M1069.3 320.3h0M1069.6 328.6h0" stroke="#000" stroke-width="2" stroke-linecap="round" fill="none"/><path d="M1066 330.9h0M1061.9 321.7h0M1063.7 333.1h0M1069.9 326h0M1066.3 321.6h0M1066.8 333.5h0M1061.7 320.6h0M1066.6 319.3h0" stroke="#000" stroke-width="1.2" stroke-linecap="round" fill="none"/><rect x="-9.5" y="-2.6" width="19" height="5.2" rx="2.6" fill="#ed1c24" transform="translate(805 297.5) rotate(-42)"/><rect x="-9.5" y="-2.6" width="19" height="5.2" rx="2.6" fill="#ed1c24" transform="translate(832 274) rotate(-38)"/><rect x="-9.5" y="-2.6" width="19" height="5.2" rx="2.6" fill="#ed1c24" transform="translate(861.7 255) rotate(-28)"/><rect x="-9.5" y="-2.6" width="19" height="5.2" rx="2.6" fill="#ed1c24" transform="translate(893 240.2) rotate(-19)"/><rect x="-9.5" y="-2.6" width="19" height="5.2" rx="2.6" fill="#ed1c24" transform="translate(929 232.6) rotate(-5)"/><rect x="-9.5" y="-2.6" width="19" height="5.2" rx="2.6" fill="#ed1c24" transform="translate(963 235) rotate(8)"/><rect x="-9.5" y="-2.6" width="19" height="5.2" rx="2.6" fill="#ed1c24" transform="translate(996.9 245.4) rotate(22)"/><rect x="-9.5" y="-2.6" width="19" height="5.2" rx="2.6" fill="#ed1c24" transform="translate(1027.3 261.9) rotate(33)"/><rect x="-9.5" y="-2.6" width="19" height="5.2" rx="2.6" fill="#ed1c24" transform="translate(1055 284.5) rotate(45)"/><rect x="-8.8" y="-2.6" width="17.5" height="5.2" rx="2.6" fill="#ed1c24" transform="translate(827 335.7) rotate(52)"/><rect x="-8.8" y="-2.6" width="17.5" height="5.2" rx="2.6" fill="#ed1c24" transform="translate(854.7 354.9) rotate(32)"/><rect x="-8.8" y="-2.6" width="17.5" height="5.2" rx="2.6" fill="#ed1c24" transform="translate(886 368.8) rotate(18)"/><rect x="-8.8" y="-2.6" width="17.5" height="5.2" rx="2.6" fill="#ed1c24" transform="translate(922.5 377.2) rotate(5)"/><rect x="-8.8" y="-2.6" width="17.5" height="5.2" rx="2.6" fill="#ed1c24" transform="translate(956 376.6) rotate(-6)"/><rect x="-8.8" y="-2.6" width="17.5" height="5.2" rx="2.6" fill="#ed1c24" transform="translate(990.8 370.5) rotate(-15)"/><rect x="-8.8" y="-2.6" width="17.5" height="5.2" rx="2.6" fill="#ed1c24" transform="translate(1023.8 357.5) rotate(-27)"/>
<path d="M1069 297.2C1070.8 296.7 1074.8 296.1 1078 296.3C1081.2 296.5 1085 297.2 1088 298.5C1091 299.8 1093.6 301.9 1096 304C1098.4 306.1 1100.1 308.4 1102.4 311C1104.7 313.6 1107.6 317.2 1110 319.5C1112.4 321.8 1115.3 325.2 1117 325C1118.7 324.8 1118.8 319.9 1120 318C1121.2 316.1 1122.3 315.1 1124 313.4C1125.7 311.6 1127.8 309.2 1130 307.5C1132.2 305.8 1134.8 304.4 1137 303.3C1139.2 302.2 1141.3 301.5 1143.5 301C1145.7 300.5 1147.8 300.1 1150 300.4C1152.2 300.6 1154.8 301.3 1157 302.5C1159.2 303.7 1161 305.4 1163 307.6C1165 309.8 1167.3 312.6 1169 315.5C1170.7 318.4 1172.4 321.9 1173.4 325C1174.5 328.1 1175 331.1 1175.3 334C1175.6 336.9 1175.5 339.4 1175.5 342.4C1175.5 345.4 1175.3 348.6 1175 352C1174.7 355.4 1174.2 359.2 1173.4 362.7C1172.6 366.2 1171.2 369.6 1170 373C1168.8 376.4 1167.3 379.8 1166 383C1164.7 386.2 1163 389.2 1162 392C1161 394.8 1160.7 395.3 1159.9 400C1159.2 404.7 1158 412.7 1157.5 420C1157 427.3 1157 432.7 1156.7 443.7C1156.4 454.7 1156.3 471.8 1155.6 486C1154.9 500.2 1153.8 514.5 1152.4 528.7C1151 542.9 1148.2 559.1 1147 571C1145.8 582.9 1145.4 593.2 1145.2 600C1145 606.8 1145.4 606 1146 612C1146.6 618 1147.7 629.7 1148.7 636C1149.7 642.3 1151.5 644.7 1152 650C1152.5 655.3 1153 663 1152 668C1151 673 1148.7 677.3 1146 680C1143.3 682.7 1138.8 683.8 1136 684C1133.2 684.2 1130.7 682.3 1129 681C1127.3 679.7 1127.2 680.7 1126 676C1124.8 671.3 1123.1 660 1121.7 652.7C1120.3 645.4 1118.5 638.8 1117.5 632C1116.5 625.2 1115.8 618.6 1115.5 612C1115.2 605.4 1115.9 602.8 1115.7 592.5C1115.5 582.2 1115.2 561.2 1114.2 550C1113.2 538.8 1110.6 532.1 1109.5 525C1108.4 517.9 1108.2 515.7 1107.8 507.5C1107.4 499.3 1107 484.9 1107.2 475.6C1107.4 466.4 1108.2 459.1 1109 452C1109.8 444.9 1110.7 439.2 1112 433C1113.3 426.8 1115.4 420.3 1117 415C1118.6 409.7 1120.6 405.2 1121.5 401C1122.4 396.8 1122.7 393.3 1122.5 390C1122.3 386.7 1121.4 383.6 1120.5 381C1119.6 378.4 1119.1 375.8 1117 374.5C1114.9 373.2 1111.7 373.3 1108 373.2C1104.3 373.1 1098.8 373.4 1095 374C1091.2 374.6 1088.6 375.9 1085 376.5C1081.4 377.1 1077.2 378 1073.4 377.9C1069.6 377.8 1065.1 377 1062 376C1058.9 375 1057.3 373.7 1055 372C1052.7 370.3 1049.9 367.9 1048 366C1046.1 364.1 1044.1 362.2 1043.5 360.5C1042.9 358.8 1043.5 356.3 1044.5 355.5C1045.5 354.7 1047.1 354.9 1049.5 355.8C1051.9 356.7 1055 359.4 1059 361C1063 362.6 1068.6 365.3 1073.4 365.6C1078.2 365.9 1083.9 364 1088 362.7C1092.1 361.4 1095.2 359.9 1098 358C1100.8 356.1 1103.1 354 1105 351.5C1106.9 349 1108.9 346 1109.6 343C1110.3 340 1109.9 336.7 1109 333.7C1108.1 330.7 1106 327.6 1104 325C1102 322.4 1099.7 320.3 1097 318C1094.3 315.7 1091 312.9 1088 311C1085 309.1 1081.7 307.5 1079 306.5C1076.3 305.5 1073.9 305.6 1072 305C1070.1 304.4 1068.3 303.9 1067.5 303C1066.7 302.1 1066.8 300.5 1067 299.5C1067.2 298.5 1067.2 297.7 1069 297.2Z" fill="#ec008c" stroke="#000" stroke-width="3.2" stroke-linejoin="round"/><clipPath id="sc"><path d="M1069 297.2C1070.8 296.7 1074.8 296.1 1078 296.3C1081.2 296.5 1085 297.2 1088 298.5C1091 299.8 1093.6 301.9 1096 304C1098.4 306.1 1100.1 308.4 1102.4 311C1104.7 313.6 1107.6 317.2 1110 319.5C1112.4 321.8 1115.3 325.2 1117 325C1118.7 324.8 1118.8 319.9 1120 318C1121.2 316.1 1122.3 315.1 1124 313.4C1125.7 311.6 1127.8 309.2 1130 307.5C1132.2 305.8 1134.8 304.4 1137 303.3C1139.2 302.2 1141.3 301.5 1143.5 301C1145.7 300.5 1147.8 300.1 1150 300.4C1152.2 300.6 1154.8 301.3 1157 302.5C1159.2 303.7 1161 305.4 1163 307.6C1165 309.8 1167.3 312.6 1169 315.5C1170.7 318.4 1172.4 321.9 1173.4 325C1174.5 328.1 1175 331.1 1175.3 334C1175.6 336.9 1175.5 339.4 1175.5 342.4C1175.5 345.4 1175.3 348.6 1175 352C1174.7 355.4 1174.2 359.2 1173.4 362.7C1172.6 366.2 1171.2 369.6 1170 373C1168.8 376.4 1167.3 379.8 1166 383C1164.7 386.2 1163 389.2 1162 392C1161 394.8 1160.7 395.3 1159.9 400C1159.2 404.7 1158 412.7 1157.5 420C1157 427.3 1157 432.7 1156.7 443.7C1156.4 454.7 1156.3 471.8 1155.6 486C1154.9 500.2 1153.8 514.5 1152.4 528.7C1151 542.9 1148.2 559.1 1147 571C1145.8 582.9 1145.4 593.2 1145.2 600C1145 606.8 1145.4 606 1146 612C1146.6 618 1147.7 629.7 1148.7 636C1149.7 642.3 1151.5 644.7 1152 650C1152.5 655.3 1153 663 1152 668C1151 673 1148.7 677.3 1146 680C1143.3 682.7 1138.8 683.8 1136 684C1133.2 684.2 1130.7 682.3 1129 681C1127.3 679.7 1127.2 680.7 1126 676C1124.8 671.3 1123.1 660 1121.7 652.7C1120.3 645.4 1118.5 638.8 1117.5 632C1116.5 625.2 1115.8 618.6 1115.5 612C1115.2 605.4 1115.9 602.8 1115.7 592.5C1115.5 582.2 1115.2 561.2 1114.2 550C1113.2 538.8 1110.6 532.1 1109.5 525C1108.4 517.9 1108.2 515.7 1107.8 507.5C1107.4 499.3 1107 484.9 1107.2 475.6C1107.4 466.4 1108.2 459.1 1109 452C1109.8 444.9 1110.7 439.2 1112 433C1113.3 426.8 1115.4 420.3 1117 415C1118.6 409.7 1120.6 405.2 1121.5 401C1122.4 396.8 1122.7 393.3 1122.5 390C1122.3 386.7 1121.4 383.6 1120.5 381C1119.6 378.4 1119.1 375.8 1117 374.5C1114.9 373.2 1111.7 373.3 1108 373.2C1104.3 373.1 1098.8 373.4 1095 374C1091.2 374.6 1088.6 375.9 1085 376.5C1081.4 377.1 1077.2 378 1073.4 377.9C1069.6 377.8 1065.1 377 1062 376C1058.9 375 1057.3 373.7 1055 372C1052.7 370.3 1049.9 367.9 1048 366C1046.1 364.1 1044.1 362.2 1043.5 360.5C1042.9 358.8 1043.5 356.3 1044.5 355.5C1045.5 354.7 1047.1 354.9 1049.5 355.8C1051.9 356.7 1055 359.4 1059 361C1063 362.6 1068.6 365.3 1073.4 365.6C1078.2 365.9 1083.9 364 1088 362.7C1092.1 361.4 1095.2 359.9 1098 358C1100.8 356.1 1103.1 354 1105 351.5C1106.9 349 1108.9 346 1109.6 343C1110.3 340 1109.9 336.7 1109 333.7C1108.1 330.7 1106 327.6 1104 325C1102 322.4 1099.7 320.3 1097 318C1094.3 315.7 1091 312.9 1088 311C1085 309.1 1081.7 307.5 1079 306.5C1076.3 305.5 1073.9 305.6 1072 305C1070.1 304.4 1068.3 303.9 1067.5 303C1066.7 302.1 1066.8 300.5 1067 299.5C1067.2 298.5 1067.2 297.7 1069 297.2Z"/></clipPath><g clip-path="url(#sc)"><path d="M1153.6 429h0M1135.9 507.5h0M1137.2 532.8h0M1134.4 604.5h0M1149.7 453.4h0M1163.5 333h0M1134 482h0M1138.3 569.9h0M1148.5 440.7h0M1163.2 322.2h0M1172.4 341.4h0M1149.3 486.2h0M1154.8 317.2h0M1140.6 590.9h0M1149.4 530.4h0M1165.9 321.2h0M1147.9 446.4h0M1154.9 314.3h0M1170.5 326h0M1138.8 610.9h0M1141.4 610.4h0M1145.3 521.5h0M1150.4 445.9h0M1156.5 380.2h0M1170.2 328.2h0M1170.5 352.7h0M1136.2 444.1h0M1140.1 597.8h0M1134.1 594.8h0M1160.2 378h0M1153.5 479.4h0M1165 374.8h0M1130.5 535.8h0M1152.5 383.9h0M1149.5 426.9h0M1147.2 533.9h0M1152.7 414.7h0M1156.3 401.2h0M1158.4 380.9h0M1143.7 568h0M1135.2 615.5h0M1171.8 354.4h0M1141.4 595.2h0M1133 558.4h0M1157.3 316.4h0M1141.4 576.6h0M1142.7 562.7h0M1156.4 359.1h0M1150.1 455.6h0M1167.8 320.1h0M1151.8 494.6h0M1167.2 317.6h0M1164 381.2h0M1134.3 437.8h0M1147.6 344.2h0M1150.8 397.1h0M1143.9 553.8h0M1144.4 548.3h0M1138 602.5h0M1143 535.2h0M1146.1 471.2h0M1129.9 482.6h0M1140.9 480.4h0M1141.2 628.6h0M1141.9 592.6h0M1140.1 536.3h0M1131.5 549.5h0M1137.8 582.4h0M1153.9 419.3h0M1169.5 338.9h0M1169.6 336.7h0M1138 600.2h0M1141.5 633.5h0M1142 523.5h0M1149.1 460.4h0M1153.8 457.7h0M1150.3 499.2h0M1168.7 366.3h0M1144.7 557.4h0M1150.4 499.8h0M1144.3 572h0M1139.6 568.6h0M1145.9 500.3h0M1157.5 314h0M1136 586.2h0M1162.6 312.2h0M1135.4 604.8h0M1150 522.2h0M1145.6 556.7h0M1143.4 461.4h0M1165.1 332.4h0M1143.6 572.6h0M1146.8 481.2h0M1145.6 511.6h0M1128.3 615.4h0M1143.3 575.1h0M1150.2 507h0M1152.2 421.3h0M1166.7 368.9h0M1150.5 441.9h0M1143.3 541.7h0M1159 331.4h0M1161.6 319.4h0M1139.6 579.4h0M1142.9 634.6h0M1136.9 508.1h0M1162.6 314.2h0M1148.5 475.7h0M1145.7 554.7h0M1134.5 520h0M1149.6 513.4h0M1172.1 326.1h0M1140.8 510h0M1155.9 402.1h0M1153.5 395.9h0M1125.3 622.9h0M1167.1 364.4h0M1135.4 550.4h0M1144.6 570.3h0M1129.8 602.5h0M1147.7 456.9h0M1154.4 331.6h0M1139.6 554.4h0M1170.2 347.3h0M1149.4 493.3h0M1149.7 485.3h0M1147.9 543.2h0M1148.9 528h0M1145.1 438.2h0M1150.3 435.6h0M1136 438h0M1148 527.9h0M1157.1 373.5h0M1140.4 592h0M1158.9 390.7h0M1149.1 412.3h0M1165.8 376.7h0M1165.3 335.7h0M1170.6 327.3h0M1167.4 346.1h0M1141.9 582.6h0M1150.9 413.4h0M1150.8 474.3h0M1142.5 615.9h0M1129.9 562.9h0M1136.9 557h0M1143.6 527.2h0M1138.9 454.9h0M1140.8 574.3h0M1155.1 430.1h0M1145.2 402.7h0M1156.2 425.2h0M1154.3 402.2h0M1143 526.2h0M1148.3 405.2h0M1143.7 450.9h0M1152.9 346.8h0M1142.4 601.9h0M1152.4 459h0M1154.1 390.6h0M1167.5 339.5h0M1159.5 385h0M1147.6 541.4h0M1165.6 334.9h0M1140.1 571.6h0M1109.7 535.1h0M1108.4 454.1h0M1117.7 644.7h0M1109.8 449.5h0M1113.3 618.4h0M1114.7 558.9h0M1111.2 437.5h0M1110.1 525.1h0M1109.3 451.2h0M1110.1 525.9h0M1115.2 590.4h0M1106.6 483.1h0M1114 580.1h0M1115.6 579.7h0M1120.7 650.7h0M1117 623.2h0M1109.4 448.1h0M1118.7 378.5h0M1112.9 562.4h0M1119.7 381.2h0M1109.4 522.4h0M1123.8 667.8h0M1106.2 458.3h0M1112.9 540.7h0M1108.1 464.8h0M1115.6 589.3h0M1125.6 676h0M1120.6 667.2h0M1112.4 428.9h0M1113.6 421.8h0M1112.7 553.1h0M1116.3 597.4h0M1117.1 622.7h0M1121.3 390.6h0M1109.2 525.4h0M1120.4 398.5h0M1107.9 456.3h0M1114.4 378.9h0M1116.7 594.6h0M1113.6 563.3h0M1107.7 496.9h0M1121.5 397.1h0M1122.3 657.2h0M1121.9 653.3h0M1107.1 456.4h0M1112.4 561.3h0M1108.7 500h0M1106.5 470.1h0M1124 666.3h0M1110.5 531.1h0M1113.1 586.8h0M1111.2 445.9h0M1107.2 455.5h0M1123.5 668.2h0M1119.5 652h0M1112 537.4h0M1113.8 429.6h0M1110.1 532.3h0M1112.4 551.8h0M1106.2 472.2h0M1109.2 448.4h0M1105.1 483.5h0M1115.9 581.5h0M1106.4 484.6h0M1118.7 639.2h0M1115.9 610.9h0M1114.2 567.8h0M1115.8 578.5h0M1109.6 532.6h0M1120.6 645.8h0M1109.4 528h0M1117.1 655h0M1113.6 598.5h0M1105.9 479.5h0M1097.5 367h0M1073.2 369.7h0M1048.7 361.1h0M1052.9 365.6h0M1074.9 373.1h0M1045.9 362.7h0M1058.5 373.5h0M1065.8 373.1h0M1076.9 372.3h0M1051 363.2h0M1059 378.3h0M1091.6 366.6h0M1061.7 370.9h0M1082.9 301.5h0" stroke="#000" stroke-width="2" stroke-linecap="round" fill="none"/><path d="M1132.6 621.8h0M1163.8 377.9h0M1138 585.7h0M1153.9 451.9h0M1131.5 576.8h0M1151 421.9h0M1157.3 369.1h0M1149.3 488.6h0M1139.7 613.4h0M1145.9 511h0M1158 384.7h0M1164.1 366h0M1152.1 486.1h0M1169.8 358h0M1147.9 461.3h0M1152.3 489.1h0M1135.4 556.8h0M1152.6 480.1h0M1145.3 631.3h0M1154.1 467.7h0M1156.8 369.5h0M1158.4 385.8h0M1152.6 451.4h0M1142.8 620.6h0M1145.5 469.2h0M1162.3 352.4h0M1136.8 609.5h0M1130.2 614.8h0M1168.9 342.1h0M1147.7 537.1h0M1149.8 458.2h0M1134.7 515.3h0M1147.8 433.7h0M1136.6 610.1h0M1149.1 421.7h0M1146.5 534.5h0M1140.8 564.7h0M1156.6 399.2h0M1144.9 450.6h0M1143.4 431.3h0M1142.7 561.5h0M1156.5 406.4h0M1144.6 565.2h0M1143 501.6h0M1137.2 598.5h0M1170.5 324.7h0M1150 441.1h0M1137.9 396h0M1140.8 569.2h0M1139.1 590.6h0" stroke="#000" stroke-width="2.8" stroke-linecap="round" fill="none"/><path d="M1141.6 551.4h0M1157.6 385.5h0M1150 490.1h0M1164.1 376.6h0M1140.3 602.9h0M1141.6 636.1h0M1154.6 436.8h0M1166 375.9h0M1144.7 529.1h0M1149.5 525.4h0M1136.6 583.4h0M1166.4 372.5h0M1129.9 501h0M1152.5 419.6h0M1150.3 481.8h0M1171.9 349.6h0M1142.5 635h0M1138.8 562.4h0M1150.5 430.4h0M1146.7 471.1h0M1170.6 325h0M1151.6 483h0M1173.7 334.3h0M1170.9 331.5h0M1152.7 361.2h0M1173 346.5h0M1169.8 352.8h0M1137 625.2h0M1153 458.1h0M1156.2 453.4h0M1153.9 432h0M1147.5 482.6h0M1139.5 520.4h0M1140.9 618.9h0M1148.6 520.5h0M1141.2 596.6h0M1138.9 393.4h0M1147.9 390.7h0M1150.9 483.6h0M1151.6 428.8h0M1162.3 380.4h0M1143.4 535.7h0M1153.2 460.7h0M1165.7 325h0M1142.7 581.3h0M1166.5 319.6h0M1145.1 567.5h0M1143.7 548.8h0M1169.1 370.9h0M1151.7 449.3h0M1152.2 485.2h0M1146.9 545h0M1159.9 385.3h0M1158.6 352.4h0M1140.3 576.8h0M1149.8 476.2h0M1140 631.8h0M1143.2 581.5h0M1149.9 479.8h0M1147.5 464.9h0M1163.5 358.1h0M1150.3 507.3h0M1143 510.5h0M1147.8 515.2h0M1171.4 360h0M1155.2 429.6h0M1127.6 580.6h0M1144.1 622.2h0M1136.3 558h0M1137.6 590.1h0M1129 464.6h0M1142 592.8h0M1114.4 609.7h0M1139.1 600h0M1151.3 486.8h0M1150.6 496.2h0M1106.6 589.9h0M1151.5 488.2h0M1148.2 415.5h0M1142.3 502.5h0M1133.9 611.7h0M1130 599.7h0M1140.6 605.2h0M1157.8 395h0M1169.1 363.2h0M1143.6 425.5h0M1141.4 632.4h0M1149.6 527.7h0M1151.2 518h0M1143.7 388.4h0M1142.6 436h0M1134.2 608h0M1136.4 626.4h0M1156.7 380.7h0M1166.9 350.2h0M1149.4 506.8h0M1134 577.3h0M1138.8 597.1h0M1148.9 463.5h0M1167.1 347.4h0M1155 387h0M1158 397.4h0M1143.7 601.8h0M1149.9 442h0M1147.7 496.9h0M1161.6 385.4h0M1150.6 498.8h0M1151.6 441.2h0M1172.8 339.1h0M1142.5 438.4h0M1141.5 578h0M1149.4 531.6h0M1135.9 544.7h0M1134.9 606.5h0M1149.8 455.9h0M1171.9 341.2h0M1165.9 356h0M1138.7 625.3h0M1166.2 363.2h0M1143.2 602.5h0M1140.7 582h0M1159.2 343.5h0M1169.3 322.3h0M1141.6 633h0M1151.4 428.4h0M1146.1 447.1h0M1148.6 418.2h0M1158.9 334h0M1149.3 534.7h0M1140.8 532.7h0M1155.2 394.4h0M1147.9 522.7h0M1130.3 617.7h0M1156.8 330.1h0M1151.4 471.2h0M1140.8 596.8h0M1169.3 321.7h0M1140.2 601.4h0M1152.1 406.9h0M1116.5 616.2h0M1113.2 427.5h0M1105.3 464.5h0M1106.5 462.7h0M1115.7 556.6h0M1115.8 607h0M1121.7 386.6h0M1106.9 487.5h0M1106.3 472.2h0M1114.8 624.1h0M1109.9 532.1h0M1115.1 614.3h0M1105.4 477.8h0M1107.6 467.5h0M1117.2 639.3h0M1120.6 380.4h0M1120.2 660.5h0M1108.3 458.6h0M1103.4 517h0M1117.4 645.4h0M1115.2 591.8h0M1110.6 435.3h0M1121.8 391.3h0M1108.3 515.8h0M1112.9 435.2h0M1109.4 533.6h0M1108 455.5h0M1110.2 547.5h0M1116.5 634.5h0M1107.1 471.1h0M1120.1 401.4h0M1116.2 377.4h0M1111.5 440.8h0M1117.6 403.4h0M1114.4 567.3h0M1114.3 548.6h0M1112.9 435.3h0M1118.5 643.7h0M1112.5 434h0M1121.5 397.4h0M1107.6 497.1h0M1105.3 489h0M1120.5 662h0M1119.2 642.8h0M1110.2 440.2h0M1115.2 614.8h0M1106.9 483h0M1108.6 510.7h0M1110.4 536.7h0M1115.7 602.9h0M1110.2 435.9h0M1110.6 532.8h0M1109 446.9h0M1110.3 528.7h0M1113.8 565.3h0M1118.4 635.7h0M1106.6 469.1h0M1113.1 553.1h0M1111.3 536.4h0M1112.6 547.2h0M1119.6 379.7h0M1109.3 451.9h0M1121 673.5h0M1108.3 444.2h0M1118.8 378.4h0M1106 481.5h0M1117.8 640.5h0M1110.3 530h0M1105.4 475.8h0M1107.6 483.6h0M1122 653h0M1113 583.3h0M1115.1 585.8h0M1111.4 441.4h0M1107.5 456.8h0M1106.1 487.4h0M1109.6 431h0M1110.3 534.2h0M1116.3 570.7h0M1105.3 457.1h0M1122 653.2h0M1120 382h0M1117.3 622.8h0M1118.6 640.6h0M1114.8 550h0M1114 549h0M1112.2 583.4h0M1121.2 397.8h0M1114.4 577.9h0M1118 408.5h0M1113.6 560.5h0M1117.2 640.6h0M1106.7 480.2h0M1109.6 449.1h0M1114.8 590.6h0M1119.3 386.2h0M1114.4 556.6h0M1115 561.6h0M1117.6 639.6h0M1110.3 437.2h0M1117 414.2h0M1115.6 589.9h0M1115.7 421h0M1118.7 379.2h0M1114.2 430.3h0M1114.8 564h0M1109.3 443.3h0M1110.3 439.5h0M1113.3 544.8h0M1116 609.7h0M1112.5 561.6h0M1105.9 481h0M1120.7 397.6h0M1106.9 521.9h0M1114.8 621.8h0M1107.5 490.3h0M1112.8 541.4h0M1122.7 397.5h0M1107 499.9h0M1112.5 542.1h0M1120.3 398.9h0M1117.3 414.2h0M1113.8 429.8h0M1120.3 399.7h0M1113.6 416.4h0M1118.4 390.4h0M1109.2 446.1h0M1114.8 579.2h0M1110.1 551h0M1116.4 406.7h0M1107 489.6h0M1104.9 487h0M1112.9 434.3h0M1106.5 457h0M1114.2 566.5h0M1108 456.8h0M1111.7 602.6h0M1121.4 656.9h0M1115.6 417.9h0M1106.7 482.6h0M1111.6 588.3h0M1117.7 381.9h0M1108.9 527.9h0M1116.9 633h0M1063.1 372.2h0M1055.2 368.5h0M1053.9 365.9h0M1073.4 370.3h0M1070.9 371.8h0M1061 372.9h0M1089.9 371.6h0M1073.3 367.3h0M1077.6 374.1h0M1067.8 381.1h0M1059 368.9h0M1065.4 371.9h0M1091.9 368.1h0M1099.7 366.3h0M1054 363.4h0M1056.5 368h0M1050.1 365.4h0M1077.5 370.8h0M1091.4 368.5h0M1076 371.4h0M1074.2 372h0M1049.6 361.8h0M1055.8 368.2h0M1082.7 369.1h0M1054.2 365.5h0M1065.9 369.2h0M1068.9 370.7h0M1083 373.7h0M1067.3 374.2h0M1065.1 365.8h0M1062.9 370.6h0M1061.2 369.1h0M1053.3 369.2h0M1064.5 371.6h0M1091.6 362.8h0M1065.7 368.7h0M1083.4 371.5h0M1096 367.7h0M1061.4 370.7h0M1049.7 359.7h0M1094.7 366.5h0M1097.8 365.9h0M1095.4 369.8h0M1079.1 300.5h0M1088.8 306h0M1088.4 305.2h0M1075.6 297.9h0M1078.3 305h0M1084.9 302.2h0M1090.7 302.4h0M1078.2 298h0M1072.6 303.7h0M1077.1 300.5h0M1086.7 303.7h0M1086.6 304.1h0" stroke="#000" stroke-width="1.6" stroke-linecap="round" fill="none"/><path d="M1134.3 613.3h0M1171.3 344.5h0M1114.3 449.4h0M1172.8 325.2h0M1140.6 617.8h0M1153 462h0M1148.4 533.2h0M1142.4 421.9h0M1140.6 605.9h0M1140.1 433h0M1153.5 399.2h0M1168.7 332.3h0M1152.6 500.9h0M1129.2 598.5h0M1153.4 461.6h0M1169.3 364.5h0M1154.8 400.3h0M1135.5 602.9h0M1154.3 470.4h0M1112.3 596.5h0M1170.5 333.3h0M1138.4 609.8h0M1148.9 501.2h0M1144.3 564h0M1153.7 402.9h0M1167.7 367.4h0M1129.9 602.7h0M1140.7 636.2h0M1162.8 327.8h0M1145.7 567.5h0M1170 350.5h0M1152.3 409.8h0M1150.1 494.7h0M1169.3 339.7h0M1143.1 570.8h0M1126.6 586.2h0M1150.9 508.6h0M1164.3 356.3h0M1160.1 338.5h0M1153.7 455.3h0M1131.1 621h0M1149.8 438.7h0M1155.2 330.7h0M1142.2 566.3h0M1159.7 393.3h0M1148.3 470.8h0M1146.9 446h0M1132.7 538.1h0M1151.3 469.9h0M1155.2 425.1h0M1140.1 549.4h0M1149.6 432.4h0M1135.2 615.1h0M1142.9 626.4h0M1162.3 317.4h0M1169 363.3h0M1161.5 380.8h0M1143.3 553.3h0M1149.2 526.8h0M1152.8 423.2h0M1149.7 496.4h0M1146.2 415.8h0M1145.7 426.1h0M1140.6 562.6h0M1150.2 447.5h0M1154.1 416.4h0M1146 362.2h0M1141.8 611.9h0M1129.5 618.9h0M1143.4 570.7h0M1147.1 525h0M1155.3 408.9h0M1156.2 381.6h0M1153.4 418.3h0M1152.3 412.1h0M1141.5 513.4h0M1144 475.9h0M1138.6 596h0M1139.8 575.7h0M1166.5 316h0M1163.4 361.7h0M1142.6 629.9h0M1158.1 396.2h0M1151.2 518h0M1130.4 620.2h0M1116.8 401.4h0M1150.4 445.7h0M1147.7 518.5h0M1147 532.5h0M1148.8 505.9h0M1162.1 310.6h0M1131.1 581.5h0M1154.6 438.2h0M1144.3 472.8h0M1141.7 611.8h0M1126.5 571.9h0M1147.6 492.3h0M1139.3 552.6h0M1171.1 349.1h0M1142 444h0M1172.1 333.1h0M1159.7 387.2h0M1142.5 583h0M1147.7 519.4h0M1169.3 328.2h0M1153.4 317.6h0M1144.5 632.8h0M1140.4 594h0M1159.1 396.3h0M1143.8 579.5h0M1164.5 319.5h0M1156.1 390.3h0M1153.6 418.8h0M1147.3 487.1h0M1138.1 618.8h0M1145.8 547h0M1150.7 484.8h0M1163.7 323.2h0M1141 619.2h0M1154.4 418.7h0M1145.4 632.2h0M1134.9 543.7h0M1141.5 621.3h0M1128.2 582.2h0M1140.4 619.4h0M1160.8 377.1h0M1149.4 435.1h0M1172.1 355.3h0M1149.5 516.6h0M1138 613.8h0M1155.5 404.9h0M1134.3 604h0M1142.6 506.6h0M1147.2 357.2h0M1148.2 447.7h0M1144.9 563.5h0M1150.8 512.7h0M1145 453.8h0M1154.8 389.1h0M1141.3 494.4h0M1141.7 410.4h0M1154.6 431.5h0M1158.2 395.2h0M1140.4 559.8h0M1136.7 589.1h0M1143.2 536.6h0M1141 594.4h0M1143.3 455.3h0M1140.6 438.9h0M1163.1 372.2h0M1140.1 502.3h0M1161.6 383.4h0M1151.5 492.4h0M1147.4 421.2h0M1154.9 384.6h0M1163.3 357.8h0M1163.8 377.5h0M1148.9 521.4h0M1154 441.4h0M1143.5 535h0M1170.4 334.8h0M1142.4 497.6h0M1143.3 619.7h0M1143.2 424.4h0M1141.5 576.1h0M1142.3 569.2h0" stroke="#000" stroke-width="2.4" stroke-linecap="round" fill="none"/><path d="M1110.3 538.3h0M1115.4 592.2h0M1120.8 649.2h0M1118 377.3h0M1108.8 523.2h0M1114.3 591.3h0M1111.7 544h0M1115.1 564.1h0M1107.4 461.6h0M1108.1 503.1h0M1113.8 597.3h0M1107.2 489.7h0M1115.4 594.2h0M1119.2 408h0M1113.6 430.6h0M1107.5 484.9h0M1120.6 394.9h0M1121.6 397.3h0M1106.6 470h0M1113 431h0M1115.5 598.6h0M1114.6 549.7h0M1115.3 601.5h0M1112.3 539.6h0M1109.2 538.6h0M1107.2 497.1h0M1113.7 569.4h0M1116 592.9h0M1115.9 376.1h0M1122.4 661.7h0M1117.4 413.7h0M1106.4 489.8h0M1106.7 486h0M1107 451.8h0M1105 482.4h0M1116.4 597.2h0M1115.7 575.6h0M1118.9 644.7h0M1116.5 611.2h0M1116.8 622.2h0M1115.1 561.3h0M1116.1 636.7h0M1125.4 673.7h0M1106.9 488.3h0M1115.6 418.2h0M1114.6 575.9h0M1112.4 543.6h0M1108.5 463.2h0M1112.9 602.3h0M1122 387.8h0M1107.3 459.5h0M1108 495.2h0M1120.3 392.8h0M1107.3 475.5h0M1113.4 430h0M1114.3 553.9h0M1113 568.1h0M1111.3 537.2h0M1118.5 639.1h0M1107.1 461.3h0M1118.6 397.7h0M1122.1 387.8h0M1120.1 402.3h0M1110.6 533h0M1116.9 629.2h0M1115.2 604.1h0M1123.1 665.5h0M1113.2 555h0M1116.5 403.6h0M1112.4 542.2h0M1119.8 403.2h0M1107.7 500.8h0M1121.9 387.8h0M1115.2 577h0M1109.2 447.8h0M1106.9 494.1h0M1107 502.7h0M1105.7 465.6h0M1114.4 553.9h0M1114.2 582.2h0M1115 582.1h0M1108.8 513.9h0M1048.9 362.3h0M1046.6 359.8h0M1050.5 362.2h0M1084.6 368.3h0M1050.7 363.6h0M1080 369.2h0M1070 374.6h0M1071.3 372.7h0M1069 372.7h0M1055.3 366.1h0M1083.3 371.5h0M1082.4 368h0M1071.7 377.9h0M1061.7 372.5h0M1078.7 376.6h0M1060.7 369.6h0M1078.9 372.7h0M1047.6 360.4h0M1054.4 352.6h0M1046.4 359.5h0M1056.4 372h0M1088.5 367.7h0M1075.8 374.1h0M1073 372.7h0M1083.9 301.2h0M1088.2 304h0M1079.4 303h0M1070.4 300.4h0M1082.5 305h0M1086.7 305.8h0M1075.5 300h0M1089.2 304.1h0M1086.7 301.6h0" stroke="#000" stroke-width="1.2" stroke-linecap="round" fill="none"/></g><g transform="translate(1140 660.4) rotate(12)"><ellipse rx="12.4" ry="19.5" fill="#ec008c" stroke="#000" stroke-width="2.8"/><ellipse cx="0.8" cy="0.5" rx="6.2" ry="12" fill="#000"/><ellipse cx="-0.8" cy="3.5" rx="2" ry="4.5" fill="#ec008c"/></g><path d="M1130 681L1121 692L1127 690Z" fill="#000"/><path d="M1157 670.4h0M1148.4 683.2h0M1144.1 639.1h0M1149.5 641.3h0M1153.8 650.1h0M1143.9 638.5h0M1148.4 677.7h0M1156.1 669.3h0M1146.2 640.1h0M1156 669.3h0" stroke="#000" stroke-width="1.2" stroke-linecap="round" fill="none"/><path d="M1143.3 641.1h0M1155.8 650.2h0M1148.3 680.1h0M1157.5 659.5h0M1157.8 656.4h0" stroke="#000" stroke-width="2.4" stroke-linecap="round" fill="none"/><path d="M1150.5 677.1h0M1153.1 650.7h0M1154.1 649.7h0M1156.4 655.6h0M1155.2 645.6h0M1155.1 648.3h0M1147 639.2h0M1151.3 642.8h0M1142.7 638.7h0M1150.6 677.2h0M1147.5 679h0M1154 650.1h0M1155.8 647.3h0M1152.4 644.5h0M1148.5 679.7h0M1152.5 674.3h0M1157.3 661.8h0M1147.2 679.3h0M1142.8 637.2h0M1145.5 637.4h0M1155.6 656.2h0" stroke="#000" stroke-width="2" stroke-linecap="round" fill="none"/><path d="M1142.9 640.6h0M1152.1 642h0M1156.3 651.7h0M1152.7 677.3h0M1147.6 680.6h0M1153.9 644.1h0M1151.9 645.9h0M1148.3 642.9h0M1150.7 681.5h0M1157.4 660.4h0M1157.4 662.8h0M1150.9 640.1h0M1157.8 666.3h0M1156.9 660.6h0M1147.1 679.9h0M1153.6 648.9h0M1154 651h0M1156.9 669.6h0M1157.6 655h0M1146.6 638.8h0M1150.5 677.7h0M1156.1 670.9h0M1145.3 639.8h0M1152.3 645.1h0" stroke="#000" stroke-width="1.6" stroke-linecap="round" fill="none"/>
<line x1="376.5" y1="246" x2="806" y2="265" stroke="#fff" stroke-width="5.6"/><line x1="376.5" y1="246" x2="789" y2="291.5" stroke="#fff" stroke-width="5.6"/><line x1="401.7" y1="380.7" x2="795" y2="304" stroke="#fff" stroke-width="5.6"/><line x1="401.7" y1="380.7" x2="820" y2="330.5" stroke="#fff" stroke-width="5.6"/><line x1="456" y1="713.6" x2="1124" y2="478.6" stroke="#fff" stroke-width="5.6"/><line x1="376.5" y1="246" x2="806" y2="265" stroke="#000" stroke-width="2.1"/><line x1="376.5" y1="246" x2="789" y2="291.5" stroke="#000" stroke-width="2.1"/><line x1="401.7" y1="380.7" x2="795" y2="304" stroke="#000" stroke-width="2.1"/><line x1="401.7" y1="380.7" x2="820" y2="330.5" stroke="#000" stroke-width="2.1"/><line x1="456" y1="713.6" x2="1124" y2="478.6" stroke="#000" stroke-width="2.1"/><line x1="407" y1="132" x2="750" y2="212" stroke="#000" stroke-width="2"/><line x1="370.5" y1="526.5" x2="1036" y2="348.5" stroke="#000" stroke-width="2"/><line x1="364.5" y1="626.4" x2="1149.5" y2="360.5" stroke="#000" stroke-width="2"/><line x1="475.6" y1="813" x2="1130" y2="663.5" stroke="#000" stroke-width="2"/><line x1="564" y1="967" x2="1140" y2="720.7" stroke="#000" stroke-width="2"/><line x1="1064.2" y1="77.7" x2="1089.4" y2="362.7" stroke="#000" stroke-width="2"/><line x1="1064.2" y1="77.7" x2="1096.6" y2="303.3" stroke="#000" stroke-width="2"/><line x1="946" y1="371.6" x2="1036" y2="347.6" stroke="#000" stroke-width="4.2"/><line x1="950" y1="370.6" x2="1022" y2="351.4" stroke="#fff" stroke-width="1.3" stroke-dasharray="2.2 1.8"/>
<g font-family="'Liberation Sans',sans-serif" font-size="40" fill="#000"><text transform="translate(74.8 96.8) scale(1.1192 1)">Main tear</text><text transform="translate(77.1 144.9) scale(1.1170 1)">(lacrimal) gland</text><text transform="translate(67.7 257) scale(1.0852 1)">Tear excretory</text><text transform="translate(67.7 306.6) scale(1.1461 1)">ducts</text><text transform="translate(173.4 391) scale(1.0477 1)">Accessory</text><text transform="translate(173.1 438.4) scale(1.0966 1)">tear glands</text><text transform="translate(176.3 543.6) scale(1.1546 1)">Punctum</text><text transform="translate(173.8 646.5) scale(1.0315 1)">Tear sac</text><text transform="translate(58.9 730.8) scale(1.1135 1)">Nasolacrimal duct</text><text transform="translate(155.6 834.3) scale(1.1356 1)">Opening of the</text><text transform="translate(156.2 882.4) scale(1.1175 1)">nasolacrimal duct</text><text transform="translate(943.5 65.3) scale(1.1084 1)">Canaliculi</text><text transform="translate(305.6 978.3) scale(1.0706 1)">Nasal cavity</text></g>
</g>
</svg></body></html>
